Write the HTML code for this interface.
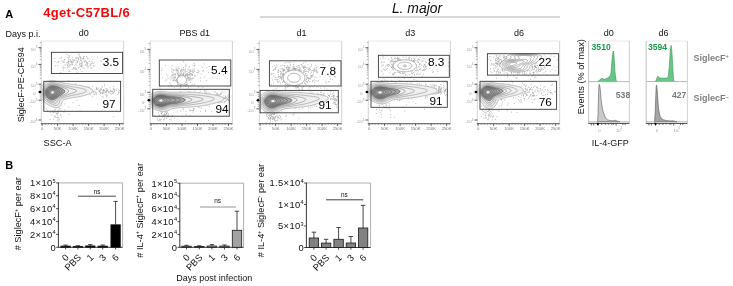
<!DOCTYPE html>
<html><head><meta charset="utf-8"><style>
html,body{margin:0;padding:0;background:#fff;width:733px;height:286px;overflow:hidden}
svg{display:block;will-change:transform}
text{font-family:"Liberation Sans",sans-serif}
</style></head><body>
<svg width="733" height="286" viewBox="0 0 733 286">
<text x="5.3" y="17.6" font-size="11" text-anchor="start" font-weight="bold" font-style="normal" fill="#000" >A</text>
<text x="43.3" y="16.6" font-size="13" text-anchor="start" font-weight="bold" font-style="normal" fill="#f50a0a" letter-spacing="0.3">4get-C57BL/6</text>
<text x="391.9" y="13.2" font-size="13.9" text-anchor="start" font-weight="normal" font-style="italic" fill="#111" >L. major</text>
<line x1="260" y1="17" x2="560" y2="17" stroke="#b0b0b0" stroke-width="1" />
<text x="5.5" y="36.5" font-size="9" text-anchor="start" font-weight="normal" font-style="normal" fill="#111" >Days p.i.</text>
<text x="83.7" y="36.3" font-size="9" text-anchor="middle" font-weight="normal" font-style="normal" fill="#111" >d0</text>
<text x="194.7" y="36.3" font-size="9" text-anchor="middle" font-weight="normal" font-style="normal" fill="#111" >PBS d1</text>
<text x="301.5" y="36.3" font-size="9" text-anchor="middle" font-weight="normal" font-style="normal" fill="#111" >d1</text>
<text x="410.3" y="36.3" font-size="9" text-anchor="middle" font-weight="normal" font-style="normal" fill="#111" >d3</text>
<text x="519.1" y="36.3" font-size="9" text-anchor="middle" font-weight="normal" font-style="normal" fill="#111" >d6</text>
<text x="608.8" y="36.3" font-size="9" text-anchor="middle" font-weight="normal" font-style="normal" fill="#111" >d0</text>
<text x="663.5" y="36.3" font-size="9" text-anchor="middle" font-weight="normal" font-style="normal" fill="#111" >d6</text>
<line x1="41.3" y1="41" x2="123.7" y2="41" stroke="#e4e4e4" stroke-width="0.9" />
<line x1="123.7" y1="41" x2="123.7" y2="123.7" stroke="#cccccc" stroke-width="0.9" />
<path d="M41.30,87.40 L41.51,87.00 L41.66,86.75 L41.81,86.50 L42.05,86.14 L42.30,85.78 L42.51,85.50 L42.71,85.25 L42.92,85.00 L43.14,84.75 L43.38,84.50 L43.62,84.25 L43.89,84.00 L44.16,83.75 L44.46,83.50 L44.77,83.25 L45.05,83.04 L45.30,82.86 L45.55,82.69 L45.86,82.50 L46.29,82.25 L46.55,82.11 L46.80,81.98 L47.30,81.75 L47.80,81.54 L48.05,81.45 L48.55,81.28 L48.80,81.21 L49.30,81.08 L49.69,81.00 L50.05,80.93 L50.55,80.86 L51.05,80.81 L51.55,80.78 L52.05,80.76 L52.55,80.77 L53.05,80.79 L53.55,80.83 L54.05,80.89 L54.55,80.97 L54.80,81.01 L55.30,81.10 L55.80,81.20 L56.05,81.26 L56.55,81.37 L57.05,81.49 L57.30,81.55 L57.80,81.67 L58.09,81.75 L58.55,81.86 L59.05,81.99 L59.30,82.05 L59.80,82.17 L60.11,82.25 L60.55,82.35 L61.05,82.47 L61.30,82.52 L61.80,82.63 L62.30,82.74 L62.55,82.79 L63.05,82.89 L63.55,83.00 L63.80,83.05 L64.30,83.14 L64.80,83.24 L65.05,83.29 L65.55,83.38 L66.05,83.48 L66.30,83.52 L66.80,83.61 L67.30,83.70 L67.59,83.75 L68.05,83.82 L68.55,83.90 L69.05,83.97 L69.30,84.01 L69.80,84.08 L70.30,84.14 L70.80,84.20 L71.16,84.25 L71.55,84.29 L72.05,84.35 L72.55,84.40 L73.05,84.46 L73.39,84.50 L73.80,84.54 L74.30,84.60 L74.80,84.66 L75.30,84.72 L75.56,84.75 L76.05,84.81 L76.55,84.87 L77.05,84.94 L77.42,85.00 L77.80,85.05 L78.30,85.13 L78.80,85.21 L79.05,85.26 L79.55,85.34 L80.05,85.43 L80.41,85.50 L80.80,85.57 L81.30,85.67 L81.67,85.75 L82.05,85.83 L82.55,85.93 L82.84,86.00 L83.30,86.10 L83.80,86.22 L84.05,86.28 L84.55,86.40 L84.96,86.50 L85.30,86.58 L85.80,86.71 L86.05,86.78 L86.55,86.92 L86.83,87.00 L87.30,87.14 L87.67,87.25 L88.05,87.37 L88.43,87.50 L88.80,87.63 L89.12,87.75 L89.55,87.92 L89.80,88.02 L90.30,88.25 L90.55,88.37 L90.80,88.50 L91.23,88.75 L91.55,88.96 L91.80,89.15 L92.05,89.36 L92.30,89.61 L92.55,89.94 L92.72,90.25 L92.80,90.50 L92.84,91.00 L92.79,91.25 L92.55,91.75 L92.37,92.00 L92.14,92.25 L91.87,92.50 L91.55,92.74 L91.30,92.91 L91.05,93.07 L90.74,93.25 L90.30,93.48 L90.05,93.60 L89.72,93.75 L89.30,93.93 L89.05,94.03 L88.55,94.22 L88.30,94.31 L87.80,94.49 L87.55,94.57 L87.05,94.74 L86.80,94.82 L86.30,94.97 L86.05,95.04 L85.55,95.19 L85.30,95.26 L84.80,95.40 L84.43,95.50 L84.05,95.60 L83.55,95.73 L83.30,95.80 L82.80,95.92 L82.47,96.00 L82.05,96.10 L81.55,96.21 L81.30,96.27 L80.80,96.38 L80.30,96.48 L80.05,96.53 L79.55,96.63 L79.05,96.72 L78.80,96.77 L78.30,96.85 L77.80,96.94 L77.39,97.00 L77.05,97.05 L76.55,97.13 L76.05,97.20 L75.69,97.25 L75.30,97.31 L74.80,97.37 L74.30,97.44 L73.85,97.50 L73.55,97.54 L73.05,97.61 L72.55,97.68 L72.09,97.75 L71.80,97.80 L71.30,97.88 L70.80,97.96 L70.55,98.01 L70.05,98.10 L69.55,98.20 L69.30,98.25 L68.80,98.37 L68.30,98.48 L68.05,98.54 L67.55,98.67 L67.24,98.75 L66.80,98.87 L66.34,99.00 L66.05,99.09 L65.55,99.24 L65.30,99.33 L64.82,99.50 L64.55,99.61 L64.21,99.75 L63.80,99.95 L63.55,100.09 L63.29,100.25 L62.96,100.50 L62.69,100.75 L62.48,101.00 L62.30,101.25 L62.06,101.75 L61.97,102.00 L61.83,102.50 L61.77,102.75 L61.67,103.25 L61.55,103.75 L61.49,104.00 L61.32,104.50 L61.22,104.75 L61.05,105.09 L60.81,105.50 L60.63,105.75 L60.42,106.00 L60.18,106.25 L59.89,106.50 L59.55,106.75 L59.30,106.90 L59.05,107.04 L58.56,107.25 L58.30,107.34 L57.80,107.48 L57.55,107.53 L57.05,107.60 L56.55,107.63 L56.05,107.63 L55.55,107.59 L55.05,107.52 L54.80,107.47 L54.30,107.36 L53.92,107.25 L53.55,107.14 L53.17,107.00 L52.80,106.86 L52.54,106.75 L52.05,106.54 L51.80,106.42 L51.44,106.25 L51.05,106.06 L50.80,105.94 L50.43,105.75 L50.05,105.56 L49.80,105.44 L49.43,105.25 L49.05,105.06 L48.80,104.93 L48.44,104.75 L48.05,104.55 L47.80,104.42 L47.50,104.25 L47.06,104.00 L46.80,103.85 L46.55,103.69 L46.25,103.50 L45.88,103.25 L45.55,103.01 L45.30,102.83 L45.05,102.63 L44.80,102.42 L44.55,102.20 L44.30,101.96 L44.05,101.72 L43.80,101.46 L43.55,101.19 L43.30,100.90 L43.05,100.59 L42.80,100.26 L42.61,100.00 L42.44,99.75 L42.28,99.50 L42.05,99.13 L41.83,98.75 L41.69,98.50 L41.55,98.22 L41.32,97.75Z" fill="#000" fill-opacity="0.06" stroke="none"/><path d="M53.30,100.01 L52.80,100.06 L52.30,100.07 L51.80,100.03 L51.55,100.00 L51.05,99.91 L50.55,99.79 L50.30,99.72 L49.80,99.54 L49.55,99.44 L49.15,99.25 L48.80,99.07 L48.55,98.92 L48.29,98.75 L47.95,98.50 L47.64,98.25 L47.36,98.00 L47.11,97.75 L46.88,97.50 L46.67,97.25 L46.47,97.00 L46.14,96.50 L45.99,96.25 L45.80,95.89 L45.62,95.50 L45.52,95.25 L45.35,94.75 L45.27,94.50 L45.16,94.00 L45.08,93.50 L45.05,93.25 L45.02,92.75 L45.03,92.25 L45.05,91.92 L45.10,91.50 L45.20,91.00 L45.30,90.61 L45.42,90.25 L45.55,89.91 L45.73,89.50 L45.86,89.25 L46.05,88.93 L46.30,88.55 L46.53,88.25 L46.73,88.00 L46.96,87.75 L47.22,87.50 L47.50,87.25 L47.80,87.01 L48.05,86.83 L48.30,86.66 L48.57,86.50 L49.04,86.25 L49.30,86.13 L49.63,86.00 L50.05,85.85 L50.42,85.75 L50.80,85.66 L51.30,85.57 L51.80,85.51 L52.05,85.50 L52.55,85.48 L53.05,85.49 L53.30,85.51 L53.80,85.55 L54.30,85.62 L54.80,85.71 L55.05,85.76 L55.55,85.88 L56.03,86.00 L56.30,86.07 L56.80,86.22 L57.05,86.30 L57.55,86.46 L57.80,86.55 L58.30,86.73 L58.55,86.81 L59.05,87.00 L59.30,87.09 L59.70,87.25 L60.05,87.39 L60.33,87.50 L60.80,87.69 L61.05,87.80 L61.50,88.00 L61.80,88.14 L62.05,88.26 L62.54,88.50 L62.80,88.64 L63.05,88.78 L63.43,89.00 L63.80,89.24 L64.05,89.43 L64.30,89.63 L64.55,89.86 L64.80,90.13 L65.05,90.48 L65.18,90.75 L65.27,91.25 L65.18,91.75 L65.05,92.04 L64.80,92.42 L64.55,92.72 L64.30,92.97 L64.05,93.20 L63.80,93.40 L63.55,93.60 L63.30,93.78 L63.00,94.00 L62.62,94.25 L62.30,94.46 L62.05,94.62 L61.80,94.78 L61.45,95.00 L61.05,95.25 L60.80,95.41 L60.55,95.57 L60.27,95.75 L59.89,96.00 L59.55,96.23 L59.30,96.40 L59.05,96.58 L58.80,96.75 L58.46,97.00 L58.12,97.25 L57.80,97.49 L57.55,97.68 L57.30,97.87 L57.05,98.06 L56.80,98.25 L56.46,98.50 L56.12,98.75 L55.80,98.97 L55.55,99.14 L55.30,99.29 L54.91,99.50 L54.55,99.67 L54.30,99.77 L53.80,99.92 L53.39,100.00Z M52.55,93.54 L52.05,93.52 L51.80,93.42 L51.54,93.25 L51.30,92.92 L51.20,92.50 L51.30,92.03 L51.48,91.75 L51.76,91.50 L52.05,91.36 L52.55,91.27 L53.05,91.35 L53.35,91.50 L53.61,91.75 L53.80,92.25 L53.68,92.75 L53.52,93.00 L53.25,93.25 L52.80,93.48 L52.55,93.54Z" fill="#000" fill-opacity="0.3" fill-rule="evenodd" stroke="none"/><path d="M52.30,94.75 L52.05,94.75 L51.55,94.66 L51.15,94.50 L50.80,94.29 L50.55,94.06 L50.30,93.76 L50.16,93.50 L50.05,93.24 L49.95,92.75 L49.95,92.25 L50.05,91.84 L50.19,91.50 L50.34,91.25 L50.55,90.98 L50.80,90.74 L51.15,90.50 L51.55,90.31 L51.80,90.22 L52.30,90.13 L52.80,90.12 L53.30,90.18 L53.58,90.25 L54.05,90.44 L54.30,90.58 L54.80,90.98 L55.01,91.25 L55.14,91.50 L55.27,92.00 L55.24,92.50 L55.06,93.00 L54.91,93.25 L54.73,93.50 L54.51,93.75 L54.23,94.00 L53.88,94.25 L53.55,94.43 L53.30,94.54 L52.80,94.69 L52.34,94.75Z M53.05,95.76 L52.55,95.85 L52.05,95.87 L51.55,95.83 L51.20,95.75 L50.80,95.61 L50.55,95.49 L50.16,95.25 L49.85,95.00 L49.61,94.75 L49.42,94.50 L49.25,94.25 L49.05,93.83 L48.93,93.50 L48.83,93.00 L48.80,92.50 L48.85,92.00 L48.98,91.50 L49.07,91.25 L49.30,90.81 L49.52,90.50 L49.73,90.25 L49.99,90.00 L50.30,89.76 L50.55,89.61 L50.80,89.47 L51.30,89.27 L51.55,89.20 L52.05,89.10 L52.55,89.06 L53.05,89.07 L53.55,89.14 L54.05,89.25 L54.55,89.42 L54.80,89.52 L55.24,89.75 L55.55,89.95 L55.80,90.14 L56.05,90.36 L56.30,90.64 L56.54,91.00 L56.66,91.25 L56.78,91.75 L56.77,92.25 L56.64,92.75 L56.53,93.00 L56.30,93.41 L56.06,93.75 L55.85,94.00 L55.62,94.25 L55.35,94.50 L55.06,94.75 L54.80,94.94 L54.55,95.11 L54.30,95.26 L53.82,95.50 L53.55,95.61 L53.09,95.75Z M52.80,96.76 L52.30,96.82 L51.80,96.82 L51.30,96.76 L51.05,96.70 L50.55,96.55 L50.30,96.44 L49.94,96.25 L49.57,96.00 L49.30,95.78 L49.05,95.54 L48.80,95.25 L48.62,95.00 L48.46,94.75 L48.30,94.45 L48.11,94.00 L48.04,93.75 L47.93,93.25 L47.88,92.75 L47.89,92.25 L47.96,91.75 L48.05,91.38 L48.18,91.00 L48.30,90.74 L48.55,90.29 L48.75,90.00 L48.96,89.75 L49.20,89.50 L49.49,89.25 L49.80,89.02 L50.05,88.87 L50.30,88.73 L50.80,88.51 L51.05,88.43 L51.55,88.30 L51.85,88.25 L52.30,88.20 L52.80,88.19 L53.30,88.22 L53.80,88.29 L54.30,88.39 L54.68,88.50 L55.05,88.62 L55.38,88.75 L55.80,88.94 L56.05,89.07 L56.37,89.25 L56.76,89.50 L57.05,89.72 L57.30,89.94 L57.55,90.19 L57.80,90.50 L57.96,90.75 L58.08,91.00 L58.22,91.50 L58.22,92.00 L58.11,92.50 L58.02,92.75 L57.80,93.17 L57.59,93.50 L57.41,93.75 L57.20,94.00 L56.98,94.25 L56.74,94.50 L56.48,94.75 L56.20,95.00 L55.90,95.25 L55.58,95.50 L55.30,95.70 L55.05,95.86 L54.80,96.01 L54.35,96.25 L54.05,96.39 L53.77,96.50 L53.30,96.65 L52.87,96.75Z M52.30,97.76 L51.80,97.76 L51.55,97.74 L51.05,97.66 L50.55,97.53 L50.30,97.44 L49.85,97.25 L49.55,97.09 L49.30,96.93 L49.04,96.75 L48.74,96.50 L48.48,96.25 L48.25,96.00 L48.05,95.75 L47.80,95.39 L47.58,95.00 L47.46,94.75 L47.30,94.36 L47.19,94.00 L47.07,93.50 L47.03,93.25 L47.00,92.75 L47.00,92.25 L47.05,91.84 L47.11,91.50 L47.25,91.00 L47.34,90.75 L47.55,90.28 L47.70,90.00 L47.86,89.75 L48.05,89.49 L48.30,89.19 L48.55,88.93 L48.80,88.70 L49.05,88.50 L49.42,88.25 L49.80,88.03 L50.05,87.91 L50.43,87.75 L50.80,87.62 L51.29,87.50 L51.55,87.45 L52.05,87.39 L52.55,87.36 L53.05,87.37 L53.55,87.41 L54.05,87.48 L54.30,87.53 L54.80,87.65 L55.17,87.75 L55.55,87.87 L55.91,88.00 L56.30,88.16 L56.55,88.26 L57.05,88.50 L57.30,88.63 L57.55,88.77 L57.93,89.00 L58.30,89.25 L58.63,89.50 L58.92,89.75 L59.17,90.00 L59.39,90.25 L59.56,90.50 L59.80,90.99 L59.87,91.25 L59.89,91.75 L59.80,92.21 L59.69,92.50 L59.55,92.78 L59.30,93.18 L59.06,93.50 L58.86,93.75 L58.63,94.00 L58.39,94.25 L58.14,94.50 L57.88,94.75 L57.60,95.00 L57.32,95.25 L57.05,95.47 L56.80,95.68 L56.55,95.87 L56.30,96.06 L56.04,96.25 L55.67,96.50 L55.30,96.74 L55.05,96.88 L54.80,97.02 L54.32,97.25 L54.05,97.37 L53.66,97.50 L53.30,97.61 L52.80,97.71 L52.37,97.75Z M53.55,98.56 L53.05,98.67 L52.55,98.73 L52.05,98.75 L51.55,98.72 L51.05,98.65 L50.55,98.53 L50.30,98.45 L49.80,98.26 L49.55,98.15 L49.27,98.00 L48.86,97.75 L48.55,97.53 L48.30,97.33 L48.05,97.11 L47.80,96.86 L47.55,96.57 L47.30,96.25 L47.13,96.00 L46.97,95.75 L46.80,95.44 L46.60,95.00 L46.50,94.75 L46.34,94.25 L46.27,94.00 L46.18,93.50 L46.12,93.00 L46.11,92.50 L46.14,92.00 L46.21,91.50 L46.30,91.10 L46.40,90.75 L46.55,90.34 L46.70,90.00 L46.83,89.75 L47.05,89.38 L47.30,89.02 L47.52,88.75 L47.74,88.50 L48.00,88.25 L48.28,88.00 L48.55,87.79 L48.80,87.62 L49.05,87.46 L49.43,87.25 L49.80,87.08 L50.05,86.98 L50.55,86.81 L50.80,86.74 L51.30,86.63 L51.80,86.56 L52.30,86.53 L52.80,86.52 L53.30,86.55 L53.80,86.60 L54.30,86.67 L54.69,86.75 L55.05,86.83 L55.55,86.96 L55.80,87.04 L56.30,87.20 L56.55,87.28 L57.05,87.47 L57.30,87.57 L57.73,87.75 L58.05,87.89 L58.30,88.01 L58.80,88.25 L59.05,88.38 L59.30,88.52 L59.71,88.75 L60.05,88.96 L60.30,89.13 L60.55,89.30 L60.81,89.50 L61.10,89.75 L61.34,90.00 L61.55,90.25 L61.80,90.66 L61.93,91.00 L61.98,91.50 L61.89,92.00 L61.79,92.25 L61.55,92.66 L61.30,93.00 L61.09,93.25 L60.85,93.50 L60.60,93.75 L60.32,94.00 L60.05,94.24 L59.80,94.45 L59.55,94.66 L59.30,94.87 L59.05,95.07 L58.80,95.27 L58.51,95.50 L58.20,95.75 L57.87,96.00 L57.55,96.25 L57.30,96.44 L57.05,96.63 L56.80,96.81 L56.54,97.00 L56.18,97.25 L55.80,97.50 L55.39,97.75 L55.05,97.95 L54.80,98.08 L54.42,98.25 L54.05,98.40 L53.75,98.50Z M53.05,99.79 L52.55,99.82 L52.05,99.81 L51.55,99.77 L51.30,99.73 L50.80,99.63 L50.34,99.50 L50.05,99.41 L49.65,99.25 L49.30,99.09 L49.05,98.97 L48.67,98.75 L48.30,98.51 L48.05,98.33 L47.80,98.13 L47.55,97.91 L47.30,97.67 L47.05,97.40 L46.80,97.10 L46.55,96.77 L46.37,96.50 L46.22,96.25 L46.05,95.95 L45.83,95.50 L45.73,95.25 L45.55,94.75 L45.47,94.50 L45.35,94.00 L45.30,93.70 L45.24,93.25 L45.21,92.75 L45.22,92.25 L45.26,91.75 L45.30,91.49 L45.40,91.00 L45.54,90.50 L45.62,90.25 L45.80,89.82 L45.95,89.50 L46.08,89.25 L46.30,88.90 L46.55,88.54 L46.77,88.25 L46.99,88.00 L47.23,87.75 L47.50,87.50 L47.80,87.25 L48.05,87.06 L48.30,86.89 L48.55,86.73 L48.97,86.50 L49.30,86.34 L49.55,86.23 L50.05,86.05 L50.30,85.98 L50.80,85.85 L51.30,85.76 L51.55,85.73 L52.05,85.68 L52.55,85.67 L53.05,85.68 L53.55,85.71 L53.88,85.75 L54.30,85.81 L54.80,85.90 L55.27,86.00 L55.55,86.07 L56.05,86.20 L56.30,86.27 L56.80,86.42 L57.05,86.50 L57.55,86.67 L57.80,86.76 L58.30,86.94 L58.55,87.04 L59.05,87.23 L59.30,87.33 L59.72,87.50 L60.05,87.64 L60.32,87.75 L60.80,87.96 L61.05,88.08 L61.41,88.25 L61.80,88.45 L62.05,88.58 L62.36,88.75 L62.78,89.00 L63.05,89.18 L63.30,89.35 L63.55,89.55 L63.80,89.76 L64.05,90.01 L64.30,90.34 L64.52,90.75 L64.59,91.00 L64.60,91.50 L64.54,91.75 L64.31,92.25 L64.13,92.50 L63.93,92.75 L63.69,93.00 L63.42,93.25 L63.12,93.50 L62.80,93.75 L62.55,93.94 L62.30,94.12 L62.05,94.29 L61.75,94.50 L61.37,94.75 L61.05,94.96 L60.80,95.13 L60.55,95.29 L60.24,95.50 L59.87,95.75 L59.55,95.97 L59.30,96.14 L59.05,96.32 L58.80,96.50 L58.45,96.75 L58.11,97.00 L57.80,97.23 L57.55,97.42 L57.30,97.61 L57.05,97.80 L56.77,98.00 L56.43,98.25 L56.08,98.50 L55.80,98.69 L55.55,98.85 L55.30,99.00 L54.84,99.25 L54.55,99.38 L54.25,99.50 L53.80,99.65 L53.30,99.75Z" fill="none" stroke="#404040" stroke-width="0.5"/><path d="M54.55,101.01 L54.05,101.13 L53.55,101.19 L53.05,101.19 L52.55,101.16 L52.05,101.09 L51.56,101.00 L51.30,100.94 L50.80,100.82 L50.55,100.74 L50.05,100.58 L49.80,100.48 L49.30,100.27 L49.05,100.16 L48.75,100.00 L48.31,99.75 L48.05,99.59 L47.80,99.42 L47.55,99.24 L47.25,99.00 L46.97,98.75 L46.70,98.50 L46.46,98.25 L46.24,98.00 L46.04,97.75 L45.80,97.43 L45.55,97.06 L45.36,96.75 L45.22,96.50 L45.05,96.16 L44.87,95.75 L44.77,95.50 L44.60,95.00 L44.52,94.75 L44.40,94.25 L44.31,93.75 L44.28,93.50 L44.23,93.00 L44.22,92.50 L44.24,92.00 L44.30,91.50 L44.34,91.25 L44.44,90.75 L44.55,90.35 L44.66,90.00 L44.80,89.64 L44.97,89.25 L45.10,89.00 L45.30,88.64 L45.55,88.25 L45.72,88.00 L45.92,87.75 L46.13,87.50 L46.35,87.25 L46.60,87.00 L46.87,86.75 L47.18,86.50 L47.51,86.25 L47.80,86.05 L48.05,85.90 L48.31,85.75 L48.80,85.50 L49.05,85.39 L49.42,85.25 L49.80,85.12 L50.24,85.00 L50.55,84.92 L51.05,84.83 L51.55,84.77 L51.81,84.75 L52.30,84.73 L52.80,84.73 L53.25,84.75 L53.55,84.77 L54.05,84.83 L54.55,84.90 L55.05,84.99 L55.30,85.04 L55.80,85.16 L56.17,85.25 L56.55,85.35 L57.05,85.49 L57.30,85.56 L57.80,85.71 L58.05,85.79 L58.55,85.95 L58.80,86.03 L59.30,86.19 L59.55,86.27 L60.05,86.44 L60.30,86.52 L60.80,86.69 L61.05,86.77 L61.55,86.94 L61.80,87.03 L62.30,87.21 L62.55,87.30 L63.05,87.49 L63.30,87.59 L63.72,87.75 L64.05,87.88 L64.33,88.00 L64.80,88.21 L65.05,88.32 L65.44,88.50 L65.80,88.68 L66.05,88.81 L66.42,89.00 L66.80,89.22 L67.05,89.38 L67.30,89.55 L67.58,89.75 L67.88,90.00 L68.12,90.25 L68.43,90.75 L68.49,91.25 L68.31,91.75 L68.14,92.00 L67.92,92.25 L67.66,92.50 L67.36,92.75 L67.05,92.98 L66.80,93.16 L66.55,93.33 L66.28,93.50 L65.87,93.75 L65.55,93.94 L65.30,94.08 L65.00,94.25 L64.55,94.49 L64.30,94.63 L64.05,94.76 L63.59,95.00 L63.30,95.15 L63.05,95.28 L62.61,95.50 L62.30,95.66 L62.05,95.79 L61.66,96.00 L61.30,96.20 L61.05,96.34 L60.77,96.50 L60.35,96.75 L60.05,96.94 L59.80,97.10 L59.55,97.26 L59.21,97.50 L58.87,97.75 L58.55,97.99 L58.30,98.19 L58.05,98.40 L57.80,98.61 L57.55,98.82 L57.30,99.04 L57.05,99.27 L56.79,99.50 L56.51,99.75 L56.23,100.00 L55.92,100.25 L55.58,100.50 L55.30,100.68 L55.05,100.81 L54.59,101.00Z" fill="none" stroke="#555" stroke-width="0.5"/><path d="M55.55,103.05 L55.05,103.12 L54.55,103.11 L54.05,103.05 L53.79,103.00 L53.30,102.89 L52.81,102.75 L52.55,102.67 L52.05,102.52 L51.80,102.44 L51.30,102.26 L51.05,102.18 L50.56,102.00 L50.30,101.90 L49.92,101.75 L49.55,101.60 L49.30,101.48 L48.81,101.25 L48.55,101.12 L48.30,100.98 L47.90,100.75 L47.55,100.53 L47.30,100.36 L47.05,100.17 L46.80,99.98 L46.53,99.75 L46.25,99.50 L46.00,99.25 L45.76,99.00 L45.54,98.75 L45.30,98.46 L45.05,98.13 L44.80,97.76 L44.63,97.50 L44.49,97.25 L44.30,96.90 L44.10,96.50 L43.99,96.25 L43.80,95.77 L43.70,95.50 L43.55,95.00 L43.49,94.75 L43.38,94.25 L43.30,93.76 L43.27,93.50 L43.23,93.00 L43.21,92.50 L43.23,92.00 L43.28,91.50 L43.31,91.25 L43.40,90.75 L43.52,90.25 L43.60,90.00 L43.77,89.50 L43.87,89.25 L44.05,88.84 L44.22,88.50 L44.36,88.25 L44.55,87.94 L44.80,87.57 L45.04,87.25 L45.24,87.00 L45.45,86.75 L45.69,86.50 L45.94,86.25 L46.22,86.00 L46.52,85.75 L46.80,85.53 L47.05,85.36 L47.30,85.19 L47.62,85.00 L48.05,84.77 L48.30,84.64 L48.63,84.50 L49.05,84.33 L49.30,84.25 L49.80,84.09 L50.19,84.00 L50.55,83.92 L51.05,83.84 L51.55,83.79 L52.05,83.76 L52.55,83.76 L53.05,83.77 L53.55,83.81 L54.05,83.86 L54.55,83.94 L54.92,84.00 L55.30,84.07 L55.80,84.18 L56.11,84.25 L56.55,84.36 L57.05,84.49 L57.30,84.55 L57.80,84.69 L58.05,84.76 L58.55,84.90 L58.90,85.00 L59.30,85.11 L59.77,85.25 L60.05,85.33 L60.55,85.47 L60.80,85.54 L61.30,85.68 L61.55,85.76 L62.05,85.90 L62.41,86.00 L62.80,86.11 L63.27,86.25 L63.55,86.33 L64.05,86.48 L64.30,86.55 L64.80,86.70 L65.05,86.78 L65.55,86.93 L65.80,87.01 L66.30,87.16 L66.59,87.25 L67.05,87.39 L67.41,87.50 L67.80,87.62 L68.24,87.75 L68.55,87.84 L69.05,87.99 L69.30,88.06 L69.80,88.21 L70.05,88.28 L70.55,88.42 L70.85,88.50 L71.30,88.63 L71.76,88.75 L72.05,88.83 L72.55,88.97 L72.80,89.04 L73.30,89.19 L73.55,89.26 L74.05,89.42 L74.55,89.59 L75.00,89.75 L75.30,89.88 L75.59,90.00 L76.05,90.25 L76.30,90.43 L76.55,90.71 L76.63,91.00 L76.54,91.25 L76.30,91.51 L75.96,91.75 L75.55,91.97 L75.30,92.08 L74.92,92.25 L74.55,92.39 L74.27,92.50 L73.80,92.66 L73.55,92.75 L73.05,92.91 L72.79,93.00 L72.30,93.15 L72.01,93.25 L71.55,93.39 L71.23,93.50 L70.80,93.64 L70.46,93.75 L70.05,93.89 L69.73,94.00 L69.30,94.15 L69.02,94.25 L68.55,94.42 L68.30,94.51 L67.80,94.70 L67.55,94.80 L67.05,94.99 L66.80,95.09 L66.39,95.25 L66.05,95.38 L65.76,95.50 L65.30,95.69 L65.05,95.79 L64.55,95.99 L64.30,96.09 L63.92,96.25 L63.55,96.41 L63.30,96.51 L62.80,96.73 L62.55,96.85 L62.23,97.00 L61.80,97.21 L61.55,97.34 L61.25,97.50 L60.82,97.75 L60.55,97.92 L60.30,98.08 L60.05,98.25 L59.71,98.50 L59.41,98.75 L59.13,99.00 L58.87,99.25 L58.63,99.50 L58.42,99.75 L58.22,100.00 L58.04,100.25 L57.80,100.61 L57.56,101.00 L57.42,101.25 L57.28,101.50 L57.05,101.87 L56.80,102.22 L56.55,102.49 L56.30,102.70 L56.05,102.86 L55.70,103.00Z" fill="none" stroke="#666" stroke-width="0.5"/><path d="M56.55,105.28 L56.05,105.34 L55.55,105.34 L55.05,105.28 L54.80,105.24 L54.30,105.12 L53.91,105.00 L53.55,104.88 L53.23,104.75 L52.80,104.57 L52.55,104.46 L52.08,104.25 L51.80,104.12 L51.54,104.00 L51.05,103.77 L50.80,103.66 L50.47,103.50 L50.05,103.31 L49.80,103.19 L49.39,103.00 L49.05,102.84 L48.80,102.71 L48.39,102.50 L48.05,102.32 L47.80,102.18 L47.51,102.00 L47.11,101.75 L46.80,101.54 L46.55,101.36 L46.30,101.17 L46.05,100.97 L45.79,100.75 L45.51,100.50 L45.26,100.25 L45.02,100.00 L44.79,99.75 L44.55,99.47 L44.30,99.15 L44.05,98.81 L43.84,98.50 L43.68,98.25 L43.53,98.00 L43.30,97.58 L43.13,97.25 L43.01,97.00 L42.80,96.50 L42.70,96.25 L42.55,95.82 L42.45,95.50 L42.31,95.00 L42.25,94.75 L42.15,94.25 L42.08,93.75 L42.05,93.49 L42.01,93.00 L42.00,92.50 L42.01,92.00 L42.05,91.50 L42.08,91.25 L42.15,90.75 L42.26,90.25 L42.32,90.00 L42.47,89.50 L42.56,89.25 L42.76,88.75 L42.87,88.50 L43.05,88.13 L43.25,87.75 L43.40,87.50 L43.56,87.25 L43.80,86.89 L44.05,86.56 L44.30,86.25 L44.52,86.00 L44.75,85.75 L44.99,85.50 L45.26,85.25 L45.55,85.00 L45.80,84.79 L46.05,84.60 L46.30,84.42 L46.56,84.25 L46.96,84.00 L47.30,83.81 L47.55,83.68 L47.93,83.50 L48.30,83.34 L48.55,83.25 L49.05,83.07 L49.55,82.93 L50.05,82.81 L50.40,82.75 L50.80,82.69 L51.30,82.63 L51.80,82.60 L52.30,82.59 L52.80,82.60 L53.30,82.63 L53.80,82.67 L54.30,82.74 L54.55,82.77 L55.05,82.86 L55.55,82.96 L55.80,83.01 L56.30,83.12 L56.80,83.24 L57.05,83.30 L57.55,83.43 L57.82,83.50 L58.30,83.62 L58.78,83.75 L59.05,83.82 L59.55,83.95 L59.80,84.02 L60.30,84.14 L60.72,84.25 L61.05,84.33 L61.55,84.45 L61.80,84.52 L62.30,84.63 L62.77,84.75 L63.05,84.82 L63.55,84.94 L63.81,85.00 L64.30,85.11 L64.80,85.23 L65.05,85.29 L65.55,85.41 L65.93,85.50 L66.30,85.58 L66.80,85.70 L67.05,85.75 L67.55,85.86 L68.05,85.97 L68.30,86.02 L68.80,86.12 L69.30,86.21 L69.55,86.26 L70.05,86.35 L70.55,86.43 L70.94,86.50 L71.30,86.56 L71.80,86.64 L72.30,86.71 L72.55,86.75 L73.05,86.83 L73.55,86.90 L74.05,86.98 L74.30,87.02 L74.80,87.10 L75.30,87.18 L75.73,87.25 L76.05,87.30 L76.55,87.39 L77.05,87.48 L77.30,87.52 L77.80,87.62 L78.30,87.71 L78.55,87.76 L79.05,87.86 L79.55,87.97 L79.80,88.02 L80.30,88.13 L80.80,88.24 L81.05,88.30 L81.55,88.42 L81.89,88.50 L82.30,88.61 L82.80,88.74 L83.05,88.81 L83.55,88.97 L83.80,89.05 L84.30,89.23 L84.55,89.33 L84.94,89.50 L85.30,89.69 L85.55,89.85 L85.80,90.03 L86.05,90.27 L86.29,90.75 L86.19,91.25 L86.01,91.50 L85.75,91.75 L85.39,92.00 L85.05,92.19 L84.80,92.31 L84.38,92.50 L84.05,92.63 L83.73,92.75 L83.30,92.90 L82.99,93.00 L82.55,93.13 L82.16,93.25 L81.80,93.35 L81.30,93.49 L81.05,93.55 L80.55,93.68 L80.28,93.75 L79.80,93.87 L79.30,93.99 L79.05,94.04 L78.55,94.16 L78.13,94.25 L77.80,94.32 L77.30,94.43 L76.93,94.50 L76.55,94.58 L76.05,94.67 L75.65,94.75 L75.30,94.82 L74.80,94.91 L74.30,95.00 L74.05,95.04 L73.55,95.13 L73.05,95.22 L72.80,95.27 L72.30,95.36 L71.80,95.46 L71.55,95.51 L71.05,95.61 L70.55,95.72 L70.30,95.78 L69.80,95.89 L69.37,96.00 L69.05,96.08 L68.55,96.22 L68.30,96.29 L67.80,96.43 L67.55,96.50 L67.05,96.65 L66.74,96.75 L66.30,96.89 L65.96,97.00 L65.55,97.14 L65.22,97.25 L64.80,97.40 L64.51,97.50 L64.05,97.67 L63.80,97.77 L63.30,97.97 L63.05,98.08 L62.67,98.25 L62.30,98.43 L62.05,98.56 L61.72,98.75 L61.34,99.00 L61.05,99.21 L60.80,99.42 L60.55,99.65 L60.30,99.93 L60.05,100.25 L59.90,100.50 L59.77,100.75 L59.56,101.25 L59.48,101.50 L59.34,102.00 L59.28,102.25 L59.14,102.75 L59.05,103.05 L58.88,103.50 L58.75,103.75 L58.55,104.07 L58.30,104.38 L58.05,104.61 L57.80,104.80 L57.44,105.00 L57.05,105.16 L56.72,105.25Z" fill="none" stroke="#777" stroke-width="0.5"/><path d="M41.30,87.40 L41.51,87.00 L41.66,86.75 L41.81,86.50 L42.05,86.14 L42.30,85.78 L42.51,85.50 L42.71,85.25 L42.92,85.00 L43.14,84.75 L43.38,84.50 L43.62,84.25 L43.89,84.00 L44.16,83.75 L44.46,83.50 L44.77,83.25 L45.05,83.04 L45.30,82.86 L45.55,82.69 L45.86,82.50 L46.29,82.25 L46.55,82.11 L46.80,81.98 L47.30,81.75 L47.80,81.54 L48.05,81.45 L48.55,81.28 L48.80,81.21 L49.30,81.08 L49.69,81.00 L50.05,80.93 L50.55,80.86 L51.05,80.81 L51.55,80.78 L52.05,80.76 L52.55,80.77 L53.05,80.79 L53.55,80.83 L54.05,80.89 L54.55,80.97 L54.80,81.01 L55.30,81.10 L55.80,81.20 L56.05,81.26 L56.55,81.37 L57.05,81.49 L57.30,81.55 L57.80,81.67 L58.09,81.75 L58.55,81.86 L59.05,81.99 L59.30,82.05 L59.80,82.17 L60.11,82.25 L60.55,82.35 L61.05,82.47 L61.30,82.52 L61.80,82.63 L62.30,82.74 L62.55,82.79 L63.05,82.89 L63.55,83.00 L63.80,83.05 L64.30,83.14 L64.80,83.24 L65.05,83.29 L65.55,83.38 L66.05,83.48 L66.30,83.52 L66.80,83.61 L67.30,83.70 L67.59,83.75 L68.05,83.82 L68.55,83.90 L69.05,83.97 L69.30,84.01 L69.80,84.08 L70.30,84.14 L70.80,84.20 L71.16,84.25 L71.55,84.29 L72.05,84.35 L72.55,84.40 L73.05,84.46 L73.39,84.50 L73.80,84.54 L74.30,84.60 L74.80,84.66 L75.30,84.72 L75.56,84.75 L76.05,84.81 L76.55,84.87 L77.05,84.94 L77.42,85.00 L77.80,85.05 L78.30,85.13 L78.80,85.21 L79.05,85.26 L79.55,85.34 L80.05,85.43 L80.41,85.50 L80.80,85.57 L81.30,85.67 L81.67,85.75 L82.05,85.83 L82.55,85.93 L82.84,86.00 L83.30,86.10 L83.80,86.22 L84.05,86.28 L84.55,86.40 L84.96,86.50 L85.30,86.58 L85.80,86.71 L86.05,86.78 L86.55,86.92 L86.83,87.00 L87.30,87.14 L87.67,87.25 L88.05,87.37 L88.43,87.50 L88.80,87.63 L89.12,87.75 L89.55,87.92 L89.80,88.02 L90.30,88.25 L90.55,88.37 L90.80,88.50 L91.23,88.75 L91.55,88.96 L91.80,89.15 L92.05,89.36 L92.30,89.61 L92.55,89.94 L92.72,90.25 L92.80,90.50 L92.84,91.00 L92.79,91.25 L92.55,91.75 L92.37,92.00 L92.14,92.25 L91.87,92.50 L91.55,92.74 L91.30,92.91 L91.05,93.07 L90.74,93.25 L90.30,93.48 L90.05,93.60 L89.72,93.75 L89.30,93.93 L89.05,94.03 L88.55,94.22 L88.30,94.31 L87.80,94.49 L87.55,94.57 L87.05,94.74 L86.80,94.82 L86.30,94.97 L86.05,95.04 L85.55,95.19 L85.30,95.26 L84.80,95.40 L84.43,95.50 L84.05,95.60 L83.55,95.73 L83.30,95.80 L82.80,95.92 L82.47,96.00 L82.05,96.10 L81.55,96.21 L81.30,96.27 L80.80,96.38 L80.30,96.48 L80.05,96.53 L79.55,96.63 L79.05,96.72 L78.80,96.77 L78.30,96.85 L77.80,96.94 L77.39,97.00 L77.05,97.05 L76.55,97.13 L76.05,97.20 L75.69,97.25 L75.30,97.31 L74.80,97.37 L74.30,97.44 L73.85,97.50 L73.55,97.54 L73.05,97.61 L72.55,97.68 L72.09,97.75 L71.80,97.80 L71.30,97.88 L70.80,97.96 L70.55,98.01 L70.05,98.10 L69.55,98.20 L69.30,98.25 L68.80,98.37 L68.30,98.48 L68.05,98.54 L67.55,98.67 L67.24,98.75 L66.80,98.87 L66.34,99.00 L66.05,99.09 L65.55,99.24 L65.30,99.33 L64.82,99.50 L64.55,99.61 L64.21,99.75 L63.80,99.95 L63.55,100.09 L63.29,100.25 L62.96,100.50 L62.69,100.75 L62.48,101.00 L62.30,101.25 L62.06,101.75 L61.97,102.00 L61.83,102.50 L61.77,102.75 L61.67,103.25 L61.55,103.75 L61.49,104.00 L61.32,104.50 L61.22,104.75 L61.05,105.09 L60.81,105.50 L60.63,105.75 L60.42,106.00 L60.18,106.25 L59.89,106.50 L59.55,106.75 L59.30,106.90 L59.05,107.04 L58.56,107.25 L58.30,107.34 L57.80,107.48 L57.55,107.53 L57.05,107.60 L56.55,107.63 L56.05,107.63 L55.55,107.59 L55.05,107.52 L54.80,107.47 L54.30,107.36 L53.92,107.25 L53.55,107.14 L53.17,107.00 L52.80,106.86 L52.54,106.75 L52.05,106.54 L51.80,106.42 L51.44,106.25 L51.05,106.06 L50.80,105.94 L50.43,105.75 L50.05,105.56 L49.80,105.44 L49.43,105.25 L49.05,105.06 L48.80,104.93 L48.44,104.75 L48.05,104.55 L47.80,104.42 L47.50,104.25 L47.06,104.00 L46.80,103.85 L46.55,103.69 L46.25,103.50 L45.88,103.25 L45.55,103.01 L45.30,102.83 L45.05,102.63 L44.80,102.42 L44.55,102.20 L44.30,101.96 L44.05,101.72 L43.80,101.46 L43.55,101.19 L43.30,100.90 L43.05,100.59 L42.80,100.26 L42.61,100.00 L42.44,99.75 L42.28,99.50 L42.05,99.13 L41.83,98.75 L41.69,98.50 L41.55,98.22 L41.32,97.75" fill="none" stroke="#7a7a7a" stroke-width="0.5"/>
<path d="M98.6,90.5h0.8 M101.2,89.1h0.8 M106.7,90.2h0.8 M96.0,88.7h0.8 M56.7,112.0h0.8 M56.9,111.0h0.8 M56.9,120.7h0.8 M63.9,104.0h0.8 M57.0,113.4h0.8 M68.7,107.2h0.8 M55.7,117.4h0.8 M92.9,92.3h0.8 M54.2,109.9h0.8 M113.1,86.5h0.8 M57.5,117.6h0.8 M91.9,86.3h0.8 M57.6,117.6h0.8 M96.3,89.2h0.8 M104.3,84.3h0.8 M89.0,87.2h0.8 M118.6,92.7h0.8 M113.8,89.3h0.8 M102.7,92.2h0.8 M58.7,107.8h0.8 M105.9,94.9h0.8 M94.2,94.3h0.8 M100.3,90.0h0.8 M63.6,112.0h0.8 M114.2,91.0h0.8 M105.4,91.3h0.8 M54.1,111.2h0.8 M52.3,111.1h0.8 M100.0,92.9h0.8 M102.2,92.8h0.8 M97.1,104.3h0.8 M110.2,93.7h0.8 M113.6,89.8h0.8 M58.6,121.7h0.8 M99.4,91.4h0.8 M60.7,110.3h0.8 M96.3,88.9h0.8 M106.0,92.4h0.8 M55.9,113.8h0.8 M111.8,91.0h0.8 M54.8,109.7h0.8 M53.0,112.3h0.8 M102.4,90.6h0.8 M101.7,86.3h0.8 M51.3,115.1h0.8 M55.4,108.1h0.8 M112.8,88.5h0.8 M103.0,89.8h0.8 M106.5,88.8h0.8 M68.6,114.4h0.8 M105.5,92.1h0.8 M106.4,96.0h0.8 M57.6,113.6h0.8 M89.9,94.9h0.8 M92.0,96.3h0.8 M95.2,92.2h0.8 M57.6,117.8h0.8 M104.3,92.8h0.8 M54.6,115.9h0.8 M106.8,90.2h0.8 M117.5,94.3h0.8 M102.4,93.7h0.8 M79.1,105.5h0.8 M60.2,115.1h0.8 M75.1,83.7h0.8 M54.7,117.0h0.8 M47.2,110.7h0.8 M96.2,87.3h0.8 M58.0,111.1h0.8 M76.7,100.4h0.8 M107.6,90.0h0.8 M102.7,97.4h0.8 M96.4,92.7h0.8 M95.8,93.4h0.8 M60.4,108.7h0.8 M106.2,96.9h0.8 M72.6,102.7h0.8 M57.1,115.3h0.8 M100.0,89.0h0.8 M99.2,91.6h0.8 M118.0,89.6h0.8 M46.1,109.4h0.8 M111.0,91.4h0.8 M112.0,91.6h0.8 M96.3,94.8h0.8 M114.3,90.4h0.8 M111.0,94.0h0.8 M68.4,80.7h0.8 M113.5,91.4h0.8 M100.6,90.0h0.8 M92.7,94.0h0.8 M98.1,88.1h0.8 M60.0,114.8h0.8 M113.5,93.5h0.8 M105.8,92.2h0.8 M94.6,94.3h0.8 M115.8,90.2h0.8 M113.0,92.3h0.8 M102.3,93.2h0.8 M116.5,88.7h0.8 M105.5,88.6h0.8 M105.0,92.1h0.8 M96.6,88.6h0.8 M94.5,90.0h0.8 M103.4,90.9h0.8 M118.0,93.2h0.8 M103.6,90.7h0.8 M53.6,116.3h0.8 M52.6,112.7h0.8 M113.3,116.7h0.8 M104.2,86.0h0.8 M49.5,112.1h0.8 M102.7,90.7h0.8 M79.6,110.2h0.8 M112.1,93.4h0.8 M87.6,86.2h0.8 M104.9,94.6h0.8 M110.3,91.7h0.8 M55.6,111.9h0.8 M98.7,91.4h0.8 M107.3,95.2h0.8 M104.4,90.6h0.8 M110.6,90.9h0.8 M56.1,113.8h0.8 M51.7,111.8h0.8 M58.9,119.8h0.8 M108.8,91.6h0.8 M49.8,119.5h0.8 M101.6,96.6h0.8 M102.3,93.0h0.8 M99.5,89.9h0.8 M119.6,92.3h0.8 M59.1,109.2h0.8 M61.0,116.9h0.8 M93.4,91.5h0.8 M109.6,91.9h0.8 M110.2,90.1h0.8 M64.0,110.0h0.8 M98.9,91.8h0.8 M97.0,89.7h0.8 M101.7,87.3h0.8 M101.3,92.7h0.8 M113.3,92.8h0.8 M107.6,91.0h0.8 M118.8,90.4h0.8 M100.3,92.7h0.8 M117.9,91.6h0.8 M108.1,92.1h0.8 M100.8,88.8h0.8 M54.5,112.4h0.8 M113.1,89.6h0.8 M102.4,92.9h0.8 M94.5,92.2h0.8 M100.2,94.0h0.8 M53.1,119.1h0.8 M58.5,111.0h0.8 M106.3,91.1h0.8 M109.4,87.9h0.8 M103.1,90.7h0.8 M103.7,89.9h0.8 M57.7,119.5h0.8 M57.9,112.6h0.8 M106.1,90.3h0.8 M50.0,112.2h0.8 M103.0,89.7h0.8 M108.4,92.8h0.8" stroke="#a0a0a0" stroke-width="0.8" fill="none"/>
<path d="M80.3,57.0h0.8 M77.5,61.0h0.8 M58.5,61.3h0.8 M81.4,66.2h0.8 M61.5,60.3h0.8 M79.3,57.0h0.8 M81.1,66.7h0.8 M62.5,67.7h0.8 M74.7,68.8h0.8 M80.1,57.4h0.8 M66.4,62.4h0.8 M68.5,64.6h0.8 M71.8,61.4h0.8 M80.1,69.6h0.8 M67.0,62.4h0.8 M85.3,60.7h0.8 M72.8,60.8h0.8 M68.7,61.5h0.8 M68.2,61.3h0.8 M67.4,57.5h0.8 M67.0,65.7h0.8 M80.5,63.8h0.8 M75.8,58.6h0.8 M78.6,67.2h0.8 M73.2,67.3h0.8 M72.4,57.3h0.8 M75.8,68.5h0.8 M68.7,59.4h0.8 M62.6,61.9h0.8 M80.9,63.6h0.8 M62.7,66.0h0.8 M64.1,62.2h0.8 M81.1,66.0h0.8 M76.5,65.8h0.8 M63.3,62.4h0.8 M80.4,60.2h0.8 M88.5,58.9h0.8 M84.4,62.4h0.8 M71.5,64.8h0.8 M64.0,59.7h0.8 M69.5,61.7h0.8 M87.6,67.9h0.8 M92.8,63.5h0.8 M78.9,56.0h0.8 M76.9,57.9h0.8 M63.4,60.9h0.8 M91.4,63.8h0.8 M64.4,59.5h0.8 M77.0,61.3h0.8 M66.9,67.5h0.8 M91.5,61.6h0.8 M71.4,62.9h0.8 M83.5,58.8h0.8 M73.9,67.8h0.8 M73.2,62.0h0.8 M70.5,61.8h0.8 M90.6,63.4h0.8 M58.2,61.8h0.8 M76.3,69.4h0.8 M65.7,64.1h0.8 M82.9,58.1h0.8 M72.4,64.3h0.8 M72.5,59.4h0.8 M74.4,61.2h0.8 M68.6,66.6h0.8 M62.9,68.2h0.8 M72.1,68.9h0.8 M86.8,65.2h0.8 M76.8,72.7h0.8 M86.6,57.2h0.8 M82.7,58.7h0.8 M60.5,73.2h0.8 M68.2,62.3h0.8 M64.6,67.8h0.8 M86.2,61.6h0.8 M83.7,56.4h0.8 M78.1,59.4h0.8 M94.2,62.2h0.8 M68.1,63.5h0.8 M67.2,64.8h0.8 M79.4,62.1h0.8 M97.0,57.1h0.8 M79.8,66.1h0.8 M81.6,62.5h0.8 M86.3,64.0h0.8 M73.4,69.0h0.8 M75.7,60.8h0.8 M68.7,57.3h0.8 M69.8,65.9h0.8 M90.4,67.9h0.8 M81.7,61.6h0.8 M87.0,58.8h0.8 M81.9,63.2h0.8 M72.7,59.9h0.8 M78.2,58.4h0.8 M72.2,62.6h0.8 M84.8,65.2h0.8 M86.4,56.5h0.8 M68.8,65.4h0.8 M60.2,72.7h0.8 M81.7,64.6h0.8 M84.6,60.7h0.8 M57.3,65.9h0.8 M70.4,61.2h0.8 M68.3,60.7h0.8 M81.6,71.5h0.8 M68.3,67.1h0.8 M66.9,65.6h0.8 M79.3,63.8h0.8 M82.6,67.4h0.8 M81.7,58.9h0.8 M75.6,58.4h0.8 M80.5,59.7h0.8 M90.3,65.5h0.8 M79.8,63.7h0.8 M83.5,61.1h0.8 M68.1,55.7h0.8 M68.5,71.7h0.8 M69.2,56.1h0.8 M80.2,58.2h0.8 M79.7,66.2h0.8 M86.2,62.7h0.8 M71.2,61.7h0.8 M61.2,57.4h0.8 M88.4,66.6h0.8 M54.6,61.6h0.8 M77.9,54.0h0.8 M80.6,58.2h0.8 M88.8,61.7h0.8 M87.2,63.0h0.8 M69.3,71.3h0.8 M71.8,64.0h0.8 M81.9,65.2h0.8 M75.5,69.7h0.8 M54.1,58.5h0.8 M79.3,54.7h0.8 M74.5,60.2h0.8 M75.2,67.5h0.8 M83.8,68.4h0.8 M90.0,65.0h0.8 M77.6,57.5h0.8 M85.1,65.0h0.8 M86.9,64.7h0.8 M67.3,62.3h0.8 M75.4,57.5h0.8 M55.1,65.8h0.8 M76.7,62.7h0.8 M92.1,59.6h0.8 M86.7,66.5h0.8 M78.1,67.8h0.8 M57.5,62.3h0.8 M73.1,68.3h0.8 M74.4,65.5h0.8 M59.7,58.4h0.8 M91.9,63.0h0.8 M67.7,69.4h0.8 M70.0,60.0h0.8 M89.6,64.9h0.8 M100.7,61.2h0.8 M87.2,63.2h0.8 M80.7,60.5h0.8 M75.3,64.4h0.8 M71.0,62.0h0.8 M84.6,61.5h0.8 M77.2,62.5h0.8 M68.1,58.8h0.8 M79.2,64.8h0.8 M94.4,66.1h0.8 M93.2,65.8h0.8 M81.2,65.5h0.8 M87.6,63.0h0.8 M75.6,63.0h0.8 M83.4,56.8h0.8 M90.9,68.1h0.8 M83.3,58.7h0.8 M69.9,64.5h0.8 M63.0,70.2h0.8 M64.4,65.1h0.8 M66.6,54.5h0.8 M74.2,59.8h0.8" stroke="#a0a0a0" stroke-width="0.8" fill="none"/>
<line x1="41.3" y1="40.7" x2="41.3" y2="124.2" stroke="#c4c4c4" stroke-width="0.7" />
<line x1="40.8" y1="123.7" x2="123.7" y2="123.7" stroke="#444" stroke-width="0.9" />
<line x1="42.099999999999994" y1="123.7" x2="42.099999999999994" y2="125.9" stroke="#333" stroke-width="0.8" />
<line x1="45.199999999999996" y1="123.7" x2="45.199999999999996" y2="124.9" stroke="#666" stroke-width="0.5" />
<line x1="48.3" y1="123.7" x2="48.3" y2="124.9" stroke="#666" stroke-width="0.5" />
<line x1="51.39999999999999" y1="123.7" x2="51.39999999999999" y2="124.9" stroke="#666" stroke-width="0.5" />
<line x1="54.49999999999999" y1="123.7" x2="54.49999999999999" y2="124.9" stroke="#666" stroke-width="0.5" />
<line x1="57.599999999999994" y1="123.7" x2="57.599999999999994" y2="125.9" stroke="#333" stroke-width="0.8" />
<line x1="60.699999999999996" y1="123.7" x2="60.699999999999996" y2="124.9" stroke="#666" stroke-width="0.5" />
<line x1="63.8" y1="123.7" x2="63.8" y2="124.9" stroke="#666" stroke-width="0.5" />
<line x1="66.89999999999999" y1="123.7" x2="66.89999999999999" y2="124.9" stroke="#666" stroke-width="0.5" />
<line x1="70.0" y1="123.7" x2="70.0" y2="124.9" stroke="#666" stroke-width="0.5" />
<line x1="73.1" y1="123.7" x2="73.1" y2="125.9" stroke="#333" stroke-width="0.8" />
<line x1="76.19999999999999" y1="123.7" x2="76.19999999999999" y2="124.9" stroke="#666" stroke-width="0.5" />
<line x1="79.3" y1="123.7" x2="79.3" y2="124.9" stroke="#666" stroke-width="0.5" />
<line x1="82.39999999999999" y1="123.7" x2="82.39999999999999" y2="124.9" stroke="#666" stroke-width="0.5" />
<line x1="85.5" y1="123.7" x2="85.5" y2="124.9" stroke="#666" stroke-width="0.5" />
<line x1="88.6" y1="123.7" x2="88.6" y2="125.9" stroke="#333" stroke-width="0.8" />
<line x1="91.69999999999999" y1="123.7" x2="91.69999999999999" y2="124.9" stroke="#666" stroke-width="0.5" />
<line x1="94.8" y1="123.7" x2="94.8" y2="124.9" stroke="#666" stroke-width="0.5" />
<line x1="97.89999999999999" y1="123.7" x2="97.89999999999999" y2="124.9" stroke="#666" stroke-width="0.5" />
<line x1="101.0" y1="123.7" x2="101.0" y2="124.9" stroke="#666" stroke-width="0.5" />
<line x1="104.1" y1="123.7" x2="104.1" y2="125.9" stroke="#333" stroke-width="0.8" />
<line x1="107.19999999999999" y1="123.7" x2="107.19999999999999" y2="124.9" stroke="#666" stroke-width="0.5" />
<line x1="110.3" y1="123.7" x2="110.3" y2="124.9" stroke="#666" stroke-width="0.5" />
<line x1="113.39999999999999" y1="123.7" x2="113.39999999999999" y2="124.9" stroke="#666" stroke-width="0.5" />
<line x1="116.5" y1="123.7" x2="116.5" y2="124.9" stroke="#666" stroke-width="0.5" />
<line x1="119.6" y1="123.7" x2="119.6" y2="125.9" stroke="#333" stroke-width="0.8" />
<line x1="122.69999999999999" y1="123.7" x2="122.69999999999999" y2="124.9" stroke="#666" stroke-width="0.5" />
<text x="42.099999999999994" y="129.6" font-size="4.2" text-anchor="middle" font-weight="normal" font-style="normal" fill="#777" >0</text>
<text x="57.599999999999994" y="129.6" font-size="4.2" text-anchor="middle" font-weight="normal" font-style="normal" fill="#777" >50K</text>
<text x="73.1" y="129.6" font-size="4.2" text-anchor="middle" font-weight="normal" font-style="normal" fill="#777" >100K</text>
<text x="88.6" y="129.6" font-size="4.2" text-anchor="middle" font-weight="normal" font-style="normal" fill="#777" >150K</text>
<text x="104.1" y="129.6" font-size="4.2" text-anchor="middle" font-weight="normal" font-style="normal" fill="#777" >200K</text>
<text x="119.6" y="129.6" font-size="4.2" text-anchor="middle" font-weight="normal" font-style="normal" fill="#777" >250K</text>
<line x1="38.5" y1="47.7" x2="41.3" y2="47.7" stroke="#333" stroke-width="0.8" />
<text x="35.5" y="50.900000000000006" font-size="4.2" text-anchor="end" font-weight="normal" font-style="normal" fill="#9a9a9a" >10</text>
<text x="35.699999999999996" y="48.300000000000004" font-size="3" text-anchor="start" font-weight="normal" font-style="normal" fill="#9a9a9a" >5</text>
<line x1="38.5" y1="64.4" x2="41.3" y2="64.4" stroke="#333" stroke-width="0.8" />
<text x="35.5" y="67.60000000000001" font-size="4.2" text-anchor="end" font-weight="normal" font-style="normal" fill="#9a9a9a" >10</text>
<text x="35.699999999999996" y="65.0" font-size="3" text-anchor="start" font-weight="normal" font-style="normal" fill="#9a9a9a" >4</text>
<line x1="38.5" y1="84.2" x2="41.3" y2="84.2" stroke="#333" stroke-width="0.8" />
<text x="35.5" y="87.4" font-size="4.2" text-anchor="end" font-weight="normal" font-style="normal" fill="#9a9a9a" >10</text>
<text x="35.699999999999996" y="84.8" font-size="3" text-anchor="start" font-weight="normal" font-style="normal" fill="#9a9a9a" >3</text>
<line x1="38.5" y1="92" x2="41.3" y2="92" stroke="#333" stroke-width="0.8" />
<text x="35.5" y="95.2" font-size="4.2" text-anchor="end" font-weight="normal" font-style="normal" fill="#9a9a9a" >0</text>
<line x1="38.5" y1="100.2" x2="41.3" y2="100.2" stroke="#333" stroke-width="0.8" />
<text x="35.5" y="103.4" font-size="4.2" text-anchor="end" font-weight="normal" font-style="normal" fill="#9a9a9a" >-10</text>
<text x="35.699999999999996" y="100.8" font-size="3" text-anchor="start" font-weight="normal" font-style="normal" fill="#9a9a9a" >3</text>
<line x1="38.5" y1="120" x2="41.3" y2="120" stroke="#333" stroke-width="0.8" />
<text x="35.5" y="123.2" font-size="4.2" text-anchor="end" font-weight="normal" font-style="normal" fill="#9a9a9a" >-10</text>
<text x="35.699999999999996" y="120.6" font-size="3" text-anchor="start" font-weight="normal" font-style="normal" fill="#9a9a9a" >4</text>
<line x1="39.8" y1="42.672799072411514" x2="41.3" y2="42.672799072411514" stroke="#666" stroke-width="0.5" />
<line x1="39.8" y1="59.37279907241152" x2="41.3" y2="59.37279907241152" stroke="#666" stroke-width="0.5" />
<line x1="39.8" y1="56.432075046181644" x2="41.3" y2="56.432075046181644" stroke="#666" stroke-width="0.5" />
<line x1="39.8" y1="54.34559814482303" x2="41.3" y2="54.34559814482303" stroke="#666" stroke-width="0.5" />
<line x1="39.8" y1="52.72720092758849" x2="41.3" y2="52.72720092758849" stroke="#666" stroke-width="0.5" />
<line x1="39.8" y1="51.404874118593156" x2="41.3" y2="51.404874118593156" stroke="#666" stroke-width="0.5" />
<line x1="39.8" y1="50.286862731761914" x2="41.3" y2="50.286862731761914" stroke="#666" stroke-width="0.5" />
<line x1="39.8" y1="49.31839721723455" x2="41.3" y2="49.31839721723455" stroke="#666" stroke-width="0.5" />
<line x1="39.8" y1="48.464150092363276" x2="41.3" y2="48.464150092363276" stroke="#666" stroke-width="0.5" />
<line x1="39.8" y1="78.23960608585318" x2="41.3" y2="78.23960608585318" stroke="#666" stroke-width="0.5" />
<line x1="39.8" y1="74.75299915655069" x2="41.3" y2="74.75299915655069" stroke="#666" stroke-width="0.5" />
<line x1="39.8" y1="72.27921217170635" x2="41.3" y2="72.27921217170635" stroke="#666" stroke-width="0.5" />
<line x1="39.8" y1="70.36039391414683" x2="41.3" y2="70.36039391414683" stroke="#666" stroke-width="0.5" />
<line x1="39.8" y1="68.79260524240387" x2="41.3" y2="68.79260524240387" stroke="#666" stroke-width="0.5" />
<line x1="39.8" y1="67.46705880771772" x2="41.3" y2="67.46705880771772" stroke="#666" stroke-width="0.5" />
<line x1="39.8" y1="66.31881825755953" x2="41.3" y2="66.31881825755953" stroke="#666" stroke-width="0.5" />
<line x1="39.8" y1="65.30599831310137" x2="41.3" y2="65.30599831310137" stroke="#666" stroke-width="0.5" />
<line x1="39.699999999999996" y1="86" x2="41.3" y2="86" stroke="#666" stroke-width="0.5" />
<line x1="39.699999999999996" y1="88" x2="41.3" y2="88" stroke="#666" stroke-width="0.5" />
<line x1="39.699999999999996" y1="90" x2="41.3" y2="90" stroke="#666" stroke-width="0.5" />
<line x1="39.699999999999996" y1="94" x2="41.3" y2="94" stroke="#666" stroke-width="0.5" />
<line x1="39.699999999999996" y1="96" x2="41.3" y2="96" stroke="#666" stroke-width="0.5" />
<line x1="39.699999999999996" y1="98" x2="41.3" y2="98" stroke="#666" stroke-width="0.5" />
<circle cx="40.0" cy="92" r="1.3" fill="#000"/>
<rect x="51.4" y="52.3" width="71.19999999999999" height="21.200000000000003" fill="none" stroke="#3a3a3a" stroke-width="0.9" />
<rect x="43.8" y="81.3" width="76.8" height="30.0" fill="none" stroke="#3a3a3a" stroke-width="0.9" />
<text x="119.2" y="66" font-size="11.8" text-anchor="end" font-weight="normal" font-style="normal" fill="#000" >3.5</text>
<text x="115.5" y="107.7" font-size="11.8" text-anchor="end" font-weight="normal" font-style="normal" fill="#000" >97</text>
<line x1="150.2" y1="41" x2="232.4" y2="41" stroke="#e4e4e4" stroke-width="0.9" />
<line x1="232.4" y1="41" x2="232.4" y2="123.7" stroke="#cccccc" stroke-width="0.9" />
<path d="M150.20,94.69 L150.46,94.50 L150.81,94.25 L151.19,94.00 L151.45,93.83 L151.70,93.68 L152.01,93.50 L152.45,93.26 L152.70,93.13 L152.98,93.00 L153.45,92.78 L153.70,92.67 L154.14,92.50 L154.45,92.38 L154.84,92.25 L155.20,92.13 L155.65,92.00 L155.95,91.92 L156.45,91.80 L156.70,91.74 L157.20,91.64 L157.70,91.56 L158.12,91.50 L158.45,91.46 L158.95,91.41 L159.45,91.37 L159.95,91.34 L160.45,91.33 L160.95,91.33 L161.45,91.34 L161.95,91.37 L162.45,91.40 L162.95,91.44 L163.45,91.49 L163.70,91.51 L164.20,91.57 L164.70,91.63 L165.20,91.69 L165.61,91.75 L165.95,91.79 L166.45,91.85 L166.95,91.91 L167.45,91.97 L167.71,92.00 L168.20,92.04 L168.70,92.08 L169.20,92.11 L169.70,92.14 L170.20,92.16 L170.70,92.17 L171.20,92.18 L171.70,92.19 L172.20,92.19 L172.70,92.19 L173.20,92.19 L173.70,92.18 L174.20,92.18 L174.70,92.17 L175.20,92.17 L175.70,92.17 L176.20,92.16 L176.70,92.16 L177.20,92.16 L177.70,92.16 L178.20,92.15 L178.70,92.15 L179.20,92.15 L179.70,92.15 L180.20,92.16 L180.70,92.16 L181.20,92.16 L181.70,92.16 L182.20,92.16 L182.70,92.17 L183.20,92.17 L183.70,92.18 L184.20,92.18 L184.70,92.18 L185.20,92.19 L185.70,92.20 L186.20,92.20 L186.70,92.21 L187.20,92.22 L187.70,92.23 L188.20,92.24 L188.59,92.25 L188.95,92.26 L189.45,92.27 L189.95,92.28 L190.45,92.30 L190.95,92.32 L191.45,92.34 L191.95,92.36 L192.45,92.38 L192.95,92.40 L193.45,92.43 L193.95,92.46 L194.45,92.49 L194.70,92.50 L195.20,92.53 L195.70,92.57 L196.20,92.60 L196.70,92.64 L197.20,92.68 L197.70,92.72 L198.02,92.75 L198.45,92.79 L198.95,92.83 L199.45,92.88 L199.95,92.93 L200.45,92.98 L200.70,93.01 L201.20,93.06 L201.70,93.11 L202.20,93.17 L202.70,93.23 L202.95,93.26 L203.45,93.32 L203.95,93.38 L204.45,93.44 L204.92,93.50 L205.20,93.53 L205.70,93.60 L206.20,93.66 L206.70,93.73 L206.95,93.76 L207.45,93.83 L207.95,93.90 L208.45,93.97 L208.70,94.00 L209.20,94.07 L209.70,94.14 L210.20,94.22 L210.45,94.25 L210.95,94.33 L211.45,94.40 L211.95,94.48 L212.20,94.52 L212.70,94.60 L213.20,94.68 L213.59,94.75 L213.95,94.81 L214.45,94.90 L214.95,94.99 L215.20,95.04 L215.70,95.13 L216.20,95.24 L216.45,95.29 L216.95,95.40 L217.40,95.50 L217.70,95.57 L218.20,95.69 L218.45,95.76 L218.95,95.89 L219.32,96.00 L219.70,96.11 L220.12,96.25 L220.45,96.36 L220.83,96.50 L221.20,96.65 L221.45,96.75 L221.95,96.99 L222.20,97.12 L222.45,97.26 L222.82,97.50 L223.13,97.75 L223.38,98.00 L223.56,98.25 L223.70,98.56 L223.74,99.00 L223.68,99.25 L223.45,99.66 L223.20,99.94 L222.95,100.16 L222.70,100.35 L222.45,100.52 L222.06,100.75 L221.70,100.93 L221.45,101.05 L221.01,101.25 L220.70,101.38 L220.39,101.50 L219.95,101.66 L219.70,101.75 L219.20,101.92 L218.95,102.00 L218.45,102.16 L218.13,102.25 L217.70,102.38 L217.26,102.50 L216.95,102.59 L216.45,102.72 L216.20,102.79 L215.70,102.92 L215.36,103.00 L214.95,103.11 L214.45,103.23 L214.20,103.29 L213.70,103.41 L213.33,103.50 L212.95,103.59 L212.45,103.71 L212.20,103.77 L211.70,103.89 L211.20,104.00 L210.70,104.12 L210.20,104.23 L209.95,104.29 L209.45,104.40 L209.00,104.50 L208.70,104.57 L208.20,104.68 L207.85,104.75 L207.45,104.84 L206.95,104.94 L206.66,105.00 L206.20,105.10 L205.70,105.20 L205.41,105.25 L204.95,105.34 L204.45,105.43 L204.07,105.50 L203.70,105.57 L203.20,105.65 L202.70,105.74 L202.45,105.78 L201.95,105.86 L201.45,105.93 L200.99,106.00 L200.70,106.04 L200.20,106.11 L199.70,106.18 L199.20,106.24 L198.95,106.27 L198.45,106.34 L197.95,106.39 L197.45,106.45 L196.95,106.50 L196.70,106.53 L196.20,106.58 L195.70,106.63 L195.20,106.67 L194.70,106.72 L194.29,106.75 L193.95,106.78 L193.45,106.82 L192.95,106.86 L192.45,106.90 L191.95,106.94 L191.45,106.97 L191.04,107.00 L190.70,107.03 L190.20,107.06 L189.70,107.10 L189.20,107.13 L188.70,107.17 L188.20,107.20 L187.70,107.23 L187.43,107.25 L186.95,107.28 L186.45,107.32 L185.95,107.36 L185.45,107.39 L184.95,107.42 L184.45,107.46 L183.95,107.49 L183.70,107.51 L183.20,107.55 L182.70,107.58 L182.20,107.62 L181.70,107.65 L181.20,107.68 L180.70,107.72 L180.20,107.75 L179.95,107.76 L179.45,107.80 L178.95,107.83 L178.45,107.87 L177.95,107.90 L177.45,107.93 L176.95,107.97 L176.51,108.00 L176.20,108.03 L175.70,108.08 L175.20,108.13 L174.70,108.19 L174.25,108.25 L173.95,108.30 L173.45,108.40 L172.99,108.50 L172.70,108.58 L172.20,108.73 L171.95,108.82 L171.48,109.00 L171.20,109.13 L170.92,109.25 L170.45,109.48 L170.20,109.61 L169.93,109.75 L169.45,110.00 L169.20,110.13 L168.93,110.25 L168.45,110.47 L168.20,110.57 L167.72,110.75 L167.45,110.84 L166.95,110.99 L166.70,111.05 L166.20,111.16 L165.70,111.25 L165.45,111.29 L164.95,111.34 L164.45,111.38 L163.95,111.40 L163.45,111.40 L162.95,111.39 L162.45,111.36 L161.95,111.32 L161.45,111.26 L161.20,111.23 L160.70,111.16 L160.20,111.07 L159.88,111.00 L159.45,110.91 L158.95,110.79 L158.70,110.73 L158.20,110.60 L157.89,110.50 L157.45,110.37 L157.10,110.25 L156.70,110.12 L156.39,110.00 L155.95,109.84 L155.70,109.73 L155.20,109.52 L154.95,109.41 L154.60,109.25 L154.20,109.06 L153.95,108.93 L153.61,108.75 L153.20,108.53 L152.95,108.39 L152.70,108.23 L152.32,108.00 L151.95,107.76 L151.70,107.59 L151.45,107.41 L151.20,107.23 L150.90,107.00 L150.58,106.75 L150.28,106.50Z" fill="#000" fill-opacity="0.06" stroke="none"/><path d="M163.45,106.50 L162.95,106.60 L162.45,106.67 L161.95,106.72 L161.45,106.74 L160.95,106.74 L160.45,106.71 L159.95,106.67 L159.45,106.60 L158.95,106.50 L158.70,106.45 L158.20,106.32 L157.95,106.24 L157.45,106.08 L157.20,105.98 L156.70,105.78 L156.45,105.66 L156.13,105.50 L155.70,105.26 L155.45,105.11 L155.20,104.95 L154.92,104.75 L154.59,104.50 L154.30,104.25 L154.03,104.00 L153.79,103.75 L153.57,103.50 L153.37,103.25 L153.20,103.00 L152.95,102.60 L152.77,102.25 L152.67,102.00 L152.51,101.50 L152.45,101.22 L152.39,100.75 L152.40,100.25 L152.45,99.87 L152.53,99.50 L152.70,99.02 L152.82,98.75 L152.96,98.50 L153.20,98.12 L153.45,97.79 L153.70,97.51 L153.95,97.26 L154.20,97.03 L154.45,96.83 L154.70,96.64 L154.95,96.47 L155.31,96.25 L155.70,96.03 L155.95,95.91 L156.31,95.75 L156.70,95.59 L156.96,95.50 L157.45,95.34 L157.80,95.25 L158.20,95.15 L158.70,95.06 L159.11,95.00 L159.45,94.96 L159.95,94.91 L160.45,94.89 L160.95,94.89 L161.45,94.90 L161.95,94.93 L162.45,94.97 L162.70,95.00 L163.20,95.06 L163.70,95.14 L164.20,95.22 L164.45,95.27 L164.95,95.36 L165.45,95.46 L165.70,95.51 L166.20,95.61 L166.70,95.71 L166.95,95.76 L167.45,95.85 L167.95,95.94 L168.33,96.00 L168.70,96.05 L169.20,96.12 L169.70,96.18 L170.20,96.23 L170.45,96.25 L170.95,96.29 L171.45,96.33 L171.95,96.36 L172.45,96.39 L172.95,96.43 L173.45,96.46 L173.95,96.49 L174.20,96.51 L174.70,96.54 L175.20,96.58 L175.70,96.63 L176.20,96.68 L176.70,96.73 L176.95,96.76 L177.45,96.82 L177.95,96.89 L178.45,96.96 L178.71,97.00 L179.20,97.08 L179.70,97.17 L180.14,97.25 L180.45,97.31 L180.95,97.42 L181.31,97.50 L181.70,97.59 L182.20,97.72 L182.45,97.79 L182.95,97.94 L183.20,98.01 L183.70,98.18 L183.95,98.27 L184.45,98.48 L184.70,98.60 L185.01,98.75 L185.41,99.00 L185.70,99.25 L185.90,99.50 L186.00,99.75 L185.95,100.17 L185.76,100.50 L185.51,100.75 L185.20,100.99 L184.95,101.15 L184.70,101.29 L184.31,101.50 L183.95,101.67 L183.70,101.78 L183.20,101.98 L182.95,102.08 L182.47,102.25 L182.20,102.34 L181.70,102.50 L181.45,102.57 L180.95,102.71 L180.70,102.78 L180.20,102.91 L179.81,103.00 L179.45,103.08 L178.95,103.19 L178.65,103.25 L178.20,103.34 L177.70,103.42 L177.25,103.50 L176.95,103.55 L176.45,103.62 L175.95,103.69 L175.48,103.75 L175.20,103.78 L174.70,103.84 L174.20,103.90 L173.70,103.95 L173.25,104.00 L172.95,104.03 L172.45,104.09 L171.95,104.15 L171.45,104.21 L170.95,104.29 L170.45,104.37 L169.95,104.47 L169.70,104.52 L169.20,104.64 L168.78,104.75 L168.45,104.85 L167.96,105.00 L167.70,105.09 L167.23,105.25 L166.95,105.35 L166.56,105.50 L166.20,105.64 L165.89,105.75 L165.45,105.91 L165.20,106.00 L164.70,106.17 L164.43,106.25 L163.95,106.39 L163.45,106.50Z M161.45,101.51 L160.95,101.57 L160.45,101.54 L160.20,101.49 L159.70,101.25 L159.45,101.00 L159.31,100.50 L159.45,100.14 L159.70,99.89 L159.95,99.73 L160.45,99.58 L160.95,99.54 L161.45,99.60 L161.92,99.75 L162.20,99.93 L162.45,100.19 L162.55,100.50 L162.45,100.85 L162.20,101.14 L161.95,101.31 L161.47,101.50Z" fill="#000" fill-opacity="0.3" fill-rule="evenodd" stroke="none"/><path d="M162.20,102.51 L161.70,102.62 L161.20,102.69 L160.70,102.70 L160.20,102.66 L159.70,102.57 L159.45,102.49 L158.95,102.29 L158.70,102.15 L158.45,101.97 L157.99,101.50 L157.84,101.25 L157.70,100.80 L157.68,100.50 L157.71,100.25 L157.92,99.75 L158.11,99.50 L158.36,99.25 L158.70,99.01 L158.95,98.87 L159.23,98.75 L159.70,98.60 L160.20,98.50 L160.45,98.47 L160.95,98.46 L161.45,98.48 L161.70,98.51 L162.20,98.61 L162.70,98.74 L162.95,98.84 L163.32,99.00 L163.70,99.21 L163.95,99.39 L164.20,99.62 L164.45,99.95 L164.57,100.25 L164.56,100.75 L164.45,101.02 L164.20,101.36 L163.95,101.61 L163.70,101.81 L163.41,102.00 L162.95,102.24 L162.70,102.34 L162.23,102.50Z M162.45,103.55 L161.95,103.65 L161.45,103.71 L160.95,103.74 L160.45,103.73 L159.95,103.68 L159.45,103.60 L159.07,103.50 L158.70,103.38 L158.38,103.25 L157.95,103.03 L157.70,102.88 L157.45,102.70 L157.20,102.50 L156.95,102.25 L156.70,101.93 L156.45,101.50 L156.36,101.25 L156.25,100.75 L156.27,100.25 L156.41,99.75 L156.52,99.50 L156.70,99.22 L156.95,98.91 L157.20,98.67 L157.45,98.47 L157.79,98.25 L158.20,98.04 L158.45,97.93 L158.95,97.75 L159.20,97.69 L159.70,97.58 L160.20,97.52 L160.47,97.50 L160.95,97.49 L161.33,97.50 L161.70,97.53 L162.20,97.59 L162.70,97.68 L163.02,97.75 L163.45,97.87 L163.88,98.00 L164.20,98.11 L164.55,98.25 L164.95,98.43 L165.20,98.55 L165.58,98.75 L165.95,98.98 L166.20,99.16 L166.45,99.36 L166.70,99.62 L166.95,99.99 L167.03,100.25 L166.97,100.75 L166.84,101.00 L166.66,101.25 L166.42,101.50 L166.14,101.75 L165.82,102.00 L165.45,102.25 L165.04,102.50 L164.70,102.69 L164.45,102.82 L164.06,103.00 L163.70,103.15 L163.44,103.25 L162.95,103.41 L162.64,103.50Z M161.70,104.51 L161.20,104.55 L160.70,104.56 L160.20,104.53 L159.90,104.50 L159.45,104.43 L158.95,104.32 L158.69,104.25 L158.20,104.09 L157.95,103.99 L157.46,103.75 L157.20,103.60 L156.95,103.45 L156.67,103.25 L156.37,103.00 L156.12,102.75 L155.90,102.50 L155.70,102.24 L155.45,101.80 L155.32,101.50 L155.20,101.04 L155.16,100.75 L155.17,100.25 L155.22,100.00 L155.37,99.50 L155.49,99.25 L155.70,98.92 L155.95,98.60 L156.20,98.34 L156.45,98.12 L156.70,97.93 L156.97,97.75 L157.42,97.50 L157.70,97.37 L157.99,97.25 L158.45,97.09 L158.78,97.00 L159.20,96.91 L159.70,96.83 L160.20,96.77 L160.70,96.75 L161.20,96.75 L161.70,96.78 L162.20,96.83 L162.70,96.90 L163.20,97.00 L163.45,97.05 L163.95,97.17 L164.25,97.25 L164.70,97.38 L165.08,97.50 L165.45,97.62 L165.82,97.75 L166.20,97.89 L166.50,98.00 L166.95,98.17 L167.20,98.27 L167.70,98.47 L167.95,98.57 L168.39,98.75 L168.70,98.89 L168.98,99.00 L169.45,99.21 L169.70,99.34 L170.02,99.50 L170.41,99.75 L170.66,100.00 L170.76,100.25 L170.69,100.50 L170.45,100.77 L170.15,101.00 L169.74,101.25 L169.45,101.40 L169.20,101.53 L168.78,101.75 L168.45,101.91 L168.20,102.04 L167.78,102.25 L167.45,102.41 L167.20,102.54 L166.77,102.75 L166.45,102.91 L166.20,103.03 L165.73,103.25 L165.45,103.38 L165.18,103.50 L164.70,103.70 L164.45,103.80 L163.95,103.99 L163.70,104.07 L163.20,104.22 L162.95,104.29 L162.45,104.40 L161.95,104.48 L161.70,104.51Z M162.45,105.05 L161.95,105.12 L161.45,105.16 L160.95,105.18 L160.45,105.17 L159.95,105.13 L159.45,105.06 L159.14,105.00 L158.70,104.90 L158.21,104.75 L157.95,104.66 L157.56,104.50 L157.20,104.34 L156.95,104.20 L156.60,104.00 L156.23,103.75 L155.95,103.53 L155.70,103.31 L155.45,103.07 L155.20,102.78 L154.99,102.50 L154.83,102.25 L154.69,102.00 L154.49,101.50 L154.43,101.25 L154.35,100.75 L154.36,100.25 L154.45,99.77 L154.53,99.50 L154.70,99.13 L154.92,98.75 L155.10,98.50 L155.31,98.25 L155.56,98.00 L155.85,97.75 L156.18,97.50 L156.45,97.32 L156.70,97.18 L157.05,97.00 L157.45,96.82 L157.70,96.73 L158.20,96.56 L158.45,96.49 L158.95,96.38 L159.45,96.30 L159.87,96.25 L160.20,96.22 L160.70,96.20 L161.20,96.21 L161.70,96.23 L161.95,96.25 L162.45,96.30 L162.95,96.38 L163.45,96.47 L163.70,96.52 L164.20,96.62 L164.70,96.75 L164.95,96.81 L165.45,96.95 L165.70,97.02 L166.20,97.16 L166.52,97.25 L166.95,97.37 L167.40,97.50 L167.70,97.59 L168.20,97.72 L168.45,97.78 L168.95,97.90 L169.39,98.00 L169.70,98.07 L170.20,98.17 L170.66,98.25 L170.95,98.30 L171.45,98.39 L171.95,98.47 L172.20,98.51 L172.70,98.60 L173.20,98.69 L173.51,98.75 L173.95,98.85 L174.45,98.98 L174.70,99.05 L175.20,99.23 L175.45,99.34 L175.77,99.50 L176.09,99.75 L176.26,100.00 L176.20,100.47 L175.95,100.75 L175.57,101.00 L175.20,101.17 L174.95,101.27 L174.45,101.44 L174.20,101.52 L173.70,101.65 L173.28,101.75 L172.95,101.82 L172.45,101.93 L172.10,102.00 L171.70,102.08 L171.20,102.19 L170.92,102.25 L170.45,102.36 L169.95,102.48 L169.70,102.55 L169.20,102.70 L168.95,102.77 L168.45,102.94 L168.20,103.03 L167.70,103.22 L167.45,103.31 L166.98,103.50 L166.70,103.62 L166.38,103.75 L165.95,103.93 L165.70,104.03 L165.20,104.23 L164.95,104.33 L164.48,104.50 L164.20,104.60 L163.71,104.75 L163.45,104.82 L162.95,104.95 L162.69,105.00Z M162.20,105.75 L161.70,105.80 L161.20,105.83 L160.70,105.83 L160.20,105.80 L159.77,105.75 L159.45,105.71 L158.95,105.61 L158.50,105.50 L158.20,105.42 L157.71,105.25 L157.45,105.15 L157.10,105.00 L156.70,104.81 L156.45,104.67 L156.16,104.50 L155.78,104.25 L155.45,104.01 L155.20,103.80 L154.95,103.57 L154.70,103.31 L154.45,103.02 L154.25,102.75 L154.09,102.50 L153.95,102.25 L153.73,101.75 L153.65,101.50 L153.55,101.00 L153.52,100.50 L153.56,100.00 L153.68,99.50 L153.77,99.25 L153.95,98.88 L154.18,98.50 L154.36,98.25 L154.57,98.00 L154.81,97.75 L155.08,97.50 L155.39,97.25 L155.70,97.03 L155.95,96.88 L156.20,96.73 L156.66,96.50 L156.95,96.37 L157.26,96.25 L157.70,96.10 L158.04,96.00 L158.45,95.90 L158.95,95.80 L159.28,95.75 L159.70,95.70 L160.20,95.66 L160.70,95.64 L161.20,95.65 L161.70,95.67 L162.20,95.71 L162.55,95.75 L162.95,95.80 L163.45,95.88 L163.95,95.97 L164.20,96.02 L164.70,96.13 L165.20,96.24 L165.45,96.30 L165.95,96.42 L166.29,96.50 L166.70,96.60 L167.20,96.71 L167.45,96.77 L167.95,96.88 L168.45,96.98 L168.70,97.02 L169.20,97.11 L169.70,97.19 L170.15,97.25 L170.45,97.29 L170.95,97.35 L171.45,97.40 L171.95,97.45 L172.45,97.50 L172.70,97.52 L173.20,97.57 L173.70,97.63 L174.20,97.68 L174.70,97.75 L174.95,97.78 L175.45,97.86 L175.95,97.94 L176.28,98.00 L176.70,98.09 L177.20,98.20 L177.45,98.26 L177.95,98.40 L178.28,98.50 L178.70,98.65 L179.20,98.87 L179.47,99.00 L179.87,99.25 L180.15,99.50 L180.33,99.75 L180.40,100.25 L180.20,100.63 L179.95,100.89 L179.70,101.08 L179.45,101.25 L178.97,101.50 L178.70,101.61 L178.37,101.75 L177.95,101.90 L177.63,102.00 L177.20,102.12 L176.72,102.25 L176.45,102.31 L175.95,102.42 L175.57,102.50 L175.20,102.57 L174.70,102.65 L174.20,102.73 L173.95,102.77 L173.45,102.84 L172.95,102.91 L172.45,102.98 L172.20,103.02 L171.70,103.09 L171.20,103.17 L170.71,103.25 L170.45,103.30 L169.95,103.40 L169.52,103.50 L169.20,103.58 L168.70,103.72 L168.45,103.79 L167.95,103.95 L167.70,104.03 L167.20,104.21 L166.95,104.31 L166.45,104.50 L166.20,104.59 L165.79,104.75 L165.45,104.88 L165.12,105.00 L164.70,105.15 L164.40,105.25 L163.95,105.39 L163.53,105.50 L163.20,105.58 L162.70,105.68 L162.23,105.75Z M162.20,106.53 L161.70,106.57 L161.20,106.58 L160.70,106.57 L160.20,106.53 L159.89,106.50 L159.45,106.44 L158.95,106.35 L158.54,106.25 L158.20,106.16 L157.70,106.00 L157.45,105.92 L157.02,105.75 L156.70,105.61 L156.45,105.49 L155.99,105.25 L155.70,105.08 L155.45,104.93 L155.19,104.75 L154.85,104.50 L154.54,104.25 L154.27,104.00 L154.02,103.75 L153.79,103.50 L153.59,103.25 L153.41,103.00 L153.20,102.67 L152.98,102.25 L152.87,102.00 L152.71,101.50 L152.65,101.25 L152.59,100.75 L152.60,100.25 L152.67,99.75 L152.73,99.50 L152.91,99.00 L153.03,98.75 L153.20,98.45 L153.45,98.08 L153.70,97.77 L153.94,97.50 L154.20,97.25 L154.45,97.03 L154.70,96.84 L154.95,96.66 L155.20,96.49 L155.61,96.25 L155.95,96.07 L156.20,95.95 L156.68,95.75 L156.95,95.65 L157.41,95.50 L157.70,95.42 L158.20,95.29 L158.45,95.24 L158.95,95.15 L159.45,95.09 L159.95,95.05 L160.45,95.03 L160.95,95.02 L161.45,95.03 L161.95,95.06 L162.45,95.10 L162.95,95.16 L163.45,95.24 L163.70,95.27 L164.20,95.36 L164.70,95.45 L164.95,95.50 L165.45,95.60 L165.95,95.71 L166.20,95.76 L166.70,95.86 L167.20,95.96 L167.45,96.01 L167.95,96.10 L168.45,96.18 L168.93,96.25 L169.20,96.29 L169.70,96.35 L170.20,96.40 L170.70,96.45 L171.20,96.49 L171.45,96.51 L171.95,96.54 L172.45,96.57 L172.95,96.61 L173.45,96.64 L173.95,96.68 L174.45,96.72 L174.86,96.75 L175.20,96.78 L175.70,96.83 L176.20,96.88 L176.70,96.94 L177.17,97.00 L177.45,97.04 L177.95,97.11 L178.45,97.19 L178.79,97.25 L179.20,97.32 L179.70,97.42 L180.07,97.50 L180.45,97.59 L180.95,97.71 L181.20,97.77 L181.70,97.91 L181.99,98.00 L182.45,98.15 L182.74,98.25 L183.20,98.44 L183.45,98.55 L183.87,98.75 L184.20,98.96 L184.45,99.15 L184.70,99.40 L184.89,99.75 L184.85,100.25 L184.70,100.51 L184.45,100.77 L184.17,101.00 L183.79,101.25 L183.45,101.44 L183.20,101.57 L182.81,101.75 L182.45,101.90 L181.95,102.09 L181.51,102.25 L181.20,102.35 L180.71,102.50 L180.45,102.57 L179.95,102.71 L179.70,102.78 L179.20,102.90 L178.74,103.00 L178.45,103.06 L177.95,103.16 L177.48,103.25 L177.20,103.30 L176.70,103.38 L176.20,103.46 L175.89,103.50 L175.45,103.56 L174.95,103.62 L174.45,103.68 L173.95,103.74 L173.70,103.77 L173.20,103.82 L172.70,103.88 L172.20,103.94 L171.71,104.00 L171.45,104.04 L170.95,104.11 L170.45,104.19 L170.15,104.25 L169.70,104.34 L169.20,104.46 L168.95,104.52 L168.45,104.67 L168.17,104.75 L167.70,104.90 L167.42,105.00 L166.95,105.17 L166.70,105.26 L166.20,105.45 L165.95,105.55 L165.45,105.73 L165.20,105.82 L164.70,105.99 L164.45,106.07 L163.95,106.21 L163.70,106.27 L163.20,106.38 L162.70,106.47 L162.44,106.50Z" fill="none" stroke="#404040" stroke-width="0.5"/><path d="M163.20,107.26 L162.70,107.33 L162.20,107.38 L161.70,107.40 L161.20,107.40 L160.70,107.38 L160.20,107.33 L159.70,107.27 L159.45,107.23 L158.95,107.14 L158.45,107.02 L158.20,106.95 L157.70,106.81 L157.45,106.72 L156.95,106.54 L156.70,106.44 L156.27,106.25 L155.95,106.10 L155.70,105.97 L155.31,105.75 L154.95,105.53 L154.70,105.37 L154.45,105.19 L154.19,105.00 L153.88,104.75 L153.60,104.50 L153.34,104.25 L153.10,104.00 L152.88,103.75 L152.69,103.50 L152.45,103.17 L152.20,102.76 L152.06,102.50 L151.95,102.25 L151.77,101.75 L151.70,101.48 L151.61,101.00 L151.59,100.50 L151.62,100.00 L151.70,99.58 L151.79,99.25 L151.95,98.83 L152.11,98.50 L152.25,98.25 L152.45,97.94 L152.70,97.61 L152.95,97.32 L153.20,97.06 L153.45,96.83 L153.70,96.61 L153.95,96.41 L154.20,96.23 L154.55,96.00 L154.95,95.76 L155.20,95.63 L155.46,95.50 L155.95,95.28 L156.20,95.17 L156.68,95.00 L156.95,94.91 L157.45,94.77 L157.70,94.71 L158.20,94.60 L158.70,94.51 L158.95,94.48 L159.45,94.42 L159.95,94.38 L160.45,94.36 L160.95,94.36 L161.45,94.37 L161.95,94.40 L162.45,94.44 L162.95,94.49 L163.20,94.52 L163.70,94.59 L164.20,94.67 L164.67,94.75 L164.95,94.80 L165.45,94.89 L165.95,94.98 L166.20,95.03 L166.70,95.12 L167.20,95.20 L167.48,95.25 L167.95,95.32 L168.45,95.39 L168.95,95.45 L169.37,95.50 L169.70,95.53 L170.20,95.57 L170.70,95.61 L171.20,95.64 L171.70,95.67 L172.20,95.69 L172.70,95.72 L173.20,95.74 L173.45,95.75 L173.95,95.78 L174.45,95.80 L174.95,95.83 L175.45,95.86 L175.95,95.90 L176.45,95.93 L176.95,95.97 L177.24,96.00 L177.70,96.04 L178.20,96.09 L178.70,96.14 L179.20,96.20 L179.62,96.25 L179.95,96.29 L180.45,96.36 L180.95,96.42 L181.45,96.50 L181.70,96.53 L182.20,96.61 L182.70,96.69 L183.05,96.75 L183.45,96.82 L183.95,96.91 L184.45,97.00 L184.70,97.05 L185.20,97.14 L185.70,97.24 L185.95,97.29 L186.45,97.40 L186.91,97.50 L187.20,97.57 L187.70,97.68 L187.98,97.75 L188.45,97.87 L188.94,98.00 L189.20,98.08 L189.70,98.23 L189.95,98.31 L190.45,98.48 L190.70,98.59 L191.07,98.75 L191.45,98.97 L191.70,99.17 L191.93,99.50 L191.80,100.00 L191.55,100.25 L191.20,100.50 L190.95,100.64 L190.70,100.78 L190.23,101.00 L189.95,101.12 L189.63,101.25 L189.20,101.41 L188.95,101.51 L188.45,101.68 L188.20,101.77 L187.70,101.94 L187.45,102.02 L186.95,102.17 L186.45,102.32 L185.95,102.47 L185.70,102.54 L185.20,102.68 L184.94,102.75 L184.45,102.88 L183.98,103.00 L183.70,103.07 L183.20,103.19 L182.94,103.25 L182.45,103.36 L181.95,103.47 L181.70,103.52 L181.20,103.63 L180.70,103.72 L180.45,103.77 L179.95,103.86 L179.45,103.95 L179.13,104.00 L178.70,104.07 L178.20,104.14 L177.70,104.21 L177.43,104.25 L176.95,104.31 L176.45,104.37 L175.95,104.43 L175.45,104.48 L175.20,104.51 L174.70,104.56 L174.20,104.61 L173.70,104.66 L173.20,104.70 L172.75,104.75 L172.45,104.78 L171.95,104.84 L171.45,104.91 L170.95,104.98 L170.70,105.03 L170.20,105.12 L169.70,105.23 L169.45,105.29 L168.95,105.42 L168.68,105.50 L168.20,105.65 L167.91,105.75 L167.45,105.92 L167.20,106.01 L166.70,106.20 L166.45,106.30 L165.95,106.48 L165.70,106.58 L165.20,106.75 L164.95,106.83 L164.45,106.98 L164.20,107.05 L163.70,107.17 L163.25,107.25Z" fill="none" stroke="#555" stroke-width="0.5"/><path d="M163.95,108.05 L163.45,108.13 L162.95,108.19 L162.45,108.23 L161.95,108.25 L161.45,108.24 L160.95,108.22 L160.45,108.18 L159.95,108.11 L159.45,108.03 L159.20,107.98 L158.70,107.88 L158.21,107.75 L157.95,107.68 L157.45,107.52 L157.20,107.44 L156.70,107.25 L156.45,107.15 L156.10,107.00 L155.70,106.82 L155.45,106.69 L155.09,106.50 L154.70,106.28 L154.45,106.13 L154.20,105.97 L153.88,105.75 L153.54,105.50 L153.23,105.25 L152.95,105.01 L152.70,104.78 L152.45,104.53 L152.20,104.26 L151.97,104.00 L151.78,103.75 L151.59,103.50 L151.43,103.25 L151.20,102.85 L151.02,102.50 L150.92,102.25 L150.74,101.75 L150.68,101.50 L150.60,101.00 L150.57,100.50 L150.60,100.00 L150.69,99.50 L150.75,99.25 L150.93,98.75 L151.04,98.50 L151.20,98.21 L151.45,97.80 L151.66,97.50 L151.86,97.25 L152.08,97.00 L152.32,96.75 L152.59,96.50 L152.87,96.25 L153.19,96.00 L153.45,95.81 L153.70,95.64 L153.95,95.48 L154.34,95.25 L154.70,95.06 L154.95,94.93 L155.36,94.75 L155.70,94.61 L155.99,94.50 L156.45,94.34 L156.75,94.25 L157.20,94.12 L157.70,94.01 L157.95,93.96 L158.45,93.87 L158.95,93.80 L159.45,93.76 L159.70,93.74 L160.20,93.71 L160.70,93.70 L161.20,93.70 L161.70,93.72 L162.11,93.75 L162.45,93.78 L162.95,93.82 L163.45,93.88 L163.95,93.95 L164.27,94.00 L164.70,94.06 L165.20,94.14 L165.70,94.23 L165.95,94.27 L166.45,94.35 L166.95,94.43 L167.39,94.50 L167.70,94.54 L168.20,94.61 L168.70,94.67 L169.20,94.72 L169.57,94.75 L169.95,94.78 L170.45,94.81 L170.95,94.84 L171.45,94.86 L171.95,94.88 L172.45,94.90 L172.95,94.91 L173.45,94.93 L173.95,94.95 L174.45,94.97 L174.95,94.99 L175.30,95.00 L175.70,95.02 L176.20,95.04 L176.70,95.07 L177.20,95.09 L177.70,95.12 L178.20,95.16 L178.70,95.19 L179.20,95.23 L179.45,95.25 L179.95,95.29 L180.45,95.33 L180.95,95.37 L181.45,95.42 L181.95,95.47 L182.28,95.50 L182.70,95.54 L183.20,95.59 L183.70,95.64 L184.20,95.69 L184.70,95.75 L184.95,95.77 L185.45,95.82 L185.95,95.88 L186.45,95.93 L186.95,95.99 L187.20,96.01 L187.70,96.07 L188.20,96.12 L188.70,96.18 L189.20,96.23 L189.45,96.26 L189.95,96.31 L190.45,96.37 L190.95,96.43 L191.45,96.48 L191.70,96.51 L192.20,96.57 L192.70,96.63 L193.20,96.69 L193.70,96.75 L194.20,96.81 L194.70,96.88 L195.20,96.94 L195.61,97.00 L195.95,97.05 L196.45,97.12 L196.95,97.20 L197.30,97.25 L197.70,97.32 L198.20,97.40 L198.70,97.49 L198.95,97.53 L199.45,97.63 L199.95,97.74 L200.20,97.79 L200.70,97.91 L201.05,98.00 L201.45,98.12 L201.86,98.25 L202.20,98.39 L202.47,98.50 L202.88,98.75 L203.11,99.00 L203.06,99.50 L202.80,99.75 L202.45,99.98 L202.20,100.10 L201.90,100.25 L201.45,100.43 L201.20,100.53 L200.70,100.70 L200.45,100.78 L199.95,100.94 L199.70,101.01 L199.20,101.15 L198.84,101.25 L198.45,101.35 L197.95,101.48 L197.70,101.54 L197.20,101.66 L196.81,101.75 L196.45,101.83 L195.95,101.94 L195.67,102.00 L195.20,102.10 L194.70,102.20 L194.45,102.25 L193.95,102.35 L193.45,102.45 L193.20,102.50 L192.70,102.59 L192.20,102.69 L191.88,102.75 L191.45,102.83 L190.95,102.92 L190.54,103.00 L190.20,103.06 L189.70,103.16 L189.20,103.25 L188.95,103.29 L188.45,103.39 L187.95,103.48 L187.70,103.53 L187.20,103.62 L186.70,103.71 L186.45,103.76 L185.95,103.85 L185.45,103.94 L185.10,104.00 L184.70,104.07 L184.20,104.16 L183.70,104.24 L183.45,104.29 L182.95,104.37 L182.45,104.45 L182.15,104.50 L181.70,104.57 L181.20,104.65 L180.70,104.72 L180.45,104.75 L179.95,104.83 L179.45,104.89 L178.95,104.95 L178.56,105.00 L178.20,105.04 L177.70,105.10 L177.20,105.15 L176.70,105.20 L176.20,105.25 L175.95,105.27 L175.45,105.32 L174.95,105.37 L174.45,105.41 L173.95,105.46 L173.47,105.50 L173.20,105.53 L172.70,105.58 L172.20,105.64 L171.70,105.71 L171.44,105.75 L170.95,105.84 L170.45,105.94 L170.16,106.00 L169.70,106.12 L169.23,106.25 L168.95,106.34 L168.47,106.50 L168.20,106.60 L167.80,106.75 L167.45,106.89 L167.18,107.00 L166.70,107.19 L166.45,107.29 L165.95,107.48 L165.70,107.57 L165.20,107.73 L164.95,107.81 L164.45,107.94 L164.19,108.00Z" fill="none" stroke="#666" stroke-width="0.5"/><path d="M150.20,97.34 L150.45,97.02 L150.67,96.75 L150.90,96.50 L151.15,96.25 L151.42,96.00 L151.70,95.75 L151.95,95.55 L152.20,95.36 L152.45,95.18 L152.72,95.00 L153.11,94.75 L153.45,94.55 L153.70,94.42 L154.03,94.25 L154.45,94.05 L154.70,93.94 L155.17,93.75 L155.45,93.64 L155.89,93.50 L156.20,93.40 L156.70,93.27 L156.95,93.20 L157.45,93.09 L157.95,93.00 L158.20,92.96 L158.70,92.89 L159.20,92.84 L159.70,92.80 L160.20,92.78 L160.70,92.78 L161.20,92.78 L161.70,92.80 L162.20,92.83 L162.70,92.87 L163.20,92.92 L163.70,92.98 L163.95,93.01 L164.45,93.07 L164.95,93.14 L165.45,93.22 L165.70,93.26 L166.20,93.33 L166.70,93.40 L167.20,93.47 L167.45,93.51 L167.95,93.56 L168.45,93.62 L168.95,93.66 L169.45,93.70 L169.95,93.74 L170.45,93.76 L170.95,93.78 L171.45,93.80 L171.95,93.81 L172.45,93.82 L172.95,93.83 L173.45,93.84 L173.95,93.84 L174.45,93.85 L174.95,93.86 L175.45,93.87 L175.95,93.88 L176.45,93.89 L176.95,93.91 L177.45,93.92 L177.95,93.94 L178.45,93.96 L178.95,93.98 L179.45,94.00 L179.70,94.01 L180.20,94.03 L180.70,94.05 L181.20,94.07 L181.70,94.09 L182.20,94.12 L182.70,94.14 L183.20,94.17 L183.70,94.19 L184.20,94.22 L184.70,94.25 L184.95,94.26 L185.45,94.29 L185.95,94.31 L186.45,94.34 L186.95,94.36 L187.45,94.39 L187.95,94.42 L188.45,94.45 L188.95,94.47 L189.39,94.50 L189.70,94.52 L190.20,94.55 L190.70,94.58 L191.20,94.61 L191.70,94.64 L192.20,94.67 L192.70,94.71 L193.20,94.74 L193.45,94.76 L193.95,94.80 L194.45,94.84 L194.95,94.88 L195.45,94.92 L195.95,94.96 L196.34,95.00 L196.70,95.03 L197.20,95.08 L197.70,95.13 L198.20,95.18 L198.70,95.23 L198.95,95.26 L199.45,95.31 L199.95,95.36 L200.45,95.42 L200.95,95.48 L201.20,95.51 L201.70,95.57 L202.20,95.63 L202.70,95.69 L203.18,95.75 L203.45,95.78 L203.95,95.85 L204.45,95.92 L204.95,95.99 L205.20,96.02 L205.70,96.10 L206.20,96.17 L206.70,96.25 L206.95,96.29 L207.45,96.37 L207.95,96.46 L208.20,96.50 L208.70,96.59 L209.20,96.69 L209.49,96.75 L209.95,96.85 L210.45,96.97 L210.70,97.03 L211.20,97.16 L211.52,97.25 L211.95,97.39 L212.29,97.50 L212.70,97.66 L212.95,97.77 L213.40,98.00 L213.70,98.21 L213.95,98.44 L214.15,98.75 L214.11,99.25 L213.94,99.50 L213.67,99.75 L213.30,100.00 L212.95,100.19 L212.70,100.31 L212.27,100.50 L211.95,100.62 L211.61,100.75 L211.20,100.89 L210.86,101.00 L210.45,101.12 L210.02,101.25 L209.70,101.34 L209.20,101.48 L208.95,101.54 L208.45,101.67 L208.14,101.75 L207.70,101.86 L207.20,101.98 L206.95,102.04 L206.45,102.16 L206.05,102.25 L205.70,102.33 L205.20,102.44 L204.93,102.50 L204.45,102.61 L203.95,102.71 L203.70,102.77 L203.20,102.87 L202.70,102.97 L202.45,103.02 L201.95,103.12 L201.45,103.22 L201.20,103.27 L200.70,103.36 L200.20,103.45 L199.94,103.50 L199.45,103.59 L198.95,103.67 L198.47,103.75 L198.20,103.79 L197.70,103.87 L197.20,103.95 L196.86,104.00 L196.45,104.06 L195.95,104.13 L195.45,104.20 L195.07,104.25 L194.70,104.30 L194.20,104.36 L193.70,104.43 L193.20,104.49 L192.95,104.52 L192.45,104.58 L191.95,104.64 L191.45,104.70 L191.02,104.75 L190.70,104.79 L190.20,104.85 L189.70,104.91 L189.20,104.96 L188.89,105.00 L188.45,105.05 L187.95,105.11 L187.45,105.17 L186.95,105.23 L186.70,105.26 L186.20,105.32 L185.70,105.38 L185.20,105.44 L184.70,105.50 L184.45,105.53 L183.95,105.59 L183.45,105.65 L182.95,105.71 L182.57,105.75 L182.20,105.79 L181.70,105.85 L181.20,105.90 L180.70,105.96 L180.26,106.00 L179.95,106.03 L179.45,106.08 L178.95,106.13 L178.45,106.18 L177.95,106.22 L177.57,106.25 L177.20,106.28 L176.70,106.32 L176.20,106.37 L175.70,106.41 L175.20,106.45 L174.70,106.49 L174.45,106.51 L173.95,106.56 L173.45,106.62 L172.95,106.68 L172.45,106.75 L172.20,106.79 L171.70,106.88 L171.20,106.99 L170.95,107.05 L170.45,107.19 L170.20,107.26 L169.70,107.44 L169.45,107.53 L168.95,107.73 L168.70,107.84 L168.32,108.00 L167.95,108.17 L167.70,108.28 L167.20,108.49 L166.95,108.60 L166.55,108.75 L166.20,108.88 L165.81,109.00 L165.45,109.10 L164.95,109.22 L164.70,109.27 L164.20,109.36 L163.70,109.42 L163.20,109.46 L162.70,109.47 L162.20,109.47 L161.70,109.45 L161.20,109.42 L160.70,109.37 L160.20,109.30 L159.93,109.25 L159.45,109.16 L158.95,109.06 L158.70,108.99 L158.20,108.87 L157.80,108.75 L157.45,108.64 L157.03,108.50 L156.70,108.38 L156.36,108.25 L155.95,108.09 L155.70,107.98 L155.21,107.75 L154.95,107.62 L154.70,107.49 L154.25,107.25 L153.95,107.08 L153.70,106.92 L153.43,106.75 L153.06,106.50 L152.72,106.25 L152.45,106.05 L152.20,105.85 L151.95,105.63 L151.70,105.41 L151.45,105.17 L151.20,104.92 L150.95,104.65 L150.70,104.36 L150.45,104.04 L150.24,103.75" fill="none" stroke="#777" stroke-width="0.5"/><path d="M150.20,94.69 L150.46,94.50 L150.81,94.25 L151.19,94.00 L151.45,93.83 L151.70,93.68 L152.01,93.50 L152.45,93.26 L152.70,93.13 L152.98,93.00 L153.45,92.78 L153.70,92.67 L154.14,92.50 L154.45,92.38 L154.84,92.25 L155.20,92.13 L155.65,92.00 L155.95,91.92 L156.45,91.80 L156.70,91.74 L157.20,91.64 L157.70,91.56 L158.12,91.50 L158.45,91.46 L158.95,91.41 L159.45,91.37 L159.95,91.34 L160.45,91.33 L160.95,91.33 L161.45,91.34 L161.95,91.37 L162.45,91.40 L162.95,91.44 L163.45,91.49 L163.70,91.51 L164.20,91.57 L164.70,91.63 L165.20,91.69 L165.61,91.75 L165.95,91.79 L166.45,91.85 L166.95,91.91 L167.45,91.97 L167.71,92.00 L168.20,92.04 L168.70,92.08 L169.20,92.11 L169.70,92.14 L170.20,92.16 L170.70,92.17 L171.20,92.18 L171.70,92.19 L172.20,92.19 L172.70,92.19 L173.20,92.19 L173.70,92.18 L174.20,92.18 L174.70,92.17 L175.20,92.17 L175.70,92.17 L176.20,92.16 L176.70,92.16 L177.20,92.16 L177.70,92.16 L178.20,92.15 L178.70,92.15 L179.20,92.15 L179.70,92.15 L180.20,92.16 L180.70,92.16 L181.20,92.16 L181.70,92.16 L182.20,92.16 L182.70,92.17 L183.20,92.17 L183.70,92.18 L184.20,92.18 L184.70,92.18 L185.20,92.19 L185.70,92.20 L186.20,92.20 L186.70,92.21 L187.20,92.22 L187.70,92.23 L188.20,92.24 L188.59,92.25 L188.95,92.26 L189.45,92.27 L189.95,92.28 L190.45,92.30 L190.95,92.32 L191.45,92.34 L191.95,92.36 L192.45,92.38 L192.95,92.40 L193.45,92.43 L193.95,92.46 L194.45,92.49 L194.70,92.50 L195.20,92.53 L195.70,92.57 L196.20,92.60 L196.70,92.64 L197.20,92.68 L197.70,92.72 L198.02,92.75 L198.45,92.79 L198.95,92.83 L199.45,92.88 L199.95,92.93 L200.45,92.98 L200.70,93.01 L201.20,93.06 L201.70,93.11 L202.20,93.17 L202.70,93.23 L202.95,93.26 L203.45,93.32 L203.95,93.38 L204.45,93.44 L204.92,93.50 L205.20,93.53 L205.70,93.60 L206.20,93.66 L206.70,93.73 L206.95,93.76 L207.45,93.83 L207.95,93.90 L208.45,93.97 L208.70,94.00 L209.20,94.07 L209.70,94.14 L210.20,94.22 L210.45,94.25 L210.95,94.33 L211.45,94.40 L211.95,94.48 L212.20,94.52 L212.70,94.60 L213.20,94.68 L213.59,94.75 L213.95,94.81 L214.45,94.90 L214.95,94.99 L215.20,95.04 L215.70,95.13 L216.20,95.24 L216.45,95.29 L216.95,95.40 L217.40,95.50 L217.70,95.57 L218.20,95.69 L218.45,95.76 L218.95,95.89 L219.32,96.00 L219.70,96.11 L220.12,96.25 L220.45,96.36 L220.83,96.50 L221.20,96.65 L221.45,96.75 L221.95,96.99 L222.20,97.12 L222.45,97.26 L222.82,97.50 L223.13,97.75 L223.38,98.00 L223.56,98.25 L223.70,98.56 L223.74,99.00 L223.68,99.25 L223.45,99.66 L223.20,99.94 L222.95,100.16 L222.70,100.35 L222.45,100.52 L222.06,100.75 L221.70,100.93 L221.45,101.05 L221.01,101.25 L220.70,101.38 L220.39,101.50 L219.95,101.66 L219.70,101.75 L219.20,101.92 L218.95,102.00 L218.45,102.16 L218.13,102.25 L217.70,102.38 L217.26,102.50 L216.95,102.59 L216.45,102.72 L216.20,102.79 L215.70,102.92 L215.36,103.00 L214.95,103.11 L214.45,103.23 L214.20,103.29 L213.70,103.41 L213.33,103.50 L212.95,103.59 L212.45,103.71 L212.20,103.77 L211.70,103.89 L211.20,104.00 L210.70,104.12 L210.20,104.23 L209.95,104.29 L209.45,104.40 L209.00,104.50 L208.70,104.57 L208.20,104.68 L207.85,104.75 L207.45,104.84 L206.95,104.94 L206.66,105.00 L206.20,105.10 L205.70,105.20 L205.41,105.25 L204.95,105.34 L204.45,105.43 L204.07,105.50 L203.70,105.57 L203.20,105.65 L202.70,105.74 L202.45,105.78 L201.95,105.86 L201.45,105.93 L200.99,106.00 L200.70,106.04 L200.20,106.11 L199.70,106.18 L199.20,106.24 L198.95,106.27 L198.45,106.34 L197.95,106.39 L197.45,106.45 L196.95,106.50 L196.70,106.53 L196.20,106.58 L195.70,106.63 L195.20,106.67 L194.70,106.72 L194.29,106.75 L193.95,106.78 L193.45,106.82 L192.95,106.86 L192.45,106.90 L191.95,106.94 L191.45,106.97 L191.04,107.00 L190.70,107.03 L190.20,107.06 L189.70,107.10 L189.20,107.13 L188.70,107.17 L188.20,107.20 L187.70,107.23 L187.43,107.25 L186.95,107.28 L186.45,107.32 L185.95,107.36 L185.45,107.39 L184.95,107.42 L184.45,107.46 L183.95,107.49 L183.70,107.51 L183.20,107.55 L182.70,107.58 L182.20,107.62 L181.70,107.65 L181.20,107.68 L180.70,107.72 L180.20,107.75 L179.95,107.76 L179.45,107.80 L178.95,107.83 L178.45,107.87 L177.95,107.90 L177.45,107.93 L176.95,107.97 L176.51,108.00 L176.20,108.03 L175.70,108.08 L175.20,108.13 L174.70,108.19 L174.25,108.25 L173.95,108.30 L173.45,108.40 L172.99,108.50 L172.70,108.58 L172.20,108.73 L171.95,108.82 L171.48,109.00 L171.20,109.13 L170.92,109.25 L170.45,109.48 L170.20,109.61 L169.93,109.75 L169.45,110.00 L169.20,110.13 L168.93,110.25 L168.45,110.47 L168.20,110.57 L167.72,110.75 L167.45,110.84 L166.95,110.99 L166.70,111.05 L166.20,111.16 L165.70,111.25 L165.45,111.29 L164.95,111.34 L164.45,111.38 L163.95,111.40 L163.45,111.40 L162.95,111.39 L162.45,111.36 L161.95,111.32 L161.45,111.26 L161.20,111.23 L160.70,111.16 L160.20,111.07 L159.88,111.00 L159.45,110.91 L158.95,110.79 L158.70,110.73 L158.20,110.60 L157.89,110.50 L157.45,110.37 L157.10,110.25 L156.70,110.12 L156.39,110.00 L155.95,109.84 L155.70,109.73 L155.20,109.52 L154.95,109.41 L154.60,109.25 L154.20,109.06 L153.95,108.93 L153.61,108.75 L153.20,108.53 L152.95,108.39 L152.70,108.23 L152.32,108.00 L151.95,107.76 L151.70,107.59 L151.45,107.41 L151.20,107.23 L150.90,107.00 L150.58,106.75 L150.28,106.50" fill="none" stroke="#7a7a7a" stroke-width="0.5"/>
<path d="M161.1,113.5h0.8 M170.5,119.7h0.8 M166.7,111.8h0.8 M225.5,97.1h0.8 M164.5,118.8h0.8 M227.4,98.2h0.8 M165.1,112.2h0.8 M166.2,118.2h0.8 M163.6,119.5h0.8 M160.5,119.6h0.8 M217.4,95.2h0.8 M193.3,108.4h0.8 M166.2,113.4h0.8 M158.6,114.7h0.8 M223.6,94.9h0.8 M227.6,98.9h0.8 M158.6,116.6h0.8 M164.5,115.3h0.8 M198.2,107.3h0.8 M220.7,93.6h0.8 M226.1,100.5h0.8 M183.2,109.3h0.8 M174.1,87.7h0.8 M219.7,94.4h0.8 M225.6,98.2h0.8 M209.0,106.5h0.8 M161.0,119.7h0.8 M221.5,102.1h0.8 M219.7,102.7h0.8 M156.9,119.9h0.8 M166.8,113.1h0.8 M225.3,96.0h0.8 M190.0,110.9h0.8 M211.3,111.7h0.8 M168.3,113.7h0.8 M205.3,111.4h0.8 M193.1,109.8h0.8 M163.8,113.0h0.8 M180.1,110.9h0.8 M158.9,115.6h0.8 M207.6,92.1h0.8 M199.5,107.7h0.8 M165.7,115.7h0.8 M205.4,91.8h0.8 M169.3,119.5h0.8 M203.9,90.8h0.8 M163.3,119.9h0.8 M164.4,114.6h0.8 M172.4,115.7h0.8 M220.4,94.2h0.8 M163.2,115.9h0.8 M182.5,108.7h0.8 M223.2,97.3h0.8 M159.8,120.7h0.8 M161.0,112.9h0.8 M227.3,96.0h0.8 M228.7,94.5h0.8 M159.4,119.1h0.8 M209.3,93.5h0.8 M204.3,93.0h0.8 M172.2,115.7h0.8 M221.7,91.1h0.8 M166.4,112.4h0.8 M227.5,99.6h0.8 M154.8,115.8h0.8 M177.3,120.0h0.8 M205.6,92.8h0.8 M189.0,110.1h0.8 M228.3,97.4h0.8 M160.5,111.9h0.8 M228.4,100.3h0.8 M167.2,115.6h0.8 M162.9,115.4h0.8 M207.4,105.6h0.8 M217.7,102.8h0.8 M200.0,111.4h0.8 M162.2,116.8h0.8 M227.0,99.7h0.8 M191.5,110.5h0.8 M168.2,116.7h0.8 M228.2,100.4h0.8 M185.2,121.2h0.8 M162.0,112.4h0.8 M187.7,91.6h0.8 M193.8,108.7h0.8 M203.9,91.2h0.8 M164.0,114.8h0.8 M159.0,119.8h0.8 M201.1,108.4h0.8 M166.1,113.5h0.8 M164.6,114.2h0.8 M163.9,117.9h0.8 M157.0,118.3h0.8 M215.7,94.7h0.8 M228.2,96.0h0.8 M218.2,94.9h0.8 M174.1,118.3h0.8 M217.2,93.7h0.8 M225.9,97.5h0.8 M223.7,101.5h0.8 M214.0,92.3h0.8 M190.3,110.3h0.8 M219.1,102.7h0.8 M224.0,97.8h0.8 M220.8,93.2h0.8 M217.7,94.7h0.8 M155.9,117.0h0.8 M164.6,114.4h0.8 M187.5,88.3h0.8 M199.9,91.2h0.8 M162.6,116.0h0.8 M158.0,112.9h0.8 M160.9,113.4h0.8 M185.2,89.8h0.8 M221.6,102.5h0.8 M189.2,92.0h0.8 M226.2,97.6h0.8 M198.0,87.4h0.8 M223.7,102.7h0.8 M225.1,101.6h0.8 M180.2,91.8h0.8 M193.0,110.8h0.8 M189.9,115.7h0.8 M206.1,93.4h0.8 M219.9,94.3h0.8 M177.2,111.8h0.8 M215.0,91.8h0.8 M228.8,102.0h0.8 M192.6,110.5h0.8 M198.8,92.5h0.8 M163.6,115.3h0.8 M224.8,96.8h0.8 M205.7,90.4h0.8 M208.0,120.4h0.8 M185.7,114.3h0.8 M170.7,116.9h0.8 M165.8,116.7h0.8 M225.6,101.2h0.8 M166.4,114.3h0.8 M222.6,92.4h0.8 M192.5,112.1h0.8 M168.0,115.4h0.8 M216.4,93.3h0.8 M164.5,116.0h0.8 M224.7,98.4h0.8 M194.5,91.1h0.8 M158.3,120.5h0.8 M218.9,95.2h0.8 M159.6,88.2h0.8 M167.5,117.3h0.8 M227.6,99.3h0.8 M226.2,99.3h0.8 M224.7,98.6h0.8 M224.5,98.9h0.8 M205.0,110.2h0.8 M224.3,101.5h0.8 M185.5,111.4h0.8 M161.6,114.6h0.8 M224.4,92.0h0.8 M216.2,94.1h0.8" stroke="#a0a0a0" stroke-width="0.8" fill="none"/>
<path d="M182.70,84.28 L182.20,84.34 L181.70,84.36 L181.20,84.32 L180.77,84.25 L180.45,84.18 L179.95,84.01 L179.70,83.90 L179.40,83.75 L178.99,83.50 L178.70,83.28 L178.45,83.06 L178.20,82.81 L177.95,82.51 L177.77,82.25 L177.61,82.00 L177.45,81.67 L177.29,81.25 L177.20,80.93 L177.12,80.50 L177.09,80.00 L177.12,79.50 L177.20,79.07 L177.29,78.75 L177.45,78.33 L177.61,78.00 L177.77,77.75 L177.95,77.49 L178.20,77.19 L178.45,76.94 L178.70,76.72 L178.99,76.50 L179.40,76.25 L179.70,76.10 L179.95,75.99 L180.45,75.82 L180.77,75.75 L181.20,75.68 L181.70,75.64 L182.20,75.66 L182.70,75.72 L182.95,75.77 L183.45,75.92 L183.70,76.01 L184.20,76.25 L184.45,76.40 L184.70,76.57 L184.95,76.76 L185.22,77.00 L185.45,77.25 L185.70,77.56 L185.95,77.94 L186.11,78.25 L186.22,78.50 L186.39,79.00 L186.45,79.31 L186.50,79.75 L186.50,80.25 L186.45,80.69 L186.39,81.00 L186.22,81.50 L186.11,81.75 L185.95,82.06 L185.70,82.44 L185.45,82.75 L185.22,83.00 L184.95,83.24 L184.70,83.43 L184.45,83.60 L184.20,83.75 L183.70,83.99 L183.45,84.08 L182.95,84.23 L182.70,84.28Z" fill="none" stroke="#5a5a5a" stroke-width="0.45"/>
<path d="M168.4,85.7h0.8 M171.2,85.2h0.8 M173.6,79.9h0.8 M185.4,85.8h0.8 M189.7,79.5h0.8 M175.1,80.9h0.8 M174.5,79.3h0.8 M193.8,84.5h0.8 M177.1,73.4h0.8 M188.8,74.9h0.8 M177.7,77.3h0.8 M174.2,78.0h0.8 M191.7,79.8h0.8 M183.9,84.8h0.8 M190.4,73.7h0.8 M183.1,74.7h0.8 M180.6,70.4h0.8 M177.5,74.3h0.8 M184.6,85.3h0.8 M175.2,70.1h0.8 M176.8,69.1h0.8 M171.7,75.3h0.8 M173.6,70.5h0.8 M182.0,74.9h0.8 M197.4,70.3h0.8 M193.6,63.5h0.8 M182.4,69.8h0.8 M176.6,71.6h0.8 M183.2,74.0h0.8 M194.6,76.6h0.8 M170.0,84.3h0.8 M190.1,76.1h0.8 M182.9,74.2h0.8 M187.5,74.3h0.8 M192.0,75.1h0.8 M179.3,89.2h0.8 M177.7,75.5h0.8 M189.5,78.8h0.8 M216.8,78.6h0.8 M181.8,71.5h0.8 M192.8,73.1h0.8 M183.2,67.6h0.8 M173.3,75.0h0.8 M189.5,80.0h0.8 M180.3,74.3h0.8 M189.2,66.7h0.8 M185.8,74.5h0.8 M174.7,76.4h0.8 M206.0,80.5h0.8 M176.8,82.3h0.8 M173.4,80.7h0.8 M171.8,72.4h0.8 M190.7,70.8h0.8 M180.6,72.4h0.8 M187.0,74.3h0.8 M191.9,69.7h0.8 M179.4,73.9h0.8 M187.3,75.9h0.8 M185.3,84.5h0.8 M169.6,77.2h0.8 M192.1,74.9h0.8 M188.5,78.0h0.8 M180.2,86.4h0.8 M190.7,85.7h0.8 M175.3,74.4h0.8 M190.9,74.8h0.8 M192.3,71.3h0.8 M199.8,78.1h0.8 M176.6,72.9h0.8 M178.2,84.5h0.8 M189.7,73.4h0.8 M187.2,78.2h0.8 M186.9,77.8h0.8 M183.1,67.5h0.8 M192.1,84.8h0.8 M184.0,75.8h0.8 M180.7,73.4h0.8 M165.3,65.3h0.8 M194.5,65.4h0.8 M188.3,77.7h0.8 M186.6,71.4h0.8 M191.1,78.5h0.8 M167.7,78.5h0.8 M190.0,78.7h0.8 M194.5,75.5h0.8 M185.1,68.2h0.8 M178.2,70.4h0.8 M194.2,70.1h0.8 M187.4,76.8h0.8 M198.1,72.1h0.8 M172.6,74.7h0.8 M188.0,77.5h0.8 M173.7,80.7h0.8 M193.2,78.1h0.8 M181.0,73.2h0.8 M200.0,80.9h0.8 M185.0,74.5h0.8 M188.5,78.5h0.8 M172.3,79.0h0.8 M180.2,85.4h0.8 M173.4,73.1h0.8 M183.3,72.9h0.8 M176.1,69.3h0.8 M172.3,75.3h0.8 M172.5,69.4h0.8 M193.5,68.9h0.8 M177.0,83.3h0.8 M183.2,61.6h0.8 M180.1,87.4h0.8 M183.5,85.6h0.8 M170.9,78.2h0.8 M173.7,77.8h0.8 M177.4,84.9h0.8 M203.0,70.6h0.8 M178.8,75.9h0.8 M174.2,74.1h0.8 M177.8,67.0h0.8 M162.2,77.7h0.8 M161.8,69.0h0.8 M204.3,77.0h0.8 M161.0,70.4h0.8 M189.6,77.5h0.8 M186.4,84.8h0.8 M177.1,71.0h0.8 M201.9,67.4h0.8 M185.1,70.9h0.8 M173.0,70.1h0.8 M174.3,77.5h0.8 M165.9,73.9h0.8 M167.3,75.9h0.8 M169.4,82.5h0.8 M178.7,75.2h0.8 M202.2,71.1h0.8 M184.5,69.3h0.8 M178.4,74.8h0.8 M192.7,65.8h0.8 M189.4,74.8h0.8 M172.4,76.9h0.8 M181.6,68.9h0.8 M171.8,80.6h0.8 M189.6,71.2h0.8 M194.3,71.6h0.8 M192.5,72.0h0.8 M192.1,78.3h0.8 M178.5,72.9h0.8 M186.6,75.2h0.8 M184.9,76.1h0.8 M198.5,71.3h0.8 M176.8,70.3h0.8 M186.3,75.5h0.8 M185.6,65.0h0.8 M177.7,74.4h0.8 M173.3,80.3h0.8 M174.6,75.1h0.8 M192.2,74.5h0.8 M177.3,82.3h0.8 M188.3,87.3h0.8 M180.8,70.6h0.8 M188.6,67.5h0.8 M176.1,70.4h0.8 M178.6,68.5h0.8 M171.5,71.7h0.8 M189.3,72.4h0.8 M188.7,69.9h0.8 M191.6,75.0h0.8 M200.7,74.3h0.8 M179.8,75.0h0.8 M187.9,74.7h0.8 M176.5,81.7h0.8 M189.7,80.7h0.8 M175.1,77.3h0.8 M175.7,67.7h0.8 M208.0,72.4h0.8 M202.6,87.3h0.8 M196.7,72.5h0.8 M186.0,84.1h0.8 M189.2,75.0h0.8 M182.5,73.7h0.8 M175.2,73.9h0.8 M188.0,72.4h0.8 M180.8,85.1h0.8 M185.9,84.4h0.8 M180.3,71.7h0.8 M190.7,71.3h0.8 M179.9,75.1h0.8 M171.7,65.6h0.8 M183.2,74.6h0.8 M185.5,64.2h0.8 M173.4,77.7h0.8 M176.2,80.1h0.8 M185.3,75.4h0.8 M164.8,80.2h0.8 M183.4,69.5h0.8 M223.1,75.0h0.8 M177.8,77.2h0.8 M188.6,80.3h0.8 M178.4,71.8h0.8 M183.3,69.8h0.8 M182.7,75.3h0.8 M171.3,68.9h0.8 M186.7,82.6h0.8 M192.4,72.2h0.8 M183.3,75.5h0.8 M197.5,73.0h0.8 M189.8,69.5h0.8 M175.4,80.4h0.8 M178.4,68.7h0.8 M180.8,75.0h0.8 M179.2,75.6h0.8 M226.9,78.6h0.8 M190.4,73.8h0.8 M177.1,78.5h0.8 M190.9,73.8h0.8 M208.7,66.6h0.8 M217.4,76.7h0.8 M183.5,70.7h0.8 M187.4,69.2h0.8 M185.1,76.0h0.8 M188.0,77.9h0.8 M203.8,63.8h0.8 M193.4,70.5h0.8 M187.1,75.3h0.8 M206.6,67.7h0.8 M183.9,72.0h0.8 M194.3,75.5h0.8 M187.2,84.4h0.8 M180.1,70.9h0.8 M187.8,85.4h0.8 M188.4,79.8h0.8 M176.0,79.6h0.8 M189.5,74.0h0.8 M187.1,80.0h0.8 M190.2,71.4h0.8 M180.0,85.5h0.8 M171.7,86.2h0.8 M174.7,77.5h0.8 M181.1,69.8h0.8 M177.0,73.2h0.8 M176.6,80.7h0.8 M189.8,82.5h0.8 M184.7,73.1h0.8 M183.2,74.7h0.8 M186.0,73.7h0.8 M185.1,71.8h0.8 M169.8,79.8h0.8 M179.9,85.7h0.8 M185.3,74.5h0.8 M185.9,66.5h0.8 M187.1,73.7h0.8 M166.4,79.9h0.8 M187.5,76.1h0.8 M178.0,76.3h0.8 M176.8,82.1h0.8 M184.8,66.2h0.8 M180.7,69.9h0.8 M178.9,76.3h0.8 M194.0,65.8h0.8 M170.9,76.1h0.8 M189.7,70.8h0.8 M176.5,70.0h0.8" stroke="#a0a0a0" stroke-width="0.8" fill="none"/>
<line x1="150.2" y1="40.7" x2="150.2" y2="124.2" stroke="#c4c4c4" stroke-width="0.7" />
<line x1="149.7" y1="123.7" x2="232.4" y2="123.7" stroke="#444" stroke-width="0.9" />
<line x1="151.0" y1="123.7" x2="151.0" y2="125.9" stroke="#333" stroke-width="0.8" />
<line x1="154.1" y1="123.7" x2="154.1" y2="124.9" stroke="#666" stroke-width="0.5" />
<line x1="157.2" y1="123.7" x2="157.2" y2="124.9" stroke="#666" stroke-width="0.5" />
<line x1="160.3" y1="123.7" x2="160.3" y2="124.9" stroke="#666" stroke-width="0.5" />
<line x1="163.4" y1="123.7" x2="163.4" y2="124.9" stroke="#666" stroke-width="0.5" />
<line x1="166.5" y1="123.7" x2="166.5" y2="125.9" stroke="#333" stroke-width="0.8" />
<line x1="169.6" y1="123.7" x2="169.6" y2="124.9" stroke="#666" stroke-width="0.5" />
<line x1="172.7" y1="123.7" x2="172.7" y2="124.9" stroke="#666" stroke-width="0.5" />
<line x1="175.8" y1="123.7" x2="175.8" y2="124.9" stroke="#666" stroke-width="0.5" />
<line x1="178.9" y1="123.7" x2="178.9" y2="124.9" stroke="#666" stroke-width="0.5" />
<line x1="182.0" y1="123.7" x2="182.0" y2="125.9" stroke="#333" stroke-width="0.8" />
<line x1="185.1" y1="123.7" x2="185.1" y2="124.9" stroke="#666" stroke-width="0.5" />
<line x1="188.2" y1="123.7" x2="188.2" y2="124.9" stroke="#666" stroke-width="0.5" />
<line x1="191.3" y1="123.7" x2="191.3" y2="124.9" stroke="#666" stroke-width="0.5" />
<line x1="194.4" y1="123.7" x2="194.4" y2="124.9" stroke="#666" stroke-width="0.5" />
<line x1="197.5" y1="123.7" x2="197.5" y2="125.9" stroke="#333" stroke-width="0.8" />
<line x1="200.6" y1="123.7" x2="200.6" y2="124.9" stroke="#666" stroke-width="0.5" />
<line x1="203.7" y1="123.7" x2="203.7" y2="124.9" stroke="#666" stroke-width="0.5" />
<line x1="206.8" y1="123.7" x2="206.8" y2="124.9" stroke="#666" stroke-width="0.5" />
<line x1="209.9" y1="123.7" x2="209.9" y2="124.9" stroke="#666" stroke-width="0.5" />
<line x1="213.0" y1="123.7" x2="213.0" y2="125.9" stroke="#333" stroke-width="0.8" />
<line x1="216.1" y1="123.7" x2="216.1" y2="124.9" stroke="#666" stroke-width="0.5" />
<line x1="219.2" y1="123.7" x2="219.2" y2="124.9" stroke="#666" stroke-width="0.5" />
<line x1="222.3" y1="123.7" x2="222.3" y2="124.9" stroke="#666" stroke-width="0.5" />
<line x1="225.4" y1="123.7" x2="225.4" y2="124.9" stroke="#666" stroke-width="0.5" />
<line x1="228.5" y1="123.7" x2="228.5" y2="125.9" stroke="#333" stroke-width="0.8" />
<line x1="231.6" y1="123.7" x2="231.6" y2="124.9" stroke="#666" stroke-width="0.5" />
<text x="151.0" y="129.6" font-size="4.2" text-anchor="middle" font-weight="normal" font-style="normal" fill="#777" >0</text>
<text x="166.5" y="129.6" font-size="4.2" text-anchor="middle" font-weight="normal" font-style="normal" fill="#777" >50K</text>
<text x="182.0" y="129.6" font-size="4.2" text-anchor="middle" font-weight="normal" font-style="normal" fill="#777" >100K</text>
<text x="197.5" y="129.6" font-size="4.2" text-anchor="middle" font-weight="normal" font-style="normal" fill="#777" >150K</text>
<text x="213.0" y="129.6" font-size="4.2" text-anchor="middle" font-weight="normal" font-style="normal" fill="#777" >200K</text>
<text x="228.5" y="129.6" font-size="4.2" text-anchor="middle" font-weight="normal" font-style="normal" fill="#777" >250K</text>
<line x1="147.39999999999998" y1="49.4" x2="150.2" y2="49.4" stroke="#333" stroke-width="0.8" />
<text x="144.39999999999998" y="52.6" font-size="4.2" text-anchor="end" font-weight="normal" font-style="normal" fill="#9a9a9a" >10</text>
<text x="144.6" y="50.0" font-size="3" text-anchor="start" font-weight="normal" font-style="normal" fill="#9a9a9a" >5</text>
<line x1="147.39999999999998" y1="69.4" x2="150.2" y2="69.4" stroke="#333" stroke-width="0.8" />
<text x="144.39999999999998" y="72.60000000000001" font-size="4.2" text-anchor="end" font-weight="normal" font-style="normal" fill="#9a9a9a" >10</text>
<text x="144.6" y="70.0" font-size="3" text-anchor="start" font-weight="normal" font-style="normal" fill="#9a9a9a" >4</text>
<line x1="147.39999999999998" y1="92.3" x2="150.2" y2="92.3" stroke="#333" stroke-width="0.8" />
<text x="144.39999999999998" y="95.5" font-size="4.2" text-anchor="end" font-weight="normal" font-style="normal" fill="#9a9a9a" >10</text>
<text x="144.6" y="92.89999999999999" font-size="3" text-anchor="start" font-weight="normal" font-style="normal" fill="#9a9a9a" >3</text>
<line x1="147.39999999999998" y1="100.3" x2="150.2" y2="100.3" stroke="#333" stroke-width="0.8" />
<text x="144.39999999999998" y="103.5" font-size="4.2" text-anchor="end" font-weight="normal" font-style="normal" fill="#9a9a9a" >0</text>
<line x1="147.39999999999998" y1="108.8" x2="150.2" y2="108.8" stroke="#333" stroke-width="0.8" />
<text x="144.39999999999998" y="112.0" font-size="4.2" text-anchor="end" font-weight="normal" font-style="normal" fill="#9a9a9a" >-10</text>
<text x="144.6" y="109.39999999999999" font-size="3" text-anchor="start" font-weight="normal" font-style="normal" fill="#9a9a9a" >3</text>
<line x1="148.7" y1="43.37940008672037" x2="150.2" y2="43.37940008672037" stroke="#666" stroke-width="0.5" />
<line x1="148.7" y1="63.37940008672038" x2="150.2" y2="63.37940008672038" stroke="#666" stroke-width="0.5" />
<line x1="148.7" y1="59.857574905606754" x2="150.2" y2="59.857574905606754" stroke="#666" stroke-width="0.5" />
<line x1="148.7" y1="57.358800173440756" x2="150.2" y2="57.358800173440756" stroke="#666" stroke-width="0.5" />
<line x1="148.7" y1="55.420599913279624" x2="150.2" y2="55.420599913279624" stroke="#666" stroke-width="0.5" />
<line x1="148.7" y1="53.83697499232713" x2="150.2" y2="53.83697499232713" stroke="#666" stroke-width="0.5" />
<line x1="148.7" y1="52.49803919971487" x2="150.2" y2="52.49803919971487" stroke="#666" stroke-width="0.5" />
<line x1="148.7" y1="51.33820026016113" x2="150.2" y2="51.33820026016113" stroke="#666" stroke-width="0.5" />
<line x1="148.7" y1="50.3151498112135" x2="150.2" y2="50.3151498112135" stroke="#666" stroke-width="0.5" />
<line x1="148.7" y1="85.40641309929484" x2="150.2" y2="85.40641309929484" stroke="#666" stroke-width="0.5" />
<line x1="148.7" y1="81.37392326691973" x2="150.2" y2="81.37392326691973" stroke="#666" stroke-width="0.5" />
<line x1="148.7" y1="78.51282619858966" x2="150.2" y2="78.51282619858966" stroke="#666" stroke-width="0.5" />
<line x1="148.7" y1="76.29358690070518" x2="150.2" y2="76.29358690070518" stroke="#666" stroke-width="0.5" />
<line x1="148.7" y1="74.48033636621457" x2="150.2" y2="74.48033636621457" stroke="#666" stroke-width="0.5" />
<line x1="148.7" y1="72.94725488367352" x2="150.2" y2="72.94725488367352" stroke="#666" stroke-width="0.5" />
<line x1="148.7" y1="71.61923929788449" x2="150.2" y2="71.61923929788449" stroke="#666" stroke-width="0.5" />
<line x1="148.7" y1="70.44784653383947" x2="150.2" y2="70.44784653383947" stroke="#666" stroke-width="0.5" />
<line x1="148.6" y1="94.3" x2="150.2" y2="94.3" stroke="#666" stroke-width="0.5" />
<line x1="148.6" y1="96.3" x2="150.2" y2="96.3" stroke="#666" stroke-width="0.5" />
<line x1="148.6" y1="98.3" x2="150.2" y2="98.3" stroke="#666" stroke-width="0.5" />
<line x1="148.6" y1="102.3" x2="150.2" y2="102.3" stroke="#666" stroke-width="0.5" />
<line x1="148.6" y1="104.3" x2="150.2" y2="104.3" stroke="#666" stroke-width="0.5" />
<line x1="148.6" y1="106.3" x2="150.2" y2="106.3" stroke="#666" stroke-width="0.5" />
<circle cx="148.89999999999998" cy="100.3" r="1.3" fill="#000"/>
<rect x="159.3" y="60" width="71.5" height="26" fill="none" stroke="#3a3a3a" stroke-width="0.9" />
<rect x="152.7" y="89.3" width="76.60000000000002" height="26.900000000000006" fill="none" stroke="#3a3a3a" stroke-width="0.9" />
<text x="227.5" y="73.5" font-size="11.8" text-anchor="end" font-weight="normal" font-style="normal" fill="#000" >5.4</text>
<text x="228.7" y="112.8" font-size="11.8" text-anchor="end" font-weight="normal" font-style="normal" fill="#000" >94</text>
<line x1="259.3" y1="41" x2="341.7" y2="41" stroke="#e4e4e4" stroke-width="0.9" />
<line x1="341.7" y1="41" x2="341.7" y2="123.7" stroke="#cccccc" stroke-width="0.9" />
<path d="M259.30,97.37 L259.53,97.00 L259.71,96.75 L259.89,96.50 L260.09,96.25 L260.30,96.00 L260.55,95.72 L260.80,95.45 L261.05,95.20 L261.30,94.97 L261.55,94.74 L261.83,94.50 L262.14,94.25 L262.46,94.00 L262.80,93.76 L263.05,93.58 L263.30,93.42 L263.58,93.25 L264.00,93.00 L264.30,92.83 L264.55,92.70 L264.95,92.50 L265.30,92.33 L265.55,92.23 L266.05,92.02 L266.30,91.92 L266.79,91.75 L267.05,91.66 L267.55,91.51 L267.80,91.44 L268.30,91.31 L268.59,91.25 L269.05,91.15 L269.55,91.06 L270.01,91.00 L270.30,90.96 L270.80,90.91 L271.30,90.87 L271.80,90.84 L272.30,90.83 L272.80,90.83 L273.30,90.84 L273.80,90.86 L274.30,90.89 L274.80,90.94 L275.30,90.99 L275.55,91.02 L276.05,91.08 L276.55,91.15 L277.05,91.23 L277.30,91.27 L277.80,91.35 L278.30,91.44 L278.65,91.50 L279.05,91.56 L279.55,91.64 L280.05,91.72 L280.30,91.76 L280.80,91.82 L281.30,91.88 L281.80,91.94 L282.30,91.98 L282.55,92.00 L283.05,92.04 L283.55,92.06 L284.05,92.08 L284.55,92.10 L285.05,92.11 L285.55,92.12 L286.05,92.13 L286.55,92.14 L287.05,92.14 L287.55,92.15 L288.05,92.15 L288.55,92.15 L289.05,92.16 L289.55,92.16 L290.05,92.16 L290.55,92.17 L291.05,92.17 L291.55,92.18 L292.05,92.19 L292.55,92.20 L293.05,92.21 L293.55,92.22 L294.05,92.23 L294.55,92.25 L294.80,92.26 L295.30,92.27 L295.80,92.29 L296.30,92.30 L296.80,92.32 L297.30,92.35 L297.80,92.37 L298.30,92.39 L298.80,92.42 L299.30,92.45 L299.80,92.48 L300.30,92.52 L300.80,92.55 L301.30,92.59 L301.80,92.62 L302.30,92.66 L302.80,92.71 L303.25,92.75 L303.55,92.78 L304.05,92.82 L304.55,92.87 L305.05,92.92 L305.55,92.98 L305.80,93.00 L306.30,93.05 L306.80,93.11 L307.30,93.17 L307.80,93.22 L308.05,93.25 L308.55,93.31 L309.05,93.37 L309.55,93.43 L310.05,93.49 L310.30,93.51 L310.80,93.57 L311.30,93.63 L311.80,93.69 L312.30,93.75 L312.55,93.78 L313.05,93.83 L313.55,93.89 L314.05,93.95 L314.50,94.00 L314.80,94.03 L315.30,94.09 L315.80,94.15 L316.30,94.21 L316.61,94.25 L317.05,94.30 L317.55,94.37 L318.05,94.43 L318.54,94.50 L318.80,94.54 L319.30,94.61 L319.80,94.68 L320.20,94.75 L320.55,94.81 L321.05,94.89 L321.55,94.99 L321.80,95.04 L322.30,95.14 L322.80,95.25 L323.05,95.31 L323.55,95.43 L323.82,95.50 L324.30,95.63 L324.69,95.75 L325.05,95.87 L325.43,96.00 L325.80,96.14 L326.07,96.25 L326.55,96.47 L326.80,96.60 L327.07,96.75 L327.45,97.00 L327.76,97.25 L328.01,97.50 L328.20,97.75 L328.33,98.00 L328.42,98.50 L328.30,98.98 L328.15,99.25 L327.95,99.50 L327.71,99.75 L327.40,100.00 L327.05,100.25 L326.80,100.40 L326.55,100.54 L326.16,100.75 L325.80,100.92 L325.55,101.04 L325.05,101.25 L324.80,101.35 L324.42,101.50 L324.05,101.64 L323.74,101.75 L323.30,101.91 L323.02,102.00 L322.55,102.16 L322.27,102.25 L321.80,102.40 L321.49,102.50 L321.05,102.64 L320.70,102.75 L320.30,102.88 L319.90,103.00 L319.55,103.11 L319.09,103.25 L318.80,103.34 L318.30,103.50 L318.05,103.58 L317.55,103.73 L317.30,103.81 L316.80,103.97 L316.55,104.04 L316.05,104.20 L315.80,104.27 L315.30,104.42 L315.03,104.50 L314.55,104.64 L314.17,104.75 L313.80,104.85 L313.30,104.99 L313.05,105.06 L312.55,105.19 L312.29,105.25 L311.80,105.37 L311.30,105.49 L311.05,105.55 L310.55,105.66 L310.13,105.75 L309.80,105.82 L309.30,105.92 L308.88,106.00 L308.55,106.06 L308.05,106.16 L307.55,106.24 L307.30,106.28 L306.80,106.37 L306.30,106.45 L305.93,106.50 L305.55,106.56 L305.05,106.63 L304.55,106.70 L304.13,106.75 L303.80,106.79 L303.30,106.86 L302.80,106.92 L302.30,106.97 L302.05,107.00 L301.55,107.06 L301.05,107.12 L300.55,107.17 L300.05,107.22 L299.75,107.25 L299.30,107.30 L298.80,107.35 L298.30,107.40 L297.80,107.45 L297.30,107.50 L297.05,107.52 L296.55,107.58 L296.05,107.63 L295.55,107.68 L295.05,107.72 L294.78,107.75 L294.30,107.80 L293.80,107.85 L293.30,107.90 L292.80,107.95 L292.30,108.00 L292.05,108.02 L291.55,108.08 L291.05,108.13 L290.55,108.17 L290.05,108.22 L289.70,108.25 L289.30,108.29 L288.80,108.34 L288.30,108.39 L287.80,108.43 L287.30,108.48 L287.05,108.51 L286.55,108.56 L286.05,108.62 L285.55,108.69 L285.11,108.75 L284.80,108.80 L284.30,108.90 L283.82,109.00 L283.55,109.07 L283.05,109.21 L282.80,109.29 L282.30,109.47 L282.05,109.57 L281.65,109.75 L281.30,109.92 L281.05,110.05 L280.69,110.25 L280.30,110.48 L280.05,110.63 L279.80,110.78 L279.43,111.00 L279.05,111.23 L278.80,111.37 L278.55,111.51 L278.09,111.75 L277.80,111.89 L277.55,112.01 L277.05,112.22 L276.80,112.32 L276.30,112.49 L276.05,112.58 L275.55,112.72 L275.30,112.78 L274.80,112.89 L274.30,112.97 L274.05,113.01 L273.55,113.07 L273.05,113.11 L272.55,113.13 L272.05,113.13 L271.55,113.11 L271.05,113.08 L270.55,113.03 L270.30,112.99 L269.80,112.92 L269.30,112.83 L268.96,112.75 L268.55,112.65 L268.05,112.51 L267.80,112.44 L267.30,112.26 L267.05,112.17 L266.62,112.00 L266.30,111.87 L266.05,111.75 L265.55,111.50 L265.30,111.37 L265.05,111.23 L264.66,111.00 L264.30,110.77 L264.05,110.60 L263.80,110.42 L263.55,110.24 L263.25,110.00 L262.95,109.75 L262.67,109.50 L262.40,109.25 L262.15,109.00 L261.91,108.75 L261.68,108.50 L261.46,108.25 L261.25,108.00 L261.05,107.74 L260.80,107.42 L260.55,107.07 L260.33,106.75 L260.17,106.50 L260.01,106.25 L259.80,105.89 L259.58,105.50 L259.44,105.25 L259.30,104.96Z" fill="#000" fill-opacity="0.06" stroke="none"/><path d="M272.55,108.27 L272.05,108.31 L271.55,108.31 L271.05,108.28 L270.78,108.25 L270.30,108.17 L269.80,108.05 L269.55,107.98 L269.05,107.80 L268.80,107.70 L268.38,107.50 L268.05,107.33 L267.80,107.18 L267.53,107.00 L267.19,106.75 L266.88,106.50 L266.60,106.25 L266.34,106.00 L266.10,105.75 L265.88,105.50 L265.68,105.25 L265.50,105.00 L265.30,104.71 L265.05,104.30 L264.88,104.00 L264.76,103.75 L264.55,103.25 L264.38,102.75 L264.30,102.42 L264.22,102.00 L264.17,101.50 L264.16,101.00 L264.21,100.50 L264.30,100.07 L264.39,99.75 L264.55,99.32 L264.70,99.00 L264.83,98.75 L265.05,98.40 L265.30,98.06 L265.55,97.76 L265.79,97.50 L266.05,97.25 L266.30,97.04 L266.55,96.84 L266.80,96.65 L267.05,96.49 L267.44,96.25 L267.80,96.05 L268.05,95.93 L268.46,95.75 L268.80,95.62 L269.13,95.50 L269.55,95.37 L270.01,95.25 L270.30,95.18 L270.80,95.09 L271.30,95.02 L271.55,94.99 L272.05,94.95 L272.55,94.93 L273.05,94.93 L273.55,94.95 L274.05,94.98 L274.30,95.00 L274.80,95.06 L275.30,95.13 L275.80,95.21 L276.05,95.26 L276.55,95.36 L277.05,95.47 L277.30,95.52 L277.80,95.64 L278.25,95.75 L278.55,95.82 L279.05,95.95 L279.30,96.01 L279.80,96.13 L280.28,96.25 L280.55,96.31 L281.05,96.42 L281.39,96.50 L281.80,96.58 L282.30,96.69 L282.63,96.75 L283.05,96.83 L283.55,96.92 L284.02,97.00 L284.30,97.05 L284.80,97.13 L285.30,97.22 L285.55,97.26 L286.05,97.35 L286.55,97.45 L286.83,97.50 L287.30,97.60 L287.80,97.71 L288.05,97.76 L288.55,97.89 L288.97,98.00 L289.30,98.10 L289.78,98.25 L290.05,98.34 L290.47,98.50 L290.80,98.65 L291.05,98.76 L291.49,99.00 L291.80,99.21 L292.05,99.42 L292.30,99.70 L292.46,100.00 L292.48,100.50 L292.30,100.89 L292.05,101.20 L291.80,101.43 L291.55,101.62 L291.30,101.79 L290.96,102.00 L290.55,102.22 L290.30,102.34 L289.94,102.50 L289.55,102.66 L289.30,102.76 L288.80,102.94 L288.55,103.02 L288.05,103.18 L287.80,103.26 L287.30,103.40 L286.93,103.50 L286.55,103.60 L286.05,103.73 L285.80,103.79 L285.30,103.91 L284.90,104.00 L284.55,104.08 L284.05,104.20 L283.80,104.26 L283.30,104.39 L282.86,104.50 L282.55,104.58 L282.05,104.73 L281.80,104.80 L281.30,104.96 L281.05,105.04 L280.55,105.21 L280.30,105.31 L279.80,105.50 L279.55,105.60 L279.19,105.75 L278.80,105.92 L278.55,106.03 L278.07,106.25 L277.80,106.38 L277.55,106.50 L277.05,106.74 L276.80,106.86 L276.50,107.00 L276.05,107.21 L275.80,107.32 L275.39,107.50 L275.05,107.64 L274.75,107.75 L274.30,107.90 L273.97,108.00 L273.55,108.11 L273.05,108.21 L272.75,108.25Z M273.30,102.06 L272.80,102.11 L272.30,102.05 L272.05,101.96 L271.71,101.75 L271.50,101.50 L271.40,101.00 L271.55,100.63 L271.80,100.37 L272.05,100.21 L272.55,100.05 L273.05,100.00 L273.55,100.07 L274.05,100.25 L274.30,100.44 L274.54,100.75 L274.58,101.00 L274.52,101.25 L274.30,101.56 L274.05,101.76 L273.55,102.00Z" fill="#000" fill-opacity="0.3" fill-rule="evenodd" stroke="none"/><path d="M272.80,103.27 L272.30,103.26 L272.05,103.23 L271.55,103.12 L271.22,103.00 L270.80,102.77 L270.55,102.59 L270.30,102.34 L270.05,102.00 L269.94,101.75 L269.83,101.25 L269.88,100.75 L270.05,100.33 L270.27,100.00 L270.52,99.75 L270.80,99.54 L271.05,99.39 L271.34,99.25 L271.80,99.09 L272.22,99.00 L272.55,98.96 L273.05,98.93 L273.55,98.96 L273.85,99.00 L274.30,99.09 L274.80,99.25 L275.05,99.35 L275.36,99.50 L275.76,99.75 L276.04,100.00 L276.25,100.25 L276.38,100.50 L276.46,101.00 L276.30,101.50 L276.13,101.75 L275.91,102.00 L275.62,102.25 L275.30,102.47 L275.05,102.62 L274.55,102.86 L274.18,103.00 L273.80,103.11 L273.30,103.22 L273.05,103.25Z M273.30,104.29 L272.80,104.35 L272.30,104.36 L271.80,104.33 L271.30,104.25 L271.05,104.18 L270.55,104.01 L270.30,103.89 L269.80,103.58 L269.55,103.39 L269.30,103.15 L269.05,102.85 L268.82,102.50 L268.69,102.25 L268.55,101.84 L268.48,101.50 L268.47,101.00 L268.55,100.54 L268.65,100.25 L268.80,99.94 L269.05,99.57 L269.30,99.29 L269.55,99.06 L269.80,98.88 L270.05,98.71 L270.46,98.50 L270.80,98.36 L271.11,98.25 L271.55,98.13 L272.05,98.04 L272.47,98.00 L272.80,97.98 L273.30,97.99 L273.56,98.00 L274.05,98.05 L274.55,98.14 L275.05,98.25 L275.30,98.32 L275.80,98.48 L276.05,98.58 L276.45,98.75 L276.80,98.93 L277.05,99.07 L277.34,99.25 L277.68,99.50 L277.95,99.75 L278.16,100.00 L278.31,100.25 L278.45,100.75 L278.38,101.25 L278.27,101.50 L278.05,101.81 L277.80,102.10 L277.55,102.33 L277.30,102.54 L277.02,102.75 L276.64,103.00 L276.30,103.20 L276.05,103.34 L275.73,103.50 L275.30,103.70 L275.05,103.80 L274.55,103.98 L274.30,104.06 L273.80,104.20 L273.54,104.25Z M273.30,105.25 L272.80,105.32 L272.30,105.35 L271.80,105.34 L271.30,105.29 L271.05,105.24 L270.55,105.12 L270.21,105.00 L269.80,104.82 L269.55,104.69 L269.25,104.50 L268.91,104.25 L268.62,104.00 L268.37,103.75 L268.16,103.50 L267.98,103.25 L267.80,102.96 L267.57,102.50 L267.48,102.25 L267.36,101.75 L267.31,101.25 L267.35,100.75 L267.47,100.25 L267.56,100.00 L267.80,99.53 L267.99,99.25 L268.19,99.00 L268.43,98.75 L268.71,98.50 L269.05,98.25 L269.46,98.00 L269.80,97.83 L270.05,97.72 L270.55,97.53 L270.80,97.46 L271.30,97.34 L271.80,97.25 L272.05,97.22 L272.55,97.18 L273.05,97.17 L273.55,97.19 L274.05,97.23 L274.30,97.26 L274.80,97.34 L275.30,97.45 L275.55,97.50 L276.05,97.64 L276.41,97.75 L276.80,97.88 L277.12,98.00 L277.55,98.17 L277.80,98.28 L278.28,98.50 L278.55,98.64 L278.80,98.77 L279.20,99.00 L279.55,99.23 L279.80,99.42 L280.05,99.63 L280.30,99.89 L280.55,100.25 L280.64,100.50 L280.64,101.00 L280.54,101.25 L280.30,101.62 L280.05,101.89 L279.80,102.13 L279.55,102.33 L279.30,102.52 L278.98,102.75 L278.60,103.00 L278.30,103.18 L278.05,103.33 L277.76,103.50 L277.30,103.75 L277.05,103.88 L276.80,104.01 L276.30,104.25 L276.05,104.36 L275.73,104.50 L275.30,104.68 L275.05,104.77 L274.55,104.94 L274.30,105.02 L273.80,105.15 L273.30,105.25Z M272.30,106.27 L271.80,106.27 L271.41,106.25 L271.05,106.21 L270.55,106.11 L270.16,106.00 L269.80,105.87 L269.51,105.75 L269.05,105.52 L268.80,105.36 L268.55,105.19 L268.29,105.00 L268.00,104.75 L267.74,104.50 L267.52,104.25 L267.30,103.98 L267.05,103.62 L266.83,103.25 L266.71,103.00 L266.55,102.61 L266.44,102.25 L266.34,101.75 L266.30,101.25 L266.33,100.75 L266.43,100.25 L266.55,99.89 L266.72,99.50 L266.86,99.25 L267.05,98.97 L267.30,98.65 L267.55,98.38 L267.80,98.15 L268.05,97.94 L268.31,97.75 L268.70,97.50 L269.05,97.31 L269.30,97.19 L269.76,97.00 L270.05,96.90 L270.54,96.75 L270.80,96.69 L271.30,96.59 L271.80,96.52 L272.05,96.49 L272.55,96.46 L273.05,96.46 L273.55,96.47 L273.92,96.50 L274.30,96.54 L274.80,96.61 L275.30,96.69 L275.58,96.75 L276.05,96.86 L276.55,96.99 L276.80,97.05 L277.30,97.20 L277.55,97.28 L278.05,97.45 L278.30,97.54 L278.80,97.72 L279.05,97.81 L279.55,98.00 L279.80,98.10 L280.17,98.25 L280.55,98.41 L280.80,98.51 L281.30,98.74 L281.55,98.85 L281.86,99.00 L282.30,99.23 L282.55,99.38 L282.80,99.54 L283.08,99.75 L283.34,100.00 L283.55,100.34 L283.61,100.75 L283.54,101.00 L283.30,101.34 L283.05,101.58 L282.80,101.79 L282.50,102.00 L282.10,102.25 L281.80,102.42 L281.55,102.56 L281.19,102.75 L280.80,102.95 L280.55,103.08 L280.22,103.25 L279.80,103.46 L279.55,103.58 L279.22,103.75 L278.80,103.96 L278.55,104.08 L278.20,104.25 L277.80,104.44 L277.55,104.56 L277.16,104.75 L276.80,104.92 L276.55,105.03 L276.05,105.25 L275.80,105.36 L275.44,105.50 L275.05,105.65 L274.77,105.75 L274.30,105.90 L273.94,106.00 L273.55,106.10 L273.05,106.19 L272.55,106.25Z M273.30,107.03 L272.80,107.12 L272.30,107.17 L271.80,107.18 L271.30,107.16 L270.80,107.10 L270.30,107.00 L270.05,106.93 L269.55,106.77 L269.30,106.67 L268.93,106.50 L268.55,106.29 L268.30,106.14 L268.05,105.97 L267.76,105.75 L267.46,105.50 L267.20,105.25 L266.96,105.00 L266.74,104.75 L266.54,104.50 L266.30,104.16 L266.05,103.75 L265.92,103.50 L265.70,103.00 L265.55,102.57 L265.46,102.25 L265.38,101.75 L265.35,101.25 L265.38,100.75 L265.46,100.25 L265.55,99.94 L265.71,99.50 L265.83,99.25 L266.05,98.88 L266.30,98.52 L266.52,98.25 L266.75,98.00 L267.02,97.75 L267.30,97.51 L267.55,97.32 L267.80,97.15 L268.05,97.00 L268.50,96.75 L268.80,96.60 L269.05,96.49 L269.55,96.30 L269.80,96.22 L270.30,96.08 L270.67,96.00 L271.05,95.93 L271.55,95.85 L272.05,95.81 L272.55,95.78 L273.05,95.78 L273.55,95.79 L274.05,95.83 L274.55,95.88 L275.05,95.95 L275.33,96.00 L275.80,96.09 L276.30,96.19 L276.55,96.25 L277.05,96.37 L277.52,96.50 L277.80,96.58 L278.30,96.72 L278.55,96.79 L279.05,96.94 L279.30,97.02 L279.80,97.17 L280.08,97.25 L280.55,97.39 L280.92,97.50 L281.30,97.61 L281.78,97.75 L282.05,97.83 L282.55,97.97 L282.80,98.04 L283.30,98.18 L283.55,98.25 L284.05,98.40 L284.37,98.50 L284.80,98.64 L285.13,98.75 L285.55,98.91 L285.80,99.01 L286.30,99.24 L286.55,99.38 L286.80,99.54 L287.07,99.75 L287.30,100.02 L287.47,100.50 L287.32,101.00 L287.12,101.25 L286.85,101.50 L286.55,101.71 L286.30,101.86 L286.05,102.00 L285.55,102.24 L285.30,102.35 L284.94,102.50 L284.55,102.65 L284.28,102.75 L283.80,102.92 L283.55,103.01 L283.05,103.19 L282.80,103.27 L282.30,103.45 L282.05,103.54 L281.55,103.72 L281.30,103.82 L280.82,104.00 L280.55,104.11 L280.20,104.25 L279.80,104.42 L279.55,104.52 L279.05,104.74 L278.80,104.85 L278.47,105.00 L278.05,105.19 L277.80,105.31 L277.39,105.50 L277.05,105.66 L276.80,105.77 L276.30,106.00 L276.05,106.11 L275.71,106.25 L275.30,106.42 L275.05,106.51 L274.55,106.69 L274.30,106.77 L273.80,106.92 L273.44,107.00Z M273.05,108.00 L272.55,108.07 L272.05,108.11 L271.55,108.11 L271.05,108.08 L270.55,108.01 L270.30,107.96 L269.80,107.84 L269.50,107.75 L269.05,107.59 L268.80,107.48 L268.34,107.25 L268.05,107.09 L267.80,106.93 L267.53,106.75 L267.20,106.50 L266.90,106.25 L266.63,106.00 L266.38,105.75 L266.15,105.50 L265.94,105.25 L265.75,105.00 L265.55,104.72 L265.30,104.33 L265.12,104.00 L264.99,103.75 L264.80,103.32 L264.68,103.00 L264.55,102.56 L264.48,102.25 L264.40,101.75 L264.37,101.25 L264.40,100.75 L264.47,100.25 L264.55,99.95 L264.70,99.50 L264.80,99.25 L265.05,98.77 L265.22,98.50 L265.39,98.25 L265.59,98.00 L265.81,97.75 L266.05,97.50 L266.33,97.25 L266.63,97.00 L266.97,96.75 L267.30,96.53 L267.55,96.38 L267.80,96.24 L268.30,96.00 L268.55,95.89 L268.91,95.75 L269.30,95.61 L269.68,95.50 L270.05,95.40 L270.55,95.29 L270.80,95.25 L271.30,95.17 L271.80,95.12 L272.30,95.09 L272.80,95.08 L273.30,95.09 L273.80,95.11 L274.30,95.16 L274.80,95.21 L275.06,95.25 L275.55,95.33 L276.05,95.42 L276.46,95.50 L276.80,95.57 L277.30,95.69 L277.57,95.75 L278.05,95.87 L278.55,95.99 L278.80,96.06 L279.30,96.19 L279.80,96.31 L280.30,96.44 L280.56,96.50 L281.05,96.61 L281.55,96.73 L281.80,96.78 L282.30,96.89 L282.80,96.99 L283.05,97.04 L283.55,97.13 L284.05,97.23 L284.30,97.27 L284.80,97.37 L285.30,97.46 L285.55,97.51 L286.05,97.61 L286.55,97.71 L286.80,97.77 L287.30,97.89 L287.76,98.00 L288.05,98.08 L288.55,98.22 L288.80,98.30 L289.30,98.48 L289.55,98.57 L289.97,98.75 L290.30,98.92 L290.55,99.06 L290.85,99.25 L291.15,99.50 L291.37,99.75 L291.55,100.20 L291.55,100.50 L291.47,100.75 L291.30,101.03 L291.05,101.31 L290.80,101.52 L290.49,101.75 L290.08,102.00 L289.80,102.15 L289.55,102.27 L289.05,102.50 L288.80,102.60 L288.41,102.75 L288.05,102.88 L287.69,103.00 L287.30,103.12 L286.87,103.25 L286.55,103.34 L286.05,103.48 L285.80,103.54 L285.30,103.67 L284.99,103.75 L284.55,103.86 L284.05,103.98 L283.80,104.05 L283.30,104.18 L283.03,104.25 L282.55,104.38 L282.14,104.50 L281.80,104.60 L281.34,104.75 L281.05,104.85 L280.61,105.00 L280.30,105.12 L279.95,105.25 L279.55,105.41 L279.30,105.51 L278.80,105.73 L278.55,105.84 L278.20,106.00 L277.80,106.19 L277.55,106.30 L277.14,106.50 L276.80,106.66 L276.55,106.78 L276.07,107.00 L275.80,107.12 L275.50,107.25 L275.05,107.43 L274.80,107.53 L274.30,107.70 L274.05,107.77 L273.55,107.90 L273.07,108.00Z" fill="none" stroke="#404040" stroke-width="0.5"/><path d="M273.05,109.03 L272.55,109.10 L272.05,109.13 L271.55,109.13 L271.05,109.10 L270.55,109.05 L270.28,109.00 L269.80,108.90 L269.30,108.76 L269.05,108.68 L268.59,108.50 L268.30,108.38 L268.04,108.25 L267.58,108.00 L267.30,107.83 L267.05,107.67 L266.80,107.49 L266.49,107.25 L266.19,107.00 L265.92,106.75 L265.67,106.50 L265.44,106.25 L265.22,106.00 L265.02,105.75 L264.80,105.45 L264.55,105.09 L264.34,104.75 L264.20,104.50 L264.05,104.21 L263.84,103.75 L263.73,103.50 L263.56,103.00 L263.49,102.75 L263.38,102.25 L263.31,101.75 L263.29,101.50 L263.29,101.00 L263.30,100.75 L263.37,100.25 L263.49,99.75 L263.57,99.50 L263.77,99.00 L263.89,98.75 L264.05,98.46 L264.30,98.07 L264.54,97.75 L264.74,97.50 L264.97,97.25 L265.22,97.00 L265.49,96.75 L265.79,96.50 L266.05,96.30 L266.30,96.13 L266.55,95.97 L266.91,95.75 L267.30,95.54 L267.55,95.41 L267.91,95.25 L268.30,95.09 L268.55,95.00 L269.05,94.83 L269.35,94.75 L269.80,94.63 L270.30,94.53 L270.55,94.48 L271.05,94.41 L271.55,94.36 L272.05,94.32 L272.55,94.31 L273.05,94.31 L273.55,94.32 L274.05,94.35 L274.55,94.40 L275.05,94.46 L275.32,94.50 L275.80,94.57 L276.30,94.66 L276.75,94.75 L277.05,94.81 L277.55,94.91 L277.93,95.00 L278.30,95.08 L278.80,95.19 L279.05,95.25 L279.55,95.36 L280.05,95.47 L280.30,95.52 L280.80,95.62 L281.30,95.72 L281.55,95.77 L282.05,95.85 L282.55,95.94 L282.97,96.00 L283.30,96.05 L283.80,96.12 L284.30,96.18 L284.80,96.25 L285.05,96.28 L285.55,96.34 L286.05,96.40 L286.55,96.47 L286.80,96.50 L287.30,96.57 L287.80,96.64 L288.30,96.71 L288.55,96.75 L289.05,96.83 L289.55,96.92 L290.00,97.00 L290.30,97.06 L290.80,97.16 L291.25,97.25 L291.55,97.32 L292.05,97.43 L292.32,97.50 L292.80,97.62 L293.26,97.75 L293.55,97.84 L294.05,97.99 L294.30,98.08 L294.77,98.25 L295.05,98.36 L295.37,98.50 L295.80,98.71 L296.05,98.86 L296.30,99.02 L296.59,99.25 L296.81,99.50 L296.99,100.00 L296.85,100.50 L296.68,100.75 L296.43,101.00 L296.12,101.25 L295.80,101.47 L295.55,101.62 L295.30,101.77 L294.86,102.00 L294.55,102.14 L294.30,102.26 L293.80,102.48 L293.55,102.58 L293.12,102.75 L292.80,102.87 L292.44,103.00 L292.05,103.13 L291.69,103.25 L291.30,103.37 L290.88,103.50 L290.55,103.60 L290.05,103.74 L289.80,103.80 L289.30,103.93 L289.02,104.00 L288.55,104.11 L288.05,104.22 L287.80,104.28 L287.30,104.39 L286.80,104.49 L286.55,104.54 L286.05,104.64 L285.55,104.73 L285.30,104.78 L284.80,104.88 L284.30,104.98 L284.05,105.03 L283.55,105.14 L283.05,105.25 L282.55,105.37 L282.07,105.50 L281.80,105.58 L281.30,105.73 L281.05,105.81 L280.55,105.98 L280.30,106.07 L279.84,106.25 L279.55,106.37 L279.25,106.50 L278.80,106.70 L278.55,106.82 L278.18,107.00 L277.80,107.19 L277.55,107.31 L277.18,107.50 L276.80,107.69 L276.55,107.82 L276.17,108.00 L275.80,108.17 L275.55,108.28 L275.05,108.49 L274.80,108.58 L274.30,108.75 L274.05,108.82 L273.55,108.94 L273.25,109.00Z" fill="none" stroke="#555" stroke-width="0.5"/><path d="M273.55,110.04 L273.05,110.12 L272.55,110.17 L272.05,110.19 L271.55,110.19 L271.05,110.16 L270.55,110.11 L270.05,110.03 L269.80,109.98 L269.30,109.86 L268.94,109.75 L268.55,109.62 L268.24,109.50 L267.80,109.31 L267.55,109.19 L267.18,109.00 L266.80,108.78 L266.55,108.62 L266.30,108.46 L266.02,108.25 L265.70,108.00 L265.40,107.75 L265.13,107.50 L264.88,107.25 L264.64,107.00 L264.42,106.75 L264.21,106.50 L264.02,106.25 L263.80,105.96 L263.55,105.59 L263.34,105.25 L263.19,105.00 L263.05,104.73 L262.81,104.25 L262.70,104.00 L262.55,103.61 L262.42,103.25 L262.30,102.81 L262.22,102.50 L262.14,102.00 L262.09,101.50 L262.09,101.00 L262.12,100.50 L262.21,100.00 L262.30,99.63 L262.42,99.25 L262.55,98.92 L262.74,98.50 L262.88,98.25 L263.05,97.97 L263.30,97.60 L263.55,97.27 L263.78,97.00 L264.01,96.75 L264.26,96.50 L264.54,96.25 L264.80,96.03 L265.05,95.83 L265.30,95.65 L265.55,95.47 L265.90,95.25 L266.30,95.02 L266.55,94.88 L266.81,94.75 L267.30,94.52 L267.55,94.42 L267.99,94.25 L268.30,94.14 L268.75,94.00 L269.05,93.92 L269.55,93.79 L269.80,93.74 L270.30,93.65 L270.80,93.57 L271.30,93.52 L271.57,93.50 L272.05,93.47 L272.55,93.46 L273.05,93.46 L273.55,93.48 L273.93,93.50 L274.30,93.53 L274.80,93.58 L275.30,93.64 L275.80,93.71 L276.05,93.75 L276.55,93.84 L277.05,93.93 L277.41,94.00 L277.80,94.08 L278.30,94.18 L278.64,94.25 L279.05,94.33 L279.55,94.43 L279.89,94.50 L280.30,94.57 L280.80,94.66 L281.30,94.75 L281.55,94.79 L282.05,94.86 L282.55,94.93 L283.05,94.99 L283.30,95.02 L283.80,95.07 L284.30,95.12 L284.80,95.16 L285.30,95.21 L285.78,95.25 L286.05,95.27 L286.55,95.31 L287.05,95.35 L287.55,95.40 L288.05,95.44 L288.55,95.49 L288.80,95.51 L289.30,95.56 L289.80,95.61 L290.30,95.66 L290.80,95.71 L291.12,95.75 L291.55,95.80 L292.05,95.86 L292.55,95.92 L293.05,95.98 L293.30,96.02 L293.80,96.08 L294.30,96.15 L294.80,96.22 L295.05,96.26 L295.55,96.33 L296.05,96.41 L296.55,96.49 L296.80,96.53 L297.30,96.61 L297.80,96.69 L298.14,96.75 L298.55,96.82 L299.05,96.92 L299.49,97.00 L299.80,97.06 L300.30,97.16 L300.71,97.25 L301.05,97.33 L301.55,97.44 L301.80,97.50 L302.30,97.63 L302.76,97.75 L303.05,97.84 L303.55,97.99 L303.80,98.07 L304.29,98.25 L304.55,98.36 L304.86,98.50 L305.29,98.75 L305.55,98.97 L305.76,99.25 L305.82,99.50 L305.77,99.75 L305.55,100.09 L305.30,100.34 L305.05,100.54 L304.74,100.75 L304.31,101.00 L304.05,101.13 L303.80,101.26 L303.30,101.48 L303.05,101.59 L302.65,101.75 L302.30,101.88 L301.98,102.00 L301.55,102.15 L301.24,102.25 L300.80,102.39 L300.45,102.50 L300.05,102.62 L299.60,102.75 L299.30,102.84 L298.80,102.97 L298.55,103.04 L298.05,103.18 L297.78,103.25 L297.30,103.37 L296.81,103.50 L296.55,103.57 L296.05,103.69 L295.80,103.76 L295.30,103.88 L294.80,104.00 L294.30,104.12 L293.80,104.24 L293.55,104.30 L293.05,104.41 L292.65,104.50 L292.30,104.58 L291.80,104.68 L291.48,104.75 L291.05,104.84 L290.55,104.94 L290.24,105.00 L289.80,105.08 L289.30,105.18 L288.88,105.25 L288.55,105.31 L288.05,105.39 L287.55,105.47 L287.30,105.51 L286.80,105.59 L286.30,105.67 L285.81,105.75 L285.55,105.79 L285.05,105.88 L284.55,105.96 L284.30,106.00 L283.80,106.10 L283.30,106.20 L283.05,106.25 L282.55,106.38 L282.07,106.50 L281.80,106.58 L281.30,106.73 L281.05,106.82 L280.55,107.00 L280.30,107.10 L279.94,107.25 L279.55,107.43 L279.30,107.54 L278.88,107.75 L278.55,107.92 L278.30,108.05 L277.93,108.25 L277.55,108.46 L277.30,108.59 L277.00,108.75 L276.55,108.98 L276.30,109.11 L275.99,109.25 L275.55,109.44 L275.30,109.54 L274.80,109.72 L274.55,109.80 L274.05,109.93 L273.73,110.00Z" fill="none" stroke="#666" stroke-width="0.5"/><path d="M273.80,111.28 L273.30,111.35 L272.80,111.40 L272.30,111.43 L271.80,111.43 L271.30,111.41 L270.80,111.37 L270.30,111.31 L269.97,111.25 L269.55,111.17 L269.05,111.05 L268.80,110.98 L268.30,110.83 L268.05,110.74 L267.55,110.55 L267.30,110.44 L266.89,110.25 L266.55,110.08 L266.30,109.94 L265.98,109.75 L265.59,109.50 L265.30,109.30 L265.05,109.12 L264.80,108.93 L264.55,108.72 L264.30,108.50 L264.03,108.25 L263.78,108.00 L263.54,107.75 L263.30,107.48 L263.05,107.18 L262.80,106.86 L262.55,106.51 L262.37,106.25 L262.20,106.00 L262.05,105.75 L261.80,105.31 L261.63,105.00 L261.51,104.75 L261.30,104.30 L261.17,104.00 L261.05,103.66 L260.91,103.25 L260.80,102.84 L260.72,102.50 L260.63,102.00 L260.59,101.50 L260.58,101.00 L260.61,100.50 L260.68,100.00 L260.80,99.50 L260.87,99.25 L261.05,98.75 L261.16,98.50 L261.30,98.21 L261.55,97.76 L261.71,97.50 L261.88,97.25 L262.07,97.00 L262.30,96.71 L262.55,96.43 L262.80,96.16 L263.05,95.91 L263.30,95.68 L263.55,95.46 L263.81,95.25 L264.14,95.00 L264.49,94.75 L264.80,94.55 L265.05,94.39 L265.30,94.25 L265.75,94.00 L266.05,93.85 L266.30,93.73 L266.80,93.51 L267.05,93.41 L267.49,93.25 L267.80,93.14 L268.27,93.00 L268.55,92.92 L269.05,92.80 L269.30,92.74 L269.80,92.64 L270.30,92.57 L270.80,92.50 L271.05,92.48 L271.55,92.44 L272.05,92.41 L272.55,92.40 L273.05,92.41 L273.55,92.42 L274.05,92.45 L274.55,92.50 L274.80,92.52 L275.30,92.58 L275.80,92.64 L276.30,92.72 L276.55,92.76 L277.05,92.84 L277.55,92.93 L277.89,93.00 L278.30,93.07 L278.80,93.17 L279.23,93.25 L279.55,93.30 L280.05,93.39 L280.55,93.47 L280.80,93.51 L281.30,93.58 L281.80,93.65 L282.30,93.71 L282.71,93.75 L283.05,93.78 L283.55,93.82 L284.05,93.86 L284.55,93.89 L285.05,93.92 L285.55,93.95 L286.05,93.97 L286.55,94.00 L286.80,94.01 L287.30,94.03 L287.80,94.05 L288.30,94.08 L288.80,94.10 L289.30,94.12 L289.80,94.15 L290.30,94.18 L290.80,94.20 L291.30,94.23 L291.60,94.25 L292.05,94.28 L292.55,94.31 L293.05,94.34 L293.55,94.37 L294.05,94.40 L294.55,94.44 L295.05,94.47 L295.38,94.50 L295.80,94.53 L296.30,94.57 L296.80,94.61 L297.30,94.65 L297.80,94.69 L298.30,94.74 L298.55,94.76 L299.05,94.81 L299.55,94.86 L300.05,94.91 L300.55,94.96 L300.94,95.00 L301.30,95.04 L301.80,95.09 L302.30,95.15 L302.80,95.21 L303.13,95.25 L303.55,95.30 L304.05,95.36 L304.55,95.42 L305.05,95.49 L305.30,95.52 L305.80,95.58 L306.30,95.65 L306.80,95.71 L307.10,95.75 L307.55,95.81 L308.05,95.87 L308.55,95.93 L309.05,96.00 L309.30,96.03 L309.80,96.09 L310.30,96.15 L310.80,96.21 L311.12,96.25 L311.55,96.30 L312.05,96.37 L312.55,96.43 L313.05,96.49 L313.30,96.53 L313.80,96.60 L314.30,96.67 L314.80,96.74 L315.05,96.78 L315.55,96.87 L316.05,96.97 L316.30,97.02 L316.80,97.13 L317.27,97.25 L317.55,97.34 L318.05,97.50 L318.55,97.72 L318.80,97.86 L319.05,98.04 L319.30,98.36 L319.35,98.75 L319.22,99.00 L318.98,99.25 L318.63,99.50 L318.30,99.69 L318.05,99.82 L317.65,100.00 L317.30,100.14 L317.03,100.25 L316.55,100.42 L316.30,100.51 L315.80,100.68 L315.55,100.77 L315.05,100.93 L314.80,101.01 L314.30,101.17 L314.05,101.26 L313.55,101.42 L313.29,101.50 L312.80,101.66 L312.52,101.75 L312.05,101.90 L311.75,102.00 L311.30,102.14 L310.97,102.25 L310.55,102.38 L310.19,102.50 L309.80,102.62 L309.38,102.75 L309.05,102.85 L308.55,103.00 L308.30,103.07 L307.80,103.21 L307.55,103.28 L307.05,103.41 L306.70,103.50 L306.30,103.60 L305.80,103.72 L305.55,103.78 L305.05,103.89 L304.55,104.00 L304.30,104.05 L303.80,104.16 L303.32,104.25 L303.05,104.30 L302.55,104.40 L302.05,104.49 L301.80,104.53 L301.30,104.62 L300.80,104.71 L300.54,104.75 L300.05,104.83 L299.55,104.92 L299.05,105.00 L298.80,105.04 L298.30,105.12 L297.80,105.20 L297.47,105.25 L297.05,105.32 L296.55,105.40 L296.05,105.48 L295.80,105.52 L295.30,105.60 L294.80,105.68 L294.34,105.75 L294.05,105.80 L293.55,105.88 L293.05,105.95 L292.75,106.00 L292.30,106.07 L291.80,106.15 L291.30,106.22 L291.05,106.26 L290.55,106.33 L290.05,106.40 L289.55,106.47 L289.30,106.50 L288.80,106.57 L288.30,106.64 L287.80,106.70 L287.39,106.75 L287.05,106.80 L286.55,106.86 L286.05,106.93 L285.55,106.99 L285.30,107.03 L284.80,107.11 L284.30,107.19 L283.97,107.25 L283.55,107.34 L283.05,107.45 L282.80,107.51 L282.30,107.64 L281.95,107.75 L281.55,107.89 L281.23,108.00 L280.80,108.18 L280.55,108.29 L280.10,108.50 L279.80,108.65 L279.55,108.79 L279.16,109.00 L278.80,109.21 L278.55,109.35 L278.29,109.50 L277.85,109.75 L277.55,109.92 L277.30,110.05 L276.90,110.25 L276.55,110.42 L276.30,110.53 L275.80,110.73 L275.55,110.83 L275.05,110.99 L274.80,111.06 L274.30,111.18 L273.94,111.25Z" fill="none" stroke="#777" stroke-width="0.5"/><path d="M259.30,97.37 L259.53,97.00 L259.71,96.75 L259.89,96.50 L260.09,96.25 L260.30,96.00 L260.55,95.72 L260.80,95.45 L261.05,95.20 L261.30,94.97 L261.55,94.74 L261.83,94.50 L262.14,94.25 L262.46,94.00 L262.80,93.76 L263.05,93.58 L263.30,93.42 L263.58,93.25 L264.00,93.00 L264.30,92.83 L264.55,92.70 L264.95,92.50 L265.30,92.33 L265.55,92.23 L266.05,92.02 L266.30,91.92 L266.79,91.75 L267.05,91.66 L267.55,91.51 L267.80,91.44 L268.30,91.31 L268.59,91.25 L269.05,91.15 L269.55,91.06 L270.01,91.00 L270.30,90.96 L270.80,90.91 L271.30,90.87 L271.80,90.84 L272.30,90.83 L272.80,90.83 L273.30,90.84 L273.80,90.86 L274.30,90.89 L274.80,90.94 L275.30,90.99 L275.55,91.02 L276.05,91.08 L276.55,91.15 L277.05,91.23 L277.30,91.27 L277.80,91.35 L278.30,91.44 L278.65,91.50 L279.05,91.56 L279.55,91.64 L280.05,91.72 L280.30,91.76 L280.80,91.82 L281.30,91.88 L281.80,91.94 L282.30,91.98 L282.55,92.00 L283.05,92.04 L283.55,92.06 L284.05,92.08 L284.55,92.10 L285.05,92.11 L285.55,92.12 L286.05,92.13 L286.55,92.14 L287.05,92.14 L287.55,92.15 L288.05,92.15 L288.55,92.15 L289.05,92.16 L289.55,92.16 L290.05,92.16 L290.55,92.17 L291.05,92.17 L291.55,92.18 L292.05,92.19 L292.55,92.20 L293.05,92.21 L293.55,92.22 L294.05,92.23 L294.55,92.25 L294.80,92.26 L295.30,92.27 L295.80,92.29 L296.30,92.30 L296.80,92.32 L297.30,92.35 L297.80,92.37 L298.30,92.39 L298.80,92.42 L299.30,92.45 L299.80,92.48 L300.30,92.52 L300.80,92.55 L301.30,92.59 L301.80,92.62 L302.30,92.66 L302.80,92.71 L303.25,92.75 L303.55,92.78 L304.05,92.82 L304.55,92.87 L305.05,92.92 L305.55,92.98 L305.80,93.00 L306.30,93.05 L306.80,93.11 L307.30,93.17 L307.80,93.22 L308.05,93.25 L308.55,93.31 L309.05,93.37 L309.55,93.43 L310.05,93.49 L310.30,93.51 L310.80,93.57 L311.30,93.63 L311.80,93.69 L312.30,93.75 L312.55,93.78 L313.05,93.83 L313.55,93.89 L314.05,93.95 L314.50,94.00 L314.80,94.03 L315.30,94.09 L315.80,94.15 L316.30,94.21 L316.61,94.25 L317.05,94.30 L317.55,94.37 L318.05,94.43 L318.54,94.50 L318.80,94.54 L319.30,94.61 L319.80,94.68 L320.20,94.75 L320.55,94.81 L321.05,94.89 L321.55,94.99 L321.80,95.04 L322.30,95.14 L322.80,95.25 L323.05,95.31 L323.55,95.43 L323.82,95.50 L324.30,95.63 L324.69,95.75 L325.05,95.87 L325.43,96.00 L325.80,96.14 L326.07,96.25 L326.55,96.47 L326.80,96.60 L327.07,96.75 L327.45,97.00 L327.76,97.25 L328.01,97.50 L328.20,97.75 L328.33,98.00 L328.42,98.50 L328.30,98.98 L328.15,99.25 L327.95,99.50 L327.71,99.75 L327.40,100.00 L327.05,100.25 L326.80,100.40 L326.55,100.54 L326.16,100.75 L325.80,100.92 L325.55,101.04 L325.05,101.25 L324.80,101.35 L324.42,101.50 L324.05,101.64 L323.74,101.75 L323.30,101.91 L323.02,102.00 L322.55,102.16 L322.27,102.25 L321.80,102.40 L321.49,102.50 L321.05,102.64 L320.70,102.75 L320.30,102.88 L319.90,103.00 L319.55,103.11 L319.09,103.25 L318.80,103.34 L318.30,103.50 L318.05,103.58 L317.55,103.73 L317.30,103.81 L316.80,103.97 L316.55,104.04 L316.05,104.20 L315.80,104.27 L315.30,104.42 L315.03,104.50 L314.55,104.64 L314.17,104.75 L313.80,104.85 L313.30,104.99 L313.05,105.06 L312.55,105.19 L312.29,105.25 L311.80,105.37 L311.30,105.49 L311.05,105.55 L310.55,105.66 L310.13,105.75 L309.80,105.82 L309.30,105.92 L308.88,106.00 L308.55,106.06 L308.05,106.16 L307.55,106.24 L307.30,106.28 L306.80,106.37 L306.30,106.45 L305.93,106.50 L305.55,106.56 L305.05,106.63 L304.55,106.70 L304.13,106.75 L303.80,106.79 L303.30,106.86 L302.80,106.92 L302.30,106.97 L302.05,107.00 L301.55,107.06 L301.05,107.12 L300.55,107.17 L300.05,107.22 L299.75,107.25 L299.30,107.30 L298.80,107.35 L298.30,107.40 L297.80,107.45 L297.30,107.50 L297.05,107.52 L296.55,107.58 L296.05,107.63 L295.55,107.68 L295.05,107.72 L294.78,107.75 L294.30,107.80 L293.80,107.85 L293.30,107.90 L292.80,107.95 L292.30,108.00 L292.05,108.02 L291.55,108.08 L291.05,108.13 L290.55,108.17 L290.05,108.22 L289.70,108.25 L289.30,108.29 L288.80,108.34 L288.30,108.39 L287.80,108.43 L287.30,108.48 L287.05,108.51 L286.55,108.56 L286.05,108.62 L285.55,108.69 L285.11,108.75 L284.80,108.80 L284.30,108.90 L283.82,109.00 L283.55,109.07 L283.05,109.21 L282.80,109.29 L282.30,109.47 L282.05,109.57 L281.65,109.75 L281.30,109.92 L281.05,110.05 L280.69,110.25 L280.30,110.48 L280.05,110.63 L279.80,110.78 L279.43,111.00 L279.05,111.23 L278.80,111.37 L278.55,111.51 L278.09,111.75 L277.80,111.89 L277.55,112.01 L277.05,112.22 L276.80,112.32 L276.30,112.49 L276.05,112.58 L275.55,112.72 L275.30,112.78 L274.80,112.89 L274.30,112.97 L274.05,113.01 L273.55,113.07 L273.05,113.11 L272.55,113.13 L272.05,113.13 L271.55,113.11 L271.05,113.08 L270.55,113.03 L270.30,112.99 L269.80,112.92 L269.30,112.83 L268.96,112.75 L268.55,112.65 L268.05,112.51 L267.80,112.44 L267.30,112.26 L267.05,112.17 L266.62,112.00 L266.30,111.87 L266.05,111.75 L265.55,111.50 L265.30,111.37 L265.05,111.23 L264.66,111.00 L264.30,110.77 L264.05,110.60 L263.80,110.42 L263.55,110.24 L263.25,110.00 L262.95,109.75 L262.67,109.50 L262.40,109.25 L262.15,109.00 L261.91,108.75 L261.68,108.50 L261.46,108.25 L261.25,108.00 L261.05,107.74 L260.80,107.42 L260.55,107.07 L260.33,106.75 L260.17,106.50 L260.01,106.25 L259.80,105.89 L259.58,105.50 L259.44,105.25 L259.30,104.96" fill="none" stroke="#7a7a7a" stroke-width="0.5"/>
<path d="M335.7,100.2h0.8 M268.0,117.7h0.8 M301.7,88.2h0.8 M278.4,112.9h0.8 M336.0,104.9h0.8 M309.5,91.9h0.8 M302.3,108.2h0.8 M277.1,117.9h0.8 M337.9,93.0h0.8 M267.8,117.5h0.8 M280.0,116.9h0.8 M334.8,98.7h0.8 M331.6,98.4h0.8 M272.1,118.6h0.8 M336.6,96.6h0.8 M329.1,96.4h0.8 M332.7,96.2h0.8 M337.5,100.4h0.8 M323.2,93.6h0.8 M273.5,118.4h0.8 M271.0,114.2h0.8 M280.0,116.9h0.8 M332.8,102.9h0.8 M332.3,94.1h0.8 M332.8,98.2h0.8 M271.1,116.5h0.8 M332.9,95.6h0.8 M329.3,95.8h0.8 M274.2,118.4h0.8 M271.6,116.4h0.8 M335.7,99.5h0.8 M285.5,116.4h0.8 M323.7,94.9h0.8 M298.5,118.4h0.8 M273.1,114.4h0.8 M271.1,114.1h0.8 M332.7,97.0h0.8 M321.0,94.5h0.8 M270.0,117.4h0.8 M331.7,99.6h0.8 M267.3,116.0h0.8 M321.0,91.1h0.8 M313.9,106.3h0.8 M331.3,91.0h0.8 M334.6,100.8h0.8 M269.6,115.2h0.8 M312.4,93.1h0.8 M270.0,120.8h0.8 M269.2,119.1h0.8 M328.1,95.7h0.8 M301.7,89.7h0.8 M266.2,115.8h0.8 M281.2,111.4h0.8 M277.4,115.9h0.8 M272.4,113.7h0.8 M266.5,113.0h0.8 M302.5,90.3h0.8 M310.2,108.1h0.8 M276.6,120.7h0.8 M274.3,120.3h0.8 M278.9,118.3h0.8 M272.0,113.9h0.8 M274.1,113.7h0.8 M331.0,98.8h0.8 M273.0,118.0h0.8 M275.7,120.1h0.8 M311.6,106.9h0.8 M332.7,104.0h0.8 M267.3,114.1h0.8 M270.1,118.3h0.8 M271.8,116.3h0.8 M272.9,116.1h0.8 M334.3,103.2h0.8 M326.7,89.2h0.8 M299.1,89.7h0.8 M335.8,99.1h0.8 M335.0,102.1h0.8 M332.8,93.9h0.8 M334.5,99.5h0.8 M307.9,107.9h0.8 M334.5,100.4h0.8 M277.8,117.3h0.8 M321.4,94.4h0.8 M328.5,90.5h0.8 M336.7,96.4h0.8 M311.1,90.8h0.8 M270.4,118.7h0.8 M269.8,115.5h0.8 M330.1,99.4h0.8 M335.0,104.5h0.8 M272.8,117.5h0.8 M317.6,94.0h0.8 M272.1,119.5h0.8 M323.8,93.1h0.8 M273.5,119.4h0.8 M308.2,112.1h0.8 M330.4,91.7h0.8 M274.1,119.0h0.8 M298.9,109.5h0.8 M269.8,122.3h0.8 M337.3,97.5h0.8 M333.7,96.9h0.8 M275.1,121.1h0.8 M274.4,117.5h0.8 M292.4,114.9h0.8 M328.3,95.6h0.8 M334.3,102.5h0.8 M333.1,92.1h0.8 M269.0,114.9h0.8 M273.8,114.0h0.8 M311.3,93.1h0.8 M277.4,118.0h0.8 M267.8,118.4h0.8 M264.5,112.1h0.8 M316.2,106.4h0.8 M265.6,122.3h0.8 M310.6,90.3h0.8 M332.9,99.4h0.8 M268.5,115.1h0.8 M274.2,114.2h0.8 M276.6,113.6h0.8 M334.1,95.8h0.8 M277.4,120.1h0.8 M268.4,119.2h0.8 M330.0,98.2h0.8 M337.2,96.8h0.8 M294.0,112.8h0.8 M317.5,93.2h0.8 M336.0,100.4h0.8 M272.4,121.8h0.8 M271.9,117.1h0.8 M294.7,108.3h0.8 M279.2,115.3h0.8 M329.0,96.0h0.8 M269.9,117.3h0.8 M281.3,118.9h0.8 M275.2,117.8h0.8 M336.4,107.4h0.8 M270.5,114.3h0.8 M274.9,116.7h0.8 M327.5,94.1h0.8 M274.1,113.9h0.8 M333.3,96.9h0.8 M270.1,118.6h0.8 M329.9,94.3h0.8 M337.8,103.1h0.8 M269.2,116.8h0.8 M333.4,95.6h0.8 M280.6,119.9h0.8 M285.9,115.5h0.8 M293.3,114.6h0.8 M270.7,115.4h0.8 M333.4,95.6h0.8 M276.0,116.3h0.8 M333.4,101.9h0.8 M266.0,114.2h0.8 M273.9,119.9h0.8 M270.1,119.0h0.8 M307.9,90.0h0.8 M334.3,99.0h0.8 M277.7,117.3h0.8 M270.0,115.4h0.8 M331.2,96.4h0.8 M276.5,115.4h0.8 M335.2,103.8h0.8 M270.6,118.3h0.8 M273.8,117.0h0.8 M320.4,92.5h0.8 M324.3,88.0h0.8 M335.8,104.5h0.8" stroke="#a0a0a0" stroke-width="0.8" fill="none"/>
<path d="M296.30,85.29 L295.80,85.35 L295.30,85.41 L294.80,85.44 L294.30,85.46 L293.80,85.46 L293.30,85.44 L292.80,85.41 L292.30,85.37 L291.80,85.30 L291.49,85.25 L291.05,85.17 L290.55,85.06 L290.30,85.00 L289.80,84.86 L289.45,84.75 L289.05,84.61 L288.75,84.50 L288.30,84.31 L288.05,84.20 L287.64,84.00 L287.30,83.82 L287.05,83.67 L286.77,83.50 L286.39,83.25 L286.05,83.00 L285.80,82.80 L285.55,82.59 L285.30,82.36 L285.05,82.11 L284.80,81.83 L284.55,81.53 L284.34,81.25 L284.17,81.00 L284.01,80.75 L283.80,80.36 L283.63,80.00 L283.53,79.75 L283.37,79.25 L283.30,78.95 L283.22,78.50 L283.18,78.00 L283.18,77.50 L283.23,77.00 L283.30,76.65 L283.40,76.25 L283.55,75.81 L283.67,75.50 L283.80,75.24 L284.05,74.79 L284.23,74.50 L284.41,74.25 L284.60,74.00 L284.81,73.75 L285.05,73.49 L285.30,73.24 L285.57,73.00 L285.86,72.75 L286.19,72.50 L286.54,72.25 L286.80,72.08 L287.05,71.93 L287.36,71.75 L287.80,71.52 L288.05,71.40 L288.39,71.25 L288.80,71.08 L289.05,70.99 L289.55,70.82 L289.80,70.74 L290.30,70.60 L290.72,70.50 L291.05,70.43 L291.55,70.34 L292.05,70.27 L292.30,70.23 L292.80,70.19 L293.30,70.15 L293.80,70.14 L294.30,70.14 L294.80,70.16 L295.30,70.19 L295.80,70.25 L296.05,70.28 L296.55,70.35 L297.05,70.45 L297.30,70.50 L297.80,70.63 L298.23,70.75 L298.55,70.85 L298.98,71.00 L299.30,71.12 L299.61,71.25 L300.05,71.45 L300.30,71.57 L300.64,71.75 L301.05,71.99 L301.30,72.14 L301.55,72.31 L301.81,72.50 L302.14,72.75 L302.44,73.00 L302.71,73.25 L302.96,73.50 L303.19,73.75 L303.40,74.00 L303.59,74.25 L303.80,74.55 L304.05,74.96 L304.21,75.25 L304.32,75.50 L304.52,76.00 L304.60,76.25 L304.72,76.75 L304.80,77.25 L304.82,77.50 L304.82,78.00 L304.80,78.30 L304.74,78.75 L304.63,79.25 L304.55,79.51 L304.37,80.00 L304.26,80.25 L304.05,80.64 L303.83,81.00 L303.66,81.25 L303.48,81.50 L303.27,81.75 L303.05,82.00 L302.80,82.26 L302.55,82.50 L302.26,82.75 L301.95,83.00 L301.61,83.25 L301.30,83.46 L301.05,83.61 L300.80,83.76 L300.36,84.00 L300.05,84.15 L299.80,84.27 L299.30,84.48 L299.05,84.58 L298.55,84.75 L298.30,84.83 L297.80,84.97 L297.55,85.04 L297.05,85.15 L296.55,85.24 L296.30,85.29Z M294.80,82.26 L294.30,82.29 L293.80,82.30 L293.30,82.27 L293.05,82.25 L292.55,82.18 L292.05,82.08 L291.73,82.00 L291.30,81.87 L290.96,81.75 L290.55,81.58 L290.30,81.46 L289.92,81.25 L289.55,81.01 L289.30,80.83 L289.05,80.62 L288.80,80.38 L288.55,80.11 L288.30,79.79 L288.12,79.50 L287.98,79.25 L287.80,78.79 L287.72,78.50 L287.65,78.00 L287.66,77.50 L287.75,77.00 L287.82,76.75 L288.03,76.25 L288.18,76.00 L288.34,75.75 L288.55,75.49 L288.80,75.21 L289.05,74.98 L289.33,74.75 L289.68,74.50 L290.05,74.28 L290.30,74.14 L290.60,74.00 L291.05,73.82 L291.30,73.73 L291.80,73.58 L292.14,73.50 L292.55,73.42 L293.05,73.35 L293.55,73.31 L294.05,73.30 L294.55,73.32 L295.05,73.36 L295.55,73.44 L295.86,73.50 L296.30,73.61 L296.76,73.75 L297.05,73.85 L297.40,74.00 L297.80,74.19 L298.05,74.33 L298.32,74.50 L298.67,74.75 L298.97,75.00 L299.24,75.25 L299.46,75.50 L299.66,75.75 L299.83,76.00 L300.05,76.42 L300.18,76.75 L300.30,77.21 L300.34,77.50 L300.35,78.00 L300.30,78.38 L300.21,78.75 L300.05,79.17 L299.88,79.50 L299.73,79.75 L299.54,80.00 L299.30,80.28 L299.05,80.53 L298.80,80.75 L298.47,81.00 L298.08,81.25 L297.80,81.41 L297.55,81.53 L297.05,81.75 L296.80,81.84 L296.30,81.99 L296.05,82.06 L295.55,82.16 L295.05,82.24 L294.80,82.26Z" fill="none" stroke="#5a5a5a" stroke-width="0.45"/>
<path d="M279.5,78.3h0.8 M274.6,69.7h0.8 M293.5,62.3h0.8 M305.5,73.6h0.8 M293.7,69.6h0.8 M287.6,69.8h0.8 M313.2,70.9h0.8 M297.4,66.1h0.8 M282.2,82.1h0.8 M294.9,69.4h0.8 M318.1,80.5h0.8 M303.0,86.8h0.8 M311.3,75.4h0.8 M287.8,68.6h0.8 M284.8,88.3h0.8 M298.8,65.9h0.8 M278.6,76.5h0.8 M311.6,70.5h0.8 M315.8,71.0h0.8 M316.6,72.4h0.8 M292.9,66.5h0.8 M282.0,75.8h0.8 M273.1,83.2h0.8 M296.4,68.5h0.8 M308.0,69.9h0.8 M283.0,74.5h0.8 M308.6,68.3h0.8 M281.6,78.0h0.8 M304.4,72.0h0.8 M294.2,66.9h0.8 M307.6,64.9h0.8 M292.7,68.9h0.8 M284.5,65.4h0.8 M272.9,89.8h0.8 M277.3,79.5h0.8 M308.5,79.2h0.8 M304.8,80.3h0.8 M270.8,73.8h0.8 M304.9,74.2h0.8 M285.4,86.8h0.8 M283.8,73.8h0.8 M302.6,66.8h0.8 M304.7,81.2h0.8 M288.4,70.8h0.8 M312.3,76.2h0.8 M285.7,72.1h0.8 M303.6,67.1h0.8 M302.8,66.3h0.8 M282.8,75.5h0.8 M305.3,62.2h0.8 M287.9,67.5h0.8 M313.4,80.7h0.8 M289.0,85.5h0.8 M310.0,73.2h0.8 M304.5,66.1h0.8 M335.3,77.0h0.8 M280.2,76.2h0.8 M276.6,67.0h0.8 M304.0,83.0h0.8 M281.5,79.4h0.8 M314.2,85.8h0.8 M279.9,83.9h0.8 M308.2,80.6h0.8 M301.8,65.0h0.8 M288.6,70.1h0.8 M299.6,85.1h0.8 M314.3,76.9h0.8 M278.3,76.2h0.8 M281.9,75.0h0.8 M307.3,82.0h0.8 M288.4,69.3h0.8 M297.4,67.5h0.8 M328.6,81.8h0.8 M288.3,66.8h0.8 M309.1,81.6h0.8 M283.2,80.7h0.8 M304.1,69.6h0.8 M309.9,79.1h0.8 M277.4,82.4h0.8 M278.1,72.2h0.8 M287.5,67.1h0.8 M293.3,86.8h0.8 M314.4,67.9h0.8 M271.0,74.4h0.8 M293.5,67.6h0.8 M302.1,88.9h0.8 M282.1,74.3h0.8 M308.6,87.9h0.8 M277.8,82.0h0.8 M315.5,80.8h0.8 M275.8,88.6h0.8 M296.1,86.7h0.8 M315.7,77.2h0.8 M310.4,75.5h0.8 M284.3,68.1h0.8 M300.0,70.5h0.8 M285.0,84.2h0.8 M303.6,71.1h0.8 M293.1,64.5h0.8 M300.2,68.2h0.8 M316.3,67.8h0.8 M277.2,81.2h0.8 M303.2,63.3h0.8 M313.4,69.8h0.8 M282.8,71.4h0.8 M271.3,84.7h0.8 M312.0,75.0h0.8 M299.2,70.0h0.8 M278.8,76.5h0.8 M287.0,70.4h0.8 M293.4,68.6h0.8 M295.7,88.6h0.8 M311.8,76.5h0.8 M283.1,70.4h0.8 M281.0,73.8h0.8 M334.0,76.7h0.8 M280.4,77.8h0.8 M301.0,64.4h0.8 M314.1,79.8h0.8 M280.6,68.8h0.8 M308.3,69.5h0.8 M278.1,70.6h0.8 M308.8,67.8h0.8 M283.2,69.6h0.8 M282.6,76.7h0.8 M281.3,77.7h0.8 M311.3,64.4h0.8 M304.6,67.4h0.8 M283.8,82.5h0.8 M314.4,68.2h0.8 M306.4,71.1h0.8 M272.7,70.1h0.8 M309.9,87.0h0.8 M303.6,70.8h0.8 M306.7,77.7h0.8 M316.6,80.9h0.8 M328.9,76.6h0.8 M306.0,81.6h0.8 M280.0,65.9h0.8 M296.6,87.2h0.8 M305.1,69.4h0.8 M338.1,85.0h0.8 M293.4,68.7h0.8 M289.9,64.3h0.8 M306.3,67.9h0.8 M286.2,68.0h0.8 M284.5,70.8h0.8 M297.3,87.2h0.8 M297.6,70.1h0.8 M279.2,81.2h0.8 M287.2,86.7h0.8 M316.4,67.2h0.8 M287.2,84.9h0.8 M306.7,75.4h0.8 M308.0,71.9h0.8 M276.4,65.4h0.8 M283.3,71.0h0.8 M276.6,77.2h0.8 M311.4,75.8h0.8 M275.8,79.3h0.8 M298.2,86.9h0.8 M309.4,68.7h0.8 M272.5,73.4h0.8 M328.4,81.5h0.8 M274.6,79.2h0.8 M279.8,71.4h0.8 M295.2,68.7h0.8 M287.9,86.3h0.8 M287.5,71.5h0.8 M283.8,70.5h0.8 M283.8,69.6h0.8 M286.6,62.4h0.8 M289.7,62.6h0.8 M291.8,67.9h0.8 M285.1,89.8h0.8 M280.1,73.3h0.8 M288.7,68.8h0.8 M307.9,78.3h0.8 M294.0,68.5h0.8 M284.3,69.7h0.8 M308.7,78.1h0.8 M308.3,77.9h0.8 M300.8,69.8h0.8 M305.5,84.0h0.8 M326.0,82.8h0.8 M280.8,76.9h0.8 M306.4,76.0h0.8 M280.7,76.1h0.8 M320.4,88.2h0.8 M302.2,83.6h0.8 M285.8,85.0h0.8 M281.3,72.2h0.8 M301.8,87.4h0.8 M294.2,68.5h0.8 M312.0,80.9h0.8 M277.6,71.8h0.8 M310.4,77.0h0.8 M288.8,70.9h0.8 M304.9,67.6h0.8 M293.4,68.3h0.8 M295.8,69.2h0.8 M298.8,69.6h0.8 M310.7,76.9h0.8 M274.1,65.8h0.8 M314.1,69.5h0.8 M307.0,77.7h0.8 M286.0,67.9h0.8 M288.7,67.5h0.8 M281.0,79.2h0.8 M282.0,73.9h0.8 M283.0,81.5h0.8 M285.8,67.6h0.8 M310.0,67.0h0.8 M303.4,68.0h0.8 M303.5,68.5h0.8 M301.2,71.3h0.8 M305.8,79.8h0.8 M302.7,72.3h0.8 M330.3,63.2h0.8 M283.3,73.1h0.8 M274.6,68.4h0.8 M314.6,70.1h0.8 M314.3,71.1h0.8 M275.4,67.7h0.8 M277.6,72.3h0.8 M275.5,68.1h0.8 M280.3,71.3h0.8 M276.4,80.1h0.8 M277.8,69.6h0.8 M306.5,77.0h0.8 M273.2,70.1h0.8 M284.7,63.0h0.8 M307.3,67.9h0.8 M297.5,86.9h0.8 M282.0,69.9h0.8 M286.4,67.6h0.8 M280.0,77.8h0.8 M288.6,70.2h0.8 M284.2,65.6h0.8 M303.1,68.0h0.8 M297.5,87.7h0.8 M301.9,67.0h0.8 M309.4,70.8h0.8 M284.8,84.5h0.8 M332.0,79.6h0.8 M290.3,70.1h0.8 M325.4,81.9h0.8 M305.0,71.4h0.8 M287.3,65.5h0.8 M279.9,83.1h0.8 M289.2,68.6h0.8 M299.2,70.7h0.8 M304.0,66.4h0.8 M314.9,65.5h0.8 M284.5,82.1h0.8 M330.3,79.2h0.8 M299.4,67.5h0.8 M275.0,77.6h0.8 M272.1,80.0h0.8 M305.6,75.5h0.8 M290.3,65.1h0.8 M313.1,74.8h0.8 M311.0,65.9h0.8 M314.2,82.6h0.8 M322.5,64.5h0.8 M312.0,81.1h0.8 M281.2,77.7h0.8 M278.0,77.6h0.8 M298.0,65.7h0.8 M280.0,74.6h0.8 M294.1,69.9h0.8 M311.3,77.0h0.8 M316.1,70.1h0.8 M303.4,67.5h0.8 M288.5,62.6h0.8 M298.5,89.0h0.8 M310.3,78.1h0.8 M313.8,71.2h0.8 M286.6,66.5h0.8 M295.1,69.4h0.8 M313.3,72.6h0.8 M282.0,68.5h0.8 M283.5,74.1h0.8 M281.8,65.2h0.8 M294.9,68.6h0.8 M280.7,73.0h0.8 M278.1,74.5h0.8 M311.8,70.6h0.8 M306.4,71.6h0.8 M282.6,70.8h0.8 M298.6,70.1h0.8 M303.0,72.4h0.8 M316.6,73.0h0.8 M286.7,69.4h0.8 M281.7,69.0h0.8 M316.3,71.6h0.8 M306.6,78.3h0.8 M272.1,66.6h0.8 M291.7,69.5h0.8 M307.3,81.7h0.8 M295.2,87.0h0.8 M299.4,69.2h0.8 M316.8,72.0h0.8 M319.7,76.3h0.8 M315.6,70.3h0.8 M311.2,72.2h0.8 M295.4,86.0h0.8 M303.5,70.8h0.8 M290.0,67.1h0.8 M274.8,69.3h0.8 M309.0,78.5h0.8 M309.8,69.6h0.8 M296.2,66.7h0.8 M309.6,69.6h0.8 M305.0,84.0h0.8 M306.2,79.4h0.8 M285.3,87.3h0.8 M273.6,76.2h0.8 M304.4,83.1h0.8 M297.8,69.7h0.8" stroke="#a0a0a0" stroke-width="0.8" fill="none"/>
<line x1="259.3" y1="40.7" x2="259.3" y2="124.2" stroke="#c4c4c4" stroke-width="0.7" />
<line x1="258.8" y1="123.7" x2="341.7" y2="123.7" stroke="#444" stroke-width="0.9" />
<line x1="260.1" y1="123.7" x2="260.1" y2="125.9" stroke="#333" stroke-width="0.8" />
<line x1="263.20000000000005" y1="123.7" x2="263.20000000000005" y2="124.9" stroke="#666" stroke-width="0.5" />
<line x1="266.3" y1="123.7" x2="266.3" y2="124.9" stroke="#666" stroke-width="0.5" />
<line x1="269.40000000000003" y1="123.7" x2="269.40000000000003" y2="124.9" stroke="#666" stroke-width="0.5" />
<line x1="272.5" y1="123.7" x2="272.5" y2="124.9" stroke="#666" stroke-width="0.5" />
<line x1="275.6" y1="123.7" x2="275.6" y2="125.9" stroke="#333" stroke-width="0.8" />
<line x1="278.70000000000005" y1="123.7" x2="278.70000000000005" y2="124.9" stroke="#666" stroke-width="0.5" />
<line x1="281.8" y1="123.7" x2="281.8" y2="124.9" stroke="#666" stroke-width="0.5" />
<line x1="284.90000000000003" y1="123.7" x2="284.90000000000003" y2="124.9" stroke="#666" stroke-width="0.5" />
<line x1="288.0" y1="123.7" x2="288.0" y2="124.9" stroke="#666" stroke-width="0.5" />
<line x1="291.1" y1="123.7" x2="291.1" y2="125.9" stroke="#333" stroke-width="0.8" />
<line x1="294.20000000000005" y1="123.7" x2="294.20000000000005" y2="124.9" stroke="#666" stroke-width="0.5" />
<line x1="297.3" y1="123.7" x2="297.3" y2="124.9" stroke="#666" stroke-width="0.5" />
<line x1="300.40000000000003" y1="123.7" x2="300.40000000000003" y2="124.9" stroke="#666" stroke-width="0.5" />
<line x1="303.5" y1="123.7" x2="303.5" y2="124.9" stroke="#666" stroke-width="0.5" />
<line x1="306.6" y1="123.7" x2="306.6" y2="125.9" stroke="#333" stroke-width="0.8" />
<line x1="309.70000000000005" y1="123.7" x2="309.70000000000005" y2="124.9" stroke="#666" stroke-width="0.5" />
<line x1="312.8" y1="123.7" x2="312.8" y2="124.9" stroke="#666" stroke-width="0.5" />
<line x1="315.90000000000003" y1="123.7" x2="315.90000000000003" y2="124.9" stroke="#666" stroke-width="0.5" />
<line x1="319.0" y1="123.7" x2="319.0" y2="124.9" stroke="#666" stroke-width="0.5" />
<line x1="322.1" y1="123.7" x2="322.1" y2="125.9" stroke="#333" stroke-width="0.8" />
<line x1="325.20000000000005" y1="123.7" x2="325.20000000000005" y2="124.9" stroke="#666" stroke-width="0.5" />
<line x1="328.3" y1="123.7" x2="328.3" y2="124.9" stroke="#666" stroke-width="0.5" />
<line x1="331.40000000000003" y1="123.7" x2="331.40000000000003" y2="124.9" stroke="#666" stroke-width="0.5" />
<line x1="334.5" y1="123.7" x2="334.5" y2="124.9" stroke="#666" stroke-width="0.5" />
<line x1="337.6" y1="123.7" x2="337.6" y2="125.9" stroke="#333" stroke-width="0.8" />
<line x1="340.70000000000005" y1="123.7" x2="340.70000000000005" y2="124.9" stroke="#666" stroke-width="0.5" />
<text x="260.1" y="129.6" font-size="4.2" text-anchor="middle" font-weight="normal" font-style="normal" fill="#777" >0</text>
<text x="275.6" y="129.6" font-size="4.2" text-anchor="middle" font-weight="normal" font-style="normal" fill="#777" >50K</text>
<text x="291.1" y="129.6" font-size="4.2" text-anchor="middle" font-weight="normal" font-style="normal" fill="#777" >100K</text>
<text x="306.6" y="129.6" font-size="4.2" text-anchor="middle" font-weight="normal" font-style="normal" fill="#777" >150K</text>
<text x="322.1" y="129.6" font-size="4.2" text-anchor="middle" font-weight="normal" font-style="normal" fill="#777" >200K</text>
<text x="337.6" y="129.6" font-size="4.2" text-anchor="middle" font-weight="normal" font-style="normal" fill="#777" >250K</text>
<line x1="256.5" y1="49.4" x2="259.3" y2="49.4" stroke="#333" stroke-width="0.8" />
<text x="253.5" y="52.6" font-size="4.2" text-anchor="end" font-weight="normal" font-style="normal" fill="#9a9a9a" >10</text>
<text x="253.70000000000002" y="50.0" font-size="3" text-anchor="start" font-weight="normal" font-style="normal" fill="#9a9a9a" >5</text>
<line x1="256.5" y1="69.4" x2="259.3" y2="69.4" stroke="#333" stroke-width="0.8" />
<text x="253.5" y="72.60000000000001" font-size="4.2" text-anchor="end" font-weight="normal" font-style="normal" fill="#9a9a9a" >10</text>
<text x="253.70000000000002" y="70.0" font-size="3" text-anchor="start" font-weight="normal" font-style="normal" fill="#9a9a9a" >4</text>
<line x1="256.5" y1="92.3" x2="259.3" y2="92.3" stroke="#333" stroke-width="0.8" />
<text x="253.5" y="95.5" font-size="4.2" text-anchor="end" font-weight="normal" font-style="normal" fill="#9a9a9a" >10</text>
<text x="253.70000000000002" y="92.89999999999999" font-size="3" text-anchor="start" font-weight="normal" font-style="normal" fill="#9a9a9a" >3</text>
<line x1="256.5" y1="100.3" x2="259.3" y2="100.3" stroke="#333" stroke-width="0.8" />
<text x="253.5" y="103.5" font-size="4.2" text-anchor="end" font-weight="normal" font-style="normal" fill="#9a9a9a" >0</text>
<line x1="256.5" y1="108.8" x2="259.3" y2="108.8" stroke="#333" stroke-width="0.8" />
<text x="253.5" y="112.0" font-size="4.2" text-anchor="end" font-weight="normal" font-style="normal" fill="#9a9a9a" >-10</text>
<text x="253.70000000000002" y="109.39999999999999" font-size="3" text-anchor="start" font-weight="normal" font-style="normal" fill="#9a9a9a" >3</text>
<line x1="257.8" y1="43.37940008672037" x2="259.3" y2="43.37940008672037" stroke="#666" stroke-width="0.5" />
<line x1="257.8" y1="63.37940008672038" x2="259.3" y2="63.37940008672038" stroke="#666" stroke-width="0.5" />
<line x1="257.8" y1="59.857574905606754" x2="259.3" y2="59.857574905606754" stroke="#666" stroke-width="0.5" />
<line x1="257.8" y1="57.358800173440756" x2="259.3" y2="57.358800173440756" stroke="#666" stroke-width="0.5" />
<line x1="257.8" y1="55.420599913279624" x2="259.3" y2="55.420599913279624" stroke="#666" stroke-width="0.5" />
<line x1="257.8" y1="53.83697499232713" x2="259.3" y2="53.83697499232713" stroke="#666" stroke-width="0.5" />
<line x1="257.8" y1="52.49803919971487" x2="259.3" y2="52.49803919971487" stroke="#666" stroke-width="0.5" />
<line x1="257.8" y1="51.33820026016113" x2="259.3" y2="51.33820026016113" stroke="#666" stroke-width="0.5" />
<line x1="257.8" y1="50.3151498112135" x2="259.3" y2="50.3151498112135" stroke="#666" stroke-width="0.5" />
<line x1="257.8" y1="85.40641309929484" x2="259.3" y2="85.40641309929484" stroke="#666" stroke-width="0.5" />
<line x1="257.8" y1="81.37392326691973" x2="259.3" y2="81.37392326691973" stroke="#666" stroke-width="0.5" />
<line x1="257.8" y1="78.51282619858966" x2="259.3" y2="78.51282619858966" stroke="#666" stroke-width="0.5" />
<line x1="257.8" y1="76.29358690070518" x2="259.3" y2="76.29358690070518" stroke="#666" stroke-width="0.5" />
<line x1="257.8" y1="74.48033636621457" x2="259.3" y2="74.48033636621457" stroke="#666" stroke-width="0.5" />
<line x1="257.8" y1="72.94725488367352" x2="259.3" y2="72.94725488367352" stroke="#666" stroke-width="0.5" />
<line x1="257.8" y1="71.61923929788449" x2="259.3" y2="71.61923929788449" stroke="#666" stroke-width="0.5" />
<line x1="257.8" y1="70.44784653383947" x2="259.3" y2="70.44784653383947" stroke="#666" stroke-width="0.5" />
<line x1="257.7" y1="94.3" x2="259.3" y2="94.3" stroke="#666" stroke-width="0.5" />
<line x1="257.7" y1="96.3" x2="259.3" y2="96.3" stroke="#666" stroke-width="0.5" />
<line x1="257.7" y1="98.3" x2="259.3" y2="98.3" stroke="#666" stroke-width="0.5" />
<line x1="257.7" y1="102.3" x2="259.3" y2="102.3" stroke="#666" stroke-width="0.5" />
<line x1="257.7" y1="104.3" x2="259.3" y2="104.3" stroke="#666" stroke-width="0.5" />
<line x1="257.7" y1="106.3" x2="259.3" y2="106.3" stroke="#666" stroke-width="0.5" />
<circle cx="258.0" cy="100.3" r="1.3" fill="#000"/>
<rect x="269.4" y="60.8" width="71.60000000000002" height="25.200000000000003" fill="none" stroke="#3a3a3a" stroke-width="0.9" />
<rect x="260.1" y="90.4" width="78.19999999999999" height="22.39999999999999" fill="none" stroke="#3a3a3a" stroke-width="0.9" />
<text x="336.0" y="74.7" font-size="11.8" text-anchor="end" font-weight="normal" font-style="normal" fill="#000" >7.8</text>
<text x="331.5" y="109.4" font-size="11.8" text-anchor="end" font-weight="normal" font-style="normal" fill="#000" >91</text>
<line x1="368.3" y1="41" x2="450.4" y2="41" stroke="#e4e4e4" stroke-width="0.9" />
<line x1="450.4" y1="41" x2="450.4" y2="123.7" stroke="#cccccc" stroke-width="0.9" />
<path d="M368.30,86.33 L368.55,86.13 L368.80,85.93 L369.05,85.75 L369.41,85.50 L369.79,85.25 L370.05,85.09 L370.30,84.94 L370.65,84.75 L371.05,84.54 L371.30,84.41 L371.66,84.25 L372.05,84.08 L372.30,83.98 L372.80,83.78 L373.05,83.69 L373.55,83.53 L373.80,83.45 L374.30,83.31 L374.55,83.24 L375.05,83.12 L375.55,83.01 L375.80,82.96 L376.30,82.87 L376.80,82.80 L377.24,82.75 L377.55,82.71 L378.05,82.67 L378.55,82.63 L379.05,82.61 L379.55,82.60 L380.05,82.59 L380.55,82.60 L381.05,82.62 L381.55,82.64 L382.05,82.67 L382.55,82.71 L382.96,82.75 L383.30,82.78 L383.80,82.83 L384.30,82.88 L384.80,82.94 L385.30,83.00 L385.55,83.03 L386.05,83.08 L386.55,83.13 L387.05,83.19 L387.55,83.24 L387.80,83.26 L388.30,83.30 L388.80,83.33 L389.30,83.36 L389.80,83.39 L390.30,83.41 L390.80,83.43 L391.30,83.44 L391.80,83.46 L392.30,83.46 L392.80,83.47 L393.30,83.48 L393.80,83.48 L394.30,83.49 L394.80,83.49 L395.30,83.50 L395.66,83.50 L396.05,83.50 L396.55,83.51 L397.05,83.51 L397.55,83.52 L398.05,83.53 L398.55,83.54 L399.05,83.54 L399.55,83.55 L400.05,83.56 L400.55,83.58 L401.05,83.59 L401.55,83.60 L402.05,83.62 L402.55,83.63 L403.05,83.65 L403.55,83.67 L404.05,83.69 L404.55,83.71 L405.05,83.73 L405.40,83.75 L405.80,83.77 L406.30,83.79 L406.80,83.82 L407.30,83.85 L407.80,83.88 L408.30,83.92 L408.80,83.95 L409.30,83.99 L409.55,84.01 L410.05,84.05 L410.55,84.09 L411.05,84.14 L411.55,84.18 L412.05,84.23 L412.30,84.26 L412.80,84.31 L413.30,84.36 L413.80,84.42 L414.30,84.48 L414.55,84.51 L415.05,84.57 L415.55,84.63 L416.05,84.70 L416.40,84.75 L416.80,84.80 L417.30,84.87 L417.80,84.94 L418.20,85.00 L418.55,85.05 L419.05,85.12 L419.55,85.20 L419.90,85.25 L420.30,85.31 L420.80,85.38 L421.30,85.46 L421.80,85.54 L422.30,85.61 L422.80,85.69 L423.17,85.75 L423.55,85.81 L424.05,85.89 L424.55,85.97 L424.80,86.01 L425.30,86.09 L425.80,86.17 L426.29,86.25 L426.55,86.29 L427.05,86.38 L427.55,86.46 L427.80,86.51 L428.30,86.60 L428.80,86.69 L429.10,86.75 L429.55,86.84 L430.05,86.94 L430.33,87.00 L430.80,87.10 L431.30,87.22 L431.55,87.28 L432.05,87.40 L432.42,87.50 L432.80,87.61 L433.29,87.75 L433.55,87.83 L434.05,88.00 L434.30,88.09 L434.72,88.25 L435.05,88.39 L435.30,88.50 L435.80,88.75 L436.05,88.89 L436.30,89.05 L436.58,89.25 L436.87,89.50 L437.09,89.75 L437.30,90.13 L437.39,90.50 L437.30,90.99 L437.16,91.25 L436.97,91.50 L436.72,91.75 L436.40,92.00 L436.05,92.23 L435.80,92.38 L435.55,92.51 L435.06,92.75 L434.80,92.86 L434.47,93.00 L434.05,93.16 L433.80,93.25 L433.30,93.42 L433.05,93.51 L432.55,93.66 L432.25,93.75 L431.80,93.88 L431.36,94.00 L431.05,94.08 L430.55,94.21 L430.30,94.27 L429.80,94.40 L429.37,94.50 L429.05,94.58 L428.55,94.69 L428.29,94.75 L427.80,94.86 L427.30,94.97 L427.05,95.03 L426.55,95.14 L426.05,95.25 L425.80,95.30 L425.30,95.41 L424.88,95.50 L424.55,95.57 L424.05,95.68 L423.72,95.75 L423.30,95.84 L422.80,95.95 L422.53,96.00 L422.05,96.10 L421.55,96.21 L421.30,96.26 L420.80,96.36 L420.30,96.46 L420.05,96.51 L419.55,96.60 L419.05,96.70 L418.77,96.75 L418.30,96.84 L417.80,96.93 L417.37,97.00 L417.05,97.06 L416.55,97.14 L416.05,97.22 L415.80,97.26 L415.30,97.34 L414.80,97.41 L414.30,97.48 L414.05,97.52 L413.55,97.59 L413.05,97.66 L412.55,97.72 L412.30,97.75 L411.80,97.81 L411.30,97.87 L410.80,97.93 L410.30,97.99 L410.05,98.02 L409.55,98.07 L409.05,98.13 L408.55,98.18 L408.05,98.23 L407.80,98.26 L407.30,98.31 L406.80,98.37 L406.30,98.42 L405.80,98.47 L405.49,98.50 L405.05,98.55 L404.55,98.60 L404.05,98.66 L403.55,98.71 L403.16,98.75 L402.80,98.79 L402.30,98.85 L401.80,98.90 L401.30,98.95 L400.87,99.00 L400.55,99.04 L400.05,99.09 L399.55,99.15 L399.05,99.20 L398.55,99.25 L398.30,99.28 L397.80,99.33 L397.30,99.39 L396.80,99.44 L396.30,99.49 L396.05,99.52 L395.55,99.58 L395.05,99.65 L394.55,99.71 L394.28,99.75 L393.80,99.83 L393.30,99.93 L392.94,100.00 L392.55,100.10 L392.05,100.24 L391.80,100.32 L391.31,100.50 L391.05,100.61 L390.74,100.75 L390.30,100.97 L390.05,101.11 L389.80,101.25 L389.38,101.50 L389.05,101.70 L388.80,101.85 L388.54,102.00 L388.11,102.25 L387.80,102.42 L387.55,102.55 L387.14,102.75 L386.80,102.91 L386.55,103.01 L386.05,103.20 L385.80,103.28 L385.30,103.43 L385.04,103.50 L384.55,103.62 L384.05,103.71 L383.75,103.75 L383.30,103.81 L382.80,103.85 L382.30,103.88 L381.80,103.88 L381.30,103.87 L380.80,103.84 L380.30,103.80 L379.90,103.75 L379.55,103.70 L379.05,103.62 L378.55,103.52 L378.30,103.47 L377.80,103.35 L377.43,103.25 L377.05,103.15 L376.59,103.00 L376.30,102.91 L375.86,102.75 L375.55,102.64 L375.21,102.50 L374.80,102.34 L374.55,102.23 L374.05,102.00 L373.80,101.89 L373.52,101.75 L373.05,101.51 L372.80,101.38 L372.55,101.25 L372.11,101.00 L371.80,100.82 L371.55,100.67 L371.28,100.50 L370.89,100.25 L370.55,100.02 L370.30,99.85 L370.05,99.67 L369.80,99.49 L369.49,99.25 L369.18,99.00 L368.88,98.75 L368.60,98.50 L368.33,98.25Z" fill="#000" fill-opacity="0.06" stroke="none"/><path d="M381.80,99.01 L381.30,99.07 L380.80,99.10 L380.30,99.10 L379.80,99.08 L379.30,99.02 L379.05,98.99 L378.55,98.90 L378.05,98.78 L377.80,98.71 L377.30,98.56 L377.05,98.48 L376.55,98.29 L376.30,98.19 L375.88,98.00 L375.55,97.84 L375.30,97.71 L374.93,97.50 L374.55,97.27 L374.30,97.11 L374.05,96.94 L373.80,96.75 L373.48,96.50 L373.19,96.25 L372.92,96.00 L372.68,95.75 L372.45,95.50 L372.25,95.25 L372.05,94.98 L371.80,94.59 L371.61,94.25 L371.50,94.00 L371.31,93.50 L371.25,93.25 L371.16,92.75 L371.13,92.25 L371.17,91.75 L371.27,91.25 L371.35,91.00 L371.55,90.51 L371.68,90.25 L371.83,90.00 L372.05,89.69 L372.30,89.38 L372.55,89.11 L372.80,88.87 L373.05,88.65 L373.30,88.46 L373.59,88.25 L373.98,88.00 L374.30,87.81 L374.55,87.68 L374.94,87.50 L375.30,87.35 L375.55,87.25 L376.05,87.08 L376.31,87.00 L376.80,86.87 L377.30,86.76 L377.55,86.71 L378.05,86.63 L378.55,86.57 L379.05,86.53 L379.55,86.51 L380.05,86.50 L380.37,86.50 L380.80,86.51 L381.30,86.54 L381.80,86.58 L382.30,86.63 L382.80,86.69 L383.20,86.75 L383.55,86.80 L384.05,86.89 L384.55,86.98 L384.80,87.02 L385.30,87.12 L385.80,87.22 L386.05,87.27 L386.55,87.37 L387.05,87.46 L387.30,87.51 L387.80,87.61 L388.30,87.70 L388.60,87.75 L389.05,87.83 L389.55,87.91 L390.05,87.98 L390.30,88.02 L390.80,88.09 L391.30,88.17 L391.80,88.24 L392.05,88.27 L392.55,88.35 L393.05,88.42 L393.55,88.50 L393.80,88.54 L394.30,88.62 L394.80,88.71 L395.05,88.76 L395.55,88.86 L396.05,88.97 L396.30,89.03 L396.80,89.15 L397.15,89.25 L397.55,89.37 L397.96,89.50 L398.30,89.62 L398.64,89.75 L399.05,89.93 L399.30,90.06 L399.65,90.25 L400.00,90.50 L400.27,90.75 L400.46,91.00 L400.56,91.25 L400.55,91.70 L400.43,92.00 L400.24,92.25 L399.99,92.50 L399.68,92.75 L399.31,93.00 L399.05,93.15 L398.80,93.28 L398.36,93.50 L398.05,93.64 L397.79,93.75 L397.30,93.94 L397.05,94.03 L396.55,94.20 L396.30,94.28 L395.80,94.43 L395.55,94.51 L395.05,94.64 L394.63,94.75 L394.30,94.83 L393.80,94.95 L393.55,95.01 L393.05,95.12 L392.55,95.24 L392.30,95.29 L391.80,95.41 L391.41,95.50 L391.05,95.59 L390.55,95.71 L390.30,95.78 L389.80,95.92 L389.55,96.00 L389.05,96.16 L388.79,96.25 L388.30,96.43 L388.05,96.53 L387.55,96.73 L387.30,96.84 L386.96,97.00 L386.55,97.19 L386.30,97.31 L385.92,97.50 L385.55,97.68 L385.30,97.80 L384.89,98.00 L384.55,98.16 L384.30,98.27 L383.80,98.47 L383.55,98.57 L383.05,98.73 L382.80,98.80 L382.30,98.92 L381.86,99.00Z M380.80,93.28 L380.30,93.38 L379.80,93.38 L379.30,93.27 L379.05,93.15 L378.80,92.98 L378.55,92.60 L378.52,92.25 L378.62,92.00 L378.84,91.75 L379.28,91.50 L379.55,91.42 L380.05,91.36 L380.55,91.39 L381.02,91.50 L381.30,91.64 L381.55,91.82 L381.80,92.25 L381.64,92.75 L381.38,93.00 L381.05,93.18 L380.80,93.28Z" fill="#000" fill-opacity="0.3" fill-rule="evenodd" stroke="none"/><path d="M380.30,94.51 L379.80,94.52 L379.55,94.50 L379.05,94.41 L378.55,94.27 L378.30,94.16 L377.98,94.00 L377.62,93.75 L377.35,93.50 L377.16,93.25 L377.02,93.00 L376.88,92.50 L376.93,92.00 L377.05,91.70 L377.30,91.34 L377.55,91.10 L377.80,90.91 L378.08,90.75 L378.55,90.55 L378.80,90.47 L379.30,90.37 L379.80,90.31 L380.30,90.30 L380.80,90.33 L381.30,90.41 L381.70,90.50 L382.05,90.61 L382.42,90.75 L382.80,90.94 L383.05,91.10 L383.30,91.30 L383.55,91.57 L383.76,92.00 L383.76,92.50 L383.55,92.94 L383.30,93.25 L383.02,93.50 L382.67,93.75 L382.30,93.96 L382.05,94.08 L381.62,94.25 L381.30,94.35 L380.80,94.46 L380.45,94.50Z M380.55,95.52 L380.05,95.54 L379.55,95.52 L379.30,95.50 L378.80,95.42 L378.30,95.29 L378.05,95.21 L377.55,95.00 L377.30,94.88 L377.05,94.73 L376.71,94.50 L376.41,94.25 L376.17,94.00 L375.97,93.75 L375.80,93.50 L375.58,93.00 L375.52,92.75 L375.49,92.25 L375.55,91.86 L375.67,91.50 L375.80,91.25 L376.05,90.91 L376.30,90.65 L376.55,90.44 L376.81,90.25 L377.25,90.00 L377.55,89.87 L377.85,89.75 L378.30,89.61 L378.80,89.50 L379.05,89.46 L379.55,89.41 L380.05,89.39 L380.55,89.39 L381.05,89.43 L381.55,89.49 L381.80,89.54 L382.30,89.64 L382.72,89.75 L383.05,89.85 L383.48,90.00 L383.80,90.13 L384.07,90.25 L384.55,90.50 L384.80,90.66 L385.05,90.83 L385.30,91.03 L385.55,91.30 L385.80,91.71 L385.88,92.00 L385.82,92.50 L385.71,92.75 L385.35,93.25 L385.10,93.50 L384.81,93.75 L384.55,93.95 L384.30,94.12 L384.05,94.29 L383.69,94.50 L383.30,94.71 L383.05,94.83 L382.66,95.00 L382.30,95.13 L381.94,95.25 L381.55,95.36 L381.05,95.46 L380.74,95.50Z M381.55,96.30 L381.05,96.38 L380.55,96.43 L380.05,96.45 L379.55,96.43 L379.05,96.38 L378.55,96.29 L378.30,96.23 L377.80,96.08 L377.55,95.99 L377.05,95.79 L376.80,95.66 L376.50,95.50 L376.11,95.25 L375.80,95.02 L375.55,94.81 L375.30,94.56 L375.05,94.28 L374.84,94.00 L374.69,93.75 L374.55,93.46 L374.39,93.00 L374.31,92.50 L374.33,92.00 L374.45,91.50 L374.55,91.25 L374.80,90.81 L375.03,90.50 L375.27,90.25 L375.55,90.00 L375.80,89.81 L376.05,89.64 L376.30,89.49 L376.79,89.25 L377.05,89.14 L377.46,89.00 L377.80,88.90 L378.30,88.78 L378.55,88.74 L379.05,88.67 L379.55,88.63 L380.05,88.61 L380.55,88.62 L381.05,88.64 L381.55,88.69 L381.95,88.75 L382.30,88.81 L382.80,88.91 L383.21,89.00 L383.55,89.09 L384.05,89.23 L384.30,89.31 L384.80,89.48 L385.05,89.57 L385.51,89.75 L385.80,89.88 L386.08,90.00 L386.55,90.23 L386.80,90.37 L387.05,90.51 L387.43,90.75 L387.75,91.00 L388.00,91.25 L388.18,91.50 L388.30,91.90 L388.30,92.08 L388.17,92.50 L388.00,92.75 L387.78,93.00 L387.52,93.25 L387.21,93.50 L386.88,93.75 L386.55,93.98 L386.30,94.14 L386.05,94.30 L385.73,94.50 L385.30,94.75 L384.85,95.00 L384.55,95.16 L384.30,95.29 L383.87,95.50 L383.55,95.64 L383.30,95.75 L382.80,95.94 L382.55,96.03 L382.05,96.18 L381.77,96.25Z M380.55,97.27 L380.05,97.27 L379.55,97.25 L379.30,97.23 L378.80,97.16 L378.30,97.06 L378.05,96.99 L377.55,96.84 L377.29,96.75 L376.80,96.55 L376.55,96.44 L376.18,96.25 L375.80,96.03 L375.55,95.87 L375.30,95.69 L375.05,95.50 L374.76,95.25 L374.50,95.00 L374.27,94.75 L374.05,94.47 L373.80,94.09 L373.62,93.75 L373.51,93.50 L373.36,93.00 L373.30,92.58 L373.29,92.25 L373.31,92.00 L373.40,91.50 L373.55,91.10 L373.72,90.75 L373.88,90.50 L374.06,90.25 L374.30,89.98 L374.55,89.73 L374.83,89.50 L375.17,89.25 L375.55,89.01 L375.80,88.88 L376.06,88.75 L376.55,88.54 L376.80,88.45 L377.30,88.30 L377.55,88.23 L378.05,88.12 L378.55,88.04 L378.87,88.00 L379.30,87.96 L379.80,87.94 L380.30,87.93 L380.80,87.95 L381.30,87.98 L381.55,88.01 L382.05,88.06 L382.55,88.14 L383.05,88.23 L383.30,88.28 L383.80,88.39 L384.27,88.50 L384.55,88.57 L385.05,88.71 L385.30,88.78 L385.80,88.93 L386.05,89.00 L386.55,89.16 L386.83,89.25 L387.30,89.41 L387.58,89.50 L388.05,89.66 L388.30,89.75 L388.80,89.93 L389.05,90.02 L389.55,90.22 L389.80,90.33 L390.19,90.50 L390.55,90.68 L390.80,90.83 L391.07,91.00 L391.35,91.25 L391.55,91.53 L391.61,92.00 L391.50,92.25 L391.30,92.51 L391.03,92.75 L390.68,93.00 L390.30,93.23 L390.05,93.37 L389.80,93.50 L389.32,93.75 L389.05,93.88 L388.80,94.01 L388.30,94.25 L387.80,94.50 L387.55,94.62 L387.29,94.75 L386.80,94.99 L386.55,95.12 L386.29,95.25 L385.80,95.50 L385.55,95.63 L385.30,95.75 L384.80,96.00 L384.55,96.12 L384.26,96.25 L383.80,96.45 L383.55,96.56 L383.05,96.75 L382.80,96.83 L382.30,96.98 L382.05,97.05 L381.55,97.15 L381.05,97.22 L380.77,97.25Z M381.30,98.01 L380.80,98.05 L380.30,98.07 L379.80,98.05 L379.30,98.01 L379.05,97.98 L378.55,97.89 L378.05,97.78 L377.80,97.71 L377.30,97.55 L377.05,97.46 L376.55,97.26 L376.30,97.15 L376.00,97.00 L375.55,96.76 L375.30,96.61 L375.05,96.45 L374.76,96.25 L374.43,96.00 L374.13,95.75 L373.86,95.50 L373.62,95.25 L373.40,95.00 L373.21,94.75 L373.03,94.50 L372.80,94.10 L372.63,93.75 L372.54,93.50 L372.41,93.00 L372.34,92.50 L372.35,92.00 L372.44,91.50 L372.55,91.13 L372.71,90.75 L372.84,90.50 L373.05,90.18 L373.30,89.85 L373.55,89.58 L373.80,89.34 L374.05,89.12 L374.30,88.93 L374.56,88.75 L374.97,88.50 L375.30,88.33 L375.55,88.21 L376.04,88.00 L376.30,87.90 L376.78,87.75 L377.05,87.67 L377.55,87.56 L377.84,87.50 L378.30,87.42 L378.80,87.36 L379.30,87.32 L379.80,87.30 L380.30,87.30 L380.80,87.32 L381.30,87.35 L381.80,87.39 L382.30,87.45 L382.65,87.50 L383.05,87.56 L383.55,87.65 L384.05,87.75 L384.55,87.86 L385.05,87.97 L385.30,88.03 L385.80,88.15 L386.22,88.25 L386.55,88.33 L387.05,88.45 L387.30,88.52 L387.80,88.64 L388.26,88.75 L388.55,88.82 L389.05,88.94 L389.32,89.00 L389.80,89.11 L390.30,89.23 L390.55,89.28 L391.05,89.40 L391.46,89.50 L391.80,89.59 L392.30,89.71 L392.55,89.78 L393.05,89.93 L393.30,90.01 L393.80,90.19 L394.05,90.29 L394.50,90.50 L394.80,90.67 L395.05,90.85 L395.30,91.08 L395.55,91.48 L395.59,91.75 L395.53,92.00 L395.30,92.35 L395.05,92.59 L394.80,92.78 L394.46,93.00 L394.05,93.21 L393.80,93.33 L393.41,93.50 L393.05,93.64 L392.75,93.75 L392.30,93.91 L392.03,94.00 L391.55,94.15 L391.26,94.25 L390.80,94.40 L390.49,94.50 L390.05,94.64 L389.74,94.75 L389.30,94.90 L389.04,95.00 L388.55,95.18 L388.30,95.28 L387.80,95.49 L387.55,95.59 L387.20,95.75 L386.80,95.93 L386.55,96.05 L386.12,96.25 L385.80,96.41 L385.55,96.53 L385.08,96.75 L384.80,96.88 L384.55,97.00 L384.05,97.22 L383.80,97.32 L383.34,97.50 L383.05,97.60 L382.57,97.75 L382.30,97.82 L381.80,97.93 L381.34,98.00Z M382.05,98.77 L381.55,98.85 L381.05,98.90 L380.55,98.92 L380.05,98.91 L379.55,98.87 L379.05,98.80 L378.74,98.75 L378.30,98.66 L377.80,98.53 L377.55,98.46 L377.05,98.29 L376.80,98.20 L376.30,98.00 L376.05,97.89 L375.76,97.75 L375.30,97.51 L375.05,97.37 L374.80,97.23 L374.45,97.00 L374.09,96.75 L373.80,96.53 L373.55,96.33 L373.30,96.11 L373.05,95.87 L372.80,95.61 L372.55,95.32 L372.30,95.00 L372.13,94.75 L371.98,94.50 L371.80,94.17 L371.62,93.75 L371.53,93.50 L371.41,93.00 L371.35,92.50 L371.36,92.00 L371.43,91.50 L371.55,91.07 L371.67,90.75 L371.80,90.47 L372.05,90.04 L372.25,89.75 L372.45,89.50 L372.67,89.25 L372.93,89.00 L373.21,88.75 L373.54,88.50 L373.80,88.31 L374.05,88.15 L374.31,88.00 L374.79,87.75 L375.05,87.63 L375.35,87.50 L375.80,87.33 L376.05,87.24 L376.55,87.09 L376.91,87.00 L377.30,86.91 L377.80,86.82 L378.30,86.75 L378.55,86.72 L379.05,86.68 L379.55,86.65 L380.05,86.64 L380.55,86.65 L381.05,86.67 L381.55,86.70 L382.04,86.75 L382.30,86.78 L382.80,86.84 L383.30,86.91 L383.80,87.00 L384.05,87.04 L384.55,87.13 L385.05,87.23 L385.30,87.28 L385.80,87.38 L386.30,87.48 L386.55,87.54 L387.05,87.64 L387.55,87.74 L387.80,87.78 L388.30,87.88 L388.80,87.97 L389.05,88.01 L389.55,88.10 L390.05,88.18 L390.48,88.25 L390.80,88.30 L391.30,88.38 L391.80,88.45 L392.09,88.50 L392.55,88.57 L393.05,88.65 L393.55,88.74 L393.80,88.78 L394.30,88.88 L394.80,88.98 L395.05,89.03 L395.55,89.15 L395.96,89.25 L396.30,89.34 L396.80,89.49 L397.05,89.57 L397.55,89.75 L398.05,89.96 L398.30,90.08 L398.62,90.25 L399.00,90.50 L399.28,90.75 L399.48,91.00 L399.60,91.25 L399.62,91.75 L399.51,92.00 L399.30,92.30 L399.05,92.55 L398.80,92.75 L398.43,93.00 L398.05,93.22 L397.80,93.35 L397.49,93.50 L397.05,93.69 L396.80,93.79 L396.30,93.98 L396.05,94.06 L395.55,94.23 L395.30,94.30 L394.80,94.45 L394.55,94.52 L394.05,94.65 L393.65,94.75 L393.30,94.83 L392.80,94.95 L392.55,95.01 L392.05,95.13 L391.56,95.25 L391.30,95.32 L390.80,95.44 L390.55,95.51 L390.05,95.65 L389.71,95.75 L389.30,95.88 L388.93,96.00 L388.55,96.14 L388.24,96.25 L387.80,96.43 L387.55,96.53 L387.05,96.75 L386.80,96.87 L386.52,97.00 L386.05,97.23 L385.80,97.35 L385.49,97.50 L385.05,97.71 L384.80,97.83 L384.42,98.00 L384.05,98.16 L383.80,98.26 L383.30,98.44 L383.05,98.52 L382.55,98.66 L382.15,98.75Z" fill="none" stroke="#404040" stroke-width="0.5"/><path d="M382.05,99.77 L381.55,99.83 L381.05,99.86 L380.55,99.87 L380.05,99.84 L379.55,99.80 L379.22,99.75 L378.80,99.68 L378.30,99.58 L378.00,99.50 L377.55,99.38 L377.15,99.25 L376.80,99.13 L376.46,99.00 L376.05,98.83 L375.80,98.72 L375.33,98.50 L375.05,98.36 L374.80,98.22 L374.41,98.00 L374.05,97.78 L373.80,97.62 L373.55,97.45 L373.28,97.25 L372.96,97.00 L372.66,96.75 L372.38,96.50 L372.12,96.25 L371.88,96.00 L371.66,95.75 L371.46,95.50 L371.28,95.25 L371.05,94.91 L370.82,94.50 L370.69,94.25 L370.55,93.89 L370.42,93.50 L370.31,93.00 L370.27,92.75 L370.25,92.25 L370.28,91.75 L370.32,91.50 L370.44,91.00 L370.55,90.68 L370.74,90.25 L370.87,90.00 L371.05,89.71 L371.30,89.36 L371.55,89.06 L371.80,88.79 L372.05,88.55 L372.30,88.33 L372.55,88.13 L372.80,87.94 L373.08,87.75 L373.48,87.50 L373.80,87.32 L374.05,87.19 L374.46,87.00 L374.80,86.85 L375.06,86.75 L375.55,86.58 L375.80,86.50 L376.30,86.36 L376.76,86.25 L377.05,86.19 L377.55,86.10 L378.05,86.03 L378.31,86.00 L378.80,85.95 L379.30,85.92 L379.80,85.91 L380.30,85.91 L380.80,85.92 L381.30,85.95 L381.80,85.99 L382.05,86.01 L382.55,86.06 L383.05,86.12 L383.55,86.19 L383.93,86.25 L384.30,86.31 L384.80,86.39 L385.30,86.48 L385.55,86.52 L386.05,86.61 L386.55,86.70 L386.85,86.75 L387.30,86.82 L387.80,86.90 L388.30,86.98 L388.55,87.02 L389.05,87.09 L389.55,87.16 L390.05,87.22 L390.30,87.25 L390.80,87.31 L391.30,87.36 L391.80,87.42 L392.30,87.47 L392.58,87.50 L393.05,87.55 L393.55,87.60 L394.05,87.66 L394.55,87.72 L394.80,87.75 L395.30,87.82 L395.80,87.88 L396.30,87.96 L396.58,88.00 L397.05,88.08 L397.55,88.16 L398.05,88.25 L398.30,88.30 L398.80,88.40 L399.30,88.50 L399.80,88.61 L400.30,88.73 L400.55,88.79 L401.05,88.93 L401.32,89.00 L401.80,89.14 L402.15,89.25 L402.55,89.39 L402.87,89.50 L403.30,89.68 L403.55,89.78 L403.99,90.00 L404.30,90.19 L404.55,90.36 L404.80,90.59 L405.05,90.98 L405.09,91.25 L405.03,91.50 L404.80,91.86 L404.55,92.12 L404.30,92.32 L404.05,92.50 L403.64,92.75 L403.30,92.94 L403.05,93.06 L402.67,93.25 L402.30,93.41 L402.05,93.52 L401.55,93.73 L401.30,93.83 L400.84,94.00 L400.55,94.10 L400.13,94.25 L399.80,94.36 L399.36,94.50 L399.05,94.59 L398.55,94.74 L398.30,94.81 L397.80,94.95 L397.55,95.01 L397.05,95.14 L396.59,95.25 L396.30,95.32 L395.80,95.43 L395.46,95.50 L395.05,95.58 L394.55,95.68 L394.21,95.75 L393.80,95.83 L393.30,95.93 L392.91,96.00 L392.55,96.07 L392.05,96.17 L391.67,96.25 L391.30,96.33 L390.80,96.45 L390.55,96.51 L390.05,96.65 L389.69,96.75 L389.30,96.87 L388.93,97.00 L388.55,97.14 L388.27,97.25 L387.80,97.45 L387.55,97.56 L387.15,97.75 L386.80,97.92 L386.55,98.05 L386.15,98.25 L385.80,98.43 L385.55,98.56 L385.16,98.75 L384.80,98.92 L384.55,99.03 L384.05,99.24 L383.80,99.33 L383.30,99.49 L383.05,99.57 L382.55,99.68 L382.18,99.75Z" fill="none" stroke="#555" stroke-width="0.5"/><path d="M382.55,100.76 L382.05,100.83 L381.55,100.87 L381.05,100.88 L380.55,100.87 L380.05,100.84 L379.55,100.78 L379.30,100.74 L378.80,100.66 L378.30,100.55 L378.05,100.49 L377.55,100.35 L377.23,100.25 L376.80,100.11 L376.50,100.00 L376.05,99.82 L375.80,99.72 L375.31,99.50 L375.05,99.38 L374.79,99.25 L374.32,99.00 L374.05,98.85 L373.80,98.70 L373.47,98.50 L373.08,98.25 L372.80,98.06 L372.55,97.88 L372.30,97.69 L372.05,97.49 L371.77,97.25 L371.49,97.00 L371.23,96.75 L370.98,96.50 L370.76,96.25 L370.55,96.00 L370.30,95.68 L370.05,95.32 L369.85,95.00 L369.71,94.75 L369.55,94.42 L369.38,94.00 L369.29,93.75 L369.16,93.25 L369.08,92.75 L369.06,92.25 L369.08,91.75 L369.16,91.25 L369.30,90.75 L369.38,90.50 L369.55,90.12 L369.74,89.75 L369.89,89.50 L370.06,89.25 L370.30,88.92 L370.55,88.63 L370.80,88.36 L371.05,88.12 L371.30,87.89 L371.55,87.68 L371.80,87.49 L372.14,87.25 L372.53,87.00 L372.80,86.84 L373.05,86.70 L373.45,86.50 L373.80,86.33 L374.05,86.23 L374.55,86.03 L374.80,85.94 L375.30,85.78 L375.55,85.70 L376.05,85.57 L376.37,85.50 L376.80,85.41 L377.30,85.32 L377.80,85.25 L378.05,85.22 L378.55,85.18 L379.05,85.14 L379.55,85.12 L380.05,85.12 L380.55,85.12 L381.05,85.14 L381.55,85.17 L382.05,85.21 L382.44,85.25 L382.80,85.29 L383.30,85.34 L383.80,85.41 L384.30,85.48 L384.55,85.52 L385.05,85.59 L385.55,85.67 L386.04,85.75 L386.30,85.79 L386.80,85.86 L387.30,85.94 L387.76,86.00 L388.05,86.04 L388.55,86.10 L389.05,86.16 L389.55,86.21 L389.93,86.25 L390.30,86.28 L390.80,86.33 L391.30,86.37 L391.80,86.41 L392.30,86.44 L392.80,86.48 L393.05,86.50 L393.55,86.54 L394.05,86.57 L394.55,86.61 L395.05,86.65 L395.55,86.69 L396.05,86.74 L396.30,86.76 L396.80,86.81 L397.30,86.86 L397.80,86.91 L398.30,86.96 L398.63,87.00 L399.05,87.05 L399.55,87.11 L400.05,87.17 L400.55,87.23 L400.80,87.26 L401.30,87.33 L401.80,87.40 L402.30,87.47 L402.55,87.50 L403.05,87.57 L403.55,87.65 L404.05,87.73 L404.30,87.76 L404.80,87.84 L405.30,87.92 L405.75,88.00 L406.05,88.05 L406.55,88.14 L407.05,88.23 L407.30,88.27 L407.80,88.37 L408.30,88.47 L408.55,88.52 L409.05,88.62 L409.55,88.73 L409.80,88.79 L410.30,88.91 L410.67,89.00 L411.05,89.10 L411.55,89.24 L411.80,89.31 L412.30,89.47 L412.55,89.56 L413.05,89.74 L413.30,89.86 L413.61,90.00 L414.02,90.25 L414.29,90.50 L414.43,90.75 L414.30,91.25 L414.05,91.50 L413.70,91.75 L413.30,91.97 L413.05,92.09 L412.71,92.25 L412.30,92.41 L412.05,92.51 L411.55,92.69 L411.30,92.78 L410.80,92.94 L410.55,93.02 L410.05,93.17 L409.80,93.25 L409.30,93.39 L408.93,93.50 L408.55,93.60 L408.05,93.74 L407.80,93.81 L407.30,93.94 L407.05,94.00 L406.55,94.13 L406.10,94.25 L405.80,94.33 L405.30,94.45 L405.05,94.52 L404.55,94.64 L404.12,94.75 L403.80,94.83 L403.30,94.95 L403.05,95.01 L402.55,95.14 L402.08,95.25 L401.80,95.32 L401.30,95.43 L401.01,95.50 L400.55,95.61 L400.05,95.72 L399.80,95.77 L399.30,95.88 L398.80,95.98 L398.55,96.03 L398.05,96.13 L397.55,96.23 L397.30,96.28 L396.80,96.37 L396.30,96.46 L396.04,96.50 L395.55,96.59 L395.05,96.67 L394.55,96.75 L394.30,96.79 L393.80,96.87 L393.30,96.95 L393.02,97.00 L392.55,97.08 L392.05,97.18 L391.69,97.25 L391.30,97.34 L390.80,97.46 L390.55,97.52 L390.05,97.67 L389.78,97.75 L389.30,97.92 L389.05,98.01 L388.55,98.22 L388.30,98.33 L387.95,98.50 L387.55,98.70 L387.30,98.83 L386.98,99.00 L386.55,99.24 L386.30,99.37 L386.05,99.51 L385.58,99.75 L385.30,99.89 L385.05,100.00 L384.55,100.21 L384.30,100.31 L383.80,100.47 L383.55,100.55 L383.05,100.67 L382.61,100.75Z" fill="none" stroke="#666" stroke-width="0.5"/><path d="M368.30,89.45 L368.55,89.04 L368.75,88.75 L368.94,88.50 L369.14,88.25 L369.37,88.00 L369.61,87.75 L369.87,87.50 L370.16,87.25 L370.46,87.00 L370.80,86.75 L371.05,86.57 L371.30,86.40 L371.55,86.25 L371.98,86.00 L372.30,85.83 L372.55,85.70 L372.99,85.50 L373.30,85.36 L373.59,85.25 L374.05,85.07 L374.30,84.99 L374.80,84.83 L375.10,84.75 L375.55,84.63 L376.05,84.52 L376.30,84.47 L376.80,84.38 L377.30,84.30 L377.74,84.25 L378.05,84.22 L378.55,84.17 L379.05,84.15 L379.55,84.13 L380.05,84.13 L380.55,84.13 L381.05,84.15 L381.55,84.18 L382.05,84.21 L382.45,84.25 L382.80,84.28 L383.30,84.33 L383.80,84.39 L384.30,84.46 L384.61,84.50 L385.05,84.56 L385.55,84.62 L386.05,84.69 L386.48,84.75 L386.80,84.79 L387.30,84.85 L387.80,84.91 L388.30,84.96 L388.65,85.00 L389.05,85.04 L389.55,85.08 L390.05,85.11 L390.55,85.15 L391.05,85.18 L391.55,85.20 L392.05,85.23 L392.46,85.25 L392.80,85.26 L393.30,85.29 L393.80,85.31 L394.30,85.33 L394.80,85.35 L395.30,85.37 L395.80,85.39 L396.30,85.42 L396.80,85.45 L397.30,85.47 L397.78,85.50 L398.05,85.51 L398.55,85.54 L399.05,85.57 L399.55,85.60 L400.05,85.64 L400.55,85.67 L401.05,85.71 L401.55,85.74 L401.80,85.76 L402.30,85.80 L402.80,85.83 L403.30,85.87 L403.80,85.91 L404.30,85.95 L404.80,86.00 L405.05,86.02 L405.55,86.06 L406.05,86.10 L406.55,86.15 L407.05,86.20 L407.55,86.25 L407.80,86.28 L408.30,86.33 L408.80,86.38 L409.30,86.44 L409.80,86.50 L410.05,86.53 L410.55,86.59 L411.05,86.65 L411.55,86.71 L411.82,86.75 L412.30,86.81 L412.80,86.88 L413.30,86.96 L413.60,87.00 L414.05,87.07 L414.55,87.14 L415.05,87.22 L415.30,87.26 L415.80,87.33 L416.30,87.41 L416.80,87.50 L417.05,87.54 L417.55,87.62 L418.05,87.70 L418.34,87.75 L418.80,87.83 L419.30,87.91 L419.79,88.00 L420.05,88.05 L420.55,88.14 L421.05,88.23 L421.30,88.27 L421.80,88.37 L422.30,88.47 L422.55,88.52 L423.05,88.63 L423.55,88.74 L423.80,88.80 L424.30,88.93 L424.56,89.00 L425.05,89.15 L425.38,89.25 L425.80,89.41 L426.05,89.51 L426.55,89.75 L426.80,89.92 L427.05,90.13 L427.27,90.50 L427.15,91.00 L426.91,91.25 L426.55,91.50 L426.08,91.75 L425.80,91.87 L425.49,92.00 L425.05,92.16 L424.79,92.25 L424.30,92.40 L423.99,92.50 L423.55,92.63 L423.10,92.75 L422.80,92.83 L422.30,92.96 L422.05,93.02 L421.55,93.15 L421.13,93.25 L420.80,93.33 L420.30,93.45 L420.05,93.51 L419.55,93.62 L419.05,93.74 L418.80,93.80 L418.30,93.91 L417.90,94.00 L417.55,94.08 L417.05,94.19 L416.76,94.25 L416.30,94.35 L415.80,94.45 L415.55,94.51 L415.05,94.61 L414.55,94.71 L414.30,94.76 L413.80,94.86 L413.30,94.95 L413.05,95.00 L412.55,95.09 L412.05,95.18 L411.68,95.25 L411.30,95.32 L410.80,95.40 L410.30,95.49 L410.05,95.53 L409.55,95.61 L409.05,95.69 L408.70,95.75 L408.30,95.82 L407.80,95.90 L407.30,95.98 L407.05,96.02 L406.55,96.10 L406.05,96.18 L405.60,96.25 L405.30,96.30 L404.80,96.38 L404.30,96.46 L404.05,96.50 L403.55,96.59 L403.05,96.67 L402.56,96.75 L402.30,96.79 L401.80,96.88 L401.30,96.96 L401.04,97.00 L400.55,97.08 L400.05,97.16 L399.55,97.24 L399.30,97.28 L398.80,97.36 L398.30,97.43 L397.83,97.50 L397.55,97.54 L397.05,97.61 L396.55,97.68 L396.05,97.75 L395.80,97.79 L395.30,97.86 L394.80,97.92 L394.30,97.99 L394.05,98.03 L393.55,98.11 L393.05,98.19 L392.70,98.25 L392.30,98.33 L391.80,98.44 L391.53,98.50 L391.05,98.63 L390.64,98.75 L390.30,98.87 L389.94,99.00 L389.55,99.16 L389.30,99.27 L388.83,99.50 L388.55,99.65 L388.30,99.79 L387.92,100.00 L387.55,100.22 L387.30,100.36 L387.05,100.50 L386.60,100.75 L386.30,100.91 L386.05,101.03 L385.58,101.25 L385.30,101.37 L384.95,101.50 L384.55,101.64 L384.15,101.75 L383.80,101.84 L383.30,101.94 L382.91,102.00 L382.55,102.05 L382.05,102.09 L381.55,102.11 L381.05,102.10 L380.55,102.08 L380.05,102.03 L379.77,102.00 L379.30,101.93 L378.80,101.84 L378.37,101.75 L378.05,101.68 L377.55,101.54 L377.30,101.47 L376.80,101.31 L376.55,101.22 L376.05,101.04 L375.80,100.94 L375.35,100.75 L375.05,100.62 L374.80,100.50 L374.30,100.26 L374.05,100.13 L373.80,100.00 L373.35,99.75 L373.05,99.58 L372.80,99.43 L372.52,99.25 L372.14,99.00 L371.80,98.76 L371.55,98.58 L371.30,98.40 L371.05,98.20 L370.80,97.99 L370.52,97.75 L370.25,97.50 L369.99,97.25 L369.74,97.00 L369.52,96.75 L369.30,96.50 L369.05,96.19 L368.80,95.84 L368.57,95.50 L368.42,95.25" fill="none" stroke="#777" stroke-width="0.5"/><path d="M368.30,86.33 L368.55,86.13 L368.80,85.93 L369.05,85.75 L369.41,85.50 L369.79,85.25 L370.05,85.09 L370.30,84.94 L370.65,84.75 L371.05,84.54 L371.30,84.41 L371.66,84.25 L372.05,84.08 L372.30,83.98 L372.80,83.78 L373.05,83.69 L373.55,83.53 L373.80,83.45 L374.30,83.31 L374.55,83.24 L375.05,83.12 L375.55,83.01 L375.80,82.96 L376.30,82.87 L376.80,82.80 L377.24,82.75 L377.55,82.71 L378.05,82.67 L378.55,82.63 L379.05,82.61 L379.55,82.60 L380.05,82.59 L380.55,82.60 L381.05,82.62 L381.55,82.64 L382.05,82.67 L382.55,82.71 L382.96,82.75 L383.30,82.78 L383.80,82.83 L384.30,82.88 L384.80,82.94 L385.30,83.00 L385.55,83.03 L386.05,83.08 L386.55,83.13 L387.05,83.19 L387.55,83.24 L387.80,83.26 L388.30,83.30 L388.80,83.33 L389.30,83.36 L389.80,83.39 L390.30,83.41 L390.80,83.43 L391.30,83.44 L391.80,83.46 L392.30,83.46 L392.80,83.47 L393.30,83.48 L393.80,83.48 L394.30,83.49 L394.80,83.49 L395.30,83.50 L395.66,83.50 L396.05,83.50 L396.55,83.51 L397.05,83.51 L397.55,83.52 L398.05,83.53 L398.55,83.54 L399.05,83.54 L399.55,83.55 L400.05,83.56 L400.55,83.58 L401.05,83.59 L401.55,83.60 L402.05,83.62 L402.55,83.63 L403.05,83.65 L403.55,83.67 L404.05,83.69 L404.55,83.71 L405.05,83.73 L405.40,83.75 L405.80,83.77 L406.30,83.79 L406.80,83.82 L407.30,83.85 L407.80,83.88 L408.30,83.92 L408.80,83.95 L409.30,83.99 L409.55,84.01 L410.05,84.05 L410.55,84.09 L411.05,84.14 L411.55,84.18 L412.05,84.23 L412.30,84.26 L412.80,84.31 L413.30,84.36 L413.80,84.42 L414.30,84.48 L414.55,84.51 L415.05,84.57 L415.55,84.63 L416.05,84.70 L416.40,84.75 L416.80,84.80 L417.30,84.87 L417.80,84.94 L418.20,85.00 L418.55,85.05 L419.05,85.12 L419.55,85.20 L419.90,85.25 L420.30,85.31 L420.80,85.38 L421.30,85.46 L421.80,85.54 L422.30,85.61 L422.80,85.69 L423.17,85.75 L423.55,85.81 L424.05,85.89 L424.55,85.97 L424.80,86.01 L425.30,86.09 L425.80,86.17 L426.29,86.25 L426.55,86.29 L427.05,86.38 L427.55,86.46 L427.80,86.51 L428.30,86.60 L428.80,86.69 L429.10,86.75 L429.55,86.84 L430.05,86.94 L430.33,87.00 L430.80,87.10 L431.30,87.22 L431.55,87.28 L432.05,87.40 L432.42,87.50 L432.80,87.61 L433.29,87.75 L433.55,87.83 L434.05,88.00 L434.30,88.09 L434.72,88.25 L435.05,88.39 L435.30,88.50 L435.80,88.75 L436.05,88.89 L436.30,89.05 L436.58,89.25 L436.87,89.50 L437.09,89.75 L437.30,90.13 L437.39,90.50 L437.30,90.99 L437.16,91.25 L436.97,91.50 L436.72,91.75 L436.40,92.00 L436.05,92.23 L435.80,92.38 L435.55,92.51 L435.06,92.75 L434.80,92.86 L434.47,93.00 L434.05,93.16 L433.80,93.25 L433.30,93.42 L433.05,93.51 L432.55,93.66 L432.25,93.75 L431.80,93.88 L431.36,94.00 L431.05,94.08 L430.55,94.21 L430.30,94.27 L429.80,94.40 L429.37,94.50 L429.05,94.58 L428.55,94.69 L428.29,94.75 L427.80,94.86 L427.30,94.97 L427.05,95.03 L426.55,95.14 L426.05,95.25 L425.80,95.30 L425.30,95.41 L424.88,95.50 L424.55,95.57 L424.05,95.68 L423.72,95.75 L423.30,95.84 L422.80,95.95 L422.53,96.00 L422.05,96.10 L421.55,96.21 L421.30,96.26 L420.80,96.36 L420.30,96.46 L420.05,96.51 L419.55,96.60 L419.05,96.70 L418.77,96.75 L418.30,96.84 L417.80,96.93 L417.37,97.00 L417.05,97.06 L416.55,97.14 L416.05,97.22 L415.80,97.26 L415.30,97.34 L414.80,97.41 L414.30,97.48 L414.05,97.52 L413.55,97.59 L413.05,97.66 L412.55,97.72 L412.30,97.75 L411.80,97.81 L411.30,97.87 L410.80,97.93 L410.30,97.99 L410.05,98.02 L409.55,98.07 L409.05,98.13 L408.55,98.18 L408.05,98.23 L407.80,98.26 L407.30,98.31 L406.80,98.37 L406.30,98.42 L405.80,98.47 L405.49,98.50 L405.05,98.55 L404.55,98.60 L404.05,98.66 L403.55,98.71 L403.16,98.75 L402.80,98.79 L402.30,98.85 L401.80,98.90 L401.30,98.95 L400.87,99.00 L400.55,99.04 L400.05,99.09 L399.55,99.15 L399.05,99.20 L398.55,99.25 L398.30,99.28 L397.80,99.33 L397.30,99.39 L396.80,99.44 L396.30,99.49 L396.05,99.52 L395.55,99.58 L395.05,99.65 L394.55,99.71 L394.28,99.75 L393.80,99.83 L393.30,99.93 L392.94,100.00 L392.55,100.10 L392.05,100.24 L391.80,100.32 L391.31,100.50 L391.05,100.61 L390.74,100.75 L390.30,100.97 L390.05,101.11 L389.80,101.25 L389.38,101.50 L389.05,101.70 L388.80,101.85 L388.54,102.00 L388.11,102.25 L387.80,102.42 L387.55,102.55 L387.14,102.75 L386.80,102.91 L386.55,103.01 L386.05,103.20 L385.80,103.28 L385.30,103.43 L385.04,103.50 L384.55,103.62 L384.05,103.71 L383.75,103.75 L383.30,103.81 L382.80,103.85 L382.30,103.88 L381.80,103.88 L381.30,103.87 L380.80,103.84 L380.30,103.80 L379.90,103.75 L379.55,103.70 L379.05,103.62 L378.55,103.52 L378.30,103.47 L377.80,103.35 L377.43,103.25 L377.05,103.15 L376.59,103.00 L376.30,102.91 L375.86,102.75 L375.55,102.64 L375.21,102.50 L374.80,102.34 L374.55,102.23 L374.05,102.00 L373.80,101.89 L373.52,101.75 L373.05,101.51 L372.80,101.38 L372.55,101.25 L372.11,101.00 L371.80,100.82 L371.55,100.67 L371.28,100.50 L370.89,100.25 L370.55,100.02 L370.30,99.85 L370.05,99.67 L369.80,99.49 L369.49,99.25 L369.18,99.00 L368.88,98.75 L368.60,98.50 L368.33,98.25" fill="none" stroke="#7a7a7a" stroke-width="0.5"/>
<path d="M444.8,90.4h0.8 M440.5,88.7h0.8 M447.1,92.1h0.8 M442.0,91.3h0.8 M381.6,104.7h0.8 M439.7,91.7h0.8 M404.4,110.9h0.8 M411.4,99.0h0.8 M441.1,93.2h0.8 M390.5,114.8h0.8 M440.7,90.9h0.8 M446.6,89.4h0.8 M445.0,95.3h0.8 M445.4,89.2h0.8 M391.4,80.9h0.8 M405.9,104.9h0.8 M397.2,100.1h0.8 M436.7,92.9h0.8 M425.2,97.8h0.8 M389.9,117.4h0.8 M439.5,86.7h0.8 M435.7,94.0h0.8 M447.0,91.3h0.8 M419.1,83.9h0.8 M406.6,82.0h0.8 M431.2,86.0h0.8 M434.4,86.3h0.8 M443.3,82.5h0.8 M439.9,91.0h0.8 M413.6,79.5h0.8 M438.6,88.0h0.8 M382.7,107.9h0.8 M384.8,107.1h0.8 M445.4,89.5h0.8 M447.2,92.0h0.8 M444.5,88.9h0.8 M424.2,109.1h0.8 M443.8,91.2h0.8 M446.4,82.6h0.8 M436.7,93.0h0.8 M440.3,94.5h0.8 M439.6,91.1h0.8 M440.4,89.5h0.8 M375.9,113.5h0.8 M385.9,105.2h0.8 M443.2,85.6h0.8 M389.7,110.4h0.8 M435.5,85.1h0.8 M412.5,101.8h0.8 M438.7,91.6h0.8 M438.2,90.1h0.8 M432.6,84.2h0.8 M381.1,114.5h0.8 M444.3,86.6h0.8 M438.4,89.5h0.8 M427.9,86.3h0.8 M445.0,90.2h0.8 M443.0,87.7h0.8 M408.0,98.8h0.8 M383.3,106.7h0.8 M440.0,91.4h0.8 M384.1,80.1h0.8 M410.7,82.9h0.8 M424.9,96.6h0.8 M425.7,84.2h0.8 M438.7,87.7h0.8 M399.1,100.3h0.8 M444.1,93.8h0.8 M434.5,87.9h0.8 M378.7,105.2h0.8 M385.7,105.1h0.8 M408.8,101.8h0.8 M439.7,88.4h0.8 M381.5,110.9h0.8 M399.3,100.8h0.8 M379.1,105.7h0.8 M381.4,80.9h0.8 M432.8,86.3h0.8 M440.7,92.8h0.8 M426.7,95.9h0.8 M438.9,92.3h0.8 M436.1,88.2h0.8 M447.2,95.3h0.8 M438.5,90.8h0.8 M441.3,87.6h0.8 M438.6,86.6h0.8 M426.6,97.2h0.8 M381.1,117.2h0.8 M384.0,107.5h0.8 M434.1,86.0h0.8 M415.4,103.4h0.8 M440.5,92.5h0.8 M400.8,99.9h0.8 M444.8,91.7h0.8 M433.6,94.2h0.8 M425.0,84.3h0.8 M434.7,93.9h0.8 M427.7,86.4h0.8 M437.9,93.5h0.8 M429.7,94.9h0.8 M438.1,92.5h0.8 M439.4,89.2h0.8 M429.9,84.7h0.8 M388.8,108.4h0.8 M391.8,81.4h0.8 M393.9,117.3h0.8 M447.1,101.2h0.8 M434.4,85.0h0.8 M439.4,89.9h0.8 M443.8,92.0h0.8 M386.7,80.7h0.8 M438.5,92.8h0.8 M395.4,82.4h0.8 M403.3,107.2h0.8 M379.0,109.8h0.8 M445.2,90.9h0.8 M420.7,85.0h0.8 M442.9,89.9h0.8 M382.1,80.8h0.8 M376.2,109.7h0.8 M443.8,92.3h0.8 M400.3,81.4h0.8 M440.4,84.5h0.8 M388.9,105.7h0.8 M438.1,90.1h0.8 M399.2,80.9h0.8 M436.2,85.7h0.8 M386.6,108.5h0.8 M425.5,85.9h0.8 M446.0,94.7h0.8 M447.3,90.6h0.8 M381.6,110.2h0.8 M439.4,86.9h0.8 M444.2,90.1h0.8 M388.9,103.7h0.8 M417.1,83.6h0.8 M438.2,91.4h0.8 M438.1,88.6h0.8 M436.5,93.3h0.8 M440.1,90.9h0.8 M438.2,92.8h0.8 M378.2,79.2h0.8 M440.9,89.5h0.8 M432.6,94.4h0.8 M441.4,88.5h0.8 M379.8,112.6h0.8 M438.3,86.9h0.8 M439.7,92.7h0.8 M416.5,81.0h0.8 M432.6,85.3h0.8" stroke="#a0a0a0" stroke-width="0.8" fill="none"/>
<path d="M406.05,71.76 L405.55,71.78 L405.05,71.79 L404.55,71.79 L404.05,71.78 L403.55,71.76 L403.30,71.74 L402.80,71.71 L402.30,71.66 L401.80,71.59 L401.30,71.52 L401.05,71.48 L400.55,71.38 L400.05,71.27 L399.80,71.22 L399.30,71.09 L399.00,71.00 L398.55,70.86 L398.23,70.75 L397.80,70.59 L397.55,70.49 L397.05,70.28 L396.80,70.16 L396.48,70.00 L396.05,69.76 L395.80,69.61 L395.55,69.45 L395.27,69.25 L394.94,69.00 L394.65,68.75 L394.39,68.50 L394.16,68.25 L393.96,68.00 L393.78,67.75 L393.55,67.36 L393.38,67.00 L393.29,66.75 L393.18,66.25 L393.14,65.75 L393.19,65.25 L393.30,64.83 L393.42,64.50 L393.55,64.23 L393.80,63.82 L394.04,63.50 L394.25,63.25 L394.49,63.00 L394.76,62.75 L395.05,62.51 L395.30,62.33 L395.55,62.15 L395.80,61.99 L396.21,61.75 L396.55,61.56 L396.80,61.44 L397.21,61.25 L397.55,61.10 L397.82,61.00 L398.30,60.82 L398.55,60.74 L399.05,60.58 L399.35,60.50 L399.80,60.38 L400.30,60.27 L400.55,60.22 L401.05,60.12 L401.55,60.04 L401.86,60.00 L402.30,59.94 L402.80,59.89 L403.30,59.85 L403.80,59.83 L404.30,59.81 L404.80,59.80 L405.30,59.81 L405.80,59.83 L406.30,59.85 L406.80,59.89 L407.30,59.94 L407.74,60.00 L408.05,60.04 L408.55,60.12 L409.05,60.22 L409.30,60.27 L409.80,60.38 L410.25,60.50 L410.55,60.58 L411.05,60.74 L411.30,60.82 L411.78,61.00 L412.05,61.10 L412.39,61.25 L412.80,61.44 L413.05,61.56 L413.39,61.75 L413.80,61.99 L414.05,62.15 L414.30,62.33 L414.55,62.51 L414.84,62.75 L415.11,63.00 L415.35,63.25 L415.56,63.50 L415.80,63.82 L416.05,64.23 L416.18,64.50 L416.30,64.83 L416.41,65.25 L416.46,65.75 L416.42,66.25 L416.31,66.75 L416.22,67.00 L416.05,67.36 L415.82,67.75 L415.64,68.00 L415.44,68.25 L415.21,68.50 L414.95,68.75 L414.66,69.00 L414.33,69.25 L414.05,69.45 L413.80,69.61 L413.55,69.76 L413.12,70.00 L412.80,70.16 L412.55,70.28 L412.05,70.49 L411.80,70.59 L411.37,70.75 L411.05,70.86 L410.60,71.00 L410.30,71.09 L409.80,71.22 L409.55,71.27 L409.05,71.38 L408.55,71.48 L408.30,71.52 L407.80,71.59 L407.30,71.66 L406.80,71.71 L406.30,71.74 L406.05,71.76Z M407.05,69.25 L406.55,69.33 L406.05,69.38 L405.55,69.42 L405.05,69.44 L404.55,69.44 L404.05,69.42 L403.55,69.38 L403.05,69.33 L402.55,69.25 L402.30,69.20 L401.80,69.10 L401.43,69.00 L401.05,68.89 L400.66,68.75 L400.30,68.61 L400.05,68.50 L399.57,68.25 L399.30,68.09 L399.05,67.92 L398.80,67.73 L398.54,67.50 L398.30,67.24 L398.05,66.89 L397.86,66.50 L397.78,66.25 L397.72,65.75 L397.80,65.27 L397.90,65.00 L398.05,64.71 L398.30,64.37 L398.55,64.10 L398.80,63.87 L399.05,63.68 L399.32,63.50 L399.75,63.25 L400.05,63.10 L400.30,62.99 L400.80,62.80 L401.05,62.71 L401.55,62.57 L401.82,62.50 L402.30,62.40 L402.80,62.31 L403.25,62.25 L403.55,62.22 L404.05,62.18 L404.55,62.16 L405.05,62.16 L405.55,62.18 L406.05,62.22 L406.35,62.25 L406.80,62.31 L407.30,62.40 L407.78,62.50 L408.05,62.57 L408.55,62.71 L408.80,62.80 L409.30,62.99 L409.55,63.10 L409.85,63.25 L410.28,63.50 L410.55,63.68 L410.80,63.87 L411.05,64.10 L411.30,64.37 L411.55,64.71 L411.70,65.00 L411.80,65.27 L411.88,65.75 L411.82,66.25 L411.74,66.50 L411.55,66.89 L411.30,67.24 L411.06,67.50 L410.80,67.73 L410.55,67.92 L410.30,68.09 L410.03,68.25 L409.55,68.50 L409.30,68.61 L408.94,68.75 L408.55,68.89 L408.17,69.00 L407.80,69.10 L407.30,69.20 L407.05,69.25Z M405.80,66.52 L405.30,66.64 L404.80,66.68 L404.30,66.64 L403.80,66.52 L403.55,66.40 L403.30,66.24 L403.07,65.75 L403.30,65.37 L403.55,65.19 L404.04,65.00 L404.30,64.95 L404.80,64.92 L405.30,64.95 L405.56,65.00 L406.05,65.19 L406.30,65.37 L406.53,65.75 L406.30,66.24 L406.05,66.40 L405.80,66.52Z" fill="none" stroke="#5a5a5a" stroke-width="0.45"/>
<path d="M423.7,69.3h0.8 M403.1,73.2h0.8 M411.2,77.2h0.8 M414.1,74.6h0.8 M381.7,71.3h0.8 M413.7,60.6h0.8 M436.7,69.6h0.8 M394.6,61.7h0.8 M414.2,74.9h0.8 M383.6,62.3h0.8 M382.7,74.1h0.8 M392.7,61.9h0.8 M388.4,64.5h0.8 M417.2,73.6h0.8 M418.2,59.5h0.8 M425.5,66.5h0.8 M415.0,70.6h0.8 M390.7,66.9h0.8 M391.0,67.5h0.8 M424.2,70.2h0.8 M389.5,72.7h0.8 M421.8,76.3h0.8 M398.2,72.0h0.8 M413.1,58.3h0.8 M380.9,70.6h0.8 M424.8,69.6h0.8 M425.5,69.3h0.8 M419.7,57.5h0.8 M425.6,62.1h0.8 M392.9,68.0h0.8 M397.7,60.7h0.8 M383.6,61.8h0.8 M393.6,58.7h0.8 M418.0,70.8h0.8 M382.6,64.8h0.8 M392.5,73.5h0.8 M398.2,58.2h0.8 M393.2,74.3h0.8 M382.5,65.7h0.8 M387.9,59.4h0.8 M429.6,68.3h0.8 M420.4,68.9h0.8 M395.4,61.7h0.8 M423.6,67.5h0.8 M419.1,69.5h0.8 M416.8,61.9h0.8 M395.1,58.0h0.8 M392.9,74.5h0.8 M384.5,70.3h0.8 M448.0,66.3h0.8 M381.1,65.9h0.8 M387.0,65.6h0.8 M422.6,70.5h0.8 M413.7,61.1h0.8 M419.9,73.8h0.8 M381.7,56.8h0.8 M396.8,60.9h0.8 M420.9,61.2h0.8 M408.6,59.4h0.8 M384.7,58.7h0.8 M418.5,74.7h0.8 M386.2,65.2h0.8 M389.1,65.3h0.8 M393.5,70.1h0.8 M399.2,72.5h0.8 M423.5,69.5h0.8 M417.9,66.8h0.8 M401.9,74.0h0.8 M391.9,59.3h0.8 M393.4,69.1h0.8 M399.1,59.7h0.8 M408.2,57.7h0.8 M408.9,58.3h0.8 M392.2,74.9h0.8 M391.1,60.6h0.8 M419.4,64.1h0.8 M379.8,58.5h0.8 M417.3,60.4h0.8 M381.3,61.9h0.8 M397.7,59.7h0.8 M411.7,71.2h0.8 M396.7,58.6h0.8 M418.8,65.0h0.8 M432.2,72.3h0.8 M420.4,63.9h0.8 M431.8,70.3h0.8 M411.1,58.5h0.8 M390.2,62.7h0.8 M437.4,71.5h0.8 M412.0,73.3h0.8 M386.9,68.5h0.8 M399.3,73.0h0.8 M382.9,69.2h0.8 M391.8,68.0h0.8 M411.0,72.2h0.8 M400.4,73.1h0.8 M392.3,67.2h0.8 M420.9,65.3h0.8 M391.1,57.4h0.8 M419.5,60.4h0.8 M423.5,60.9h0.8 M397.7,58.5h0.8 M389.8,60.8h0.8 M385.0,66.8h0.8 M383.0,57.1h0.8 M425.1,62.0h0.8 M402.8,57.1h0.8 M405.6,57.3h0.8 M424.5,65.3h0.8 M414.1,59.3h0.8 M420.7,70.0h0.8 M433.0,71.8h0.8 M404.1,73.1h0.8 M402.8,73.1h0.8 M400.4,59.7h0.8 M390.4,62.0h0.8 M424.6,64.8h0.8 M405.2,75.1h0.8 M413.6,60.3h0.8 M414.1,61.1h0.8 M392.7,61.6h0.8 M413.2,60.6h0.8 M418.2,62.3h0.8 M406.7,74.9h0.8 M394.5,61.7h0.8 M402.4,72.7h0.8 M416.1,70.9h0.8 M414.6,58.7h0.8 M395.3,72.3h0.8 M392.5,61.4h0.8 M419.7,68.8h0.8 M425.9,68.3h0.8 M416.5,56.6h0.8 M447.9,62.6h0.8 M398.4,77.0h0.8 M424.9,66.1h0.8 M424.3,58.9h0.8 M409.1,57.1h0.8 M387.7,66.5h0.8 M387.4,64.4h0.8 M411.5,60.3h0.8 M397.4,59.1h0.8 M392.5,68.6h0.8 M413.1,61.4h0.8 M419.2,63.9h0.8 M392.6,66.5h0.8 M425.6,66.5h0.8 M417.3,70.1h0.8 M391.4,64.9h0.8 M424.3,64.4h0.8 M399.5,60.4h0.8 M417.7,62.0h0.8 M423.3,70.2h0.8 M402.6,77.0h0.8 M394.4,58.9h0.8 M397.0,70.9h0.8 M399.2,59.0h0.8 M391.6,64.0h0.8 M422.0,70.6h0.8 M411.4,60.1h0.8 M417.9,58.8h0.8 M425.9,62.7h0.8 M396.8,58.5h0.8 M388.5,66.2h0.8 M380.9,62.7h0.8 M391.5,67.2h0.8 M404.0,78.3h0.8 M418.8,59.5h0.8 M404.9,74.4h0.8 M394.4,58.2h0.8 M416.3,67.9h0.8 M395.0,60.9h0.8 M423.4,65.2h0.8 M392.0,65.1h0.8 M391.2,61.3h0.8 M384.7,70.1h0.8 M425.2,67.3h0.8 M393.2,74.3h0.8 M423.3,74.3h0.8 M415.4,70.5h0.8 M416.1,74.6h0.8 M391.0,67.3h0.8 M388.3,64.6h0.8 M391.2,58.1h0.8 M419.2,67.1h0.8 M397.0,57.5h0.8 M392.6,64.9h0.8 M394.2,61.2h0.8 M413.0,72.5h0.8 M411.7,73.5h0.8 M382.6,59.0h0.8 M423.4,66.6h0.8 M393.1,63.1h0.8 M396.6,59.0h0.8 M397.6,59.0h0.8 M414.2,71.8h0.8 M397.6,72.6h0.8 M408.8,74.5h0.8 M391.8,69.9h0.8 M422.9,58.3h0.8 M400.3,60.2h0.8 M392.5,60.8h0.8 M386.2,69.2h0.8 M399.9,73.0h0.8 M422.2,61.1h0.8 M394.4,73.1h0.8 M406.5,59.3h0.8 M416.5,69.2h0.8 M393.9,72.6h0.8 M415.3,60.7h0.8" stroke="#a0a0a0" stroke-width="0.8" fill="none"/>
<line x1="368.3" y1="40.7" x2="368.3" y2="124.2" stroke="#c4c4c4" stroke-width="0.7" />
<line x1="367.8" y1="123.7" x2="450.4" y2="123.7" stroke="#444" stroke-width="0.9" />
<line x1="369.1" y1="123.7" x2="369.1" y2="125.9" stroke="#333" stroke-width="0.8" />
<line x1="372.20000000000005" y1="123.7" x2="372.20000000000005" y2="124.9" stroke="#666" stroke-width="0.5" />
<line x1="375.3" y1="123.7" x2="375.3" y2="124.9" stroke="#666" stroke-width="0.5" />
<line x1="378.40000000000003" y1="123.7" x2="378.40000000000003" y2="124.9" stroke="#666" stroke-width="0.5" />
<line x1="381.5" y1="123.7" x2="381.5" y2="124.9" stroke="#666" stroke-width="0.5" />
<line x1="384.6" y1="123.7" x2="384.6" y2="125.9" stroke="#333" stroke-width="0.8" />
<line x1="387.70000000000005" y1="123.7" x2="387.70000000000005" y2="124.9" stroke="#666" stroke-width="0.5" />
<line x1="390.8" y1="123.7" x2="390.8" y2="124.9" stroke="#666" stroke-width="0.5" />
<line x1="393.90000000000003" y1="123.7" x2="393.90000000000003" y2="124.9" stroke="#666" stroke-width="0.5" />
<line x1="397.0" y1="123.7" x2="397.0" y2="124.9" stroke="#666" stroke-width="0.5" />
<line x1="400.1" y1="123.7" x2="400.1" y2="125.9" stroke="#333" stroke-width="0.8" />
<line x1="403.20000000000005" y1="123.7" x2="403.20000000000005" y2="124.9" stroke="#666" stroke-width="0.5" />
<line x1="406.3" y1="123.7" x2="406.3" y2="124.9" stroke="#666" stroke-width="0.5" />
<line x1="409.40000000000003" y1="123.7" x2="409.40000000000003" y2="124.9" stroke="#666" stroke-width="0.5" />
<line x1="412.5" y1="123.7" x2="412.5" y2="124.9" stroke="#666" stroke-width="0.5" />
<line x1="415.6" y1="123.7" x2="415.6" y2="125.9" stroke="#333" stroke-width="0.8" />
<line x1="418.70000000000005" y1="123.7" x2="418.70000000000005" y2="124.9" stroke="#666" stroke-width="0.5" />
<line x1="421.8" y1="123.7" x2="421.8" y2="124.9" stroke="#666" stroke-width="0.5" />
<line x1="424.90000000000003" y1="123.7" x2="424.90000000000003" y2="124.9" stroke="#666" stroke-width="0.5" />
<line x1="428.0" y1="123.7" x2="428.0" y2="124.9" stroke="#666" stroke-width="0.5" />
<line x1="431.1" y1="123.7" x2="431.1" y2="125.9" stroke="#333" stroke-width="0.8" />
<line x1="434.20000000000005" y1="123.7" x2="434.20000000000005" y2="124.9" stroke="#666" stroke-width="0.5" />
<line x1="437.3" y1="123.7" x2="437.3" y2="124.9" stroke="#666" stroke-width="0.5" />
<line x1="440.40000000000003" y1="123.7" x2="440.40000000000003" y2="124.9" stroke="#666" stroke-width="0.5" />
<line x1="443.5" y1="123.7" x2="443.5" y2="124.9" stroke="#666" stroke-width="0.5" />
<line x1="446.6" y1="123.7" x2="446.6" y2="125.9" stroke="#333" stroke-width="0.8" />
<line x1="449.70000000000005" y1="123.7" x2="449.70000000000005" y2="124.9" stroke="#666" stroke-width="0.5" />
<text x="369.1" y="129.6" font-size="4.2" text-anchor="middle" font-weight="normal" font-style="normal" fill="#777" >0</text>
<text x="384.6" y="129.6" font-size="4.2" text-anchor="middle" font-weight="normal" font-style="normal" fill="#777" >50K</text>
<text x="400.1" y="129.6" font-size="4.2" text-anchor="middle" font-weight="normal" font-style="normal" fill="#777" >100K</text>
<text x="415.6" y="129.6" font-size="4.2" text-anchor="middle" font-weight="normal" font-style="normal" fill="#777" >150K</text>
<text x="431.1" y="129.6" font-size="4.2" text-anchor="middle" font-weight="normal" font-style="normal" fill="#777" >200K</text>
<text x="446.6" y="129.6" font-size="4.2" text-anchor="middle" font-weight="normal" font-style="normal" fill="#777" >250K</text>
<line x1="365.5" y1="47.7" x2="368.3" y2="47.7" stroke="#333" stroke-width="0.8" />
<text x="362.5" y="50.900000000000006" font-size="4.2" text-anchor="end" font-weight="normal" font-style="normal" fill="#9a9a9a" >10</text>
<text x="362.7" y="48.300000000000004" font-size="3" text-anchor="start" font-weight="normal" font-style="normal" fill="#9a9a9a" >5</text>
<line x1="365.5" y1="64.4" x2="368.3" y2="64.4" stroke="#333" stroke-width="0.8" />
<text x="362.5" y="67.60000000000001" font-size="4.2" text-anchor="end" font-weight="normal" font-style="normal" fill="#9a9a9a" >10</text>
<text x="362.7" y="65.0" font-size="3" text-anchor="start" font-weight="normal" font-style="normal" fill="#9a9a9a" >4</text>
<line x1="365.5" y1="84.2" x2="368.3" y2="84.2" stroke="#333" stroke-width="0.8" />
<text x="362.5" y="87.4" font-size="4.2" text-anchor="end" font-weight="normal" font-style="normal" fill="#9a9a9a" >10</text>
<text x="362.7" y="84.8" font-size="3" text-anchor="start" font-weight="normal" font-style="normal" fill="#9a9a9a" >3</text>
<line x1="365.5" y1="92" x2="368.3" y2="92" stroke="#333" stroke-width="0.8" />
<text x="362.5" y="95.2" font-size="4.2" text-anchor="end" font-weight="normal" font-style="normal" fill="#9a9a9a" >0</text>
<line x1="365.5" y1="100.2" x2="368.3" y2="100.2" stroke="#333" stroke-width="0.8" />
<text x="362.5" y="103.4" font-size="4.2" text-anchor="end" font-weight="normal" font-style="normal" fill="#9a9a9a" >-10</text>
<text x="362.7" y="100.8" font-size="3" text-anchor="start" font-weight="normal" font-style="normal" fill="#9a9a9a" >3</text>
<line x1="365.5" y1="120" x2="368.3" y2="120" stroke="#333" stroke-width="0.8" />
<text x="362.5" y="123.2" font-size="4.2" text-anchor="end" font-weight="normal" font-style="normal" fill="#9a9a9a" >-10</text>
<text x="362.7" y="120.6" font-size="3" text-anchor="start" font-weight="normal" font-style="normal" fill="#9a9a9a" >4</text>
<line x1="366.8" y1="42.672799072411514" x2="368.3" y2="42.672799072411514" stroke="#666" stroke-width="0.5" />
<line x1="366.8" y1="59.37279907241152" x2="368.3" y2="59.37279907241152" stroke="#666" stroke-width="0.5" />
<line x1="366.8" y1="56.432075046181644" x2="368.3" y2="56.432075046181644" stroke="#666" stroke-width="0.5" />
<line x1="366.8" y1="54.34559814482303" x2="368.3" y2="54.34559814482303" stroke="#666" stroke-width="0.5" />
<line x1="366.8" y1="52.72720092758849" x2="368.3" y2="52.72720092758849" stroke="#666" stroke-width="0.5" />
<line x1="366.8" y1="51.404874118593156" x2="368.3" y2="51.404874118593156" stroke="#666" stroke-width="0.5" />
<line x1="366.8" y1="50.286862731761914" x2="368.3" y2="50.286862731761914" stroke="#666" stroke-width="0.5" />
<line x1="366.8" y1="49.31839721723455" x2="368.3" y2="49.31839721723455" stroke="#666" stroke-width="0.5" />
<line x1="366.8" y1="48.464150092363276" x2="368.3" y2="48.464150092363276" stroke="#666" stroke-width="0.5" />
<line x1="366.8" y1="78.23960608585318" x2="368.3" y2="78.23960608585318" stroke="#666" stroke-width="0.5" />
<line x1="366.8" y1="74.75299915655069" x2="368.3" y2="74.75299915655069" stroke="#666" stroke-width="0.5" />
<line x1="366.8" y1="72.27921217170635" x2="368.3" y2="72.27921217170635" stroke="#666" stroke-width="0.5" />
<line x1="366.8" y1="70.36039391414683" x2="368.3" y2="70.36039391414683" stroke="#666" stroke-width="0.5" />
<line x1="366.8" y1="68.79260524240387" x2="368.3" y2="68.79260524240387" stroke="#666" stroke-width="0.5" />
<line x1="366.8" y1="67.46705880771772" x2="368.3" y2="67.46705880771772" stroke="#666" stroke-width="0.5" />
<line x1="366.8" y1="66.31881825755953" x2="368.3" y2="66.31881825755953" stroke="#666" stroke-width="0.5" />
<line x1="366.8" y1="65.30599831310137" x2="368.3" y2="65.30599831310137" stroke="#666" stroke-width="0.5" />
<line x1="366.7" y1="86" x2="368.3" y2="86" stroke="#666" stroke-width="0.5" />
<line x1="366.7" y1="88" x2="368.3" y2="88" stroke="#666" stroke-width="0.5" />
<line x1="366.7" y1="90" x2="368.3" y2="90" stroke="#666" stroke-width="0.5" />
<line x1="366.7" y1="94" x2="368.3" y2="94" stroke="#666" stroke-width="0.5" />
<line x1="366.7" y1="96" x2="368.3" y2="96" stroke="#666" stroke-width="0.5" />
<line x1="366.7" y1="98" x2="368.3" y2="98" stroke="#666" stroke-width="0.5" />
<circle cx="367.0" cy="92" r="1.3" fill="#000"/>
<rect x="378.4" y="55.3" width="70.90000000000003" height="22.0" fill="none" stroke="#3a3a3a" stroke-width="0.9" />
<rect x="371" y="81.3" width="76.30000000000001" height="26.0" fill="none" stroke="#3a3a3a" stroke-width="0.9" />
<text x="444.3" y="65.9" font-size="11.8" text-anchor="end" font-weight="normal" font-style="normal" fill="#000" >8.3</text>
<text x="442.5" y="104.6" font-size="11.8" text-anchor="end" font-weight="normal" font-style="normal" fill="#000" >91</text>
<line x1="477.3" y1="41" x2="559.7" y2="41" stroke="#e4e4e4" stroke-width="0.9" />
<line x1="559.7" y1="41" x2="559.7" y2="123.7" stroke="#cccccc" stroke-width="0.9" />
<path d="M477.30,86.85 L477.55,86.52 L477.76,86.25 L477.97,86.00 L478.19,85.75 L478.42,85.50 L478.67,85.25 L478.93,85.00 L479.21,84.75 L479.50,84.50 L479.80,84.26 L480.05,84.07 L480.30,83.89 L480.55,83.72 L480.89,83.50 L481.30,83.26 L481.55,83.11 L481.80,82.98 L482.29,82.75 L482.55,82.63 L482.88,82.50 L483.30,82.34 L483.57,82.25 L484.05,82.10 L484.46,82.00 L484.80,81.92 L485.30,81.82 L485.80,81.75 L486.05,81.72 L486.55,81.68 L487.05,81.66 L487.55,81.65 L488.05,81.67 L488.55,81.70 L489.00,81.75 L489.30,81.78 L489.80,81.85 L490.30,81.94 L490.58,82.00 L491.05,82.09 L491.55,82.21 L491.80,82.27 L492.30,82.39 L492.74,82.50 L493.05,82.57 L493.55,82.69 L493.80,82.76 L494.30,82.87 L494.80,82.98 L495.05,83.03 L495.55,83.12 L496.05,83.21 L496.30,83.26 L496.80,83.33 L497.30,83.40 L497.80,83.47 L498.06,83.50 L498.55,83.55 L499.05,83.61 L499.55,83.66 L500.05,83.72 L500.36,83.75 L500.80,83.79 L501.30,83.84 L501.80,83.90 L502.30,83.95 L502.72,84.00 L503.05,84.03 L503.55,84.09 L504.05,84.14 L504.55,84.20 L504.95,84.25 L505.30,84.29 L505.80,84.34 L506.30,84.40 L506.80,84.46 L507.13,84.50 L507.55,84.55 L508.05,84.60 L508.55,84.66 L509.05,84.73 L509.30,84.76 L509.80,84.82 L510.30,84.88 L510.80,84.95 L511.18,85.00 L511.55,85.05 L512.05,85.12 L512.55,85.20 L512.87,85.25 L513.30,85.32 L513.80,85.40 L514.30,85.50 L514.55,85.54 L515.05,85.64 L515.55,85.75 L515.80,85.80 L516.30,85.92 L516.62,86.00 L517.05,86.11 L517.55,86.25 L517.80,86.32 L518.30,86.48 L518.55,86.56 L519.05,86.73 L519.30,86.82 L519.74,87.00 L520.05,87.13 L520.32,87.25 L520.80,87.48 L521.05,87.62 L521.30,87.76 L521.69,88.00 L522.05,88.25 L522.36,88.50 L522.63,88.75 L522.87,89.00 L523.06,89.25 L523.30,89.68 L523.42,90.00 L523.49,90.50 L523.42,91.00 L523.30,91.33 L523.06,91.75 L522.87,92.00 L522.64,92.25 L522.37,92.50 L522.06,92.75 L521.80,92.93 L521.55,93.10 L521.30,93.25 L520.85,93.50 L520.55,93.65 L520.30,93.77 L519.80,93.99 L519.55,94.09 L519.15,94.25 L518.80,94.38 L518.44,94.50 L518.05,94.63 L517.66,94.75 L517.30,94.86 L516.80,95.00 L516.55,95.07 L516.05,95.20 L515.80,95.26 L515.30,95.38 L514.80,95.49 L514.55,95.55 L514.05,95.66 L513.64,95.75 L513.30,95.83 L512.80,95.93 L512.47,96.00 L512.05,96.09 L511.55,96.20 L511.28,96.25 L510.80,96.36 L510.30,96.46 L510.05,96.52 L509.55,96.63 L509.05,96.75 L508.80,96.81 L508.30,96.93 L507.98,97.00 L507.55,97.11 L507.05,97.23 L506.80,97.30 L506.30,97.42 L505.99,97.50 L505.55,97.62 L505.05,97.74 L504.80,97.81 L504.30,97.93 L504.02,98.00 L503.55,98.12 L503.05,98.24 L502.80,98.30 L502.30,98.43 L502.00,98.50 L501.55,98.62 L501.07,98.75 L500.80,98.84 L500.30,99.00 L500.05,99.09 L499.67,99.25 L499.30,99.44 L499.05,99.59 L498.80,99.76 L498.52,100.00 L498.28,100.25 L498.05,100.54 L497.80,100.93 L497.63,101.25 L497.51,101.50 L497.30,101.98 L497.20,102.25 L497.05,102.61 L496.89,103.00 L496.78,103.25 L496.56,103.75 L496.44,104.00 L496.30,104.27 L496.05,104.71 L495.87,105.00 L495.70,105.25 L495.52,105.50 L495.30,105.78 L495.05,106.07 L494.80,106.34 L494.55,106.58 L494.30,106.80 L494.05,107.01 L493.73,107.25 L493.35,107.50 L493.05,107.68 L492.80,107.81 L492.39,108.00 L492.05,108.14 L491.71,108.25 L491.30,108.37 L490.80,108.47 L490.55,108.51 L490.05,108.55 L489.55,108.56 L489.05,108.53 L488.78,108.50 L488.30,108.42 L487.80,108.29 L487.55,108.21 L487.05,108.02 L486.80,107.91 L486.49,107.75 L486.06,107.50 L485.80,107.33 L485.55,107.15 L485.30,106.96 L485.05,106.75 L484.78,106.50 L484.52,106.25 L484.29,106.00 L484.05,105.74 L483.80,105.44 L483.55,105.14 L483.30,104.81 L483.06,104.50 L482.88,104.25 L482.69,104.00 L482.50,103.75 L482.30,103.48 L482.05,103.17 L481.80,102.86 L481.55,102.56 L481.30,102.27 L481.06,102.00 L480.83,101.75 L480.60,101.50 L480.36,101.25 L480.12,101.00 L479.88,100.75 L479.65,100.50 L479.42,100.25 L479.19,100.00 L478.97,99.75 L478.75,99.50 L478.55,99.25 L478.30,98.94 L478.05,98.61 L477.80,98.27 L477.61,98.00 L477.45,97.75Z" fill="#000" fill-opacity="0.06" stroke="none"/><path d="M490.30,100.79 L489.80,100.95 L489.30,100.99 L488.80,100.91 L488.32,100.75 L488.05,100.63 L487.79,100.50 L487.36,100.25 L487.05,100.06 L486.80,99.90 L486.55,99.74 L486.19,99.50 L485.82,99.25 L485.55,99.07 L485.30,98.90 L485.05,98.73 L484.73,98.50 L484.39,98.25 L484.06,98.00 L483.80,97.79 L483.55,97.58 L483.30,97.36 L483.05,97.13 L482.80,96.88 L482.55,96.62 L482.30,96.33 L482.05,96.01 L481.86,95.75 L481.70,95.50 L481.55,95.25 L481.30,94.78 L481.17,94.50 L481.05,94.18 L480.91,93.75 L480.80,93.27 L480.75,93.00 L480.70,92.50 L480.70,92.00 L480.74,91.50 L480.80,91.14 L480.89,90.75 L481.05,90.27 L481.16,90.00 L481.30,89.70 L481.55,89.26 L481.72,89.00 L481.91,88.75 L482.11,88.50 L482.34,88.25 L482.59,88.00 L482.88,87.75 L483.20,87.50 L483.55,87.26 L483.80,87.11 L484.05,86.97 L484.50,86.75 L484.80,86.62 L485.13,86.50 L485.55,86.37 L486.04,86.25 L486.30,86.20 L486.80,86.12 L487.30,86.08 L487.80,86.06 L488.30,86.07 L488.80,86.10 L489.30,86.16 L489.80,86.23 L490.05,86.28 L490.55,86.38 L491.05,86.49 L491.30,86.55 L491.80,86.68 L492.06,86.75 L492.55,86.88 L492.96,87.00 L493.30,87.09 L493.80,87.23 L494.05,87.30 L494.55,87.43 L494.80,87.50 L495.30,87.63 L495.80,87.75 L496.05,87.81 L496.55,87.92 L496.91,88.00 L497.30,88.09 L497.80,88.20 L498.05,88.25 L498.55,88.36 L499.05,88.48 L499.30,88.54 L499.80,88.67 L500.10,88.75 L500.55,88.88 L500.92,89.00 L501.30,89.13 L501.62,89.25 L502.05,89.44 L502.30,89.56 L502.66,89.75 L503.02,90.00 L503.29,90.25 L503.48,90.50 L503.58,90.75 L503.55,91.25 L503.30,91.67 L503.05,91.95 L502.80,92.16 L502.55,92.35 L502.30,92.52 L501.91,92.75 L501.55,92.94 L501.30,93.07 L500.93,93.25 L500.55,93.42 L500.30,93.52 L499.80,93.73 L499.55,93.83 L499.10,94.00 L498.80,94.11 L498.44,94.25 L498.05,94.40 L497.80,94.50 L497.30,94.70 L497.05,94.81 L496.64,95.00 L496.30,95.17 L496.05,95.30 L495.68,95.50 L495.30,95.73 L495.05,95.90 L494.80,96.08 L494.55,96.27 L494.26,96.50 L493.98,96.75 L493.72,97.00 L493.48,97.25 L493.25,97.50 L493.03,97.75 L492.80,98.03 L492.55,98.36 L492.30,98.69 L492.08,99.00 L491.89,99.25 L491.70,99.50 L491.51,99.75 L491.30,100.00 L491.05,100.26 L490.76,100.50 L490.37,100.75Z M488.30,93.25 L487.80,93.29 L487.55,93.25 L487.05,93.00 L486.80,92.70 L486.68,92.25 L486.80,91.76 L487.01,91.50 L487.30,91.31 L487.55,91.21 L488.05,91.14 L488.55,91.22 L488.80,91.33 L489.05,91.51 L489.30,91.90 L489.34,92.25 L489.26,92.50 L489.05,92.81 L488.80,93.03 L488.30,93.25Z" fill="#000" fill-opacity="0.3" fill-rule="evenodd" stroke="none"/><path d="M488.30,94.51 L487.80,94.53 L487.47,94.50 L487.05,94.40 L486.67,94.25 L486.30,94.03 L486.05,93.83 L485.80,93.57 L485.58,93.25 L485.46,93.00 L485.33,92.50 L485.33,92.00 L485.46,91.50 L485.58,91.25 L485.80,90.95 L486.05,90.69 L486.30,90.50 L486.76,90.25 L487.05,90.15 L487.55,90.04 L488.05,90.00 L488.55,90.03 L489.05,90.14 L489.41,90.25 L489.80,90.43 L490.05,90.57 L490.30,90.75 L490.57,91.00 L490.80,91.34 L490.95,91.75 L490.96,92.25 L490.80,92.74 L490.65,93.00 L490.47,93.25 L490.25,93.50 L489.98,93.75 L489.63,94.00 L489.30,94.19 L489.05,94.30 L488.55,94.46 L488.30,94.51Z M489.05,95.53 L488.55,95.64 L488.05,95.69 L487.55,95.67 L487.05,95.58 L486.78,95.50 L486.30,95.31 L486.05,95.19 L485.74,95.00 L485.41,94.75 L485.13,94.50 L484.91,94.25 L484.72,94.00 L484.55,93.73 L484.33,93.25 L484.25,93.00 L484.16,92.50 L484.16,92.00 L484.25,91.50 L484.33,91.25 L484.55,90.79 L484.74,90.50 L484.95,90.25 L485.21,90.00 L485.53,89.75 L485.80,89.58 L486.05,89.45 L486.55,89.25 L487.05,89.12 L487.55,89.05 L488.05,89.02 L488.55,89.04 L489.05,89.11 L489.55,89.22 L489.80,89.29 L490.30,89.46 L490.55,89.56 L490.94,89.75 L491.30,89.96 L491.55,90.12 L491.80,90.31 L492.05,90.54 L492.30,90.83 L492.55,91.25 L492.63,91.50 L492.65,92.00 L492.55,92.42 L492.41,92.75 L492.27,93.00 L492.05,93.31 L491.80,93.62 L491.55,93.89 L491.30,94.14 L491.05,94.37 L490.80,94.57 L490.55,94.76 L490.19,95.00 L489.80,95.22 L489.55,95.34 L489.13,95.50Z M489.30,96.55 L488.80,96.67 L488.30,96.73 L487.80,96.72 L487.30,96.65 L486.80,96.53 L486.55,96.44 L486.08,96.25 L485.80,96.11 L485.55,95.97 L485.22,95.75 L484.89,95.50 L484.60,95.25 L484.35,95.00 L484.14,94.75 L483.95,94.50 L483.79,94.25 L483.55,93.79 L483.43,93.50 L483.30,93.04 L483.25,92.75 L483.21,92.25 L483.24,91.75 L483.30,91.44 L483.43,91.00 L483.55,90.72 L483.80,90.27 L483.99,90.00 L484.20,89.75 L484.45,89.50 L484.75,89.25 L485.05,89.04 L485.30,88.89 L485.56,88.75 L486.05,88.55 L486.30,88.46 L486.80,88.34 L487.30,88.26 L487.55,88.24 L488.05,88.22 L488.55,88.24 L488.80,88.26 L489.30,88.33 L489.80,88.43 L490.07,88.50 L490.55,88.64 L490.88,88.75 L491.30,88.91 L491.55,89.01 L492.05,89.24 L492.30,89.37 L492.55,89.50 L492.97,89.75 L493.30,89.97 L493.55,90.16 L493.80,90.38 L494.05,90.64 L494.30,91.00 L494.40,91.25 L494.44,91.75 L494.30,92.25 L494.05,92.69 L493.83,93.00 L493.62,93.25 L493.40,93.50 L493.16,93.75 L492.92,94.00 L492.66,94.25 L492.39,94.50 L492.11,94.75 L491.82,95.00 L491.55,95.22 L491.30,95.42 L491.05,95.61 L490.80,95.79 L490.47,96.00 L490.05,96.24 L489.80,96.36 L489.44,96.50Z M489.05,97.76 L488.55,97.82 L488.05,97.80 L487.69,97.75 L487.30,97.67 L486.80,97.52 L486.55,97.43 L486.14,97.25 L485.80,97.09 L485.55,96.95 L485.21,96.75 L484.83,96.50 L484.55,96.29 L484.30,96.08 L484.05,95.86 L483.80,95.60 L483.55,95.32 L483.30,95.00 L483.13,94.75 L482.98,94.50 L482.80,94.14 L482.64,93.75 L482.55,93.49 L482.43,93.00 L482.37,92.50 L482.37,92.00 L482.43,91.50 L482.55,91.00 L482.63,90.75 L482.80,90.36 L483.00,90.00 L483.16,89.75 L483.35,89.50 L483.57,89.25 L483.82,89.00 L484.11,88.75 L484.45,88.50 L484.80,88.29 L485.05,88.15 L485.38,88.00 L485.80,87.84 L486.09,87.75 L486.55,87.64 L487.05,87.56 L487.55,87.51 L487.80,87.50 L488.15,87.50 L488.55,87.52 L489.05,87.56 L489.55,87.64 L490.05,87.74 L490.30,87.80 L490.80,87.93 L491.05,88.00 L491.55,88.16 L491.81,88.25 L492.30,88.43 L492.55,88.52 L493.05,88.72 L493.30,88.83 L493.71,89.00 L494.05,89.16 L494.30,89.27 L494.78,89.50 L495.05,89.64 L495.30,89.78 L495.68,90.00 L496.05,90.25 L496.30,90.46 L496.55,90.72 L496.73,91.00 L496.80,91.50 L496.61,92.00 L496.43,92.25 L496.21,92.50 L495.95,92.75 L495.67,93.00 L495.37,93.25 L495.06,93.50 L494.80,93.71 L494.55,93.91 L494.30,94.11 L494.05,94.31 L493.80,94.51 L493.51,94.75 L493.22,95.00 L492.92,95.25 L492.63,95.50 L492.33,95.75 L492.05,95.99 L491.80,96.20 L491.55,96.41 L491.30,96.61 L491.05,96.80 L490.76,97.00 L490.37,97.25 L490.05,97.43 L489.80,97.54 L489.30,97.71 L489.05,97.76Z M489.05,99.03 L488.55,99.02 L488.30,98.99 L487.80,98.88 L487.41,98.75 L487.05,98.62 L486.78,98.50 L486.30,98.28 L486.05,98.15 L485.77,98.00 L485.34,97.75 L485.05,97.57 L484.80,97.40 L484.55,97.23 L484.25,97.00 L483.94,96.75 L483.66,96.50 L483.40,96.25 L483.17,96.00 L482.95,95.75 L482.76,95.50 L482.55,95.20 L482.30,94.79 L482.15,94.50 L482.03,94.25 L481.85,93.75 L481.77,93.50 L481.67,93.00 L481.61,92.50 L481.61,92.00 L481.66,91.50 L481.76,91.00 L481.83,90.75 L482.03,90.25 L482.15,90.00 L482.30,89.73 L482.55,89.35 L482.80,89.03 L483.05,88.75 L483.30,88.51 L483.55,88.29 L483.80,88.10 L484.05,87.93 L484.34,87.75 L484.80,87.51 L485.05,87.40 L485.44,87.25 L485.80,87.14 L486.30,87.01 L486.55,86.96 L487.05,86.89 L487.55,86.85 L488.05,86.85 L488.55,86.87 L489.05,86.91 L489.55,86.98 L489.80,87.02 L490.30,87.12 L490.80,87.24 L491.05,87.30 L491.55,87.44 L491.80,87.52 L492.30,87.67 L492.80,87.83 L493.30,88.00 L493.55,88.08 L494.05,88.25 L494.30,88.33 L494.80,88.50 L495.05,88.58 L495.55,88.74 L495.80,88.83 L496.30,88.99 L496.55,89.08 L497.05,89.25 L497.30,89.34 L497.73,89.50 L498.05,89.63 L498.32,89.75 L498.80,89.99 L499.05,90.15 L499.30,90.34 L499.55,90.58 L499.78,91.00 L499.73,91.50 L499.55,91.81 L499.30,92.08 L499.05,92.30 L498.79,92.50 L498.41,92.75 L498.05,92.96 L497.80,93.10 L497.54,93.25 L497.08,93.50 L496.80,93.65 L496.55,93.79 L496.17,94.00 L495.80,94.21 L495.55,94.37 L495.30,94.52 L494.95,94.75 L494.59,95.00 L494.30,95.21 L494.05,95.40 L493.80,95.59 L493.55,95.80 L493.30,96.01 L493.03,96.25 L492.75,96.50 L492.48,96.75 L492.22,97.00 L491.96,97.25 L491.70,97.50 L491.43,97.75 L491.15,98.00 L490.84,98.25 L490.55,98.47 L490.30,98.63 L490.05,98.76 L489.55,98.95 L489.28,99.00Z M489.80,100.57 L489.30,100.63 L488.80,100.57 L488.55,100.50 L488.05,100.32 L487.80,100.20 L487.42,100.00 L487.05,99.79 L486.80,99.65 L486.55,99.49 L486.16,99.25 L485.80,99.02 L485.55,98.86 L485.30,98.69 L485.02,98.50 L484.66,98.25 L484.32,98.00 L484.05,97.79 L483.80,97.59 L483.55,97.38 L483.30,97.16 L483.05,96.92 L482.80,96.67 L482.55,96.39 L482.30,96.09 L482.05,95.76 L481.88,95.50 L481.72,95.25 L481.55,94.94 L481.34,94.50 L481.24,94.25 L481.07,93.75 L481.01,93.50 L480.91,93.00 L480.86,92.50 L480.85,92.00 L480.90,91.50 L480.99,91.00 L481.05,90.75 L481.22,90.25 L481.33,90.00 L481.55,89.56 L481.73,89.25 L481.90,89.00 L482.10,88.75 L482.31,88.50 L482.55,88.25 L482.81,88.00 L483.11,87.75 L483.45,87.50 L483.80,87.27 L484.05,87.13 L484.30,87.00 L484.80,86.77 L485.05,86.67 L485.55,86.51 L485.80,86.45 L486.30,86.34 L486.80,86.26 L487.05,86.24 L487.55,86.20 L488.05,86.20 L488.55,86.22 L488.90,86.25 L489.30,86.29 L489.80,86.37 L490.30,86.46 L490.55,86.51 L491.05,86.63 L491.53,86.75 L491.80,86.82 L492.30,86.96 L492.55,87.03 L493.05,87.17 L493.32,87.25 L493.80,87.39 L494.21,87.50 L494.55,87.59 L495.05,87.73 L495.30,87.79 L495.80,87.92 L496.14,88.00 L496.55,88.10 L497.05,88.21 L497.30,88.27 L497.80,88.39 L498.26,88.50 L498.55,88.57 L499.05,88.70 L499.30,88.76 L499.80,88.91 L500.11,89.00 L500.55,89.15 L500.84,89.25 L501.30,89.44 L501.55,89.55 L501.93,89.75 L502.30,89.99 L502.55,90.20 L502.80,90.50 L502.92,90.75 L502.91,91.25 L502.62,91.75 L502.38,92.00 L502.08,92.25 L501.80,92.45 L501.55,92.61 L501.30,92.76 L500.85,93.00 L500.55,93.14 L500.30,93.26 L499.80,93.48 L499.55,93.59 L499.16,93.75 L498.80,93.89 L498.53,94.00 L498.05,94.19 L497.80,94.29 L497.31,94.50 L497.05,94.61 L496.75,94.75 L496.30,94.97 L496.05,95.10 L495.77,95.25 L495.35,95.50 L495.05,95.70 L494.80,95.87 L494.55,96.05 L494.30,96.25 L494.00,96.50 L493.73,96.75 L493.47,97.00 L493.23,97.25 L493.00,97.50 L492.78,97.75 L492.55,98.02 L492.30,98.34 L492.05,98.66 L491.80,98.97 L491.57,99.25 L491.36,99.50 L491.13,99.75 L490.86,100.00 L490.55,100.24 L490.30,100.39 L490.04,100.50Z" fill="none" stroke="#404040" stroke-width="0.5"/><path d="M490.55,102.29 L490.05,102.44 L489.55,102.47 L489.05,102.41 L488.56,102.25 L488.30,102.13 L488.05,102.00 L487.67,101.75 L487.32,101.50 L487.05,101.29 L486.80,101.08 L486.55,100.87 L486.30,100.66 L486.05,100.45 L485.80,100.24 L485.50,100.00 L485.20,99.75 L484.88,99.50 L484.57,99.25 L484.30,99.04 L484.05,98.84 L483.80,98.64 L483.55,98.43 L483.30,98.22 L483.05,98.00 L482.78,97.75 L482.52,97.50 L482.28,97.25 L482.05,97.00 L481.80,96.71 L481.55,96.39 L481.30,96.04 L481.11,95.75 L480.96,95.50 L480.80,95.20 L480.59,94.75 L480.48,94.50 L480.31,94.00 L480.24,93.75 L480.13,93.25 L480.06,92.75 L480.05,92.50 L480.04,92.00 L480.05,91.75 L480.11,91.25 L480.21,90.75 L480.30,90.45 L480.45,90.00 L480.56,89.75 L480.80,89.28 L480.96,89.00 L481.12,88.75 L481.31,88.50 L481.55,88.20 L481.80,87.92 L482.05,87.67 L482.30,87.44 L482.55,87.23 L482.86,87.00 L483.23,86.75 L483.55,86.56 L483.80,86.42 L484.16,86.25 L484.55,86.08 L484.80,85.99 L485.30,85.83 L485.62,85.75 L486.05,85.66 L486.55,85.58 L487.05,85.53 L487.55,85.50 L487.80,85.50 L488.30,85.51 L488.80,85.54 L489.30,85.59 L489.80,85.67 L490.27,85.75 L490.55,85.80 L491.05,85.91 L491.42,86.00 L491.80,86.09 L492.30,86.22 L492.55,86.28 L493.05,86.41 L493.38,86.50 L493.80,86.61 L494.30,86.73 L494.55,86.79 L495.05,86.90 L495.48,87.00 L495.80,87.07 L496.30,87.17 L496.73,87.25 L497.05,87.31 L497.55,87.40 L498.05,87.49 L498.30,87.53 L498.80,87.62 L499.30,87.71 L499.55,87.76 L500.05,87.86 L500.55,87.96 L500.80,88.01 L501.30,88.13 L501.80,88.24 L502.05,88.31 L502.55,88.44 L502.80,88.51 L503.30,88.66 L503.58,88.75 L504.05,88.92 L504.30,89.01 L504.80,89.22 L505.05,89.34 L505.37,89.50 L505.77,89.75 L506.05,89.98 L506.30,90.25 L506.43,90.50 L506.45,91.00 L506.30,91.32 L506.05,91.63 L505.80,91.87 L505.55,92.07 L505.29,92.25 L504.89,92.50 L504.55,92.69 L504.30,92.83 L503.96,93.00 L503.55,93.19 L503.30,93.31 L502.86,93.50 L502.55,93.63 L502.25,93.75 L501.80,93.92 L501.55,94.02 L501.05,94.20 L500.80,94.28 L500.30,94.45 L500.05,94.54 L499.55,94.70 L499.30,94.79 L498.80,94.95 L498.55,95.04 L498.05,95.21 L497.80,95.31 L497.31,95.50 L497.05,95.61 L496.75,95.75 L496.30,95.97 L496.05,96.11 L495.80,96.26 L495.44,96.50 L495.10,96.75 L494.80,97.00 L494.55,97.23 L494.30,97.48 L494.06,97.75 L493.85,98.00 L493.66,98.25 L493.49,98.50 L493.30,98.80 L493.05,99.22 L492.89,99.50 L492.75,99.75 L492.55,100.12 L492.34,100.50 L492.18,100.75 L492.02,101.00 L491.80,101.29 L491.55,101.58 L491.30,101.82 L491.05,102.01 L490.63,102.25Z" fill="none" stroke="#555" stroke-width="0.5"/><path d="M490.80,104.05 L490.30,104.17 L489.80,104.22 L489.30,104.19 L488.80,104.09 L488.51,104.00 L488.05,103.80 L487.80,103.66 L487.55,103.50 L487.20,103.25 L486.90,103.00 L486.63,102.75 L486.37,102.50 L486.13,102.25 L485.89,102.00 L485.65,101.75 L485.42,101.50 L485.18,101.25 L484.93,101.00 L484.68,100.75 L484.42,100.50 L484.15,100.25 L483.88,100.00 L483.60,99.75 L483.33,99.50 L483.05,99.25 L482.80,99.03 L482.55,98.80 L482.30,98.57 L482.05,98.32 L481.80,98.07 L481.55,97.80 L481.30,97.53 L481.07,97.25 L480.87,97.00 L480.68,96.75 L480.51,96.50 L480.30,96.18 L480.05,95.75 L479.92,95.50 L479.80,95.25 L479.58,94.75 L479.49,94.50 L479.33,94.00 L479.27,93.75 L479.16,93.25 L479.10,92.75 L479.08,92.25 L479.09,91.75 L479.14,91.25 L479.23,90.75 L479.30,90.46 L479.44,90.00 L479.55,89.71 L479.76,89.25 L479.88,89.00 L480.05,88.71 L480.30,88.32 L480.54,88.00 L480.74,87.75 L480.95,87.50 L481.19,87.25 L481.45,87.00 L481.74,86.75 L482.05,86.50 L482.39,86.25 L482.78,86.00 L483.05,85.84 L483.30,85.71 L483.72,85.50 L484.05,85.36 L484.33,85.25 L484.80,85.09 L485.12,85.00 L485.55,84.89 L486.05,84.80 L486.40,84.75 L486.80,84.70 L487.30,84.67 L487.80,84.67 L488.30,84.68 L488.80,84.72 L489.12,84.75 L489.55,84.80 L490.05,84.88 L490.55,84.97 L490.80,85.02 L491.30,85.13 L491.80,85.25 L492.05,85.31 L492.55,85.43 L492.83,85.50 L493.30,85.61 L493.80,85.73 L494.05,85.79 L494.55,85.90 L495.02,86.00 L495.30,86.05 L495.80,86.15 L496.30,86.24 L496.55,86.28 L497.05,86.36 L497.55,86.44 L497.97,86.50 L498.30,86.55 L498.80,86.62 L499.30,86.69 L499.70,86.75 L500.05,86.80 L500.55,86.88 L501.05,86.96 L501.30,87.00 L501.80,87.08 L502.30,87.17 L502.73,87.25 L503.05,87.31 L503.55,87.41 L504.01,87.50 L504.30,87.56 L504.80,87.67 L505.17,87.75 L505.55,87.84 L506.05,87.96 L506.30,88.02 L506.80,88.15 L507.17,88.25 L507.55,88.36 L508.01,88.50 L508.30,88.60 L508.74,88.75 L509.05,88.87 L509.36,89.00 L509.80,89.21 L510.05,89.35 L510.30,89.50 L510.62,89.75 L510.86,90.00 L511.05,90.39 L511.07,90.75 L510.98,91.00 L510.80,91.28 L510.55,91.53 L510.28,91.75 L509.91,92.00 L509.55,92.21 L509.30,92.34 L508.98,92.50 L508.55,92.70 L508.30,92.81 L507.84,93.00 L507.55,93.12 L507.23,93.25 L506.80,93.41 L506.55,93.51 L506.05,93.70 L505.80,93.79 L505.30,93.97 L505.05,94.06 L504.55,94.24 L504.30,94.33 L503.80,94.50 L503.55,94.58 L503.05,94.74 L502.80,94.83 L502.30,94.98 L502.05,95.06 L501.55,95.21 L501.30,95.29 L500.80,95.43 L500.55,95.50 L500.05,95.65 L499.71,95.75 L499.30,95.88 L498.90,96.00 L498.55,96.12 L498.16,96.25 L497.80,96.39 L497.53,96.50 L497.05,96.72 L496.80,96.86 L496.54,97.00 L496.16,97.25 L495.83,97.50 L495.55,97.75 L495.30,98.00 L495.08,98.25 L494.89,98.50 L494.71,98.75 L494.55,99.01 L494.30,99.47 L494.17,99.75 L494.05,100.00 L493.83,100.50 L493.73,100.75 L493.55,101.15 L493.38,101.50 L493.25,101.75 L493.05,102.11 L492.80,102.49 L492.60,102.75 L492.38,103.00 L492.13,103.25 L491.83,103.50 L491.55,103.69 L491.30,103.83 L490.92,104.00Z" fill="none" stroke="#666" stroke-width="0.5"/><path d="M491.05,106.00 L490.55,106.12 L490.05,106.18 L489.55,106.19 L489.05,106.14 L488.55,106.04 L488.30,105.97 L487.80,105.78 L487.55,105.67 L487.24,105.50 L486.84,105.25 L486.55,105.04 L486.30,104.84 L486.05,104.61 L485.80,104.37 L485.55,104.11 L485.30,103.84 L485.05,103.55 L484.80,103.25 L484.60,103.00 L484.40,102.75 L484.19,102.50 L483.99,102.25 L483.78,102.00 L483.55,101.74 L483.30,101.46 L483.05,101.19 L482.80,100.93 L482.55,100.68 L482.30,100.43 L482.05,100.18 L481.80,99.94 L481.55,99.69 L481.30,99.44 L481.05,99.19 L480.80,98.92 L480.55,98.65 L480.30,98.37 L480.05,98.07 L479.80,97.75 L479.61,97.50 L479.43,97.25 L479.26,97.00 L479.05,96.66 L478.81,96.25 L478.68,96.00 L478.55,95.74 L478.33,95.25 L478.23,95.00 L478.06,94.50 L477.98,94.25 L477.85,93.75 L477.80,93.48 L477.72,93.00 L477.68,92.50 L477.67,92.00 L477.69,91.50 L477.75,91.00 L477.80,90.73 L477.91,90.25 L478.05,89.78 L478.15,89.50 L478.30,89.14 L478.48,88.75 L478.61,88.50 L478.80,88.18 L479.05,87.79 L479.25,87.50 L479.45,87.25 L479.65,87.00 L479.87,86.75 L480.11,86.50 L480.37,86.25 L480.64,86.00 L480.94,85.75 L481.26,85.50 L481.55,85.29 L481.80,85.12 L482.05,84.97 L482.42,84.75 L482.80,84.55 L483.05,84.43 L483.47,84.25 L483.80,84.12 L484.14,84.00 L484.55,83.87 L485.02,83.75 L485.30,83.69 L485.80,83.59 L486.30,83.53 L486.60,83.50 L487.05,83.47 L487.55,83.46 L488.05,83.47 L488.55,83.50 L488.80,83.52 L489.30,83.57 L489.80,83.64 L490.30,83.73 L490.55,83.77 L491.05,83.87 L491.55,83.99 L491.80,84.04 L492.30,84.16 L492.67,84.25 L493.05,84.34 L493.55,84.45 L493.80,84.51 L494.30,84.62 L494.80,84.73 L495.05,84.77 L495.55,84.86 L496.05,84.95 L496.35,85.00 L496.80,85.07 L497.30,85.14 L497.80,85.20 L498.17,85.25 L498.55,85.30 L499.05,85.35 L499.55,85.41 L500.05,85.48 L500.30,85.51 L500.80,85.57 L501.30,85.63 L501.80,85.69 L502.21,85.75 L502.55,85.79 L503.05,85.86 L503.55,85.93 L504.02,86.00 L504.30,86.04 L504.80,86.11 L505.30,86.19 L505.71,86.25 L506.05,86.30 L506.55,86.38 L507.05,86.46 L507.30,86.50 L507.80,86.58 L508.30,86.66 L508.78,86.75 L509.05,86.80 L509.55,86.89 L510.05,86.99 L510.30,87.04 L510.80,87.14 L511.30,87.25 L511.55,87.31 L512.05,87.43 L512.32,87.50 L512.80,87.63 L513.19,87.75 L513.55,87.86 L513.94,88.00 L514.30,88.14 L514.58,88.25 L515.05,88.46 L515.30,88.59 L515.59,88.75 L515.98,89.00 L516.30,89.25 L516.55,89.50 L516.75,89.75 L516.89,90.00 L517.00,90.50 L516.90,91.00 L516.77,91.25 L516.55,91.54 L516.30,91.79 L516.04,92.00 L515.68,92.25 L515.30,92.47 L515.05,92.60 L514.75,92.75 L514.30,92.95 L514.05,93.05 L513.55,93.24 L513.30,93.33 L512.80,93.50 L512.55,93.58 L512.05,93.73 L511.80,93.81 L511.30,93.96 L511.05,94.03 L510.55,94.17 L510.26,94.25 L509.80,94.38 L509.35,94.50 L509.05,94.58 L508.55,94.72 L508.30,94.79 L507.80,94.93 L507.55,95.00 L507.05,95.14 L506.67,95.25 L506.30,95.36 L505.80,95.50 L505.55,95.57 L505.05,95.71 L504.80,95.78 L504.30,95.93 L504.04,96.00 L503.55,96.14 L503.13,96.25 L502.80,96.34 L502.30,96.48 L502.05,96.54 L501.55,96.67 L501.26,96.75 L500.80,96.87 L500.33,97.00 L500.05,97.08 L499.55,97.23 L499.30,97.31 L498.80,97.48 L498.55,97.58 L498.17,97.75 L497.80,97.94 L497.55,98.08 L497.29,98.25 L496.97,98.50 L496.70,98.75 L496.48,99.00 L496.28,99.25 L496.05,99.60 L495.83,100.00 L495.71,100.25 L495.55,100.62 L495.40,101.00 L495.20,101.50 L495.05,101.89 L494.90,102.25 L494.78,102.50 L494.55,102.97 L494.40,103.25 L494.25,103.50 L494.05,103.79 L493.80,104.12 L493.55,104.42 L493.30,104.68 L493.05,104.91 L492.80,105.11 L492.55,105.29 L492.22,105.50 L491.80,105.72 L491.55,105.83 L491.06,106.00Z" fill="none" stroke="#777" stroke-width="0.5"/><path d="M477.30,86.85 L477.55,86.52 L477.76,86.25 L477.97,86.00 L478.19,85.75 L478.42,85.50 L478.67,85.25 L478.93,85.00 L479.21,84.75 L479.50,84.50 L479.80,84.26 L480.05,84.07 L480.30,83.89 L480.55,83.72 L480.89,83.50 L481.30,83.26 L481.55,83.11 L481.80,82.98 L482.29,82.75 L482.55,82.63 L482.88,82.50 L483.30,82.34 L483.57,82.25 L484.05,82.10 L484.46,82.00 L484.80,81.92 L485.30,81.82 L485.80,81.75 L486.05,81.72 L486.55,81.68 L487.05,81.66 L487.55,81.65 L488.05,81.67 L488.55,81.70 L489.00,81.75 L489.30,81.78 L489.80,81.85 L490.30,81.94 L490.58,82.00 L491.05,82.09 L491.55,82.21 L491.80,82.27 L492.30,82.39 L492.74,82.50 L493.05,82.57 L493.55,82.69 L493.80,82.76 L494.30,82.87 L494.80,82.98 L495.05,83.03 L495.55,83.12 L496.05,83.21 L496.30,83.26 L496.80,83.33 L497.30,83.40 L497.80,83.47 L498.06,83.50 L498.55,83.55 L499.05,83.61 L499.55,83.66 L500.05,83.72 L500.36,83.75 L500.80,83.79 L501.30,83.84 L501.80,83.90 L502.30,83.95 L502.72,84.00 L503.05,84.03 L503.55,84.09 L504.05,84.14 L504.55,84.20 L504.95,84.25 L505.30,84.29 L505.80,84.34 L506.30,84.40 L506.80,84.46 L507.13,84.50 L507.55,84.55 L508.05,84.60 L508.55,84.66 L509.05,84.73 L509.30,84.76 L509.80,84.82 L510.30,84.88 L510.80,84.95 L511.18,85.00 L511.55,85.05 L512.05,85.12 L512.55,85.20 L512.87,85.25 L513.30,85.32 L513.80,85.40 L514.30,85.50 L514.55,85.54 L515.05,85.64 L515.55,85.75 L515.80,85.80 L516.30,85.92 L516.62,86.00 L517.05,86.11 L517.55,86.25 L517.80,86.32 L518.30,86.48 L518.55,86.56 L519.05,86.73 L519.30,86.82 L519.74,87.00 L520.05,87.13 L520.32,87.25 L520.80,87.48 L521.05,87.62 L521.30,87.76 L521.69,88.00 L522.05,88.25 L522.36,88.50 L522.63,88.75 L522.87,89.00 L523.06,89.25 L523.30,89.68 L523.42,90.00 L523.49,90.50 L523.42,91.00 L523.30,91.33 L523.06,91.75 L522.87,92.00 L522.64,92.25 L522.37,92.50 L522.06,92.75 L521.80,92.93 L521.55,93.10 L521.30,93.25 L520.85,93.50 L520.55,93.65 L520.30,93.77 L519.80,93.99 L519.55,94.09 L519.15,94.25 L518.80,94.38 L518.44,94.50 L518.05,94.63 L517.66,94.75 L517.30,94.86 L516.80,95.00 L516.55,95.07 L516.05,95.20 L515.80,95.26 L515.30,95.38 L514.80,95.49 L514.55,95.55 L514.05,95.66 L513.64,95.75 L513.30,95.83 L512.80,95.93 L512.47,96.00 L512.05,96.09 L511.55,96.20 L511.28,96.25 L510.80,96.36 L510.30,96.46 L510.05,96.52 L509.55,96.63 L509.05,96.75 L508.80,96.81 L508.30,96.93 L507.98,97.00 L507.55,97.11 L507.05,97.23 L506.80,97.30 L506.30,97.42 L505.99,97.50 L505.55,97.62 L505.05,97.74 L504.80,97.81 L504.30,97.93 L504.02,98.00 L503.55,98.12 L503.05,98.24 L502.80,98.30 L502.30,98.43 L502.00,98.50 L501.55,98.62 L501.07,98.75 L500.80,98.84 L500.30,99.00 L500.05,99.09 L499.67,99.25 L499.30,99.44 L499.05,99.59 L498.80,99.76 L498.52,100.00 L498.28,100.25 L498.05,100.54 L497.80,100.93 L497.63,101.25 L497.51,101.50 L497.30,101.98 L497.20,102.25 L497.05,102.61 L496.89,103.00 L496.78,103.25 L496.56,103.75 L496.44,104.00 L496.30,104.27 L496.05,104.71 L495.87,105.00 L495.70,105.25 L495.52,105.50 L495.30,105.78 L495.05,106.07 L494.80,106.34 L494.55,106.58 L494.30,106.80 L494.05,107.01 L493.73,107.25 L493.35,107.50 L493.05,107.68 L492.80,107.81 L492.39,108.00 L492.05,108.14 L491.71,108.25 L491.30,108.37 L490.80,108.47 L490.55,108.51 L490.05,108.55 L489.55,108.56 L489.05,108.53 L488.78,108.50 L488.30,108.42 L487.80,108.29 L487.55,108.21 L487.05,108.02 L486.80,107.91 L486.49,107.75 L486.06,107.50 L485.80,107.33 L485.55,107.15 L485.30,106.96 L485.05,106.75 L484.78,106.50 L484.52,106.25 L484.29,106.00 L484.05,105.74 L483.80,105.44 L483.55,105.14 L483.30,104.81 L483.06,104.50 L482.88,104.25 L482.69,104.00 L482.50,103.75 L482.30,103.48 L482.05,103.17 L481.80,102.86 L481.55,102.56 L481.30,102.27 L481.06,102.00 L480.83,101.75 L480.60,101.50 L480.36,101.25 L480.12,101.00 L479.88,100.75 L479.65,100.50 L479.42,100.25 L479.19,100.00 L478.97,99.75 L478.75,99.50 L478.55,99.25 L478.30,98.94 L478.05,98.61 L477.80,98.27 L477.61,98.00 L477.45,97.75" fill="none" stroke="#7a7a7a" stroke-width="0.5"/>
<path d="M498.8,105.9h0.8 M530.7,96.0h0.8 M533.3,95.6h0.8 M483.0,111.6h0.8 M531.0,99.2h0.8 M522.1,83.1h0.8 M537.4,90.6h0.8 M483.5,117.9h0.8 M520.7,102.2h0.8 M531.5,89.8h0.8 M530.3,89.1h0.8 M484.7,115.1h0.8 M527.4,90.2h0.8 M502.2,83.6h0.8 M531.9,89.4h0.8 M497.6,110.8h0.8 M524.2,84.8h0.8 M511.1,112.2h0.8 M540.3,85.1h0.8 M491.8,116.9h0.8 M526.4,94.6h0.8 M525.7,93.9h0.8 M550.0,90.5h0.8 M536.1,87.4h0.8 M541.3,93.9h0.8 M498.7,111.0h0.8 M526.1,94.6h0.8 M489.0,109.8h0.8 M545.1,94.7h0.8 M488.7,115.8h0.8 M531.9,102.7h0.8 M526.3,95.4h0.8 M488.1,111.4h0.8 M551.3,92.6h0.8 M523.6,98.6h0.8 M524.3,98.3h0.8 M522.3,94.1h0.8 M484.4,112.3h0.8 M485.1,115.3h0.8 M480.9,116.6h0.8 M529.2,97.2h0.8 M496.5,116.7h0.8 M542.1,90.0h0.8 M501.7,103.8h0.8 M540.7,90.0h0.8 M489.1,112.6h0.8 M528.0,98.5h0.8 M538.8,88.9h0.8 M488.6,109.3h0.8 M508.7,84.1h0.8 M552.2,94.2h0.8 M537.3,90.8h0.8 M550.2,92.5h0.8 M530.0,94.6h0.8 M532.6,93.1h0.8 M520.8,100.9h0.8 M483.8,107.0h0.8 M525.0,93.1h0.8 M526.8,88.9h0.8 M533.7,99.8h0.8 M528.8,92.3h0.8 M504.3,99.9h0.8 M485.9,117.8h0.8 M513.0,97.5h0.8 M490.9,111.9h0.8 M520.4,99.8h0.8 M531.1,87.5h0.8 M485.4,112.2h0.8 M511.0,81.1h0.8 M493.5,110.0h0.8 M523.6,93.8h0.8 M525.2,91.5h0.8 M488.4,116.6h0.8 M481.0,106.2h0.8 M484.7,117.9h0.8 M539.7,90.4h0.8 M524.1,100.3h0.8 M523.0,94.2h0.8 M490.1,111.3h0.8 M530.8,94.4h0.8 M531.9,93.1h0.8 M530.7,84.6h0.8 M500.9,99.3h0.8 M527.4,95.4h0.8 M534.3,86.4h0.8 M536.3,95.7h0.8 M516.6,112.5h0.8 M501.5,99.6h0.8 M528.3,92.1h0.8 M538.4,91.9h0.8 M525.9,91.1h0.8 M512.1,82.4h0.8 M523.2,95.5h0.8 M533.3,87.2h0.8 M523.9,92.8h0.8 M552.0,84.6h0.8 M532.2,92.3h0.8 M529.5,89.7h0.8 M501.9,102.1h0.8 M526.7,90.1h0.8 M482.1,110.4h0.8 M488.4,110.6h0.8 M529.3,90.9h0.8 M485.5,113.6h0.8 M532.2,95.8h0.8 M524.5,93.0h0.8 M492.5,110.1h0.8 M532.9,96.3h0.8 M487.8,119.8h0.8 M527.8,87.3h0.8 M489.2,110.4h0.8 M522.9,85.0h0.8 M543.7,91.9h0.8 M488.7,114.3h0.8 M490.5,116.0h0.8 M543.6,87.7h0.8 M547.8,92.8h0.8 M533.3,92.8h0.8 M554.9,91.5h0.8 M495.1,119.6h0.8 M485.5,117.0h0.8 M537.4,88.6h0.8 M492.1,117.2h0.8 M551.3,85.5h0.8 M533.6,95.5h0.8 M534.3,95.7h0.8 M485.7,110.2h0.8 M554.3,92.3h0.8 M482.8,114.1h0.8 M492.1,119.9h0.8 M518.6,96.7h0.8 M487.9,115.1h0.8 M496.1,78.0h0.8 M541.2,93.1h0.8 M520.6,86.0h0.8 M528.6,87.3h0.8 M544.8,86.5h0.8 M493.0,115.8h0.8 M507.4,105.0h0.8 M489.9,117.2h0.8 M529.8,95.8h0.8 M525.3,86.6h0.8 M533.0,94.7h0.8 M524.6,88.3h0.8 M534.7,91.4h0.8 M506.8,110.5h0.8 M491.5,114.8h0.8 M534.6,98.7h0.8 M523.1,96.2h0.8 M547.4,90.8h0.8 M526.2,89.6h0.8 M490.3,113.7h0.8 M501.0,105.4h0.8 M548.9,91.8h0.8 M524.6,93.2h0.8 M493.2,116.7h0.8 M524.9,86.4h0.8 M525.2,96.6h0.8 M489.4,115.6h0.8 M547.2,89.7h0.8 M529.3,89.4h0.8 M542.5,95.4h0.8 M515.6,98.2h0.8 M500.8,100.3h0.8 M535.5,89.8h0.8 M521.1,95.3h0.8 M487.2,111.5h0.8 M514.0,103.5h0.8 M537.2,87.5h0.8 M524.4,91.6h0.8 M518.2,99.5h0.8 M507.9,103.0h0.8 M532.3,95.7h0.8 M544.7,89.3h0.8 M482.8,108.5h0.8 M485.8,107.9h0.8 M543.6,95.6h0.8 M550.5,93.4h0.8 M519.3,101.2h0.8 M487.4,119.7h0.8 M529.8,88.4h0.8 M488.7,114.6h0.8 M547.1,94.3h0.8 M540.2,88.5h0.8 M525.2,89.1h0.8 M488.1,118.6h0.8 M525.1,88.4h0.8 M527.0,92.4h0.8 M521.4,97.4h0.8 M526.0,85.4h0.8" stroke="#a0a0a0" stroke-width="0.8" fill="none"/>
<path d="M520.55,72.01 L520.05,72.04 L519.55,72.06 L519.05,72.07 L518.55,72.08 L518.05,72.07 L517.55,72.06 L517.05,72.04 L516.55,72.02 L516.29,72.00 L515.80,71.97 L515.30,71.93 L514.80,71.89 L514.30,71.83 L513.80,71.78 L513.55,71.75 L513.05,71.69 L512.55,71.62 L512.05,71.55 L511.71,71.50 L511.30,71.44 L510.80,71.35 L510.30,71.26 L510.05,71.21 L509.55,71.11 L509.07,71.00 L508.80,70.94 L508.30,70.81 L508.05,70.74 L507.55,70.60 L507.22,70.50 L506.80,70.37 L506.47,70.25 L506.05,70.10 L505.80,70.00 L505.30,69.80 L505.05,69.70 L504.60,69.50 L504.30,69.37 L504.05,69.25 L503.55,69.00 L503.30,68.87 L503.05,68.73 L502.63,68.50 L502.30,68.30 L502.05,68.15 L501.80,67.98 L501.48,67.75 L501.16,67.50 L500.87,67.25 L500.62,67.00 L500.41,66.75 L500.23,66.50 L500.05,66.16 L499.90,65.75 L499.83,65.25 L499.88,64.75 L500.02,64.25 L500.13,64.00 L500.30,63.68 L500.55,63.28 L500.75,63.00 L500.94,62.75 L501.16,62.50 L501.39,62.25 L501.64,62.00 L501.90,61.75 L502.18,61.50 L502.48,61.25 L502.80,61.00 L503.05,60.81 L503.30,60.64 L503.55,60.46 L503.88,60.25 L504.28,60.00 L504.55,59.84 L504.80,59.69 L505.14,59.50 L505.55,59.27 L505.80,59.12 L506.05,58.98 L506.41,58.75 L506.73,58.50 L506.95,58.25 L507.05,58.00 L507.05,57.75 L506.84,57.25 L506.73,57.00 L506.66,56.50 L506.80,56.21 L507.05,55.95 L507.34,55.75 L507.80,55.53 L508.05,55.43 L508.55,55.25 L508.80,55.18 L509.30,55.04 L509.55,54.98 L510.05,54.87 L510.55,54.77 L510.80,54.72 L511.30,54.63 L511.80,54.55 L512.17,54.50 L512.55,54.44 L513.05,54.38 L513.55,54.32 L514.05,54.26 L514.30,54.24 L514.80,54.19 L515.30,54.14 L515.80,54.10 L516.30,54.06 L516.80,54.02 L517.15,54.00 L517.55,53.97 L518.05,53.94 L518.55,53.91 L519.05,53.89 L519.55,53.86 L520.05,53.84 L520.55,53.83 L521.05,53.81 L521.55,53.80 L522.05,53.79 L522.55,53.78 L523.05,53.77 L523.55,53.77 L524.05,53.77 L524.55,53.77 L525.05,53.77 L525.55,53.77 L526.05,53.78 L526.55,53.78 L527.05,53.79 L527.55,53.80 L528.05,53.82 L528.55,53.83 L529.05,53.85 L529.55,53.87 L530.05,53.90 L530.55,53.92 L531.05,53.95 L531.55,53.99 L531.80,54.01 L532.30,54.04 L532.80,54.08 L533.30,54.13 L533.80,54.18 L534.30,54.23 L534.55,54.26 L535.05,54.32 L535.55,54.38 L536.05,54.46 L536.31,54.50 L536.80,54.58 L537.30,54.67 L537.69,54.75 L538.05,54.83 L538.55,54.95 L538.80,55.01 L539.30,55.16 L539.58,55.25 L540.05,55.43 L540.30,55.54 L540.71,55.75 L541.05,55.99 L541.30,56.25 L541.44,56.50 L541.44,57.00 L541.30,57.31 L541.05,57.66 L540.80,57.95 L540.55,58.21 L540.30,58.47 L540.05,58.74 L539.82,59.00 L539.60,59.25 L539.40,59.50 L539.19,59.75 L538.98,60.00 L538.76,60.25 L538.53,60.50 L538.28,60.75 L538.00,61.00 L537.71,61.25 L537.39,61.50 L537.05,61.74 L536.80,61.91 L536.55,62.08 L536.28,62.25 L535.86,62.50 L535.55,62.68 L535.30,62.82 L534.96,63.00 L534.55,63.22 L534.30,63.35 L533.99,63.50 L533.55,63.72 L533.30,63.85 L533.00,64.00 L532.55,64.23 L532.30,64.36 L532.03,64.50 L531.59,64.75 L531.30,64.93 L531.05,65.10 L530.80,65.28 L530.53,65.50 L530.28,65.75 L530.05,66.04 L529.81,66.50 L529.72,66.75 L529.60,67.25 L529.54,67.50 L529.41,68.00 L529.30,68.30 L529.07,68.75 L528.90,69.00 L528.70,69.25 L528.45,69.50 L528.16,69.75 L527.83,70.00 L527.55,70.18 L527.30,70.33 L526.97,70.50 L526.55,70.70 L526.30,70.81 L525.80,71.00 L525.55,71.09 L525.05,71.24 L524.80,71.32 L524.30,71.45 L524.05,71.51 L523.55,71.62 L523.05,71.71 L522.80,71.75 L522.30,71.83 L521.80,71.90 L521.30,71.95 L520.80,71.99 L520.55,72.01Z M521.30,70.77 L520.80,70.84 L520.30,70.89 L519.80,70.92 L519.30,70.95 L518.80,70.96 L518.30,70.96 L517.80,70.96 L517.30,70.94 L516.80,70.92 L516.30,70.89 L515.80,70.85 L515.30,70.81 L514.80,70.76 L514.55,70.73 L514.05,70.67 L513.55,70.61 L513.05,70.55 L512.70,70.50 L512.30,70.44 L511.80,70.37 L511.30,70.29 L511.05,70.24 L510.55,70.15 L510.05,70.05 L509.80,70.00 L509.30,69.88 L508.80,69.76 L508.55,69.69 L508.05,69.54 L507.80,69.46 L507.30,69.30 L507.05,69.21 L506.55,69.01 L506.30,68.91 L505.94,68.75 L505.55,68.57 L505.30,68.44 L504.94,68.25 L504.55,68.02 L504.30,67.87 L504.05,67.70 L503.77,67.50 L503.45,67.25 L503.17,67.00 L502.92,66.75 L502.71,66.50 L502.53,66.25 L502.30,65.82 L502.18,65.50 L502.10,65.00 L502.12,64.50 L502.25,64.00 L502.35,63.75 L502.55,63.36 L502.78,63.00 L502.96,62.75 L503.17,62.50 L503.40,62.25 L503.65,62.00 L503.93,61.75 L504.24,61.50 L504.55,61.27 L504.80,61.09 L505.05,60.93 L505.34,60.75 L505.79,60.50 L506.05,60.36 L506.30,60.24 L506.80,60.01 L507.05,59.91 L507.45,59.75 L507.80,59.61 L508.13,59.50 L508.55,59.35 L508.87,59.25 L509.30,59.10 L509.64,59.00 L510.05,58.85 L510.35,58.75 L510.80,58.55 L511.05,58.39 L511.30,58.06 L511.30,57.93 L511.06,57.50 L510.85,57.25 L510.67,57.00 L510.57,56.50 L510.80,56.17 L511.05,55.98 L511.50,55.75 L511.80,55.64 L512.22,55.50 L512.55,55.41 L513.05,55.29 L513.30,55.23 L513.80,55.13 L514.30,55.05 L514.59,55.00 L515.05,54.93 L515.55,54.86 L516.05,54.80 L516.53,54.75 L516.80,54.72 L517.30,54.67 L517.80,54.63 L518.30,54.59 L518.80,54.56 L519.30,54.52 L519.76,54.50 L520.05,54.48 L520.55,54.46 L521.05,54.44 L521.55,54.42 L522.05,54.41 L522.55,54.40 L523.05,54.39 L523.55,54.38 L524.05,54.38 L524.55,54.38 L525.05,54.38 L525.55,54.39 L526.05,54.40 L526.55,54.41 L527.05,54.43 L527.55,54.45 L528.05,54.47 L528.55,54.49 L528.80,54.51 L529.30,54.53 L529.80,54.57 L530.30,54.60 L530.80,54.65 L531.30,54.69 L531.80,54.74 L532.05,54.77 L532.55,54.83 L533.05,54.90 L533.55,54.97 L533.80,55.01 L534.30,55.10 L534.80,55.20 L535.05,55.25 L535.55,55.37 L536.01,55.50 L536.30,55.60 L536.72,55.75 L537.05,55.91 L537.30,56.05 L537.57,56.25 L537.80,56.55 L537.87,57.00 L537.77,57.25 L537.55,57.59 L537.30,57.89 L537.05,58.18 L536.80,58.47 L536.58,58.75 L536.40,59.00 L536.24,59.25 L536.05,59.57 L535.80,59.97 L535.61,60.25 L535.41,60.50 L535.20,60.75 L534.95,61.00 L534.67,61.25 L534.37,61.50 L534.05,61.74 L533.80,61.91 L533.55,62.08 L533.28,62.25 L532.87,62.50 L532.55,62.68 L532.30,62.82 L531.96,63.00 L531.55,63.22 L531.30,63.35 L530.99,63.50 L530.55,63.72 L530.30,63.85 L530.01,64.00 L529.55,64.24 L529.30,64.38 L529.05,64.52 L528.67,64.75 L528.30,64.99 L528.05,65.19 L527.80,65.40 L527.55,65.66 L527.30,66.00 L527.17,66.25 L527.05,66.55 L526.93,67.00 L526.82,67.50 L526.75,67.75 L526.55,68.23 L526.39,68.50 L526.20,68.75 L525.96,69.00 L525.67,69.25 L525.30,69.50 L525.05,69.65 L524.80,69.78 L524.32,70.00 L524.05,70.11 L523.64,70.25 L523.30,70.36 L522.80,70.49 L522.55,70.55 L522.05,70.65 L521.55,70.74 L521.30,70.77Z M520.30,69.78 L519.80,69.84 L519.30,69.88 L518.80,69.91 L518.30,69.92 L517.80,69.92 L517.30,69.91 L516.80,69.89 L516.30,69.86 L515.80,69.82 L515.30,69.78 L514.95,69.75 L514.55,69.71 L514.05,69.66 L513.55,69.60 L513.05,69.55 L512.69,69.50 L512.30,69.45 L511.80,69.38 L511.30,69.30 L510.98,69.25 L510.55,69.17 L510.05,69.07 L509.72,69.00 L509.30,68.90 L508.80,68.77 L508.55,68.69 L508.05,68.53 L507.80,68.44 L507.30,68.25 L507.05,68.15 L506.73,68.00 L506.30,67.79 L506.05,67.65 L505.80,67.50 L505.41,67.25 L505.08,67.00 L504.80,66.77 L504.55,66.52 L504.31,66.25 L504.13,66.00 L503.98,65.75 L503.80,65.28 L503.74,65.00 L503.72,64.50 L503.80,64.08 L503.91,63.75 L504.05,63.45 L504.30,63.04 L504.52,62.75 L504.74,62.50 L505.00,62.25 L505.28,62.00 L505.55,61.79 L505.80,61.61 L506.05,61.44 L506.37,61.25 L506.80,61.02 L507.05,60.89 L507.37,60.75 L507.80,60.57 L508.05,60.48 L508.55,60.31 L508.80,60.23 L509.30,60.08 L509.64,60.00 L510.05,59.90 L510.55,59.79 L510.80,59.74 L511.30,59.64 L511.80,59.54 L512.05,59.50 L512.55,59.40 L513.05,59.31 L513.34,59.25 L513.80,59.14 L514.30,59.02 L514.55,58.94 L515.05,58.76 L515.30,58.62 L515.55,58.42 L515.59,58.00 L515.35,57.75 L515.05,57.52 L514.80,57.34 L514.55,57.14 L514.30,56.88 L514.19,56.50 L514.36,56.25 L514.77,56.00 L515.05,55.89 L515.46,55.75 L515.80,55.66 L516.30,55.55 L516.55,55.50 L517.05,55.41 L517.55,55.33 L518.05,55.27 L518.30,55.24 L518.80,55.18 L519.30,55.14 L519.80,55.10 L520.30,55.06 L520.80,55.03 L521.30,55.00 L521.55,54.99 L522.05,54.97 L522.55,54.96 L523.05,54.95 L523.55,54.94 L524.05,54.94 L524.55,54.94 L525.05,54.94 L525.55,54.95 L526.05,54.96 L526.55,54.98 L526.98,55.00 L527.30,55.02 L527.80,55.04 L528.30,55.08 L528.80,55.11 L529.30,55.16 L529.80,55.21 L530.17,55.25 L530.55,55.30 L531.05,55.37 L531.55,55.45 L531.85,55.50 L532.30,55.59 L532.80,55.71 L533.05,55.78 L533.55,55.94 L533.80,56.04 L534.22,56.25 L534.52,56.50 L534.67,56.75 L534.61,57.25 L534.45,57.50 L534.24,57.75 L534.02,58.00 L533.80,58.27 L533.55,58.63 L533.37,59.00 L533.28,59.25 L533.13,59.75 L533.04,60.00 L532.80,60.48 L532.61,60.75 L532.40,61.00 L532.16,61.25 L531.87,61.50 L531.56,61.75 L531.30,61.93 L531.05,62.10 L530.80,62.26 L530.40,62.50 L530.05,62.70 L529.80,62.84 L529.49,63.00 L529.05,63.23 L528.80,63.36 L528.52,63.50 L528.05,63.74 L527.80,63.86 L527.53,64.00 L527.06,64.25 L526.80,64.40 L526.55,64.54 L526.21,64.75 L525.84,65.00 L525.55,65.23 L525.30,65.45 L525.05,65.73 L524.85,66.00 L524.72,66.25 L524.55,66.70 L524.46,67.00 L524.31,67.50 L524.21,67.75 L524.05,68.03 L523.80,68.34 L523.55,68.58 L523.30,68.77 L522.93,69.00 L522.55,69.18 L522.30,69.29 L521.80,69.45 L521.55,69.53 L521.05,69.64 L520.55,69.74 L520.30,69.78Z M518.05,68.76 L517.55,68.78 L517.05,68.79 L516.55,68.78 L516.05,68.77 L515.55,68.75 L515.30,68.74 L514.80,68.72 L514.30,68.69 L513.80,68.66 L513.30,68.62 L512.80,68.58 L512.30,68.54 L511.94,68.50 L511.55,68.45 L511.05,68.39 L510.55,68.30 L510.27,68.25 L509.80,68.15 L509.30,68.03 L509.05,67.96 L508.55,67.80 L508.30,67.72 L507.80,67.52 L507.55,67.41 L507.23,67.25 L506.80,67.01 L506.55,66.85 L506.30,66.67 L506.05,66.46 L505.80,66.23 L505.55,65.94 L505.30,65.56 L505.16,65.25 L505.05,64.77 L505.04,64.50 L505.06,64.25 L505.20,63.75 L505.32,63.50 L505.55,63.14 L505.80,62.82 L506.05,62.57 L506.30,62.34 L506.55,62.15 L506.80,61.97 L507.15,61.75 L507.55,61.53 L507.80,61.41 L508.16,61.25 L508.55,61.09 L508.82,61.00 L509.30,60.85 L509.64,60.75 L510.05,60.65 L510.55,60.53 L510.80,60.48 L511.30,60.39 L511.80,60.31 L512.17,60.25 L512.55,60.19 L513.05,60.12 L513.55,60.04 L513.85,60.00 L514.30,59.93 L514.80,59.85 L515.30,59.76 L515.55,59.71 L516.05,59.61 L516.55,59.51 L516.80,59.45 L517.30,59.32 L517.58,59.25 L518.05,59.11 L518.39,59.00 L518.80,58.83 L519.05,58.72 L519.39,58.50 L519.42,58.00 L519.13,57.75 L518.80,57.54 L518.55,57.39 L518.30,57.23 L517.98,57.00 L517.78,56.75 L517.80,56.50 L518.10,56.25 L518.55,56.08 L518.80,56.00 L519.30,55.89 L519.80,55.80 L520.13,55.75 L520.55,55.70 L521.05,55.65 L521.55,55.61 L522.05,55.58 L522.55,55.55 L523.05,55.53 L523.55,55.52 L524.05,55.51 L524.55,55.51 L525.05,55.52 L525.55,55.54 L526.05,55.56 L526.55,55.58 L527.05,55.62 L527.55,55.66 L528.05,55.71 L528.40,55.75 L528.80,55.81 L529.30,55.89 L529.80,55.99 L530.05,56.05 L530.55,56.20 L530.80,56.30 L531.18,56.50 L531.41,56.75 L531.36,57.25 L531.16,57.50 L530.90,57.75 L530.65,58.00 L530.43,58.25 L530.29,58.50 L530.25,59.00 L530.31,59.25 L530.42,59.75 L530.43,60.25 L530.30,60.65 L530.10,61.00 L529.89,61.25 L529.64,61.50 L529.34,61.75 L529.05,61.96 L528.80,62.13 L528.55,62.30 L528.21,62.50 L527.80,62.73 L527.55,62.86 L527.29,63.00 L526.80,63.25 L526.55,63.38 L526.30,63.50 L525.80,63.75 L525.55,63.87 L525.29,64.00 L524.81,64.25 L524.55,64.39 L524.30,64.53 L523.92,64.75 L523.55,64.99 L523.30,65.17 L523.05,65.37 L522.80,65.59 L522.55,65.85 L522.30,66.17 L522.09,66.50 L521.96,66.75 L521.80,67.05 L521.55,67.44 L521.30,67.73 L521.05,67.94 L520.80,68.10 L520.51,68.25 L520.05,68.42 L519.80,68.50 L519.30,68.61 L518.80,68.69 L518.30,68.74 L518.05,68.76Z M514.55,67.51 L514.05,67.55 L513.55,67.57 L513.05,67.58 L512.55,67.57 L512.05,67.56 L511.55,67.52 L511.30,67.50 L510.80,67.44 L510.30,67.35 L509.82,67.25 L509.55,67.18 L509.05,67.03 L508.80,66.94 L508.34,66.75 L508.05,66.61 L507.80,66.47 L507.47,66.25 L507.15,66.00 L506.90,65.75 L506.71,65.50 L506.55,65.23 L506.39,64.75 L506.38,64.25 L506.52,63.75 L506.65,63.50 L506.82,63.25 L507.05,62.98 L507.30,62.74 L507.61,62.50 L507.99,62.25 L508.30,62.08 L508.55,61.95 L509.01,61.75 L509.30,61.64 L509.73,61.50 L510.05,61.41 L510.55,61.28 L510.80,61.23 L511.30,61.13 L511.80,61.04 L512.07,61.00 L512.55,60.93 L513.05,60.86 L513.55,60.80 L513.95,60.75 L514.30,60.71 L514.80,60.64 L515.30,60.57 L515.77,60.50 L516.05,60.46 L516.55,60.37 L517.05,60.29 L517.30,60.24 L517.80,60.15 L518.30,60.06 L518.62,60.00 L519.05,59.92 L519.55,59.83 L519.98,59.75 L520.30,59.69 L520.80,59.61 L521.30,59.53 L521.55,59.49 L522.05,59.42 L522.55,59.36 L523.05,59.31 L523.55,59.28 L524.05,59.27 L524.55,59.28 L525.05,59.32 L525.55,59.39 L526.02,59.50 L526.30,59.58 L526.71,59.75 L527.05,59.95 L527.30,60.16 L527.52,60.50 L527.55,60.75 L527.50,61.00 L527.30,61.34 L527.05,61.62 L526.80,61.85 L526.55,62.04 L526.24,62.25 L525.83,62.50 L525.55,62.66 L525.30,62.79 L524.89,63.00 L524.55,63.17 L524.30,63.29 L523.85,63.50 L523.55,63.64 L523.30,63.75 L522.80,63.98 L522.55,64.10 L522.23,64.25 L521.80,64.46 L521.55,64.59 L521.23,64.75 L520.80,64.98 L520.55,65.13 L520.30,65.28 L519.94,65.50 L519.56,65.75 L519.30,65.93 L519.05,66.10 L518.80,66.27 L518.42,66.50 L518.05,66.71 L517.80,66.82 L517.35,67.00 L517.05,67.10 L516.55,67.23 L516.30,67.28 L515.80,67.37 L515.30,67.44 L514.80,67.49 L514.55,67.51Z M513.30,66.51 L512.80,66.57 L512.30,66.60 L511.80,66.61 L511.30,66.59 L510.80,66.53 L510.55,66.50 L510.05,66.39 L509.57,66.25 L509.30,66.15 L508.97,66.00 L508.55,65.75 L508.30,65.56 L508.05,65.30 L507.84,65.00 L507.74,64.75 L507.70,64.25 L507.80,63.87 L508.00,63.50 L508.22,63.25 L508.49,63.00 L508.80,62.78 L509.05,62.63 L509.30,62.50 L509.80,62.28 L510.05,62.19 L510.55,62.04 L510.80,61.98 L511.30,61.87 L511.80,61.77 L512.05,61.73 L512.55,61.67 L513.05,61.61 L513.55,61.55 L514.05,61.50 L514.30,61.48 L514.80,61.43 L515.30,61.37 L515.80,61.32 L516.30,61.25 L516.55,61.22 L517.05,61.15 L517.55,61.08 L518.05,61.00 L518.30,60.96 L518.80,60.89 L519.30,60.82 L519.80,60.75 L520.05,60.72 L520.55,60.67 L521.05,60.63 L521.55,60.60 L522.05,60.59 L522.55,60.61 L523.05,60.66 L523.55,60.75 L523.80,60.85 L524.09,61.00 L524.26,61.50 L524.05,61.81 L523.80,62.05 L523.54,62.25 L523.13,62.50 L522.80,62.68 L522.55,62.80 L522.14,63.00 L521.80,63.15 L521.55,63.26 L521.05,63.47 L520.80,63.57 L520.37,63.75 L520.05,63.88 L519.76,64.00 L519.30,64.19 L519.05,64.30 L518.60,64.50 L518.30,64.63 L518.05,64.75 L517.55,64.99 L517.30,65.11 L517.01,65.25 L516.55,65.47 L516.30,65.59 L515.93,65.75 L515.55,65.91 L515.30,66.00 L514.80,66.17 L514.53,66.25 L514.05,66.37 L513.55,66.47 L513.30,66.51Z M512.30,65.51 L511.80,65.55 L511.30,65.54 L510.98,65.50 L510.55,65.41 L510.11,65.25 L509.80,65.07 L509.55,64.85 L509.34,64.50 L509.36,64.00 L509.55,63.68 L509.80,63.44 L510.06,63.25 L510.55,63.00 L510.80,62.91 L511.30,62.76 L511.55,62.71 L512.05,62.62 L512.55,62.55 L513.05,62.51 L513.30,62.50 L513.80,62.48 L514.30,62.48 L514.80,62.49 L515.13,62.50 L515.55,62.53 L516.05,62.58 L516.55,62.66 L516.85,62.75 L516.86,63.25 L516.59,63.50 L516.30,63.72 L516.05,63.89 L515.80,64.07 L515.53,64.25 L515.11,64.50 L514.80,64.67 L514.55,64.80 L514.13,65.00 L513.80,65.13 L513.48,65.25 L513.05,65.37 L512.55,65.48 L512.30,65.51Z" fill="none" stroke="#5a5a5a" stroke-width="0.45"/>
<path d="M539.1,69.4h0.8 M534.0,66.4h0.8 M540.2,70.4h0.8 M550.2,71.4h0.8 M534.0,68.4h0.8 M496.2,64.0h0.8 M536.6,67.8h0.8 M524.4,72.1h0.8 M516.2,78.0h0.8 M495.0,59.2h0.8 M502.8,71.0h0.8 M495.1,63.4h0.8 M553.6,66.8h0.8 M500.2,72.4h0.8 M497.7,74.3h0.8 M537.6,69.7h0.8 M517.4,72.4h0.8 M522.2,73.0h0.8 M497.0,57.9h0.8 M498.0,69.3h0.8 M496.5,63.3h0.8 M540.0,71.6h0.8 M544.7,67.8h0.8 M536.1,67.6h0.8 M490.0,68.5h0.8 M550.6,55.9h0.8 M532.5,69.1h0.8 M507.3,77.1h0.8 M497.8,72.0h0.8 M495.8,71.4h0.8 M503.8,57.0h0.8 M498.4,57.9h0.8 M497.1,66.0h0.8 M535.2,63.6h0.8 M531.8,67.6h0.8 M493.3,68.4h0.8 M531.6,65.3h0.8 M504.4,58.2h0.8 M533.7,72.6h0.8 M512.9,72.7h0.8 M535.6,70.3h0.8 M523.9,74.7h0.8 M531.2,70.5h0.8 M526.1,73.1h0.8 M508.8,54.7h0.8 M534.8,65.0h0.8 M533.1,73.0h0.8 M495.5,55.9h0.8 M533.6,72.0h0.8 M497.7,58.1h0.8 M503.7,73.3h0.8 M514.7,72.6h0.8 M491.5,72.5h0.8 M493.9,64.1h0.8 M523.9,73.8h0.8 M556.6,67.0h0.8 M493.8,70.6h0.8 M535.4,71.3h0.8 M532.3,66.6h0.8 M546.7,75.1h0.8 M541.6,55.9h0.8 M490.3,60.4h0.8 M543.1,69.5h0.8 M538.8,71.3h0.8 M502.0,60.8h0.8 M501.5,61.7h0.8 M503.3,57.9h0.8 M532.4,66.8h0.8 M498.7,63.5h0.8 M544.3,67.1h0.8 M524.1,72.9h0.8 M503.6,55.8h0.8 M511.1,73.4h0.8 M490.1,60.3h0.8 M502.4,69.8h0.8 M495.2,60.3h0.8 M500.0,59.5h0.8 M517.1,73.8h0.8 M501.8,68.9h0.8 M493.3,57.1h0.8 M497.1,71.2h0.8 M496.1,63.6h0.8 M536.6,72.7h0.8 M503.8,58.0h0.8 M498.0,61.1h0.8 M490.4,56.7h0.8 M495.7,58.7h0.8 M503.1,60.6h0.8 M504.4,71.1h0.8 M519.1,72.8h0.8 M535.4,67.5h0.8 M534.5,65.5h0.8 M518.6,73.8h0.8 M534.9,66.5h0.8 M505.8,72.7h0.8 M507.0,73.7h0.8 M517.5,72.7h0.8 M540.6,67.2h0.8 M536.5,68.9h0.8 M534.3,66.8h0.8 M535.1,66.7h0.8 M515.4,77.8h0.8 M527.4,70.9h0.8 M488.5,59.3h0.8 M510.8,72.3h0.8 M496.1,72.1h0.8 M494.9,60.5h0.8 M539.2,69.5h0.8 M496.3,60.5h0.8 M491.4,64.1h0.8 M502.1,69.5h0.8 M531.3,67.1h0.8 M496.4,66.7h0.8 M536.9,65.6h0.8 M500.1,62.8h0.8 M527.5,70.8h0.8 M534.8,66.6h0.8 M536.4,70.9h0.8 M490.5,71.8h0.8 M498.4,61.4h0.8 M498.4,61.7h0.8 M499.5,73.4h0.8 M507.0,74.9h0.8 M496.3,55.4h0.8 M533.0,72.4h0.8 M495.1,66.4h0.8 M529.4,70.6h0.8 M496.2,73.9h0.8 M540.3,69.3h0.8 M491.1,63.8h0.8 M501.1,61.1h0.8 M505.9,58.1h0.8 M538.0,70.2h0.8 M516.6,77.9h0.8 M535.0,67.5h0.8 M502.3,70.8h0.8 M543.6,72.8h0.8 M498.5,64.8h0.8 M538.3,75.3h0.8 M503.7,60.1h0.8 M495.4,62.2h0.8 M498.7,60.2h0.8 M511.0,72.5h0.8 M533.1,74.9h0.8 M531.7,76.3h0.8 M488.9,56.9h0.8 M513.5,76.8h0.8 M499.4,63.6h0.8 M530.2,79.2h0.8 M533.3,73.9h0.8 M501.1,61.4h0.8 M498.1,72.3h0.8 M534.7,75.6h0.8 M532.0,67.9h0.8 M530.1,73.4h0.8 M489.8,65.1h0.8 M499.5,56.2h0.8 M497.1,61.4h0.8 M503.1,57.8h0.8 M497.1,64.5h0.8 M493.9,71.0h0.8 M498.4,62.6h0.8 M538.1,67.4h0.8 M503.8,56.3h0.8 M496.8,63.1h0.8 M500.9,70.1h0.8 M534.0,77.7h0.8 M497.2,59.7h0.8 M533.7,69.8h0.8 M540.8,68.1h0.8 M500.4,62.9h0.8 M538.2,70.7h0.8 M543.7,67.7h0.8 M493.2,64.1h0.8 M505.0,58.4h0.8 M496.9,70.2h0.8 M536.7,65.8h0.8 M498.7,64.5h0.8 M492.6,65.2h0.8 M502.7,55.8h0.8 M542.3,68.9h0.8 M529.8,71.7h0.8 M536.8,65.3h0.8 M495.8,62.9h0.8 M500.9,60.1h0.8 M498.3,56.0h0.8 M499.5,72.0h0.8 M555.0,70.4h0.8 M537.7,71.6h0.8 M489.9,69.4h0.8 M497.6,57.6h0.8 M545.3,71.3h0.8 M496.2,56.8h0.8 M543.8,55.0h0.8 M496.5,63.2h0.8 M497.1,63.4h0.8 M532.5,69.6h0.8 M527.7,75.9h0.8 M553.8,56.6h0.8 M494.7,68.0h0.8 M535.4,77.4h0.8 M532.3,72.8h0.8 M498.4,58.5h0.8 M536.0,70.3h0.8 M541.1,69.1h0.8 M541.5,70.4h0.8 M498.6,59.3h0.8 M538.1,68.2h0.8 M530.5,69.3h0.8 M529.2,73.4h0.8 M494.8,65.5h0.8 M498.9,60.3h0.8 M499.6,55.2h0.8 M551.7,69.2h0.8 M556.7,60.1h0.8 M505.0,57.1h0.8 M506.0,56.6h0.8 M504.5,70.3h0.8 M499.3,66.4h0.8 M536.1,63.2h0.8" stroke="#a0a0a0" stroke-width="0.8" fill="none"/>
<line x1="477.3" y1="40.7" x2="477.3" y2="124.2" stroke="#c4c4c4" stroke-width="0.7" />
<line x1="476.8" y1="123.7" x2="559.7" y2="123.7" stroke="#444" stroke-width="0.9" />
<line x1="478.1" y1="123.7" x2="478.1" y2="125.9" stroke="#333" stroke-width="0.8" />
<line x1="481.20000000000005" y1="123.7" x2="481.20000000000005" y2="124.9" stroke="#666" stroke-width="0.5" />
<line x1="484.3" y1="123.7" x2="484.3" y2="124.9" stroke="#666" stroke-width="0.5" />
<line x1="487.40000000000003" y1="123.7" x2="487.40000000000003" y2="124.9" stroke="#666" stroke-width="0.5" />
<line x1="490.5" y1="123.7" x2="490.5" y2="124.9" stroke="#666" stroke-width="0.5" />
<line x1="493.6" y1="123.7" x2="493.6" y2="125.9" stroke="#333" stroke-width="0.8" />
<line x1="496.70000000000005" y1="123.7" x2="496.70000000000005" y2="124.9" stroke="#666" stroke-width="0.5" />
<line x1="499.8" y1="123.7" x2="499.8" y2="124.9" stroke="#666" stroke-width="0.5" />
<line x1="502.90000000000003" y1="123.7" x2="502.90000000000003" y2="124.9" stroke="#666" stroke-width="0.5" />
<line x1="506.0" y1="123.7" x2="506.0" y2="124.9" stroke="#666" stroke-width="0.5" />
<line x1="509.1" y1="123.7" x2="509.1" y2="125.9" stroke="#333" stroke-width="0.8" />
<line x1="512.2" y1="123.7" x2="512.2" y2="124.9" stroke="#666" stroke-width="0.5" />
<line x1="515.3000000000001" y1="123.7" x2="515.3000000000001" y2="124.9" stroke="#666" stroke-width="0.5" />
<line x1="518.4" y1="123.7" x2="518.4" y2="124.9" stroke="#666" stroke-width="0.5" />
<line x1="521.5" y1="123.7" x2="521.5" y2="124.9" stroke="#666" stroke-width="0.5" />
<line x1="524.6" y1="123.7" x2="524.6" y2="125.9" stroke="#333" stroke-width="0.8" />
<line x1="527.7" y1="123.7" x2="527.7" y2="124.9" stroke="#666" stroke-width="0.5" />
<line x1="530.8000000000001" y1="123.7" x2="530.8000000000001" y2="124.9" stroke="#666" stroke-width="0.5" />
<line x1="533.9" y1="123.7" x2="533.9" y2="124.9" stroke="#666" stroke-width="0.5" />
<line x1="537.0" y1="123.7" x2="537.0" y2="124.9" stroke="#666" stroke-width="0.5" />
<line x1="540.1" y1="123.7" x2="540.1" y2="125.9" stroke="#333" stroke-width="0.8" />
<line x1="543.2" y1="123.7" x2="543.2" y2="124.9" stroke="#666" stroke-width="0.5" />
<line x1="546.3000000000001" y1="123.7" x2="546.3000000000001" y2="124.9" stroke="#666" stroke-width="0.5" />
<line x1="549.4" y1="123.7" x2="549.4" y2="124.9" stroke="#666" stroke-width="0.5" />
<line x1="552.5" y1="123.7" x2="552.5" y2="124.9" stroke="#666" stroke-width="0.5" />
<line x1="555.6" y1="123.7" x2="555.6" y2="125.9" stroke="#333" stroke-width="0.8" />
<line x1="558.7" y1="123.7" x2="558.7" y2="124.9" stroke="#666" stroke-width="0.5" />
<text x="478.1" y="129.6" font-size="4.2" text-anchor="middle" font-weight="normal" font-style="normal" fill="#777" >0</text>
<text x="493.6" y="129.6" font-size="4.2" text-anchor="middle" font-weight="normal" font-style="normal" fill="#777" >50K</text>
<text x="509.1" y="129.6" font-size="4.2" text-anchor="middle" font-weight="normal" font-style="normal" fill="#777" >100K</text>
<text x="524.6" y="129.6" font-size="4.2" text-anchor="middle" font-weight="normal" font-style="normal" fill="#777" >150K</text>
<text x="540.1" y="129.6" font-size="4.2" text-anchor="middle" font-weight="normal" font-style="normal" fill="#777" >200K</text>
<text x="555.6" y="129.6" font-size="4.2" text-anchor="middle" font-weight="normal" font-style="normal" fill="#777" >250K</text>
<line x1="474.5" y1="47.7" x2="477.3" y2="47.7" stroke="#333" stroke-width="0.8" />
<text x="471.5" y="50.900000000000006" font-size="4.2" text-anchor="end" font-weight="normal" font-style="normal" fill="#9a9a9a" >10</text>
<text x="471.7" y="48.300000000000004" font-size="3" text-anchor="start" font-weight="normal" font-style="normal" fill="#9a9a9a" >5</text>
<line x1="474.5" y1="64.4" x2="477.3" y2="64.4" stroke="#333" stroke-width="0.8" />
<text x="471.5" y="67.60000000000001" font-size="4.2" text-anchor="end" font-weight="normal" font-style="normal" fill="#9a9a9a" >10</text>
<text x="471.7" y="65.0" font-size="3" text-anchor="start" font-weight="normal" font-style="normal" fill="#9a9a9a" >4</text>
<line x1="474.5" y1="84.2" x2="477.3" y2="84.2" stroke="#333" stroke-width="0.8" />
<text x="471.5" y="87.4" font-size="4.2" text-anchor="end" font-weight="normal" font-style="normal" fill="#9a9a9a" >10</text>
<text x="471.7" y="84.8" font-size="3" text-anchor="start" font-weight="normal" font-style="normal" fill="#9a9a9a" >3</text>
<line x1="474.5" y1="92" x2="477.3" y2="92" stroke="#333" stroke-width="0.8" />
<text x="471.5" y="95.2" font-size="4.2" text-anchor="end" font-weight="normal" font-style="normal" fill="#9a9a9a" >0</text>
<line x1="474.5" y1="100.2" x2="477.3" y2="100.2" stroke="#333" stroke-width="0.8" />
<text x="471.5" y="103.4" font-size="4.2" text-anchor="end" font-weight="normal" font-style="normal" fill="#9a9a9a" >-10</text>
<text x="471.7" y="100.8" font-size="3" text-anchor="start" font-weight="normal" font-style="normal" fill="#9a9a9a" >3</text>
<line x1="474.5" y1="120" x2="477.3" y2="120" stroke="#333" stroke-width="0.8" />
<text x="471.5" y="123.2" font-size="4.2" text-anchor="end" font-weight="normal" font-style="normal" fill="#9a9a9a" >-10</text>
<text x="471.7" y="120.6" font-size="3" text-anchor="start" font-weight="normal" font-style="normal" fill="#9a9a9a" >4</text>
<line x1="475.8" y1="42.672799072411514" x2="477.3" y2="42.672799072411514" stroke="#666" stroke-width="0.5" />
<line x1="475.8" y1="59.37279907241152" x2="477.3" y2="59.37279907241152" stroke="#666" stroke-width="0.5" />
<line x1="475.8" y1="56.432075046181644" x2="477.3" y2="56.432075046181644" stroke="#666" stroke-width="0.5" />
<line x1="475.8" y1="54.34559814482303" x2="477.3" y2="54.34559814482303" stroke="#666" stroke-width="0.5" />
<line x1="475.8" y1="52.72720092758849" x2="477.3" y2="52.72720092758849" stroke="#666" stroke-width="0.5" />
<line x1="475.8" y1="51.404874118593156" x2="477.3" y2="51.404874118593156" stroke="#666" stroke-width="0.5" />
<line x1="475.8" y1="50.286862731761914" x2="477.3" y2="50.286862731761914" stroke="#666" stroke-width="0.5" />
<line x1="475.8" y1="49.31839721723455" x2="477.3" y2="49.31839721723455" stroke="#666" stroke-width="0.5" />
<line x1="475.8" y1="48.464150092363276" x2="477.3" y2="48.464150092363276" stroke="#666" stroke-width="0.5" />
<line x1="475.8" y1="78.23960608585318" x2="477.3" y2="78.23960608585318" stroke="#666" stroke-width="0.5" />
<line x1="475.8" y1="74.75299915655069" x2="477.3" y2="74.75299915655069" stroke="#666" stroke-width="0.5" />
<line x1="475.8" y1="72.27921217170635" x2="477.3" y2="72.27921217170635" stroke="#666" stroke-width="0.5" />
<line x1="475.8" y1="70.36039391414683" x2="477.3" y2="70.36039391414683" stroke="#666" stroke-width="0.5" />
<line x1="475.8" y1="68.79260524240387" x2="477.3" y2="68.79260524240387" stroke="#666" stroke-width="0.5" />
<line x1="475.8" y1="67.46705880771772" x2="477.3" y2="67.46705880771772" stroke="#666" stroke-width="0.5" />
<line x1="475.8" y1="66.31881825755953" x2="477.3" y2="66.31881825755953" stroke="#666" stroke-width="0.5" />
<line x1="475.8" y1="65.30599831310137" x2="477.3" y2="65.30599831310137" stroke="#666" stroke-width="0.5" />
<line x1="475.7" y1="86" x2="477.3" y2="86" stroke="#666" stroke-width="0.5" />
<line x1="475.7" y1="88" x2="477.3" y2="88" stroke="#666" stroke-width="0.5" />
<line x1="475.7" y1="90" x2="477.3" y2="90" stroke="#666" stroke-width="0.5" />
<line x1="475.7" y1="94" x2="477.3" y2="94" stroke="#666" stroke-width="0.5" />
<line x1="475.7" y1="96" x2="477.3" y2="96" stroke="#666" stroke-width="0.5" />
<line x1="475.7" y1="98" x2="477.3" y2="98" stroke="#666" stroke-width="0.5" />
<circle cx="476.0" cy="92" r="1.3" fill="#000"/>
<rect x="487.4" y="53.7" width="71.20000000000005" height="21.39999999999999" fill="none" stroke="#3a3a3a" stroke-width="0.9" />
<rect x="480" y="81.3" width="76.60000000000002" height="28.0" fill="none" stroke="#3a3a3a" stroke-width="0.9" />
<text x="551.7" y="65.5" font-size="11.8" text-anchor="end" font-weight="normal" font-style="normal" fill="#000" >22</text>
<text x="551.8" y="105.6" font-size="11.8" text-anchor="end" font-weight="normal" font-style="normal" fill="#000" >76</text>
<text x="0" y="0" font-size="9" text-anchor="middle" font-weight="normal" font-style="normal" fill="#111" transform="translate(23.6,84.7) rotate(-90)">SiglecF-PE-CF594</text>
<text x="43.5" y="145.8" font-size="9.2" text-anchor="start" font-weight="normal" font-style="normal" fill="#111" >SSC-A</text>
<line x1="588.6" y1="41" x2="629.4" y2="41" stroke="#e6e6e6" stroke-width="0.9" />
<line x1="629.4" y1="41" x2="629.4" y2="123.4" stroke="#cccccc" stroke-width="0.9" />
<line x1="588.6" y1="41" x2="588.6" y2="123.4" stroke="#b4b4b4" stroke-width="0.8" />
<path d="M597.50,81.60 L599.50,80.20 L601.70,78.10 L603.00,78.80 L604.50,79.30 L606.50,78.60 L608.00,77.70 L609.50,76.50 L610.50,74.90 L611.10,72.00 L611.80,62.20 L612.50,55.00 L613.20,51.00 L613.80,53.00 L614.40,62.00 L615.00,72.00 L615.60,77.00 L616.20,80.70 L616.80,81.60Z" fill="#6cc487" stroke="#2f9a52" stroke-width="0.6"/>
<line x1="588.6" y1="81.6" x2="629.4" y2="81.6" stroke="#7fcf98" stroke-width="0.9" />
<path d="M597.60,121.70 L598.00,115.00 L598.40,100.00 L598.80,88.00 L599.20,84.30 L599.80,86.00 L600.50,91.20 L601.20,100.50 L602.00,106.00 L602.80,110.50 L604.00,114.00 L605.10,116.60 L606.20,118.50 L607.40,119.70 L609.50,120.40 L612.00,120.80 L614.00,120.70 L615.00,120.20 L616.00,120.60 L618.00,121.40 L620.00,121.70Z" fill="#c9c9c9" stroke="#5a5a5a" stroke-width="0.6"/>
<line x1="588.6" y1="121.7" x2="629.4" y2="121.7" stroke="#8a8a8a" stroke-width="0.5" />
<line x1="588.3000000000001" y1="123.4" x2="629.4" y2="123.4" stroke="#333" stroke-width="0.9" />
<line x1="591.3" y1="123.4" x2="591.3" y2="125.4" stroke="#333" stroke-width="0.8" />
<line x1="593.7" y1="123.4" x2="593.7" y2="125.4" stroke="#333" stroke-width="0.8" />
<line x1="597.9" y1="123.4" x2="597.9" y2="125.60000000000001" stroke="#333" stroke-width="0.8" />
<line x1="601.8" y1="123.4" x2="601.8" y2="124.9" stroke="#333" stroke-width="0.8" />
<line x1="605.3" y1="123.4" x2="605.3" y2="124.9" stroke="#333" stroke-width="0.8" />
<line x1="608.4" y1="123.4" x2="608.4" y2="124.60000000000001" stroke="#333" stroke-width="0.8" />
<line x1="611.6" y1="123.4" x2="611.6" y2="124.60000000000001" stroke="#333" stroke-width="0.8" />
<line x1="613.3" y1="123.4" x2="613.3" y2="124.80000000000001" stroke="#333" stroke-width="0.8" />
<line x1="616.1" y1="123.4" x2="616.1" y2="125.60000000000001" stroke="#333" stroke-width="0.8" />
<line x1="622.8" y1="123.4" x2="622.8" y2="124.9" stroke="#333" stroke-width="0.8" />
<line x1="625.2" y1="123.4" x2="625.2" y2="124.9" stroke="#333" stroke-width="0.8" />
<circle cx="597.9" cy="123.9" r="1.1" fill="#000"/>
<text x="599.3" y="131.9" font-size="4.2" text-anchor="middle" font-weight="normal" font-style="normal" fill="#999" >0</text>
<text x="616.0" y="131.9" font-size="4.2" text-anchor="start" font-weight="normal" font-style="normal" fill="#999" >10</text>
<text x="620.6" y="128.6" font-size="3" text-anchor="start" font-weight="normal" font-style="normal" fill="#999" >4</text>
<line x1="646.2" y1="41" x2="687.4" y2="41" stroke="#e6e6e6" stroke-width="0.9" />
<line x1="687.4" y1="41" x2="687.4" y2="123.4" stroke="#cccccc" stroke-width="0.9" />
<line x1="646.2" y1="41" x2="646.2" y2="123.4" stroke="#b4b4b4" stroke-width="0.8" />
<path d="M655.60,81.50 L656.70,78.50 L657.70,76.20 L658.70,77.20 L660.00,78.00 L664.00,78.30 L667.00,78.00 L668.20,76.90 L669.20,67.70 L670.20,52.00 L671.10,45.40 L671.80,50.00 L672.50,62.00 L673.20,75.00 L673.80,80.50 L674.50,81.50Z" fill="#6cc487" stroke="#2f9a52" stroke-width="0.6"/>
<line x1="646.2" y1="81.5" x2="687.4" y2="81.5" stroke="#7fcf98" stroke-width="0.9" />
<path d="M654.50,121.70 L655.20,112.00 L655.80,95.00 L656.20,87.00 L656.50,85.10 L657.00,88.00 L657.50,94.30 L658.00,102.00 L658.50,108.00 L659.30,113.00 L660.30,116.60 L661.80,118.80 L663.40,119.70 L666.00,120.50 L670.00,120.90 L673.00,120.80 L675.00,121.30 L677.00,121.70Z" fill="#a4a4a4" stroke="#5a5a5a" stroke-width="0.6"/>
<line x1="646.2" y1="121.7" x2="687.4" y2="121.7" stroke="#8a8a8a" stroke-width="0.5" />
<line x1="645.9000000000001" y1="123.4" x2="687.4" y2="123.4" stroke="#333" stroke-width="0.9" />
<line x1="648.9" y1="123.4" x2="648.9" y2="125.4" stroke="#333" stroke-width="0.8" />
<line x1="651.3000000000001" y1="123.4" x2="651.3000000000001" y2="125.4" stroke="#333" stroke-width="0.8" />
<line x1="655.5" y1="123.4" x2="655.5" y2="125.60000000000001" stroke="#333" stroke-width="0.8" />
<line x1="659.4" y1="123.4" x2="659.4" y2="124.9" stroke="#333" stroke-width="0.8" />
<line x1="662.9" y1="123.4" x2="662.9" y2="124.9" stroke="#333" stroke-width="0.8" />
<line x1="666.0" y1="123.4" x2="666.0" y2="124.60000000000001" stroke="#333" stroke-width="0.8" />
<line x1="669.2" y1="123.4" x2="669.2" y2="124.60000000000001" stroke="#333" stroke-width="0.8" />
<line x1="670.9" y1="123.4" x2="670.9" y2="124.80000000000001" stroke="#333" stroke-width="0.8" />
<line x1="673.7" y1="123.4" x2="673.7" y2="125.60000000000001" stroke="#333" stroke-width="0.8" />
<line x1="680.4" y1="123.4" x2="680.4" y2="124.9" stroke="#333" stroke-width="0.8" />
<line x1="682.8000000000001" y1="123.4" x2="682.8000000000001" y2="124.9" stroke="#333" stroke-width="0.8" />
<circle cx="655.5" cy="123.9" r="1.1" fill="#000"/>
<text x="656.9" y="131.9" font-size="4.2" text-anchor="middle" font-weight="normal" font-style="normal" fill="#999" >0</text>
<text x="673.6" y="131.9" font-size="4.2" text-anchor="start" font-weight="normal" font-style="normal" fill="#999" >10</text>
<text x="678.2" y="128.6" font-size="3" text-anchor="start" font-weight="normal" font-style="normal" fill="#999" >4</text>
<text x="591.6" y="49.9" font-size="8.6" text-anchor="start" font-weight="bold" font-style="normal" fill="#1a9a4a" >3510</text>
<text x="648.0" y="50.0" font-size="8.6" text-anchor="start" font-weight="bold" font-style="normal" fill="#1a9a4a" >3594</text>
<text x="630.2" y="97.9" font-size="8.6" text-anchor="end" font-weight="bold" font-style="normal" fill="#7a7a7a" >538</text>
<text x="686.4" y="98.1" font-size="8.6" text-anchor="end" font-weight="bold" font-style="normal" fill="#7a7a7a" >427</text>
<text x="693.4" y="60.7" font-size="9" text-anchor="start" font-weight="bold" font-style="normal" fill="#808080" >SiglecF<tspan font-size="5.6" dy="-2.9">+</tspan></text>
<text x="693.6" y="101.3" font-size="9" text-anchor="start" font-weight="bold" font-style="normal" fill="#808080" >SiglecF<tspan font-size="5.6" dy="-2.5">−</tspan></text>
<text x="0" y="0" font-size="9.2" text-anchor="middle" font-weight="normal" font-style="normal" fill="#111" transform="translate(584,76.7) rotate(-90)">Events (% of max)</text>
<text x="591.8" y="146" font-size="9" text-anchor="start" font-weight="normal" font-style="normal" fill="#111" >IL-4-GFP</text>
<line x1="58.4" y1="182.9" x2="122.6" y2="182.9" stroke="#9a9a9a" stroke-width="0.8" />
<line x1="122.6" y1="182.9" x2="122.6" y2="247.3" stroke="#9a9a9a" stroke-width="0.8" />
<line x1="58.4" y1="182.5" x2="58.4" y2="247.3" stroke="#222" stroke-width="0.9" />
<line x1="58.0" y1="247.3" x2="122.6" y2="247.3" stroke="#222" stroke-width="0.9" />
<line x1="56.1" y1="247.3" x2="58.4" y2="247.3" stroke="#222" stroke-width="0.8" />
<text x="56.0" y="250.60000000000002" font-size="9.4" text-anchor="end" font-weight="normal" font-style="normal" fill="#111" letter-spacing="0.35">0</text>
<line x1="56.1" y1="234.42000000000002" x2="58.4" y2="234.42000000000002" stroke="#222" stroke-width="0.8" />
<text x="56.0" y="237.72000000000003" font-size="9.4" text-anchor="end" font-weight="normal" font-style="normal" fill="#111" letter-spacing="0.35">2×10<tspan font-size="5.6" dy="-3.6">4</tspan></text>
<line x1="56.1" y1="221.54000000000002" x2="58.4" y2="221.54000000000002" stroke="#222" stroke-width="0.8" />
<text x="56.0" y="224.84000000000003" font-size="9.4" text-anchor="end" font-weight="normal" font-style="normal" fill="#111" letter-spacing="0.35">4×10<tspan font-size="5.6" dy="-3.6">4</tspan></text>
<line x1="56.1" y1="208.66000000000003" x2="58.4" y2="208.66000000000003" stroke="#222" stroke-width="0.8" />
<text x="56.0" y="211.96000000000004" font-size="9.4" text-anchor="end" font-weight="normal" font-style="normal" fill="#111" letter-spacing="0.35">6×10<tspan font-size="5.6" dy="-3.6">4</tspan></text>
<line x1="56.1" y1="195.78" x2="58.4" y2="195.78" stroke="#222" stroke-width="0.8" />
<text x="56.0" y="199.08" font-size="9.4" text-anchor="end" font-weight="normal" font-style="normal" fill="#111" letter-spacing="0.35">8×10<tspan font-size="5.6" dy="-3.6">4</tspan></text>
<line x1="56.1" y1="182.9" x2="58.4" y2="182.9" stroke="#222" stroke-width="0.8" />
<text x="56.0" y="186.20000000000002" font-size="9.4" text-anchor="end" font-weight="normal" font-style="normal" fill="#111" letter-spacing="0.35">1×10<tspan font-size="5.6" dy="-3.6">5</tspan></text>
<rect x="60.89999999999999" y="246.1" width="9.4" height="1.200000000000017" fill="#000" stroke="#1a1a1a" stroke-width="0.8" />
<line x1="65.6" y1="245.1" x2="65.6" y2="246.1" stroke="#1a1a1a" stroke-width="0.8" />
<line x1="63.39999999999999" y1="245.1" x2="67.8" y2="245.1" stroke="#1a1a1a" stroke-width="0.8" />
<line x1="65.6" y1="247.3" x2="65.6" y2="249.5" stroke="#222" stroke-width="0.8" />
<rect x="73.2" y="246.4" width="9.4" height="0.9000000000000057" fill="#000" stroke="#1a1a1a" stroke-width="0.8" />
<line x1="77.9" y1="245.7" x2="77.9" y2="246.4" stroke="#1a1a1a" stroke-width="0.8" />
<line x1="75.7" y1="245.7" x2="80.10000000000001" y2="245.7" stroke="#1a1a1a" stroke-width="0.8" />
<line x1="77.9" y1="247.3" x2="77.9" y2="249.5" stroke="#222" stroke-width="0.8" />
<rect x="85.6" y="245.9" width="9.4" height="1.4000000000000057" fill="#000" stroke="#1a1a1a" stroke-width="0.8" />
<line x1="90.3" y1="244.6" x2="90.3" y2="245.9" stroke="#1a1a1a" stroke-width="0.8" />
<line x1="88.1" y1="244.6" x2="92.5" y2="244.6" stroke="#1a1a1a" stroke-width="0.8" />
<line x1="90.3" y1="247.3" x2="90.3" y2="249.5" stroke="#222" stroke-width="0.8" />
<rect x="98.0" y="246.1" width="9.4" height="1.200000000000017" fill="#000" stroke="#1a1a1a" stroke-width="0.8" />
<line x1="102.7" y1="245.0" x2="102.7" y2="246.1" stroke="#1a1a1a" stroke-width="0.8" />
<line x1="100.5" y1="245.0" x2="104.9" y2="245.0" stroke="#1a1a1a" stroke-width="0.8" />
<line x1="102.7" y1="247.3" x2="102.7" y2="249.5" stroke="#222" stroke-width="0.8" />
<rect x="110.89999999999999" y="224.8" width="9.4" height="22.5" fill="#000" stroke="#1a1a1a" stroke-width="0.8" />
<line x1="115.6" y1="201.4" x2="115.6" y2="224.8" stroke="#1a1a1a" stroke-width="0.8" />
<line x1="113.39999999999999" y1="201.4" x2="117.8" y2="201.4" stroke="#1a1a1a" stroke-width="0.8" />
<line x1="115.6" y1="247.3" x2="115.6" y2="249.5" stroke="#222" stroke-width="0.8" />
<line x1="78.1" y1="196.2" x2="115.9" y2="196.2" stroke="#333" stroke-width="0.9" />
<text x="97" y="194" font-size="6.4" text-anchor="middle" font-weight="normal" font-style="normal" fill="#111" >ns</text>
<text x="0" y="0" font-size="9.4" text-anchor="end" font-weight="normal" font-style="normal" fill="#111" transform="translate(69.5,258.1) rotate(-45)">0</text>
<text x="0" y="0" font-size="9.4" text-anchor="end" font-weight="normal" font-style="normal" fill="#111" transform="translate(81.80000000000001,258.1) rotate(-45)">PBS</text>
<text x="0" y="0" font-size="9.4" text-anchor="end" font-weight="normal" font-style="normal" fill="#111" transform="translate(94.2,258.1) rotate(-45)">1</text>
<text x="0" y="0" font-size="9.4" text-anchor="end" font-weight="normal" font-style="normal" fill="#111" transform="translate(106.60000000000001,258.1) rotate(-45)">3</text>
<text x="0" y="0" font-size="9.4" text-anchor="end" font-weight="normal" font-style="normal" fill="#111" transform="translate(119.5,258.1) rotate(-45)">6</text>
<text x="0" y="0" font-size="9.2" text-anchor="middle" font-weight="normal" font-style="normal" fill="#111" transform="translate(21.1,213.75) rotate(-90)"># SiglecF<tspan font-size="5.4" dy="-3.2">+</tspan><tspan dy="3.2"> per ear</tspan></text>
<line x1="179.8" y1="183.2" x2="243.6" y2="183.2" stroke="#9a9a9a" stroke-width="0.8" />
<line x1="243.6" y1="183.2" x2="243.6" y2="247.3" stroke="#9a9a9a" stroke-width="0.8" />
<line x1="179.8" y1="182.79999999999998" x2="179.8" y2="247.3" stroke="#222" stroke-width="0.9" />
<line x1="179.4" y1="247.3" x2="243.6" y2="247.3" stroke="#222" stroke-width="0.9" />
<line x1="177.5" y1="247.3" x2="179.8" y2="247.3" stroke="#222" stroke-width="0.8" />
<text x="177.4" y="250.60000000000002" font-size="9.4" text-anchor="end" font-weight="normal" font-style="normal" fill="#111" letter-spacing="0.35">0</text>
<line x1="177.5" y1="234.48000000000002" x2="179.8" y2="234.48000000000002" stroke="#222" stroke-width="0.8" />
<text x="177.4" y="237.78000000000003" font-size="9.4" text-anchor="end" font-weight="normal" font-style="normal" fill="#111" letter-spacing="0.35">2×10<tspan font-size="5.6" dy="-3.6">4</tspan></text>
<line x1="177.5" y1="221.66" x2="179.8" y2="221.66" stroke="#222" stroke-width="0.8" />
<text x="177.4" y="224.96" font-size="9.4" text-anchor="end" font-weight="normal" font-style="normal" fill="#111" letter-spacing="0.35">4×10<tspan font-size="5.6" dy="-3.6">4</tspan></text>
<line x1="177.5" y1="208.84" x2="179.8" y2="208.84" stroke="#222" stroke-width="0.8" />
<text x="177.4" y="212.14000000000001" font-size="9.4" text-anchor="end" font-weight="normal" font-style="normal" fill="#111" letter-spacing="0.35">6×10<tspan font-size="5.6" dy="-3.6">4</tspan></text>
<line x1="177.5" y1="196.01999999999998" x2="179.8" y2="196.01999999999998" stroke="#222" stroke-width="0.8" />
<text x="177.4" y="199.32" font-size="9.4" text-anchor="end" font-weight="normal" font-style="normal" fill="#111" letter-spacing="0.35">8×10<tspan font-size="5.6" dy="-3.6">4</tspan></text>
<line x1="177.5" y1="183.2" x2="179.8" y2="183.2" stroke="#222" stroke-width="0.8" />
<text x="177.4" y="186.5" font-size="9.4" text-anchor="end" font-weight="normal" font-style="normal" fill="#111" letter-spacing="0.35">1×10<tspan font-size="5.6" dy="-3.6">5</tspan></text>
<rect x="181.8" y="246.2" width="9.4" height="1.1000000000000227" fill="#a2a2a2" stroke="#1a1a1a" stroke-width="0.8" />
<line x1="186.5" y1="245.3" x2="186.5" y2="246.2" stroke="#1a1a1a" stroke-width="0.8" />
<line x1="184.3" y1="245.3" x2="188.7" y2="245.3" stroke="#1a1a1a" stroke-width="0.8" />
<line x1="186.5" y1="247.3" x2="186.5" y2="249.5" stroke="#222" stroke-width="0.8" />
<rect x="194.60000000000002" y="246.4" width="9.4" height="0.9000000000000057" fill="#a2a2a2" stroke="#1a1a1a" stroke-width="0.8" />
<line x1="199.3" y1="245.8" x2="199.3" y2="246.4" stroke="#1a1a1a" stroke-width="0.8" />
<line x1="197.10000000000002" y1="245.8" x2="201.5" y2="245.8" stroke="#1a1a1a" stroke-width="0.8" />
<line x1="199.3" y1="247.3" x2="199.3" y2="249.5" stroke="#222" stroke-width="0.8" />
<rect x="207.20000000000002" y="246.0" width="9.4" height="1.3000000000000114" fill="#a2a2a2" stroke="#1a1a1a" stroke-width="0.8" />
<line x1="211.9" y1="244.6" x2="211.9" y2="246.0" stroke="#1a1a1a" stroke-width="0.8" />
<line x1="209.70000000000002" y1="244.6" x2="214.1" y2="244.6" stroke="#1a1a1a" stroke-width="0.8" />
<line x1="211.9" y1="247.3" x2="211.9" y2="249.5" stroke="#222" stroke-width="0.8" />
<rect x="219.8" y="246.1" width="9.4" height="1.200000000000017" fill="#a2a2a2" stroke="#1a1a1a" stroke-width="0.8" />
<line x1="224.5" y1="245.0" x2="224.5" y2="246.1" stroke="#1a1a1a" stroke-width="0.8" />
<line x1="222.3" y1="245.0" x2="226.7" y2="245.0" stroke="#1a1a1a" stroke-width="0.8" />
<line x1="224.5" y1="247.3" x2="224.5" y2="249.5" stroke="#222" stroke-width="0.8" />
<rect x="232.3" y="230.3" width="9.4" height="17.0" fill="#a2a2a2" stroke="#1a1a1a" stroke-width="0.8" />
<line x1="237.0" y1="211.2" x2="237.0" y2="230.3" stroke="#1a1a1a" stroke-width="0.8" />
<line x1="234.8" y1="211.2" x2="239.2" y2="211.2" stroke="#1a1a1a" stroke-width="0.8" />
<line x1="237.0" y1="247.3" x2="237.0" y2="249.5" stroke="#222" stroke-width="0.8" />
<line x1="200" y1="207" x2="236" y2="207" stroke="#888" stroke-width="0.9" />
<text x="217.6" y="203.3" font-size="6.4" text-anchor="middle" font-weight="normal" font-style="normal" fill="#111" >ns</text>
<text x="0" y="0" font-size="9.4" text-anchor="end" font-weight="normal" font-style="normal" fill="#111" transform="translate(190.4,258.1) rotate(-45)">0</text>
<text x="0" y="0" font-size="9.4" text-anchor="end" font-weight="normal" font-style="normal" fill="#111" transform="translate(203.20000000000002,258.1) rotate(-45)">PBS</text>
<text x="0" y="0" font-size="9.4" text-anchor="end" font-weight="normal" font-style="normal" fill="#111" transform="translate(215.8,258.1) rotate(-45)">1</text>
<text x="0" y="0" font-size="9.4" text-anchor="end" font-weight="normal" font-style="normal" fill="#111" transform="translate(228.4,258.1) rotate(-45)">3</text>
<text x="0" y="0" font-size="9.4" text-anchor="end" font-weight="normal" font-style="normal" fill="#111" transform="translate(240.9,258.1) rotate(-45)">6</text>
<text x="0" y="0" font-size="9.2" text-anchor="middle" font-weight="normal" font-style="normal" fill="#111" transform="translate(142.5,210.4) rotate(-90)"># IL-4<tspan font-size="5.4" dy="-3.2">+</tspan><tspan dy="3.2"> SiglecF</tspan><tspan font-size="5.4" dy="-3.2">+</tspan><tspan dy="3.2"> per ear</tspan></text>
<line x1="306.4" y1="183" x2="370.6" y2="183" stroke="#9a9a9a" stroke-width="0.8" />
<line x1="370.6" y1="183" x2="370.6" y2="247.5" stroke="#9a9a9a" stroke-width="0.8" />
<line x1="306.4" y1="182.6" x2="306.4" y2="247.5" stroke="#222" stroke-width="0.9" />
<line x1="306.0" y1="247.5" x2="370.6" y2="247.5" stroke="#222" stroke-width="0.9" />
<line x1="304.09999999999997" y1="247.5" x2="306.4" y2="247.5" stroke="#222" stroke-width="0.8" />
<text x="304.0" y="250.8" font-size="9.4" text-anchor="end" font-weight="normal" font-style="normal" fill="#111" letter-spacing="0.35">0</text>
<line x1="304.09999999999997" y1="226" x2="306.4" y2="226" stroke="#222" stroke-width="0.8" />
<text x="304.0" y="229.3" font-size="9.4" text-anchor="end" font-weight="normal" font-style="normal" fill="#111" letter-spacing="0.35">5×10<tspan font-size="5.6" dy="-3.6">3</tspan></text>
<line x1="304.09999999999997" y1="204.5" x2="306.4" y2="204.5" stroke="#222" stroke-width="0.8" />
<text x="304.0" y="207.8" font-size="9.4" text-anchor="end" font-weight="normal" font-style="normal" fill="#111" letter-spacing="0.35">1×10<tspan font-size="5.6" dy="-3.6">4</tspan></text>
<line x1="304.09999999999997" y1="183" x2="306.4" y2="183" stroke="#222" stroke-width="0.8" />
<text x="304.0" y="186.3" font-size="9.4" text-anchor="end" font-weight="normal" font-style="normal" fill="#111" letter-spacing="0.35">1.5×10<tspan font-size="5.6" dy="-3.6">4</tspan></text>
<rect x="309.2" y="238" width="9.4" height="9.5" fill="#828282" stroke="#1a1a1a" stroke-width="0.8" />
<line x1="313.9" y1="232.2" x2="313.9" y2="238" stroke="#1a1a1a" stroke-width="0.8" />
<line x1="311.7" y1="232.2" x2="316.09999999999997" y2="232.2" stroke="#1a1a1a" stroke-width="0.8" />
<line x1="313.9" y1="247.5" x2="313.9" y2="249.7" stroke="#222" stroke-width="0.8" />
<rect x="321.40000000000003" y="243.1" width="9.4" height="4.400000000000006" fill="#828282" stroke="#1a1a1a" stroke-width="0.8" />
<line x1="326.1" y1="239.3" x2="326.1" y2="243.1" stroke="#1a1a1a" stroke-width="0.8" />
<line x1="323.90000000000003" y1="239.3" x2="328.3" y2="239.3" stroke="#1a1a1a" stroke-width="0.8" />
<line x1="326.1" y1="247.5" x2="326.1" y2="249.7" stroke="#222" stroke-width="0.8" />
<rect x="333.90000000000003" y="239.3" width="9.4" height="8.199999999999989" fill="#828282" stroke="#1a1a1a" stroke-width="0.8" />
<line x1="338.6" y1="227.5" x2="338.6" y2="239.3" stroke="#1a1a1a" stroke-width="0.8" />
<line x1="336.40000000000003" y1="227.5" x2="340.8" y2="227.5" stroke="#1a1a1a" stroke-width="0.8" />
<line x1="338.6" y1="247.5" x2="338.6" y2="249.7" stroke="#222" stroke-width="0.8" />
<rect x="346.2" y="243" width="9.4" height="4.5" fill="#828282" stroke="#1a1a1a" stroke-width="0.8" />
<line x1="350.9" y1="236.5" x2="350.9" y2="243" stroke="#1a1a1a" stroke-width="0.8" />
<line x1="348.7" y1="236.5" x2="353.09999999999997" y2="236.5" stroke="#1a1a1a" stroke-width="0.8" />
<line x1="350.9" y1="247.5" x2="350.9" y2="249.7" stroke="#222" stroke-width="0.8" />
<rect x="358.40000000000003" y="228" width="9.4" height="19.5" fill="#828282" stroke="#1a1a1a" stroke-width="0.8" />
<line x1="363.1" y1="205.4" x2="363.1" y2="228" stroke="#1a1a1a" stroke-width="0.8" />
<line x1="360.90000000000003" y1="205.4" x2="365.3" y2="205.4" stroke="#1a1a1a" stroke-width="0.8" />
<line x1="363.1" y1="247.5" x2="363.1" y2="249.7" stroke="#222" stroke-width="0.8" />
<line x1="326" y1="199.8" x2="363.3" y2="199.8" stroke="#2a2a2a" stroke-width="0.9" />
<text x="344.4" y="197.3" font-size="6.4" text-anchor="middle" font-weight="normal" font-style="normal" fill="#111" >ns</text>
<text x="0" y="0" font-size="9.4" text-anchor="end" font-weight="normal" font-style="normal" fill="#111" transform="translate(317.79999999999995,258.3) rotate(-45)">0</text>
<text x="0" y="0" font-size="9.4" text-anchor="end" font-weight="normal" font-style="normal" fill="#111" transform="translate(330.0,258.3) rotate(-45)">PBS</text>
<text x="0" y="0" font-size="9.4" text-anchor="end" font-weight="normal" font-style="normal" fill="#111" transform="translate(342.5,258.3) rotate(-45)">1</text>
<text x="0" y="0" font-size="9.4" text-anchor="end" font-weight="normal" font-style="normal" fill="#111" transform="translate(354.79999999999995,258.3) rotate(-45)">3</text>
<text x="0" y="0" font-size="9.4" text-anchor="end" font-weight="normal" font-style="normal" fill="#111" transform="translate(367.0,258.3) rotate(-45)">6</text>
<text x="0" y="0" font-size="9.2" text-anchor="middle" font-weight="normal" font-style="normal" fill="#111" transform="translate(264,210.6) rotate(-90)"># IL-4<tspan font-size="5.4" dy="-3.2">+</tspan><tspan dy="3.2"> SiglecF</tspan><tspan font-size="5.4" dy="-3.2">-</tspan><tspan dy="3.2"> per ear</tspan></text>
<text x="5.3" y="168.7" font-size="11" text-anchor="start" font-weight="bold" font-style="normal" fill="#000" >B</text>
<text x="176.2" y="281" font-size="9" text-anchor="start" font-weight="normal" font-style="normal" fill="#111" >Days post infection</text>
</svg>
</body></html>
